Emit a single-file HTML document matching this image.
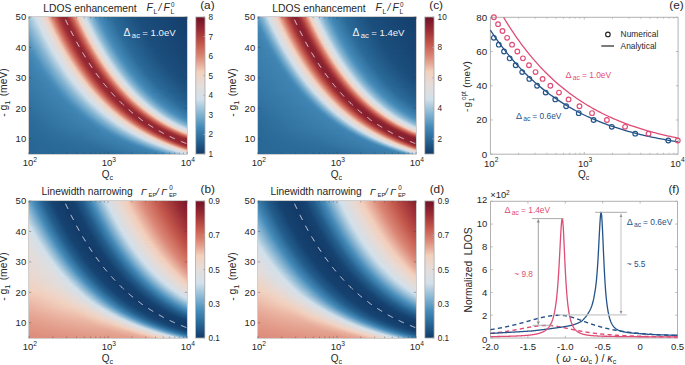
<!DOCTYPE html><html><head><meta charset="utf-8"><style>
*{margin:0;padding:0;box-sizing:border-box}
body{width:685px;height:365px;background:#fff;position:relative;overflow:hidden;font-family:"Liberation Sans",sans-serif;color:#222}
.hm{position:absolute;width:158px;height:137px;display:flex;flex-direction:column}
.hm i{display:block;height:1px;width:158px}
.cb{position:absolute}
.t{position:absolute;white-space:nowrap;line-height:1}
svg{position:absolute;left:0;top:0;font-family:"Liberation Sans",sans-serif}
</style></head><body><div class="hm" style="left:29px;top:17px"><i style="background:linear-gradient(90deg,#9fc4db 0.0%,#d1e0eb 4.1%,#e5dcd9 8.5%,#f1d2c1 11.1%,#f1cab8 11.7%,#d67c6d 14.9%,#c3554a 16.8%,#9f3037 19.3%,#912631 21.2%,#922632 23.1%,#9c2d35 24.4%,#c3564a 26.9%,#db8675 28.8%,#efc4b2 30.7%,#f1d2c1 31.3%,#e4dddb 33.2%,#d1dfeb 35.8%,#8cb9d5 38.9%,#5696c0 42.7%,#4489b8 44.6%,#2a6a99 52.8%,#1c4e7d 68.0%,#15416f 93.4%,#15406e 100.0%)"></i><i style="background:linear-gradient(90deg,#9cc2da 0.0%,#d3e0ea 4.7%,#e6dbd6 9.2%,#f3d0be 11.7%,#d98372 14.9%,#c75b4d 16.8%,#a23439 19.3%,#922732 21.2%,#912631 23.1%,#a03137 25.0%,#c85e50 27.5%,#df8f7e 29.4%,#f3d0bd 31.3%,#e1dede 33.9%,#d4e0ea 35.8%,#86b6d3 39.6%,#5294bf 43.4%,#4288b6 45.3%,#296998 53.5%,#1b4e7d 68.7%,#15416f 94.6%,#15406e 100.0%)"></i><i style="background:linear-gradient(90deg,#99c0d9 0.0%,#d2e0eb 4.7%,#e5dcd9 9.2%,#f1d2c1 11.7%,#f1c9b6 12.3%,#d67b6c 15.5%,#c2544a 17.4%,#9f3036 19.9%,#912631 21.8%,#922732 23.7%,#9d2e35 25.0%,#c4574b 27.5%,#db8776 29.4%,#f0c6b3 31.3%,#f1d2c2 32.0%,#e3dddc 33.9%,#d0dfea 36.4%,#8bb9d4 39.6%,#5596c0 43.4%,#4489b7 45.3%,#2a6a99 53.5%,#1c4e7d 68.7%,#15416f 94.0%,#15406e 100.0%)"></i><i style="background:linear-gradient(90deg,#95bed8 0.0%,#d3e0ea 5.4%,#e7dbd6 9.8%,#f3d0bd 12.3%,#d98171 15.5%,#c6594c 17.4%,#a23338 19.9%,#922732 21.8%,#912631 23.7%,#a13237 25.6%,#bf5148 27.5%,#d06f60 28.8%,#df9180 30.1%,#f3d0be 32.0%,#e1dede 34.5%,#d3e0ea 36.4%,#86b5d2 40.2%,#5193be 44.0%,#4287b6 45.9%,#296998 54.1%,#1b4e7d 69.3%,#15416f 95.3%,#15406e 100.0%)"></i><i style="background:linear-gradient(90deg,#92bcd7 0.0%,#d2e0eb 5.4%,#e5dcd8 9.8%,#f1d1c0 12.3%,#f0c8b5 13.0%,#d57a6b 16.1%,#c15449 18.0%,#9e2f36 20.6%,#912631 22.5%,#922732 24.4%,#9d2e36 25.6%,#c5584b 28.2%,#dc8878 30.1%,#f0c7b5 32.0%,#f0d2c3 32.6%,#e3dddc 34.5%,#cfdeea 37.0%,#8bb8d4 40.2%,#5596c0 44.0%,#4489b7 45.9%,#2a6a99 54.1%,#1c4e7d 69.3%,#15416f 94.6%,#15406e 100.0%)"></i><i style="background:linear-gradient(90deg,#8fbbd6 0.0%,#d3e0ea 6.0%,#e7dbd5 10.4%,#f3cfbc 13.0%,#d88070 16.1%,#c6594c 18.0%,#a13338 20.6%,#922632 22.5%,#912631 24.4%,#a13238 26.3%,#bf5248 28.2%,#d17061 29.4%,#e09281 30.7%,#f2d1be 32.6%,#e0dede 35.1%,#d3e0ea 37.0%,#85b5d2 40.8%,#5193be 44.6%,#4287b5 46.5%,#296998 54.7%,#1b4e7d 69.9%,#15416f 95.9%,#15406e 100.0%)"></i><i style="background:linear-gradient(90deg,#8bb9d4 0.0%,#d2e0eb 6.0%,#e6dcd8 10.4%,#f2d1c0 13.0%,#ebb7a5 14.2%,#d5796a 16.8%,#c05349 18.7%,#9e2f36 21.2%,#912631 23.1%,#932732 25.0%,#9d2f36 26.3%,#c6594c 28.8%,#dc8978 30.7%,#f1c9b6 32.6%,#f0d3c3 33.2%,#e3dddc 35.1%,#cedeea 37.7%,#8ab8d4 40.8%,#5595c0 44.6%,#4389b7 46.5%,#2a6a99 54.7%,#1c4f7d 69.9%,#15416f 95.3%,#15406f 100.0%)"></i><i style="background:linear-gradient(90deg,#88b7d3 0.0%,#cfdeea 6.0%,#e4ddda 10.4%,#f2cebb 13.6%,#d88070 16.8%,#c5584b 18.7%,#a13238 21.2%,#922632 23.1%,#912631 25.0%,#a13338 26.9%,#c05349 28.8%,#d17162 30.1%,#e09382 31.3%,#f2d1bf 33.2%,#e0dede 35.8%,#d3e0ea 37.7%,#85b5d2 41.5%,#5193be 45.3%,#4287b5 47.2%,#296998 55.4%,#1b4e7d 70.6%,#15416f 96.5%,#15406f 100.0%)"></i><i style="background:linear-gradient(90deg,#85b5d2 0.0%,#d2e0eb 6.6%,#e6dcd8 11.1%,#f2d1bf 13.6%,#ebb6a4 14.9%,#d57869 17.4%,#c05248 19.3%,#9d2e36 21.8%,#912631 23.7%,#932732 25.6%,#9e2f36 26.9%,#c6594c 29.4%,#dc8a79 31.3%,#f1c9b7 33.2%,#ebd7cc 34.5%,#dedee1 36.4%,#cdddea 38.3%,#8ab8d4 41.5%,#5495c0 45.3%,#4389b7 47.2%,#2a6a99 55.4%,#1c4f7d 70.6%,#15416f 95.9%,#15416f 100.0%)"></i><i style="background:linear-gradient(90deg,#82b3d1 0.0%,#c7dae7 6.0%,#d4e0e9 7.3%,#e7dad5 11.7%,#f2cdba 14.2%,#d77f6f 17.4%,#c4574b 19.3%,#a13237 21.8%,#922632 23.7%,#912631 25.6%,#a23338 27.5%,#c05349 29.4%,#d98271 31.3%,#f2d1bf 33.9%,#e0dedf 36.4%,#d3e0ea 38.3%,#85b4d2 42.1%,#5193be 45.9%,#4287b5 47.8%,#296998 56.0%,#1b4e7d 71.2%,#15416f 97.2%,#15416f 100.0%)"></i><i style="background:linear-gradient(90deg,#7fb1d0 0.0%,#c2d7e6 6.0%,#d3e0ea 7.3%,#e6dbd7 11.7%,#f2d1bf 14.2%,#e6a593 16.1%,#ce6b5c 18.7%,#bf5248 19.9%,#9d2e36 22.5%,#912631 24.4%,#932732 26.3%,#a6383b 28.2%,#c65a4c 30.1%,#dd8a79 32.0%,#f1cab7 33.9%,#ebd7cd 35.1%,#dedee1 37.0%,#cddde9 38.9%,#8ab8d4 42.1%,#5495bf 45.9%,#4389b7 47.8%,#2a6a99 56.0%,#1c4f7d 71.2%,#15416f 96.5%,#15416f 100.0%)"></i><i style="background:linear-gradient(90deg,#7cafcf 0.0%,#bed5e5 6.0%,#d0dfea 7.3%,#e4ddda 11.7%,#f2cdba 14.9%,#d77e6f 18.0%,#c4574b 19.9%,#a03237 22.5%,#922632 24.4%,#912632 26.3%,#a23338 28.2%,#c05349 30.1%,#d98272 32.0%,#f2d1bf 34.5%,#e0dedf 37.0%,#d3e0ea 38.9%,#84b4d2 42.7%,#5193be 46.5%,#4287b5 48.4%,#296998 56.6%,#1b4e7d 71.8%,#15416f 97.8%,#15416f 100.0%)"></i><i style="background:linear-gradient(90deg,#79adce 0.0%,#bad3e3 6.0%,#d3e0ea 7.9%,#e6dbd7 12.3%,#f2d1bf 14.9%,#e5a593 16.8%,#ce6a5c 19.3%,#bf5248 20.6%,#9d2e36 23.1%,#902531 25.0%,#932732 26.9%,#a6383b 28.8%,#c65a4d 30.7%,#dd8a7a 32.6%,#f1cab7 34.5%,#ebd7cd 35.8%,#dedee1 37.7%,#cddde9 39.6%,#8ab8d4 42.7%,#5495bf 46.5%,#4389b7 48.4%,#2a6a99 56.6%,#1c4f7d 71.8%,#15416f 97.2%,#15416f 100.0%)"></i><i style="background:linear-gradient(90deg,#76abcc 0.0%,#b6d0e2 6.0%,#d0dfea 7.9%,#e5ddda 12.3%,#f2ccba 15.5%,#d77e6e 18.7%,#c4574b 20.6%,#a03137 23.1%,#912632 25.0%,#912632 26.9%,#a23338 28.8%,#c15349 30.7%,#d98272 32.6%,#f2d1bf 35.1%,#e0dedf 37.7%,#d3e0ea 39.6%,#84b4d2 43.4%,#5193be 47.2%,#4287b5 49.1%,#296998 57.3%,#1b4e7d 72.5%,#15416f 98.4%,#15416f 100.0%)"></i><i style="background:linear-gradient(90deg,#73a9cb 0.0%,#b2cee1 6.0%,#d3e0ea 8.5%,#e6dbd7 13.0%,#f2d1bf 15.5%,#e5a493 17.4%,#ce6a5c 19.9%,#bf5148 21.2%,#9d2e35 23.7%,#902531 25.6%,#932732 27.5%,#a6383b 29.4%,#c65a4d 31.3%,#dd8a7a 33.2%,#f1cab7 35.1%,#ebd7cd 36.4%,#dedee1 38.3%,#cddde9 40.2%,#8ab8d4 43.4%,#5495c0 47.2%,#4389b7 49.1%,#2a6a99 57.3%,#1c4f7d 72.5%,#154170 97.8%,#15416f 100.0%)"></i><i style="background:linear-gradient(90deg,#70a7ca 0.0%,#aeccdf 6.0%,#d0dfea 8.5%,#e5ddda 13.0%,#f2ccb9 16.1%,#d77e6e 19.3%,#c4574b 21.2%,#a03137 23.7%,#912632 25.6%,#912632 27.5%,#a23338 29.4%,#c05349 31.3%,#d98272 33.2%,#f2d1bf 35.8%,#e0dedf 38.3%,#d3e0ea 40.2%,#85b5d2 44.0%,#5193be 47.8%,#4287b5 49.7%,#296998 57.9%,#1b4e7d 73.1%,#15416f 99.1%,#15416f 100.0%)"></i><i style="background:linear-gradient(90deg,#6da5c9 0.0%,#aacade 6.0%,#d3e0ea 9.2%,#e6dbd7 13.6%,#f2d1bf 16.1%,#e5a493 18.0%,#ce6a5c 20.6%,#bf5148 21.8%,#9d2e35 24.4%,#902531 26.3%,#932732 28.2%,#a6383b 30.1%,#c6594c 32.0%,#dd8a79 33.9%,#f1cab7 35.8%,#ebd7cc 37.0%,#dedee1 38.9%,#cedeea 40.8%,#8ab8d4 44.0%,#5596c0 47.8%,#4489b7 49.7%,#2a6a99 57.9%,#1c4f7d 73.1%,#154170 98.4%,#15416f 100.0%)"></i><i style="background:linear-gradient(90deg,#6aa3c8 0.0%,#a6c8dd 6.0%,#d0dfea 9.2%,#e5ddda 13.6%,#f2ccba 16.8%,#d77e6e 19.9%,#c4574b 21.8%,#a03137 24.4%,#922632 26.3%,#912631 28.2%,#a23338 30.1%,#c05349 32.0%,#d98171 33.9%,#f2d1bf 36.4%,#e0dede 38.9%,#d3e0ea 40.8%,#85b5d2 44.6%,#5193be 48.4%,#4287b6 50.3%,#296998 58.5%,#1c4e7d 73.7%,#154170 99.1%,#15416f 100.0%)"></i><i style="background:linear-gradient(90deg,#67a2c7 0.0%,#aacade 6.6%,#d3e0ea 9.8%,#e6dbd7 14.2%,#f2d1bf 16.8%,#e5a593 18.7%,#ce6a5c 21.2%,#bf5248 22.5%,#9d2e36 25.0%,#902631 26.9%,#932732 28.8%,#9e2f36 30.1%,#c6594c 32.6%,#dc8a79 34.5%,#f1c9b6 36.4%,#ebd7cc 37.7%,#dedee0 39.6%,#cedeea 41.5%,#8bb8d4 44.6%,#5596c0 48.4%,#4489b7 50.3%,#2a6a99 58.5%,#1c4f7d 73.7%,#154270 99.1%,#154170 100.0%)"></i><i style="background:linear-gradient(90deg,#64a0c6 0.0%,#a6c7dd 6.6%,#d0dfea 9.8%,#e4ddda 14.2%,#f2cdba 17.4%,#d77e6f 20.6%,#c4574b 22.5%,#a03237 25.0%,#922632 26.9%,#912631 28.8%,#a13338 30.7%,#c05249 32.6%,#d17062 33.9%,#e09382 35.1%,#f2d1be 37.0%,#e0dede 39.6%,#d3e0ea 41.5%,#86b5d2 45.3%,#5294be 49.1%,#4288b6 50.9%,#2a6998 59.2%,#1c4f7d 74.4%,#154270 100.0%)"></i><i style="background:linear-gradient(90deg,#629ec5 0.0%,#a2c5dc 6.6%,#d3e0ea 10.4%,#e6dbd7 14.9%,#f2d1bf 17.4%,#ebb6a3 18.7%,#d47869 21.2%,#c85d50 22.5%,#9d2e36 25.6%,#912631 27.5%,#932732 29.4%,#9d2e36 30.7%,#c5584c 33.2%,#dc8978 35.1%,#f0c8b5 37.0%,#f0d2c3 37.7%,#e3dddc 39.6%,#cfdeea 42.1%,#8bb9d4 45.3%,#5696c0 49.1%,#448ab8 50.9%,#2a6a99 59.2%,#1c4f7d 74.4%,#164270 100.0%)"></i><i style="background:linear-gradient(90deg,#5f9cc3 0.0%,#9ec3da 6.6%,#cfdfea 10.4%,#e4ddda 14.9%,#f2cdba 18.0%,#d87f6f 21.2%,#c5574b 23.1%,#a13238 25.6%,#922632 27.5%,#912631 29.4%,#a13238 31.3%,#bf5248 33.2%,#d06f61 34.5%,#df9280 35.8%,#f3d0be 37.7%,#e1dede 40.2%,#d3e0ea 42.1%,#86b6d3 45.9%,#5294bf 49.7%,#4388b6 51.6%,#2a6998 59.8%,#1c4f7d 75.0%,#164270 100.0%)"></i><i style="background:linear-gradient(90deg,#5c9ac2 0.0%,#9ac1d9 6.6%,#d2e0eb 11.1%,#e6dcd8 15.5%,#f2d1bf 18.0%,#ebb6a4 19.3%,#d57969 21.8%,#c05249 23.7%,#9d2f36 26.3%,#912631 28.2%,#922732 30.1%,#9d2e36 31.3%,#c5584b 33.9%,#dc8877 35.8%,#f0c6b4 37.7%,#f0d2c2 38.3%,#e3dddc 40.2%,#d0dfea 42.7%,#8cb9d5 45.9%,#5696c0 49.7%,#448ab8 51.6%,#2a6a99 59.8%,#1c4f7e 75.0%,#164270 100.0%)"></i><i style="background:linear-gradient(90deg,#5999c1 0.0%,#96bfd8 6.6%,#cfdeea 11.1%,#e4dddb 15.5%,#f2cebb 18.7%,#d88070 21.8%,#c5584c 23.7%,#a13238 26.3%,#922632 28.2%,#912631 30.1%,#a03237 32.0%,#c85e51 34.5%,#df907f 36.4%,#f3d0bd 38.3%,#e1ddde 40.8%,#d4e0e9 42.7%,#87b6d3 46.5%,#5394bf 50.3%,#4388b6 52.2%,#2a6a99 60.4%,#1c4f7d 75.6%,#164270 100.0%)"></i><i style="background:linear-gradient(90deg,#5797c0 0.0%,#9ac1d9 7.3%,#d2e0eb 11.7%,#e5dcd8 16.1%,#f2d1c0 18.7%,#ebb7a5 19.9%,#d5796a 22.5%,#c05349 24.4%,#9e2f36 26.9%,#912631 28.8%,#922732 30.7%,#9c2d35 32.0%,#c4574b 34.5%,#db8676 36.4%,#efc5b2 38.3%,#f1d2c1 38.9%,#e4dddb 40.8%,#d2e0eb 43.4%,#8dbad5 46.5%,#5797c0 50.3%,#458ab8 52.2%,#2b6b99 60.4%,#1c4f7e 75.6%,#164270 100.0%)"></i><i style="background:linear-gradient(90deg,#5495bf 0.0%,#96bfd8 7.3%,#d3e0ea 12.3%,#e7dbd5 16.8%,#f3cfbc 19.3%,#d88171 22.5%,#c6594c 24.4%,#a23338 26.9%,#922632 28.8%,#912631 30.7%,#a03137 32.6%,#c85d50 35.1%,#de8e7d 37.0%,#f2cebb 38.9%,#e2dddd 41.5%,#d4e0e9 43.4%,#bcd4e4 44.6%,#7eb0cf 47.8%,#4d90bd 51.6%,#3e82b1 54.1%,#256493 63.6%,#1a4c7a 79.4%,#164270 100.0%)"></i><i style="background:linear-gradient(90deg,#5193be 0.0%,#92bcd7 7.3%,#d2e0eb 12.3%,#e5dcd8 16.8%,#f1d1c0 19.3%,#f1c8b5 19.9%,#d57b6b 23.1%,#c15449 25.0%,#9e2f36 27.5%,#912631 29.4%,#922632 31.3%,#9c2d35 32.6%,#c3554a 35.1%,#da8574 37.0%,#efc3b0 38.9%,#f1d1c0 39.6%,#e4dddb 41.5%,#d2e0eb 44.0%,#8fbbd6 47.2%,#5898c1 50.9%,#458bb9 52.8%,#2b6b9a 61.1%,#1c4f7e 76.3%,#164270 100.0%)"></i><i style="background:linear-gradient(90deg,#4f92bd 0.0%,#8ebad5 7.3%,#d3e0ea 13.0%,#e7dbd6 17.4%,#f3d0bd 19.9%,#d98272 23.1%,#c65a4d 25.0%,#a23338 27.5%,#922732 29.4%,#902531 31.3%,#9f3037 33.2%,#c75b4e 35.8%,#de8c7b 37.7%,#f2ccb9 39.6%,#e2dddd 42.1%,#cddde9 44.6%,#8ab8d4 47.8%,#5595c0 51.6%,#4489b7 53.5%,#2a6a99 61.7%,#1c4f7e 76.9%,#164271 100.0%)"></i><i style="background:linear-gradient(90deg,#4c90bc 0.0%,#8ab8d4 7.3%,#d2e0eb 13.0%,#e5dcd9 17.4%,#f1d2c1 19.9%,#f1cab7 20.6%,#d67c6c 23.7%,#c2554a 25.6%,#9f3037 28.2%,#912631 30.1%,#912632 32.0%,#a23439 33.9%,#c15449 35.8%,#d98372 37.7%,#f2d1bf 40.2%,#e0dedf 42.7%,#d3e0ea 44.6%,#85b5d2 48.4%,#5294be 52.2%,#4288b6 54.1%,#2a6998 62.3%,#1c4f7d 77.5%,#164371 100.0%)"></i><i style="background:linear-gradient(90deg,#4a8fbc 0.0%,#80b2d0 6.6%,#c4d8e6 12.3%,#d3e0ea 13.6%,#e6dbd7 18.0%,#f3d0be 20.6%,#da8373 23.7%,#c75b4e 25.6%,#9c2d35 28.8%,#902531 30.7%,#932732 32.6%,#a6383b 34.5%,#c6594c 36.4%,#dd8a79 38.3%,#f1c9b6 40.2%,#ebd7cc 41.5%,#dedee0 43.4%,#cfdeea 45.3%,#8bb9d4 48.4%,#5696c0 52.2%,#448ab8 54.1%,#2a6a99 62.3%,#1c4f7e 77.5%,#164371 100.0%)"></i><i style="background:linear-gradient(90deg,#488dbb 0.0%,#7dafcf 6.6%,#bfd5e5 12.3%,#d1dfeb 13.6%,#e5dcda 18.0%,#f1d2c2 20.6%,#f2cbb9 21.2%,#d77d6e 24.4%,#c3564b 26.3%,#a03137 28.8%,#912632 30.7%,#912631 32.6%,#a13338 34.5%,#c05248 36.4%,#d17061 37.7%,#e09281 38.9%,#f3d0be 40.8%,#e1dede 43.4%,#d3e0ea 45.3%,#87b6d3 49.1%,#5394bf 52.8%,#4388b6 54.7%,#2a6a99 63.0%,#1c4f7e 78.2%,#164371 100.0%)"></i><i style="background:linear-gradient(90deg,#468cba 0.0%,#79adce 6.6%,#bad3e3 12.3%,#d3e0ea 14.2%,#e6dbd7 18.7%,#f2d1bf 21.2%,#e5a593 23.1%,#ce6a5c 25.6%,#bf5148 26.9%,#9d2e36 29.4%,#902631 31.3%,#922732 33.2%,#9d2e36 34.5%,#c5584b 37.0%,#db8777 38.9%,#f0c6b3 40.8%,#f1d2c2 41.5%,#e3dddb 43.4%,#d1e0eb 45.9%,#8dbad5 49.1%,#5797c1 52.8%,#458ab8 54.7%,#2b6b9a 63.0%,#1c507e 78.2%,#164371 100.0%)"></i><i style="background:linear-gradient(90deg,#458bb9 0.0%,#6aa3c8 5.4%,#a5c7dd 11.1%,#cfdfea 14.2%,#e4ddda 18.7%,#f2cdbb 21.8%,#d87f6f 25.0%,#c5584b 26.9%,#a13238 29.4%,#922632 31.3%,#912631 33.2%,#a03137 35.1%,#c85e50 37.7%,#df8f7e 39.6%,#f3cfbc 41.5%,#e1dddd 44.0%,#d4e0e9 45.9%,#bcd4e4 47.2%,#7eb0d0 50.3%,#4d91bd 54.1%,#3e83b1 56.6%,#266493 66.1%,#1a4c7b 82.0%,#164371 100.0%)"></i><i style="background:linear-gradient(90deg,#4489b7 0.0%,#5c9ac2 4.1%,#9ac1d9 10.4%,#d2e0eb 14.9%,#e6dcd8 19.3%,#f2d1c0 21.8%,#ebb7a5 23.1%,#d5796a 25.6%,#c05349 27.5%,#9e2f36 30.1%,#912631 32.0%,#922632 33.9%,#9c2d35 35.1%,#c3554a 37.7%,#da8574 39.6%,#efc2b0 41.5%,#f1d1c0 42.1%,#e4ddda 44.0%,#d2e0eb 46.5%,#8fbbd6 49.7%,#5898c1 53.5%,#4288b6 56.0%,#2a6a98 64.2%,#1c4f7e 79.4%,#164371 100.0%)"></i><i style="background:linear-gradient(90deg,#4388b6 0.0%,#4f92bd 2.8%,#8ebad5 9.8%,#d3e0ea 15.5%,#e7dbd6 19.9%,#f3d0bd 22.5%,#d98171 25.6%,#c6594c 27.5%,#a23338 30.1%,#922732 32.0%,#932732 34.5%,#a7393b 36.4%,#c75b4e 38.3%,#dd8b7b 40.2%,#f1cbb8 42.1%,#e7dbd6 44.0%,#d5e0e8 46.5%,#cedeea 47.2%,#8bb8d4 50.3%,#5696c0 54.1%,#448ab8 56.0%,#2b6b99 64.2%,#1c4f7e 79.4%,#164372 100.0%)"></i><i style="background:linear-gradient(90deg,#4287b5 0.0%,#5193be 3.5%,#91bcd6 10.4%,#d2e0eb 15.5%,#e5dcd9 19.9%,#f1d2c1 22.5%,#f1c9b7 23.1%,#d67c6c 26.3%,#c2554a 28.2%,#9f3037 30.7%,#912631 32.6%,#912632 34.5%,#a23338 36.4%,#c05349 38.3%,#d98271 40.2%,#f2d1bf 42.7%,#e0dede 45.3%,#d3e0ea 47.2%,#87b6d3 50.9%,#5394bf 54.7%,#4388b6 56.6%,#2a6a99 64.9%,#1c4f7e 80.1%,#164472 100.0%)"></i><i style="background:linear-gradient(90deg,#4186b4 0.0%,#4a8fbc 2.8%,#80b2d0 9.2%,#c4d8e6 14.9%,#d3e0ea 16.1%,#e6dbd7 20.6%,#f2d0be 23.1%,#da8373 26.3%,#c75b4e 28.2%,#9c2d35 31.3%,#902531 33.2%,#932732 35.1%,#9d2f36 36.4%,#c5584c 38.9%,#dc8877 40.8%,#f0c7b4 42.7%,#f0d2c2 43.4%,#e3dddc 45.3%,#d1dfeb 47.8%,#8dbad5 50.9%,#5797c1 54.7%,#458ab8 56.6%,#2b6b9a 64.9%,#1c507e 80.1%,#174472 100.0%)"></i><i style="background:linear-gradient(90deg,#4085b3 0.0%,#4c90bc 3.5%,#89b7d4 10.4%,#d0dfea 16.1%,#e5dcda 20.6%,#f2ccb9 23.7%,#d77e6e 26.9%,#c4574b 28.8%,#a03137 31.3%,#912632 33.2%,#912631 35.1%,#a03237 37.0%,#c85e51 39.6%,#df8f7e 41.5%,#f3cfbc 43.4%,#e1dddd 45.9%,#d4e0e9 47.8%,#bcd4e4 49.1%,#7fb1d0 52.2%,#4e91bd 56.0%,#3c80ae 59.2%,#246190 69.3%,#1a4a79 86.4%,#174472 100.0%)"></i><i style="background:linear-gradient(90deg,#4084b2 0.0%,#498ebb 3.5%,#7fb1d0 9.8%,#c2d7e6 15.5%,#d2e0eb 16.8%,#e6dcd8 21.2%,#f2d1bf 23.7%,#ebb6a4 25.0%,#d57969 27.5%,#c05249 29.4%,#9d2f36 32.0%,#912631 33.9%,#922632 35.8%,#9c2d35 37.0%,#c3554a 39.6%,#da8474 41.5%,#efc2b0 43.4%,#f1d1c0 44.0%,#e4ddda 45.9%,#d3e0ea 48.4%,#85b5d2 52.2%,#5294bf 56.0%,#4388b6 57.9%,#2a6a99 66.1%,#1c4f7e 81.3%,#174472 100.0%)"></i><i style="background:linear-gradient(90deg,#3f83b2 0.0%,#4b8fbc 4.1%,#88b7d3 11.1%,#d3e0ea 17.4%,#e7dbd5 21.8%,#f3cfbc 24.4%,#d88171 27.5%,#c6594c 29.4%,#a23338 32.0%,#922732 33.9%,#932732 36.4%,#a7383b 38.3%,#c75b4d 40.2%,#dd8b7a 42.1%,#f1cab7 44.0%,#ebd7cd 45.3%,#dedee0 47.2%,#cfdeea 49.1%,#8cb9d5 52.2%,#5697c0 56.0%,#448ab8 57.9%,#2b6b9a 66.1%,#1c507e 81.3%,#174472 100.0%)"></i><i style="background:linear-gradient(90deg,#3e83b1 0.0%,#488ebb 4.1%,#7db0cf 10.4%,#c0d6e5 16.1%,#d2e0eb 17.4%,#e5dcd9 21.8%,#f1d2c1 24.4%,#f1c9b6 25.0%,#d67b6c 28.2%,#c2554a 30.1%,#9f3037 32.6%,#912631 34.5%,#912631 36.4%,#a23338 38.3%,#c05249 40.2%,#d17061 41.5%,#e09281 42.7%,#f3d0be 44.6%,#e1dede 47.2%,#d4e0ea 49.1%,#88b6d3 52.8%,#5495bf 56.6%,#4389b7 58.5%,#2a6a99 66.8%,#1c507e 82.0%,#174473 100.0%)"></i><i style="background:linear-gradient(90deg,#3e82b0 0.0%,#4a8fbc 4.7%,#80b1d0 11.1%,#c3d8e6 16.8%,#d3e0ea 18.0%,#e6dbd7 22.5%,#f2d0be 25.0%,#da8473 28.2%,#c75c4f 30.1%,#9c2d35 33.2%,#902531 35.1%,#922732 37.0%,#9d2e35 38.3%,#c4574b 40.8%,#db8776 42.7%,#efc5b2 44.6%,#f1d2c1 45.3%,#e4dddb 47.2%,#d2e0eb 49.7%,#8fbbd6 52.8%,#5898c1 56.6%,#4288b6 59.2%,#2a6a99 67.4%,#1c4f7e 82.6%,#174573 100.0%)"></i><i style="background:linear-gradient(90deg,#3d81b0 0.0%,#478dbb 4.7%,#7cafcf 11.1%,#bed5e5 16.8%,#d0dfea 18.0%,#e4ddda 22.5%,#f2cdba 25.6%,#d77f6f 28.8%,#c4574b 30.7%,#a03237 33.2%,#922632 35.1%,#942832 37.7%,#a83a3c 39.6%,#c85c4f 41.5%,#de8d7c 43.4%,#f2ccb9 45.3%,#e2dddd 47.8%,#cddde9 50.3%,#8bb8d4 53.5%,#5696c0 57.3%,#448ab8 59.2%,#2b6b9a 67.4%,#1c507e 82.6%,#174573 100.0%)"></i><i style="background:linear-gradient(90deg,#3d81af 0.0%,#498ebb 5.4%,#7eb0d0 11.7%,#c1d7e6 17.4%,#d2e0eb 18.7%,#e5dcd8 23.1%,#f2d1c0 25.6%,#ebb7a5 26.9%,#d57a6a 29.4%,#c05349 31.3%,#9e2f36 33.9%,#912631 35.8%,#922632 37.7%,#a23439 39.6%,#c15449 41.5%,#d98272 43.4%,#f2d1bf 45.9%,#e0dede 48.4%,#d3e0ea 50.3%,#87b6d3 54.1%,#5395bf 57.9%,#4389b7 59.8%,#2a6a99 68.0%,#1c507e 83.2%,#174573 100.0%)"></i><i style="background:linear-gradient(90deg,#3c80ae 0.0%,#4a8fbc 6.0%,#81b2d0 12.3%,#c5d9e7 18.0%,#d3e0ea 19.3%,#e7dbd6 23.7%,#f3d0bd 26.3%,#d98272 29.4%,#c75a4d 31.3%,#a23438 33.9%,#922732 35.8%,#932732 38.3%,#a5373a 40.2%,#c5584c 42.1%,#dc8877 44.0%,#f0c6b4 45.9%,#f1d2c2 46.5%,#e4dddb 48.4%,#d2e0eb 50.9%,#8ebad5 54.1%,#5898c1 57.9%,#4288b6 60.4%,#296897 69.3%,#1b4e7d 85.1%,#174573 100.0%)"></i><i style="background:linear-gradient(90deg,#3c80ae 0.0%,#488dbb 6.0%,#7dafcf 12.3%,#bfd5e5 18.0%,#d1dfeb 19.3%,#e5dcd9 23.7%,#f1d2c2 26.3%,#f1cbb8 26.9%,#d77d6d 30.1%,#c3564a 32.0%,#a03137 34.5%,#912632 36.4%,#942832 38.9%,#a93a3c 40.8%,#c85d50 42.7%,#de8e7d 44.6%,#f2cdba 46.5%,#e2dddd 49.1%,#cddde9 51.6%,#8bb8d4 54.7%,#5696c0 58.5%,#448ab8 60.4%,#2b6b9a 68.7%,#1c507f 83.9%,#174574 100.0%)"></i><i style="background:linear-gradient(90deg,#3b7fae 0.0%,#498ebb 6.6%,#7fb1d0 13.0%,#c2d7e6 18.7%,#d3e0eb 19.9%,#e6dbd8 24.4%,#f2d1bf 26.9%,#ebb6a4 28.2%,#d47869 30.7%,#bf5248 32.6%,#9d2e36 35.1%,#912631 37.0%,#922632 38.9%,#a33439 40.8%,#c15449 42.7%,#d98372 44.6%,#f2d1bf 47.2%,#e0dede 49.7%,#d3e0ea 51.6%,#87b6d3 55.4%,#5495bf 59.2%,#4389b7 61.1%,#2a6a99 69.3%,#1c507e 84.5%,#174674 100.0%)"></i><i style="background:linear-gradient(90deg,#3b7fad 0.0%,#478cba 6.6%,#7baece 13.0%,#bdd4e4 18.7%,#d3e0ea 20.6%,#e7dbd6 25.0%,#f3d0bd 27.5%,#d88171 30.7%,#c6594c 32.6%,#a23338 35.1%,#922732 37.0%,#932732 39.6%,#a6373a 41.5%,#c5584c 43.4%,#dc8878 45.3%,#f0c7b4 47.2%,#f1d2c2 47.8%,#e4dddb 49.7%,#d2e0eb 52.2%,#8fbbd5 55.4%,#5898c1 59.2%,#4388b6 61.7%,#296897 70.6%,#1c4e7d 86.4%,#184674 100.0%)"></i><i style="background:linear-gradient(90deg,#3b7ead 0.0%,#488dbb 7.3%,#7db0cf 13.6%,#bfd6e5 19.3%,#d1e0eb 20.6%,#e5dcd9 25.0%,#f1d2c1 27.5%,#f1cab8 28.2%,#d67c6d 31.3%,#c3554a 33.2%,#9f3137 35.8%,#912631 37.7%,#942832 40.2%,#a93a3c 42.1%,#c85d50 44.0%,#de8e7d 45.9%,#f2cdba 47.8%,#e2dddd 50.3%,#cddde9 52.8%,#8bb9d4 56.0%,#5697c0 59.8%,#448ab8 61.7%,#2b6b9a 69.9%,#1c507f 85.1%,#184674 100.0%)"></i><i style="background:linear-gradient(90deg,#3b7eac 0.0%,#468cba 7.3%,#79adcd 13.6%,#bad3e3 19.3%,#d3e0ea 21.2%,#e6dbd7 25.6%,#f2d1bf 28.2%,#e6a593 30.1%,#ce6a5c 32.6%,#bf5248 33.9%,#9d2e36 36.4%,#912631 38.3%,#922632 40.2%,#a33439 42.1%,#c15449 44.0%,#d98272 45.9%,#f2d1bf 48.4%,#e0dede 50.9%,#d3e0ea 52.8%,#88b7d3 56.6%,#5495bf 60.4%,#4489b7 62.3%,#2b6b9a 70.6%,#1c507f 85.8%,#184675 100.0%)"></i><i style="background:linear-gradient(90deg,#3a7eac 0.0%,#478cba 7.9%,#7baece 14.2%,#bdd4e4 19.9%,#d3e0ea 21.8%,#e7dbd5 26.3%,#f3cfbc 28.8%,#d88171 32.0%,#c6594c 33.9%,#a23338 36.4%,#922732 38.3%,#932732 40.8%,#a5373a 42.7%,#c5584b 44.6%,#db8777 46.5%,#f0c6b3 48.4%,#f1d2c2 49.1%,#e4dddb 50.9%,#d2e0eb 53.5%,#8fbbd6 56.6%,#5998c1 60.4%,#4388b6 63.0%,#2a6a99 71.2%,#1c4f7e 87.0%,#184775 100.0%)"></i><i style="background:linear-gradient(90deg,#3a7dac 0.0%,#458bb9 7.9%,#6ba4c8 13.0%,#a7c8dd 18.7%,#d1e0eb 21.8%,#e5dcd9 26.3%,#f1d2c1 28.8%,#f1cab8 29.4%,#d67c6d 32.6%,#c3554a 34.5%,#9f3137 37.0%,#912631 38.9%,#942832 41.5%,#a83a3c 43.4%,#c85c4f 45.3%,#de8c7c 47.2%,#f2ccb9 49.1%,#e2dddc 51.6%,#cedeea 54.1%,#8cb9d5 57.3%,#5797c1 61.1%,#4287b5 63.6%,#296897 72.5%,#1c4f7d 88.3%,#184775 100.0%)"></i><i style="background:linear-gradient(90deg,#3a7dac 0.0%,#4489b8 7.9%,#5c9ac2 11.7%,#9ac1d9 18.0%,#d3e0ea 22.5%,#e6dbd7 26.9%,#f2d1bf 29.4%,#ebb6a3 30.7%,#d47869 33.2%,#bf5248 35.1%,#9d2e36 37.7%,#912631 39.6%,#912632 41.5%,#a23338 43.4%,#c05349 45.3%,#d88171 47.2%,#f3d0be 49.7%,#e1dede 52.2%,#d4e0e9 54.1%,#7fb1d0 58.5%,#4e91bd 62.3%,#3f83b2 64.9%,#266594 74.4%,#1b4d7c 90.2%,#184776 100.0%)"></i><i style="background:linear-gradient(90deg,#3a7dab 0.0%,#448ab8 8.5%,#639fc5 13.0%,#a4c7dc 19.3%,#d3e0ea 23.1%,#e7dbd6 27.5%,#f3d0bd 30.1%,#d98171 33.2%,#c65a4d 35.1%,#a23338 37.7%,#922732 39.6%,#922732 42.1%,#9d2e35 43.4%,#c4574b 45.9%,#db8675 47.8%,#efc3b1 49.7%,#f1d1c0 50.3%,#e4ddda 52.2%,#d3e0ea 54.7%,#86b6d3 58.5%,#5395bf 62.3%,#4389b7 64.2%,#2b6b9a 72.5%,#1c507e 88.3%,#184876 100.0%)"></i><i style="background:linear-gradient(90deg,#397dab 0.0%,#4389b7 8.5%,#5596c0 11.7%,#98c0d8 18.7%,#d1dfeb 23.1%,#e5dcda 27.5%,#f1d2c2 30.1%,#f2cbb8 30.7%,#d77d6e 33.9%,#c3564b 35.8%,#a03137 38.3%,#912632 40.2%,#932732 42.7%,#a7393b 44.6%,#c75a4d 46.5%,#dd8a7a 48.4%,#f1c9b6 50.3%,#ecd6cc 51.6%,#dedee0 53.5%,#d1dfeb 55.4%,#8ebad5 58.5%,#5998c1 62.3%,#4388b6 64.9%,#296998 73.7%,#1c4f7e 89.6%,#184876 100.0%)"></i><i style="background:linear-gradient(90deg,#397cab 0.0%,#4287b6 8.5%,#5294bf 11.7%,#92bdd7 18.7%,#d2e0eb 23.7%,#e6dcd8 28.2%,#f2d1c0 30.7%,#ebb7a5 32.0%,#d5796a 34.5%,#c05349 36.4%,#9e2f36 38.9%,#912631 40.8%,#952833 43.4%,#aa3b3c 45.3%,#c95f51 47.2%,#df8f7e 49.1%,#f3cfbc 50.9%,#e2dddd 53.5%,#cddde9 56.0%,#8bb9d4 59.2%,#5797c0 63.0%,#458ab9 64.9%,#2b6c9a 73.1%,#1d517f 88.3%,#194877 100.0%)"></i><i style="background:linear-gradient(90deg,#397cab 0.0%,#4388b6 9.2%,#4f92bd 11.7%,#8dbad5 18.7%,#d3e0ea 24.4%,#e6dbd6 28.8%,#f3d0be 31.3%,#d98373 34.5%,#c75b4e 36.4%,#9c2d35 39.6%,#902531 41.5%,#922632 43.4%,#9c2d35 44.6%,#c2554a 47.2%,#d98373 49.1%,#f2d1bf 51.6%,#e1dede 54.1%,#d4e0ea 56.0%,#89b7d3 59.8%,#5596c0 63.6%,#448ab8 65.5%,#2b6b9a 73.7%,#1c507f 89.6%,#194977 100.0%)"></i><i style="background:linear-gradient(90deg,#397caa 0.0%,#4287b5 9.2%,#5092be 12.3%,#8fbbd6 19.3%,#d0dfea 24.4%,#e4ddda 28.8%,#f2cdba 32.0%,#d87f6f 35.1%,#c5584b 37.0%,#a13238 39.6%,#922632 41.5%,#932732 44.0%,#a5373a 45.9%,#c5584b 47.8%,#db8777 49.7%,#efc5b2 51.6%,#f1d2c1 52.2%,#e4dddb 54.1%,#d3e0ea 56.6%,#86b5d2 60.4%,#5495bf 64.2%,#4389b7 66.1%,#2b6b9a 74.4%,#1c507f 90.2%,#194977 100.0%)"></i><i style="background:linear-gradient(90deg,#397caa 0.0%,#4287b5 9.8%,#5193be 13.0%,#91bcd6 19.9%,#d2e0eb 25.0%,#e5dcd9 29.4%,#f1d2c1 32.0%,#f1c9b6 32.6%,#d67b6c 35.8%,#c2554a 37.7%,#9f3037 40.2%,#912631 42.1%,#942832 44.6%,#a8393b 46.5%,#c75b4e 48.4%,#dd8b7a 50.3%,#f1cab7 52.2%,#ebd7cc 53.5%,#dedee0 55.4%,#d1dfeb 57.3%,#8ebad5 60.4%,#5998c1 64.2%,#4388b6 66.8%,#296998 75.6%,#1c4f7e 91.5%,#194978 100.0%)"></i><i style="background:linear-gradient(90deg,#387baa 0.0%,#4186b4 9.8%,#4e91bd 13.0%,#8cb9d5 19.9%,#d3e0ea 25.6%,#e6dbd7 30.1%,#f2d1bf 32.6%,#e5a593 34.5%,#ce6a5c 37.0%,#bf5248 38.3%,#9d2e36 40.8%,#912631 42.7%,#952833 45.3%,#aa3c3d 47.2%,#c95f52 49.1%,#df907f 50.9%,#f3cfbc 52.8%,#e2dddd 55.4%,#cddde9 57.9%,#8cb9d5 61.1%,#5797c1 64.9%,#4288b6 67.4%,#296998 76.3%,#1c4f7e 92.1%,#194a78 100.0%)"></i><i style="background:linear-gradient(90deg,#387baa 0.0%,#4186b4 10.4%,#4b8fbc 13.0%,#81b2d1 19.3%,#c5d9e7 25.0%,#d3e0ea 26.3%,#e7dbd6 30.7%,#f3d0bd 33.2%,#d98271 36.4%,#c65a4d 38.3%,#a23338 40.8%,#922732 42.7%,#922632 45.3%,#9c2d35 46.5%,#c2554a 49.1%,#d98372 50.9%,#f2d1bf 53.5%,#e1dede 56.0%,#d4e0e9 57.9%,#7fb1d0 62.3%,#4f92be 66.1%,#3f84b2 68.7%,#276695 78.2%,#1b4e7c 94.6%,#194a78 100.0%)"></i><i style="background:linear-gradient(90deg,#387ba9 0.0%,#4085b3 10.4%,#4c90bc 13.6%,#89b7d4 20.6%,#d0dfea 26.3%,#e5ddda 30.7%,#f2ccb9 33.9%,#d77e6e 37.0%,#c4574b 38.9%,#a03237 41.5%,#922632 43.4%,#932732 45.9%,#a5373a 47.8%,#c4574b 49.7%,#db8676 51.6%,#efc3b1 53.5%,#f1d2c1 54.1%,#e4ddda 56.0%,#d3e0ea 58.5%,#87b6d3 62.3%,#5596c0 66.1%,#448ab8 68.0%,#2b6c9a 76.3%,#1d517f 92.1%,#1a4b79 100.0%)"></i><i style="background:linear-gradient(90deg,#387ba9 0.0%,#4185b4 11.1%,#4d90bd 14.2%,#8bb8d4 21.2%,#d2e0eb 26.9%,#e5dcd9 31.3%,#f1d1c0 33.9%,#f1c9b6 34.5%,#d67b6b 37.7%,#c1544a 39.6%,#9f3036 42.1%,#912631 44.0%,#932732 46.5%,#a7393b 48.4%,#c75a4d 50.3%,#dd8a79 52.2%,#f0c8b5 54.1%,#f0d2c2 54.7%,#e3dddb 56.6%,#d2e0eb 59.2%,#90bbd6 62.3%,#5a99c2 66.1%,#4489b7 68.7%,#2a6a99 77.5%,#1c507f 93.4%,#1a4b79 100.0%)"></i><i style="background:linear-gradient(90deg,#387aa9 0.0%,#4186b4 11.7%,#4e91bd 14.9%,#8cb9d5 21.8%,#d3e0ea 27.5%,#e6dbd7 32.0%,#f2d1bf 34.5%,#e5a593 36.4%,#ce6a5c 38.9%,#bf5248 40.2%,#9d2e36 42.7%,#912631 44.6%,#942832 47.2%,#a93b3c 49.1%,#c85d50 50.9%,#de8d7c 52.8%,#f2ccb9 54.7%,#e3dddc 57.3%,#d0dfea 59.8%,#8ebad5 63.0%,#5998c1 66.8%,#4388b7 69.3%,#2a6a98 78.2%,#1c507f 94.0%,#1a4b7a 100.0%)"></i><i style="background:linear-gradient(90deg,#377aa9 0.0%,#4085b3 11.7%,#4a8fbc 14.9%,#81b2d0 21.2%,#c4d8e7 26.9%,#d3e0ea 28.2%,#e7dbd6 32.6%,#f3d0bd 35.1%,#d98272 38.3%,#c75a4d 40.2%,#9c2d35 43.4%,#902531 45.3%,#952933 47.8%,#ab3d3d 49.7%,#c96053 51.6%,#df9180 53.5%,#f3d0bd 55.4%,#e2dddd 57.9%,#cddde9 60.4%,#8cb9d5 63.6%,#5898c1 67.4%,#4388b6 69.9%,#2a6998 78.8%,#1c507f 94.6%,#1a4c7a 100.0%)"></i><i style="background:linear-gradient(90deg,#377aa8 0.0%,#4085b3 12.3%,#4b8fbc 15.5%,#88b7d3 22.5%,#cfdfea 28.2%,#e4ddda 32.6%,#f2cdba 35.8%,#d87f6f 38.9%,#c5584b 40.8%,#a13238 43.4%,#922632 45.3%,#922732 47.8%,#9c2d35 49.1%,#c2554a 51.6%,#d98373 53.5%,#f2d1bf 56.0%,#e1dede 58.5%,#d4e0e9 60.4%,#bcd4e4 61.7%,#80b2d0 64.9%,#5093be 68.7%,#4288b6 70.6%,#2a6998 79.4%,#1c507f 95.3%,#1b4c7b 100.0%)"></i><i style="background:linear-gradient(90deg,#377aa8 0.0%,#4185b3 13.0%,#4c90bc 16.1%,#8ab8d4 23.1%,#d1e0eb 28.8%,#e5dcd9 33.2%,#f1d2c1 35.8%,#f1cab7 36.4%,#d67c6d 39.6%,#c3554a 41.5%,#9f3137 44.0%,#912632 45.9%,#932732 48.4%,#a5373a 50.3%,#c4574b 52.2%,#e29988 54.7%,#efc3b0 56.0%,#f1d1c0 56.6%,#e0dedf 59.2%,#d3e0ea 61.1%,#89b7d4 64.9%,#5696c0 68.7%,#4287b5 71.2%,#296998 80.1%,#1c507e 96.5%,#1b4d7b 100.0%)"></i><i style="background:linear-gradient(90deg,#3779a8 0.0%,#4084b2 13.0%,#498ebb 16.1%,#7eb0d0 22.5%,#c1d7e6 28.2%,#d2e0eb 29.4%,#e5dcd8 33.9%,#f2d1c0 36.4%,#ebb7a5 37.7%,#d57a6a 40.2%,#c15349 42.1%,#9e2f36 44.6%,#912631 46.5%,#932732 49.1%,#a7383b 50.9%,#c6594c 52.8%,#dc8978 54.7%,#f0c6b3 56.6%,#f1d2c2 57.3%,#e4dddb 59.2%,#d3e0ea 61.7%,#87b6d3 65.5%,#5596c0 69.3%,#448ab8 71.2%,#2b6b99 80.1%,#1d517f 95.9%,#1b4e7c 100.0%)"></i><i style="background:linear-gradient(90deg,#3679a7 0.0%,#4084b3 13.6%,#4a8ebb 16.8%,#80b1d0 23.1%,#c3d8e6 28.8%,#d3e0ea 30.1%,#e6dbd7 34.5%,#f2d1be 37.0%,#d47768 40.8%,#c85d4f 42.1%,#9d2e35 45.3%,#902631 47.2%,#942832 49.7%,#a83a3c 51.6%,#c75c4f 53.5%,#dd8b7a 55.4%,#f1c9b6 57.3%,#ecd6cc 58.5%,#dfdee0 60.4%,#d2e0eb 62.3%,#91bcd6 65.5%,#5b9ac2 69.3%,#448ab8 71.8%,#2a6a99 80.7%,#1d517f 96.5%,#1b4e7d 100.0%)"></i><i style="background:linear-gradient(90deg,#3679a7 0.0%,#4085b3 14.2%,#4a8fbc 17.4%,#81b2d0 23.7%,#c5d9e7 29.4%,#d3e0ea 30.7%,#e7dbd6 35.1%,#f3d0bd 37.7%,#d98272 40.8%,#c75a4d 42.7%,#9c2d35 45.9%,#902531 47.8%,#952833 50.3%,#a93b3c 52.2%,#c85e51 54.1%,#de8e7d 56.0%,#f2ccb9 57.9%,#e3dddc 60.4%,#d1dfeb 63.0%,#8fbbd6 66.1%,#5b99c2 69.9%,#4489b7 72.5%,#2a6a99 81.3%,#1d5180 97.2%,#1c4f7d 100.0%)"></i><i style="background:linear-gradient(90deg,#3678a7 0.0%,#4085b3 14.9%,#4b8fbc 18.0%,#88b7d3 25.0%,#cfdeea 30.7%,#e4ddda 35.1%,#f2cebb 38.3%,#d88070 41.5%,#c5584c 43.4%,#a13238 45.9%,#922632 47.8%,#922632 50.3%,#a23338 52.2%,#c05349 54.1%,#d07061 55.4%,#df907f 56.6%,#f3cfbc 58.5%,#e2dddd 61.1%,#cfdeea 63.6%,#8ebad5 66.8%,#5a99c2 70.6%,#4489b7 73.1%,#2a6a99 82.0%,#1d5180 97.8%,#1c4f7e 100.0%)"></i><i style="background:linear-gradient(90deg,#3678a7 0.0%,#3f84b2 14.9%,#4c90bc 18.7%,#89b8d4 25.6%,#d1dfeb 31.3%,#e5dcda 35.8%,#f1d2c2 38.3%,#f2ccb9 38.9%,#d77e6e 42.1%,#c4564b 44.0%,#a03137 46.5%,#922632 48.4%,#922632 50.9%,#a33439 52.8%,#c15449 54.7%,#d98171 56.6%,#f3d0bd 59.2%,#e2dddd 61.7%,#cdddea 64.2%,#8dbad5 67.4%,#5999c1 71.2%,#4389b7 73.7%,#2a6a99 82.6%,#1d517f 99.1%,#1c507f 100.0%)"></i><i style="background:linear-gradient(90deg,#3578a6 0.0%,#3f84b2 15.5%,#4c90bc 19.3%,#8ab8d4 26.3%,#d2e0eb 32.0%,#e5dcd9 36.4%,#f1d2c1 38.9%,#f1c9b6 39.6%,#d67b6c 42.7%,#c2554a 44.6%,#9f3037 47.2%,#912631 49.1%,#922732 51.6%,#a43539 53.5%,#c3554a 55.4%,#e19584 57.9%,#f2d1be 59.8%,#e1ddde 62.3%,#ccdde9 64.9%,#8cb9d5 68.0%,#5998c1 71.8%,#4389b7 74.4%,#2a6a99 83.2%,#1d517f 100.0%)"></i><i style="background:linear-gradient(90deg,#3577a6 0.0%,#4084b2 16.1%,#498ebb 19.3%,#7eb0d0 25.6%,#c1d7e6 31.3%,#d2e0eb 32.6%,#e6dcd8 37.0%,#f2d1c0 39.6%,#ebb7a5 40.8%,#d57a6a 43.4%,#c15349 45.3%,#9e2f36 47.8%,#912631 49.7%,#932732 52.2%,#a5363a 54.1%,#c4574b 56.0%,#e19786 58.5%,#f2d1bf 60.4%,#e1dede 63.0%,#d4e0e9 64.9%,#bdd4e4 66.1%,#82b3d1 69.3%,#4c90bc 73.7%,#3a7eac 77.5%,#246190 88.3%,#1d5280 100.0%)"></i><i style="background:linear-gradient(90deg,#3577a5 0.0%,#4084b2 16.8%,#498ebb 19.9%,#7fb1d0 26.3%,#c2d7e6 32.0%,#d3e0ea 33.2%,#e6dbd7 37.7%,#f2d1bf 40.2%,#e5a593 42.1%,#ce6a5c 44.6%,#bf5248 45.9%,#9d2e36 48.4%,#912631 50.3%,#932732 52.8%,#a6373a 54.7%,#c5584b 56.6%,#e29988 59.2%,#efc2b0 60.4%,#f2d1c0 61.1%,#e0dede 63.6%,#d4e0e9 65.5%,#81b2d1 69.9%,#4b90bc 74.4%,#387baa 78.8%,#24608f 89.6%,#1d5281 100.0%)"></i><i style="background:linear-gradient(90deg,#3477a5 0.0%,#4084b3 17.4%,#4a8ebb 20.6%,#80b1d0 26.9%,#c4d8e6 32.6%,#d3e0ea 33.9%,#e6dbd7 38.3%,#f2d0be 40.8%,#da8473 44.0%,#c75c4f 45.9%,#9d2e35 49.1%,#902531 50.9%,#932732 53.5%,#a6383b 55.4%,#c6594c 57.3%,#db8777 59.2%,#efc4b1 61.1%,#f1d2c0 61.7%,#e0dede 64.2%,#d4e0ea 66.1%,#81b2d1 70.6%,#4b90bc 75.0%,#387baa 79.4%,#24608f 90.2%,#1e5382 100.0%)"></i><i style="background:linear-gradient(90deg,#3476a5 0.0%,#4085b3 18.0%,#4a8fbc 21.2%,#81b2d0 27.5%,#c4d8e7 33.2%,#d3e0ea 34.5%,#e7dbd6 38.9%,#f3d0bd 41.5%,#d98272 44.6%,#c75a4d 46.5%,#9c2d35 49.7%,#902531 51.6%,#942832 54.1%,#a7393b 56.0%,#c65a4d 57.9%,#dc8878 59.8%,#efc5b2 61.7%,#f1d2c1 62.3%,#e0dedf 64.9%,#d3e0ea 66.8%,#8ab8d4 70.6%,#5898c1 74.4%,#4389b7 76.9%,#2b6b9a 85.8%,#1e5483 100.0%)"></i><i style="background:linear-gradient(90deg,#3476a4 0.0%,#4085b3 18.7%,#4b8fbc 21.8%,#88b6d3 28.8%,#d3e0ea 35.1%,#e7dbd5 39.6%,#f3cfbc 42.1%,#d88171 45.3%,#c6594c 47.2%,#a23338 49.7%,#922732 51.6%,#912631 54.1%,#9f3137 56.0%,#c75a4d 58.5%,#dc8978 60.4%,#f0c6b3 62.3%,#f1d2c1 63.0%,#e0dedf 65.5%,#d3e0ea 67.4%,#8ab8d4 71.2%,#5898c1 75.0%,#4389b7 77.5%,#2b6b9a 86.4%,#1f5584 100.0%)"></i><i style="background:linear-gradient(90deg,#3375a4 0.0%,#3f83b2 18.7%,#4b8fbc 22.5%,#88b7d3 29.4%,#cfdeea 35.1%,#e4ddda 39.6%,#f2cebb 42.7%,#d88070 45.9%,#c5584c 47.8%,#a13338 50.3%,#922632 52.2%,#912631 54.7%,#a03137 56.6%,#c75b4e 59.2%,#dc8a79 61.1%,#f0c6b3 63.0%,#f1d2c1 63.6%,#e0dedf 66.1%,#d3e0ea 68.0%,#8ab8d4 71.8%,#5998c1 75.6%,#4389b7 78.2%,#2b6b9a 87.0%,#1f5685 100.0%)"></i><i style="background:linear-gradient(90deg,#3375a4 0.0%,#3f84b2 19.3%,#4b8fbc 23.1%,#89b7d3 30.1%,#d0dfea 35.8%,#e4ddda 40.2%,#f2cdba 43.4%,#d77f6f 46.5%,#c4574b 48.4%,#a13238 50.9%,#922632 52.8%,#912631 55.4%,#a03137 57.3%,#c75b4e 59.8%,#dd8a79 61.7%,#f0c6b4 63.6%,#f1d2c2 64.2%,#e0dedf 66.8%,#d3e0ea 68.7%,#8bb8d4 72.5%,#5998c1 76.3%,#4489b7 78.8%,#2b6b9a 87.7%,#1f5786 100.0%)"></i><i style="background:linear-gradient(90deg,#3375a3 0.0%,#3f84b2 19.9%,#4c90bc 23.7%,#89b7d4 30.7%,#d0dfea 36.4%,#e5dcda 40.8%,#f2ccb9 44.0%,#d77e6e 47.2%,#c4574b 49.1%,#a03237 51.6%,#922632 53.5%,#912631 56.0%,#a03137 57.9%,#c75b4e 60.4%,#dd8a79 62.3%,#f0c6b4 64.2%,#f1d2c1 64.9%,#e0dedf 67.4%,#d3e0ea 69.3%,#82b3d1 73.7%,#4d90bd 78.2%,#3b7ead 82.0%,#246190 93.4%,#205887 100.0%)"></i><i style="background:linear-gradient(90deg,#3274a3 0.0%,#3f84b2 20.6%,#4c90bc 24.4%,#89b8d4 31.3%,#d1dfeb 37.0%,#e5dcd9 41.5%,#f1d2c2 44.0%,#f1cbb8 44.6%,#d77d6e 47.8%,#c3564b 49.7%,#a03137 52.2%,#922632 54.1%,#912631 56.6%,#a03137 58.5%,#c75b4e 61.1%,#dc8a79 63.0%,#f0c6b3 64.9%,#f1d2c1 65.5%,#e0dedf 68.0%,#d4e0ea 69.9%,#82b3d1 74.4%,#4d91bd 78.8%,#3d81af 82.0%,#266493 92.7%,#205988 100.0%)"></i><i style="background:linear-gradient(90deg,#3274a2 0.0%,#3f84b2 21.2%,#4c90bc 25.0%,#8ab8d4 32.0%,#d1e0eb 37.7%,#e5dcd9 42.1%,#f1d2c1 44.6%,#f1cbb8 45.3%,#d77d6d 48.4%,#c3564a 50.3%,#a03137 52.8%,#912632 54.7%,#912631 57.3%,#a03137 59.2%,#c75b4e 61.7%,#dc8978 63.6%,#f0c5b2 65.5%,#f1d2c1 66.1%,#e0dede 68.7%,#d4e0e9 70.6%,#83b3d1 75.0%,#4e91bd 79.4%,#3d82b0 82.6%,#266493 93.4%,#215a89 100.0%)"></i><i style="background:linear-gradient(90deg,#3273a2 0.0%,#3f84b2 21.8%,#4c90bc 25.6%,#8ab8d4 32.6%,#d1e0eb 38.3%,#e5dcd9 42.7%,#f1d2c1 45.3%,#f1cab7 45.9%,#d67d6d 49.1%,#c3564a 50.9%,#a03137 53.5%,#912632 55.4%,#912631 57.9%,#a03137 59.8%,#c75a4d 62.3%,#dc8878 64.2%,#efc4b1 66.1%,#f1d2c0 66.8%,#e0dede 69.3%,#d4e0e9 71.2%,#bed5e5 72.5%,#84b4d2 75.6%,#4f92bd 80.1%,#4085b3 82.6%,#286796 92.7%,#225b8a 100.0%)"></i><i style="background:linear-gradient(90deg,#3173a1 0.0%,#3f84b2 22.5%,#4c90bc 26.3%,#8ab8d4 33.2%,#d1e0eb 38.9%,#e5dcd9 43.4%,#f1d2c1 45.9%,#f1cab7 46.5%,#d67c6d 49.7%,#c3564a 51.6%,#a03137 54.1%,#912632 56.0%,#912631 58.5%,#9f3037 60.4%,#c6594c 63.0%,#e29a89 65.5%,#efc3b0 66.8%,#f2d1c0 67.4%,#e1dede 69.9%,#cddde9 72.5%,#8fbbd6 75.6%,#5d9bc3 79.4%,#458bb9 82.0%,#2d6d9c 90.8%,#225d8c 100.0%)"></i><i style="background:linear-gradient(90deg,#3172a1 0.0%,#3f84b2 23.1%,#4c90bc 26.9%,#8ab8d4 33.9%,#d1e0eb 39.6%,#e5dcd9 44.0%,#f1d2c1 46.5%,#f1cab7 47.2%,#d67d6d 50.3%,#c3564a 52.2%,#a03137 54.7%,#912632 56.6%,#942732 59.8%,#a7383b 61.7%,#c5584c 63.6%,#e29887 66.1%,#f2d1bf 68.0%,#e1dddd 70.6%,#cfdeea 73.1%,#90bcd6 76.3%,#5e9bc3 80.1%,#4389b7 83.2%,#2b6b99 92.7%,#235e8d 100.0%)"></i><i style="background:linear-gradient(90deg,#3172a1 0.0%,#3f84b2 23.7%,#4c90bc 27.5%,#8ab8d4 34.5%,#d1e0eb 40.2%,#e5dcd9 44.6%,#f1d2c1 47.2%,#f1cbb8 47.8%,#d77d6d 50.9%,#c3564a 52.8%,#a03137 55.4%,#912632 57.3%,#932732 60.4%,#a6373a 62.3%,#c4574b 64.2%,#e19685 66.8%,#f2d0be 68.7%,#e2dddd 71.2%,#d1dfeb 73.7%,#92bdd7 76.9%,#5f9cc4 80.7%,#4489b7 83.9%,#2b6b9a 93.4%,#24608f 100.0%)"></i><i style="background:linear-gradient(90deg,#3071a0 0.0%,#3f84b2 24.4%,#4c90bc 28.2%,#89b8d4 35.1%,#d1dfeb 40.8%,#e5dcd9 45.3%,#f1d2c2 47.8%,#f1cbb8 48.4%,#d77d6e 51.6%,#c3564b 53.5%,#a03137 56.0%,#922632 57.9%,#932732 61.1%,#a5363a 63.0%,#c3564a 64.9%,#e09483 67.4%,#f3d0bd 69.3%,#e3dddc 71.8%,#d2e0eb 74.4%,#8ab8d4 78.2%,#5395bf 82.6%,#4287b5 85.1%,#2a6a99 94.6%,#246190 100.0%)"></i><i style="background:linear-gradient(90deg,#3071a0 0.0%,#3f84b2 25.0%,#4b90bc 28.8%,#89b7d4 35.8%,#d0dfea 41.5%,#e5dcda 45.9%,#f2ccb9 49.1%,#d77e6e 52.2%,#c4574b 54.1%,#a13237 56.6%,#922632 58.5%,#922732 61.7%,#a43539 63.6%,#c2544a 65.5%,#df9180 68.0%,#f2cdba 69.9%,#e3dddc 72.5%,#d3e0ea 75.0%,#8cb9d5 78.8%,#5596c0 83.2%,#4388b6 85.8%,#2b6b9a 95.3%,#256392 100.0%)"></i><i style="background:linear-gradient(90deg,#2f719f 0.0%,#3f83b2 25.6%,#4b8fbc 29.4%,#89b7d3 36.4%,#d0dfea 42.1%,#e4ddda 46.5%,#f2cdba 49.7%,#d87f6f 52.8%,#c5584b 54.7%,#a13238 57.3%,#922632 59.2%,#922732 62.3%,#a33439 64.2%,#c05349 66.1%,#d06f60 67.4%,#de8e7d 68.7%,#f1cab7 70.6%,#ecd6cb 71.8%,#e0dedf 73.7%,#d4e0ea 75.6%,#84b4d2 80.1%,#5193be 84.5%,#4389b7 86.4%,#2b6c9a 95.9%,#266594 100.0%)"></i><i style="background:linear-gradient(90deg,#2f709f 0.0%,#3f83b2 26.3%,#4b8fbc 30.1%,#88b7d3 37.0%,#d4e0ea 43.4%,#e7dad5 47.8%,#f2cebb 50.3%,#d88070 53.5%,#c6594c 55.4%,#a23338 57.9%,#922732 59.8%,#922632 63.0%,#a23338 64.9%,#c85d50 67.4%,#dd8b7a 69.3%,#f0c6b3 71.2%,#f1d2c1 71.8%,#e1dede 74.4%,#cedeea 76.9%,#91bcd6 80.1%,#5f9cc4 83.9%,#448ab8 87.0%,#2c6c9b 96.5%,#276695 100.0%)"></i><i style="background:linear-gradient(90deg,#2f709e 0.0%,#3f83b1 26.9%,#4a8fbc 30.7%,#81b2d0 37.0%,#c5d9e7 42.7%,#d3e0ea 44.0%,#e7dbd6 48.4%,#f3d0bd 50.9%,#d98271 54.1%,#c65a4d 56.0%,#9c2d35 59.2%,#902531 61.1%,#912631 63.6%,#a03137 65.5%,#c75a4d 68.0%,#e29a89 70.6%,#efc2af 71.8%,#f2d1bf 72.5%,#e2dddd 75.0%,#d1dfeb 77.5%,#94bdd7 80.7%,#619ec4 84.5%,#458bb9 87.7%,#2d6d9c 97.2%,#296897 100.0%)"></i><i style="background:linear-gradient(90deg,#2e6f9e 0.0%,#3f83b1 27.5%,#4a8ebb 31.3%,#80b2d0 37.7%,#c4d8e6 43.4%,#d3e0ea 44.6%,#e6dbd6 49.1%,#f3d0be 51.6%,#d98373 54.7%,#c75b4e 56.6%,#9d2e35 59.8%,#902531 61.7%,#942832 64.9%,#a6383b 66.8%,#c5584b 68.7%,#e19584 71.2%,#f3d0bd 73.1%,#e3dddc 75.6%,#d3e0ea 78.2%,#8db9d5 82.0%,#5797c0 86.4%,#4489b7 88.9%,#2c6c9b 98.4%,#2a6a99 100.0%)"></i><i style="background:linear-gradient(90deg,#2e6f9e 0.0%,#4084b2 28.8%,#498ebb 32.0%,#7fb1d0 38.3%,#c3d7e6 44.0%,#d3e0ea 45.3%,#e6dbd7 49.7%,#f2d1bf 52.2%,#e5a493 54.1%,#ce6a5c 56.6%,#bf5248 57.9%,#9d2f36 60.4%,#912631 62.3%,#932732 65.5%,#a5363a 67.4%,#c2554a 69.3%,#df907f 71.8%,#f2cbb8 73.7%,#e8dad3 75.6%,#d8dfe6 78.2%,#cbdce9 79.4%,#90bbd6 82.6%,#609dc4 86.4%,#458ab8 89.6%,#2d6d9c 99.1%,#2c6c9b 100.0%)"></i><i style="background:linear-gradient(90deg,#2e6e9d 0.0%,#3f84b2 29.4%,#498ebb 32.6%,#7eb0cf 38.9%,#c1d7e6 44.6%,#d2e0eb 45.9%,#e6dcd8 50.3%,#f2d1c0 52.8%,#ebb7a5 54.1%,#d57a6a 56.6%,#c15449 58.5%,#9e3036 61.1%,#912631 63.0%,#922732 66.1%,#a33439 68.0%,#c85e51 70.6%,#dd8b7a 72.5%,#f0c6b3 74.4%,#f1d2c1 75.0%,#e1dede 77.5%,#d0dfea 80.1%,#94bed7 83.2%,#639ec5 87.0%,#468cba 90.2%,#2e6e9d 100.0%)"></i><i style="background:linear-gradient(90deg,#2d6e9d 0.0%,#3f84b2 30.1%,#4c90bc 33.9%,#8ab8d4 40.8%,#d2e0eb 46.5%,#e5dcd9 50.9%,#f1d2c1 53.5%,#f1cab7 54.1%,#d67c6c 57.3%,#c3554a 59.2%,#a03137 61.7%,#912632 63.6%,#912632 66.8%,#a03237 68.7%,#c75a4d 71.2%,#e29987 73.7%,#f2d1be 75.6%,#e2dddc 78.2%,#d3e0ea 80.7%,#8ebad5 84.5%,#5998c1 88.9%,#458ab8 91.5%,#30719f 100.0%)"></i><i style="background:linear-gradient(90deg,#2d6d9c 0.0%,#3f83b2 30.7%,#4b8fbc 34.5%,#89b7d3 41.5%,#d0dfea 47.2%,#e5ddda 51.6%,#f2cdba 54.7%,#d77f6f 57.9%,#c5584b 59.8%,#a13238 62.3%,#922632 64.2%,#912631 67.4%,#9e2f36 69.3%,#c3564b 71.8%,#e09281 74.4%,#f2ccb9 76.3%,#e4dddb 78.8%,#cddde9 82.0%,#92bdd7 85.1%,#629ec5 88.9%,#468cba 92.1%,#3273a2 100.0%)"></i><i style="background:linear-gradient(90deg,#2d6d9c 0.0%,#3f83b1 31.3%,#4a8fbc 35.1%,#81b2d0 41.5%,#c5d9e7 47.2%,#d3e0ea 48.4%,#e7dbd6 52.8%,#f3d0bd 55.4%,#d98272 58.5%,#c75a4d 60.4%,#9c2d35 63.6%,#902531 65.5%,#922732 68.7%,#a33539 70.6%,#c95f51 73.1%,#dd8b7b 75.0%,#f0c5b2 76.9%,#f1d2c0 77.5%,#e1dddd 80.1%,#d2e0eb 82.6%,#8dbad5 86.4%,#5998c1 90.8%,#4388b6 94.0%,#3476a5 100.0%)"></i><i style="background:linear-gradient(90deg,#2c6d9b 0.0%,#3e83b1 32.0%,#498ebb 35.8%,#7fb1d0 42.1%,#c3d8e6 47.8%,#d3e0ea 49.1%,#e6dbd7 53.5%,#f2d1bf 56.0%,#d47868 59.8%,#c85d50 61.1%,#9e2f36 64.2%,#912631 66.1%,#912632 69.3%,#a13237 71.2%,#c65a4d 73.7%,#e19786 76.3%,#f3d0bd 78.2%,#e3dddc 80.7%,#d4e0e9 83.2%,#89b7d4 87.7%,#5797c0 92.1%,#448ab8 94.6%,#3679a8 100.0%)"></i><i style="background:linear-gradient(90deg,#2c6c9b 0.0%,#3f84b2 33.2%,#4c90bc 37.0%,#8ab8d4 44.0%,#d2e0eb 49.7%,#e5dcd8 54.1%,#f1d1c0 56.6%,#f1c8b6 57.3%,#d67b6c 60.4%,#c2554a 62.3%,#9f3037 64.9%,#912632 66.8%,#932732 70.6%,#a5373a 72.5%,#c2554a 74.4%,#df8f7e 76.9%,#f1c8b5 78.8%,#f1d2c2 79.4%,#e1ddde 82.0%,#d2e0eb 84.5%,#8ebad5 88.3%,#5b99c2 92.7%,#4489b7 95.9%,#397cab 100.0%)"></i><i style="background:linear-gradient(90deg,#2c6c9b 0.0%,#3f83b2 33.9%,#4b8fbc 37.7%,#89b7d3 44.6%,#d0dfea 50.3%,#e4ddda 54.7%,#f2cdba 57.9%,#d87f6f 61.1%,#c5584b 63.0%,#a13338 65.5%,#902531 68.0%,#922632 71.2%,#a23338 73.1%,#c75c4f 75.6%,#e29988 78.2%,#f3d0be 80.1%,#e3dddc 82.6%,#d4e0e9 85.1%,#c0d6e5 86.4%,#8ab8d4 89.6%,#5998c1 94.0%,#4389b7 97.2%,#3c80ae 100.0%)"></i><i style="background:linear-gradient(90deg,#2b6b9a 0.0%,#3f83b1 34.5%,#4a8ebb 38.3%,#80b2d0 44.6%,#c4d8e7 50.3%,#d3e0ea 51.6%,#e6dbd6 56.0%,#f3d0be 58.5%,#d98373 61.7%,#c75c4e 63.6%,#9d2e35 66.8%,#912631 68.7%,#912631 71.8%,#9f3036 73.7%,#c3564a 76.3%,#df907f 78.8%,#f1c8b6 80.7%,#f1d2c2 81.3%,#e1dddd 83.9%,#d2e0eb 86.4%,#90bcd6 90.2%,#5d9bc3 94.6%,#458bb9 97.8%,#3f84b2 100.0%)"></i><i style="background:linear-gradient(90deg,#2b6b9a 0.0%,#3e83b1 35.1%,#488dbb 38.9%,#7eb0cf 45.3%,#c1d7e6 50.9%,#d2e0eb 52.2%,#e5dcd8 56.6%,#f2d1c0 59.2%,#ebb8a5 60.4%,#d57a6b 63.0%,#c15449 64.9%,#9f3037 67.4%,#912631 69.3%,#922732 73.1%,#a23438 75.0%,#c75c4f 77.5%,#e29987 80.1%,#f3d0bd 82.0%,#e4dddb 84.5%,#cfdeea 87.7%,#8ebad5 91.5%,#5c9ac3 95.9%,#458bb9 99.1%,#4388b6 100.0%)"></i><i style="background:linear-gradient(90deg,#2b6b9a 0.0%,#3f83b2 36.4%,#4b8fbc 40.2%,#88b7d3 47.2%,#d0dfea 52.8%,#e4ddda 57.3%,#f2cdba 60.4%,#d87f6f 63.6%,#c5584b 65.5%,#a13338 68.0%,#922732 69.9%,#912631 73.7%,#9f3036 75.6%,#c3554a 78.2%,#de8e7d 80.7%,#f0c6b3 82.6%,#f1d1c0 83.2%,#e2dddd 85.8%,#d3e0ea 88.3%,#8cb9d5 92.7%,#5c9ac2 97.2%,#488dbb 100.0%)"></i><i style="background:linear-gradient(90deg,#2a6a99 0.0%,#3e83b1 37.0%,#498ebb 40.8%,#7fb1d0 47.2%,#c3d8e6 52.8%,#d3e0ea 54.1%,#e6dbd7 58.5%,#f2d1be 61.1%,#d47768 64.9%,#c85d4f 66.1%,#9d2e36 69.3%,#912631 71.2%,#922732 75.0%,#a23338 76.9%,#c75a4d 79.4%,#e19584 82.0%,#f2ccb9 83.9%,#e5dcd9 86.4%,#d3e0ea 89.6%,#8ab8d4 94.0%,#5c9ac2 98.4%,#5193be 100.0%)"></i><i style="background:linear-gradient(90deg,#2a6a99 0.0%,#3f84b2 38.3%,#4c90bc 42.1%,#8ab8d4 49.1%,#d2e0eb 54.7%,#e5dcd9 59.2%,#f1d2c1 61.7%,#f1cab7 62.3%,#d67c6d 65.5%,#c3564a 67.4%,#a03137 69.9%,#922632 71.8%,#912631 75.6%,#9e2f36 77.5%,#c05349 80.1%,#d67b6c 82.0%,#e8ae9c 83.9%,#f3d0be 85.1%,#e4dddb 87.7%,#d2e0eb 90.8%,#92bcd7 94.6%,#619ec4 99.1%,#5c9ac2 100.0%)"></i><i style="background:linear-gradient(90deg,#2a6a99 0.0%,#3f83b1 38.9%,#4a8ebb 42.7%,#80b2d0 49.1%,#c5d9e7 54.7%,#d3e0ea 56.0%,#e7dbd6 60.4%,#f3d0bd 63.0%,#d98272 66.1%,#c75b4e 68.0%,#9d2e35 71.2%,#912631 73.1%,#922632 76.9%,#a03137 78.8%,#c4574b 81.3%,#de8e7d 83.9%,#f0c5b2 85.8%,#f2d1c0 86.4%,#e3dddc 88.9%,#d0dfea 92.1%,#91bcd6 95.9%,#68a2c7 100.0%)"></i><i style="background:linear-gradient(90deg,#2a6998 0.0%,#3e82b1 39.6%,#488dbb 43.4%,#7db0cf 49.7%,#c0d6e5 55.4%,#d2e0eb 56.6%,#e5dcd8 61.1%,#f1d1c0 63.6%,#f1c9b6 64.2%,#d67b6c 67.4%,#c2554a 69.3%,#a03137 71.8%,#912632 73.7%,#922732 78.2%,#a23438 80.1%,#c65a4d 82.6%,#e09382 85.1%,#f1c9b6 87.0%,#edd5c9 88.3%,#dfdee0 90.8%,#cfdeea 93.4%,#92bcd6 97.2%,#75aacc 100.0%)"></i><i style="background:linear-gradient(90deg,#296998 0.0%,#3f83b1 40.8%,#4a8ebb 44.6%,#80b2d0 50.9%,#c5d9e7 56.6%,#d3e0ea 57.9%,#e7dbd6 62.3%,#f3d0bd 64.9%,#d98272 68.0%,#c75b4e 69.9%,#9d2e35 73.1%,#912631 75.0%,#932732 79.4%,#a43639 81.3%,#c85d50 83.9%,#e19685 86.4%,#f2ccb9 88.3%,#e6dcd8 90.8%,#cfdeea 94.6%,#93bdd7 98.4%,#83b4d1 100.0%)"></i><i style="background:linear-gradient(90deg,#296998 0.0%,#3e82b0 41.5%,#4c90bc 45.9%,#8ab8d4 52.8%,#d2e0eb 58.5%,#e5dcd9 63.0%,#f1d2c1 65.5%,#f1c9b6 66.1%,#d67c6c 69.3%,#c3564a 71.2%,#a03137 73.7%,#902531 76.3%,#912631 80.1%,#9f3036 82.0%,#c15449 84.5%,#dc8878 87.0%,#f2cdba 89.6%,#e2dddd 92.7%,#d0dfea 95.9%,#95bed7 100.0%)"></i><i style="background:linear-gradient(90deg,#296998 0.0%,#3d82b0 42.1%,#498ebb 46.5%,#80b1d0 52.8%,#c4d8e6 58.5%,#d3e0ea 59.8%,#e6dbd6 64.2%,#f3d0be 66.8%,#da8473 69.9%,#c75c4f 71.8%,#9d2e36 75.0%,#912631 76.9%,#922632 81.3%,#a03137 83.2%,#c2554a 85.8%,#dc8979 88.3%,#f2cebb 90.8%,#e2dddd 94.0%,#d1e0eb 97.2%,#a8c9de 100.0%)"></i><i style="background:linear-gradient(90deg,#296897 0.0%,#3d81af 42.7%,#4b8fbc 47.8%,#89b7d3 54.7%,#d0dfea 60.4%,#e5dcda 64.9%,#f2ccb9 68.0%,#d77e6e 71.2%,#c5584b 73.1%,#a13338 75.6%,#902531 78.2%,#922632 82.6%,#a03237 84.5%,#c3564a 87.0%,#dc8a79 89.6%,#f2cdba 92.1%,#e3dddc 95.3%,#d3e0eb 98.4%,#bfd5e5 100.0%)"></i><i style="background:linear-gradient(90deg,#296897 0.0%,#3c80af 43.4%,#488dbb 48.4%,#7eb0cf 54.7%,#c2d7e6 60.4%,#d2e0eb 61.7%,#e6dcd8 66.1%,#f2d1bf 68.7%,#ebb7a4 69.9%,#d57a6a 72.5%,#c15449 74.4%,#9f3037 76.9%,#912632 78.8%,#922732 83.9%,#a13238 85.8%,#c3554a 88.3%,#dc8978 90.8%,#f1cbb8 93.4%,#ead8cf 95.3%,#dddee2 97.8%,#d4e0ea 100.0%)"></i><i style="background:linear-gradient(90deg,#286897 0.0%,#3b7fad 43.4%,#498ebb 49.7%,#80b2d0 56.0%,#c4d8e7 61.7%,#d3e0ea 63.0%,#e7dbd6 67.4%,#f3d0bd 69.9%,#d98373 73.1%,#c75b4e 75.0%,#9d2e36 78.2%,#912631 80.1%,#922732 85.1%,#a13237 87.0%,#c2554a 89.6%,#db8776 92.1%,#f0c8b5 94.6%,#f1d1c0 95.3%,#e1ddde 98.4%,#dbdfe3 100.0%)"></i><i style="background:linear-gradient(90deg,#286897 0.0%,#3a7dab 42.1%,#448ab8 49.7%,#649fc5 54.1%,#a6c7dd 60.4%,#d0dfea 63.6%,#e5ddda 68.0%,#f2cdba 71.2%,#d87f6f 74.4%,#c5584c 76.3%,#9b2d35 79.4%,#902531 81.3%,#922632 86.4%,#a03137 88.3%,#c85e51 91.5%,#e09281 94.0%,#f2d0be 96.5%,#e3dddc 100.0%)"></i><i style="background:linear-gradient(90deg,#286897 0.0%,#3679a7 35.8%,#4085b3 49.1%,#4b8fbc 52.2%,#8ab8d4 59.2%,#d2e0eb 64.9%,#e5dcd9 69.3%,#f1d2c1 71.8%,#f1c9b6 72.5%,#d67c6c 75.6%,#c3564a 77.5%,#a03237 80.1%,#902531 82.6%,#922632 87.7%,#9f3037 89.6%,#c75b4e 92.7%,#de8d7c 95.3%,#f2ccb9 97.8%,#ead8ce 100.0%)"></i><i style="background:linear-gradient(90deg,#286796 0.0%,#3577a5 33.9%,#3f84b2 49.7%,#4c90bc 53.5%,#8bb9d4 60.4%,#d2e0eb 66.1%,#e6dcd8 70.6%,#f2d1bf 73.1%,#ebb6a4 74.4%,#d57a6a 76.9%,#c15449 78.8%,#9f3037 81.3%,#902531 83.9%,#912631 88.9%,#9d2e36 90.8%,#c4574b 94.0%,#e19685 97.2%,#f2d1be 100.0%)"></i><i style="background:linear-gradient(90deg,#286796 0.0%,#3375a4 33.2%,#3f84b2 50.9%,#4d90bd 54.7%,#8cb9d5 61.7%,#d3e0ea 67.4%,#e6dbd7 71.8%,#f2d1be 74.4%,#d47868 78.2%,#c05249 80.1%,#9e2f36 82.6%,#902531 85.1%,#932732 90.8%,#a13238 92.7%,#c85d50 95.9%,#de8d7c 98.4%,#e8ac9a 100.0%)"></i><i style="background:linear-gradient(90deg,#286796 0.0%,#3375a3 33.2%,#3f84b2 52.2%,#498ebb 55.4%,#7fb1d0 61.7%,#c4d8e6 67.4%,#d3e0ea 68.7%,#e6dbd6 73.1%,#f3d0be 75.6%,#da8473 78.8%,#c85d4f 80.7%,#9e2f36 83.9%,#902531 86.4%,#922632 92.1%,#9e2f36 94.0%,#c4574b 97.2%,#da8575 100.0%)"></i><i style="background:linear-gradient(90deg,#286796 0.0%,#3274a2 33.2%,#3f84b2 53.5%,#498ebb 56.6%,#80b1d0 63.0%,#c4d8e7 68.7%,#d3e0ea 69.9%,#e7dbd6 74.4%,#f3d0bd 76.9%,#d98373 80.1%,#c75c4f 82.0%,#9e2f36 85.1%,#902531 87.7%,#932732 94.0%,#a13238 95.9%,#c75a4d 99.1%,#cc6557 100.0%)"></i><i style="background:linear-gradient(90deg,#286796 0.0%,#3273a2 33.9%,#3f84b2 54.7%,#498ebb 57.9%,#7fb1d0 64.2%,#c4d8e7 69.9%,#d3e0ea 71.2%,#e6dbd6 75.6%,#f3d0bd 78.2%,#da8373 81.3%,#c85c4f 83.2%,#9e2f36 86.4%,#902531 88.9%,#922632 95.3%,#a33439 97.8%,#b84a44 100.0%)"></i><i style="background:linear-gradient(90deg,#286796 0.0%,#3172a1 33.9%,#3f84b2 56.0%,#4d90bc 59.8%,#8cb9d5 66.8%,#d3e0ea 72.5%,#e6dbd6 76.9%,#f3d0be 79.4%,#da8474 82.6%,#c85d50 84.5%,#9e2f36 87.7%,#902531 90.2%,#922732 97.2%,#a33539 100.0%)"></i><i style="background:linear-gradient(90deg,#276796 0.0%,#3072a0 34.5%,#3f83b2 57.3%,#4c90bc 61.1%,#8bb9d4 68.0%,#d3e0ea 73.7%,#e6dbd7 78.2%,#f2d1bf 80.7%,#e6a593 82.6%,#cf6c5d 85.1%,#c15449 86.4%,#9f3037 88.9%,#902531 91.5%,#922732 99.1%,#952933 100.0%)"></i><i style="background:linear-gradient(90deg,#276796 0.0%,#3071a0 35.1%,#3f83b1 58.5%,#4b8fbc 62.3%,#83b4d1 68.7%,#c9dbe8 74.4%,#d2e0eb 75.0%,#e5dcd8 79.4%,#f1d1c0 82.0%,#ecb8a6 83.2%,#d67b6c 85.8%,#c3564a 87.7%,#a13238 90.2%,#902531 92.7%,#902531 100.0%)"></i><i style="background:linear-gradient(90deg,#276796 0.0%,#2f709f 35.8%,#3e83b1 59.8%,#498ebb 63.6%,#81b2d1 69.9%,#c7dae8 75.6%,#d4e0e9 76.9%,#e8dad4 81.3%,#f2ccb9 83.9%,#d77f6f 87.0%,#c5584c 88.9%,#9c2d35 92.1%,#902531 94.6%,#902531 100.0%)"></i><i style="background:linear-gradient(90deg,#276795 0.0%,#2f709f 37.0%,#3f83b2 61.7%,#4c90bc 65.5%,#86b5d2 71.8%,#d3e0ea 78.2%,#e7dbd6 82.6%,#f3d0bd 85.1%,#d98373 88.3%,#c85c4f 90.2%,#9e2f36 93.4%,#902531 95.9%,#902531 100.0%)"></i><i style="background:linear-gradient(90deg,#276695 0.0%,#2f709e 37.7%,#3e83b1 63.0%,#4a8fbc 66.8%,#83b3d1 73.1%,#c9dbe8 78.8%,#d2e0eb 79.4%,#e5dcd8 83.9%,#f2d1c0 86.4%,#ecb8a6 87.7%,#d67b6c 90.2%,#c3564a 92.1%,#a13238 94.6%,#902531 97.2%,#902531 100.0%)"></i><i style="background:linear-gradient(90deg,#276695 0.0%,#2e6f9e 38.9%,#3f83b1 64.9%,#4c90bc 68.7%,#86b5d2 75.0%,#d3e0ea 81.3%,#e7dad5 85.8%,#f3cfbc 88.3%,#d98272 91.5%,#c75b4e 93.4%,#9e2f36 96.5%,#902531 99.1%,#902531 100.0%)"></i><i style="background:linear-gradient(90deg,#276695 0.0%,#2e6f9e 40.2%,#3e82b1 66.1%,#498ebb 69.9%,#82b3d1 76.3%,#c9dbe8 82.0%,#d2e0eb 82.6%,#e5dcd8 87.0%,#f1d1c0 89.6%,#f1c8b6 90.2%,#d67c6c 93.4%,#c4564b 95.3%,#9b2d35 98.4%,#932732 100.0%)"></i><i style="background:linear-gradient(90deg,#276695 0.0%,#2e6f9d 41.5%,#3e83b1 68.0%,#4b8fbc 71.8%,#84b4d2 78.2%,#d3e0ea 84.5%,#e6dbd6 88.9%,#f3d0be 91.5%,#da8574 94.6%,#c05349 97.2%,#9f3137 100.0%)"></i><i style="background:linear-gradient(90deg,#276695 0.0%,#2e6e9d 42.7%,#3e83b1 69.9%,#4b90bc 73.7%,#86b5d2 80.1%,#d3e0ea 86.4%,#e7dad5 90.8%,#f2cebb 93.4%,#d98171 96.5%,#c75b4e 98.4%,#b54743 100.0%)"></i><i style="background:linear-gradient(90deg,#276695 0.0%,#2d6e9c 44.0%,#3e83b1 71.8%,#4c90bc 75.6%,#86b6d3 82.0%,#cfdfea 87.7%,#e5dcda 92.1%,#f2ccb9 95.3%,#d88070 98.4%,#cc6658 100.0%)"></i><i style="background:linear-gradient(90deg,#276695 0.0%,#2d6e9c 45.9%,#3e83b1 73.7%,#4b8fbc 77.5%,#86b6d3 83.9%,#d0dfea 89.6%,#e5dcda 94.0%,#f1d2c2 96.5%,#f2cbb9 97.2%,#de8c7b 100.0%)"></i><i style="background:linear-gradient(90deg,#276695 0.0%,#2d6d9c 47.8%,#3e82b0 75.6%,#4a8fbc 79.4%,#85b5d2 85.8%,#d4e0ea 92.1%,#e7dad4 96.5%,#f2ccba 99.1%,#edbdab 100.0%)"></i><i style="background:linear-gradient(90deg,#276695 0.0%,#2d6d9c 49.7%,#3d82b0 77.5%,#498ebb 81.3%,#84b4d2 87.7%,#d3e0ea 94.0%,#e7dbd5 98.4%,#edd5ca 100.0%)"></i><i style="background:linear-gradient(90deg,#276695 0.0%,#2c6d9c 51.6%,#3d81af 79.4%,#4b8fbc 83.9%,#88b6d3 90.2%,#d2e0eb 95.9%,#e3dddc 100.0%)"></i><i style="background:linear-gradient(90deg,#276695 0.0%,#2c6d9b 54.1%,#3d81af 82.0%,#488dbb 85.8%,#84b4d2 92.1%,#d3e0ea 98.4%,#d9dfe5 100.0%)"></i></div><div class="hm" style="left:258px;top:17px"><i style="background:linear-gradient(90deg,#5b9ac2 0.0%,#93bdd7 3.5%,#cadbe8 6.0%,#d3e0ea 6.6%,#e6dcd8 9.8%,#f3d0bd 12.3%,#d88171 15.5%,#c6594c 17.4%,#a03137 19.9%,#89202f 22.5%,#88202e 24.4%,#982a34 26.3%,#b74a44 28.2%,#c4574b 28.8%,#dc8a79 30.7%,#f2cbb9 32.6%,#e6dbd6 34.5%,#d4e0e9 37.0%,#bbd3e4 38.3%,#7cafcf 41.5%,#4b8fbc 45.3%,#3477a5 50.3%,#225d8c 59.8%,#184876 77.5%,#15406e 100.0%)"></i><i style="background:linear-gradient(90deg,#5797c1 0.0%,#8dbad5 3.5%,#d1e0eb 6.6%,#e7dad4 10.4%,#f1d1c0 12.3%,#f0c8b5 13.0%,#db8776 15.5%,#c05349 18.0%,#9b2d35 20.6%,#88202e 23.1%,#89212f 25.0%,#9d2e35 26.9%,#be5148 28.8%,#d17062 30.1%,#e09584 31.3%,#eec1af 32.6%,#f1d1c0 33.2%,#e4dddb 35.1%,#d1e0eb 37.7%,#8cb9d5 40.8%,#5596c0 44.6%,#4489b7 46.5%,#2a6a98 54.7%,#1b4e7d 69.9%,#15416f 95.3%,#15406f 100.0%)"></i><i style="background:linear-gradient(90deg,#5395bf 0.0%,#87b6d3 3.5%,#cbdce9 6.6%,#d7dfe6 7.9%,#e6dbd7 10.4%,#f3cfbc 13.0%,#d88070 16.1%,#c5584b 18.0%,#9f3037 20.6%,#89202f 23.1%,#88202e 25.0%,#992b34 26.9%,#b84b45 28.8%,#c5584c 29.4%,#dd8b7a 31.3%,#f2cdba 33.2%,#e1dddd 35.8%,#d4e0e9 37.7%,#86b5d2 41.5%,#5193be 45.3%,#4287b5 47.2%,#296998 55.4%,#1b4e7d 70.6%,#15416f 96.5%,#15406f 100.0%)"></i><i style="background:linear-gradient(90deg,#5092be 0.0%,#82b3d1 3.5%,#d2e0eb 7.3%,#e8dad4 11.1%,#f2d1c0 13.0%,#ebb6a4 14.2%,#d47869 16.8%,#bf5248 18.7%,#9b2c35 21.2%,#87202e 23.7%,#8a212f 25.6%,#9e2f36 27.5%,#bf5248 29.4%,#d17263 30.7%,#e8ad9b 32.6%,#efc3b0 33.2%,#f1d2c1 33.9%,#e4dddb 35.8%,#d0dfea 38.3%,#8bb9d4 41.5%,#5596c0 45.3%,#4489b7 47.2%,#2a6a98 55.4%,#1b4e7d 70.6%,#15416f 95.9%,#15416f 100.0%)"></i><i style="background:linear-gradient(90deg,#4c90bc 0.0%,#7cafcf 3.5%,#ccdde9 7.3%,#dbdee3 9.2%,#e9d8d0 11.7%,#f2cebb 13.6%,#d77e6f 16.8%,#c4574b 18.7%,#9e2f36 21.2%,#88202f 23.7%,#88202f 25.6%,#992b34 27.5%,#c6594c 30.1%,#de8c7b 32.0%,#f3cebb 33.9%,#e1dede 36.4%,#d3e0ea 38.3%,#85b5d2 42.1%,#5193be 45.9%,#4287b5 47.8%,#296998 56.0%,#1b4e7d 71.2%,#15416f 97.2%,#15416f 100.0%)"></i><i style="background:linear-gradient(90deg,#498ebb 0.0%,#77accd 3.5%,#d2e0eb 7.9%,#e8dad3 11.7%,#f2d1bf 13.6%,#e5a493 15.5%,#ce6a5c 18.0%,#be5148 19.3%,#9a2c34 21.8%,#871f2e 24.4%,#8a212f 26.3%,#9e2f36 28.2%,#c05349 30.1%,#da8474 32.0%,#efc4b2 33.9%,#f1d2c1 34.5%,#e3dddc 36.4%,#cfdeea 38.9%,#8bb8d4 42.1%,#5495c0 45.9%,#4389b7 47.8%,#2a6a98 56.0%,#1b4e7d 71.2%,#15416f 96.5%,#15416f 100.0%)"></i><i style="background:linear-gradient(90deg,#468cba 0.0%,#72a8cb 3.5%,#cddde9 7.9%,#e3dddc 11.1%,#f2ccba 14.2%,#d77e6e 17.4%,#c3564a 19.3%,#9e2f36 21.8%,#88202f 24.4%,#88202f 26.3%,#9a2c34 28.2%,#c65a4d 30.7%,#de8d7c 32.6%,#f3d0bd 34.5%,#e1dede 37.0%,#d3e0ea 38.9%,#85b5d2 42.7%,#5193be 46.5%,#4287b5 48.4%,#296998 56.6%,#1b4e7d 71.8%,#15416f 97.8%,#15416f 100.0%)"></i><i style="background:linear-gradient(90deg,#458ab8 0.0%,#639ec5 2.8%,#9dc3da 6.0%,#d3e0ea 8.5%,#e8dad3 12.3%,#f2d1bf 14.2%,#da8474 17.4%,#c75c4f 19.3%,#9a2b34 22.5%,#871f2e 25.0%,#8a212f 26.9%,#9f3036 28.8%,#c15349 30.7%,#da8574 32.6%,#f0c5b2 34.5%,#f1d2c2 35.1%,#e3dddc 37.0%,#cfdeea 39.6%,#8ab8d4 42.7%,#5495bf 46.5%,#4389b7 48.4%,#2a6998 56.6%,#1c4e7d 71.8%,#15416f 97.2%,#15416f 100.0%)"></i><i style="background:linear-gradient(90deg,#4489b7 0.0%,#5596c0 2.2%,#8ab8d4 5.4%,#cedeea 8.5%,#e6dbd6 12.3%,#f2ccb9 14.9%,#d77d6d 18.0%,#c3564a 19.9%,#9d2e36 22.5%,#88202f 25.0%,#88202f 26.9%,#9a2c34 28.8%,#c75b4d 31.3%,#de8e7d 33.2%,#f3d0bd 35.1%,#e1dede 37.7%,#d3e0ea 39.6%,#85b5d2 43.4%,#5193be 47.2%,#4287b5 49.1%,#296998 57.3%,#1b4e7d 72.5%,#15416f 98.4%,#15416f 100.0%)"></i><i style="background:linear-gradient(90deg,#4288b6 0.0%,#5193be 2.2%,#84b4d2 5.4%,#d3e0ea 9.2%,#e8d9d3 13.0%,#f2d1be 14.9%,#d98373 18.0%,#c75b4e 19.9%,#992b34 23.1%,#871f2e 25.6%,#8a212f 27.5%,#9f3037 29.4%,#c15449 31.3%,#da8575 33.2%,#f0c6b3 35.1%,#f0d2c2 35.8%,#e3dddc 37.7%,#cedeea 40.2%,#8ab8d4 43.4%,#5495bf 47.2%,#4389b7 49.1%,#2a6998 57.3%,#1c4e7d 72.5%,#15416f 97.8%,#15416f 100.0%)"></i><i style="background:linear-gradient(90deg,#4186b5 0.0%,#4e91bd 2.2%,#7eb0d0 5.4%,#cedeea 9.2%,#e7dbd6 13.0%,#f1d2c2 14.9%,#f1cbb8 15.5%,#d67c6d 18.7%,#c2554a 20.6%,#9d2e36 23.1%,#88202e 25.6%,#88202f 27.5%,#9a2c35 29.4%,#c75b4e 32.0%,#df8f7e 33.9%,#f3d0bd 35.8%,#e0dede 38.3%,#d3e0ea 40.2%,#85b4d2 44.0%,#5093be 47.8%,#4287b5 49.7%,#296998 57.9%,#1b4e7d 73.1%,#15416f 99.1%,#15416f 100.0%)"></i><i style="background:linear-gradient(90deg,#4085b3 0.0%,#4a8fbc 2.2%,#79adcd 5.4%,#d3e0ea 9.8%,#e8d9d2 13.6%,#f2d1be 15.5%,#d98373 18.7%,#c75b4e 20.6%,#a13238 23.1%,#89212f 25.6%,#871f2e 27.5%,#962933 29.4%,#b54743 31.3%,#cb6356 32.6%,#e29a89 34.5%,#f0c6b4 35.8%,#f0d2c2 36.4%,#e3dddc 38.3%,#cedeea 40.8%,#8ab8d4 44.0%,#5495bf 47.8%,#4389b7 49.7%,#2a6a98 57.9%,#1c4f7d 73.1%,#154170 98.4%,#15416f 100.0%)"></i><i style="background:linear-gradient(90deg,#4084b3 0.0%,#478dba 2.2%,#73a9cb 5.4%,#cfdeea 9.8%,#e7dbd6 13.6%,#f1d2c2 15.5%,#f1cbb8 16.1%,#d67c6c 19.3%,#c2554a 21.2%,#9d2e35 23.7%,#88202e 26.3%,#88202f 28.2%,#9b2c35 30.1%,#c75b4e 32.6%,#df8f7e 34.5%,#f3d0bd 36.4%,#e0dede 38.9%,#d3e0ea 40.8%,#85b4d2 44.6%,#5193be 48.4%,#4287b5 50.3%,#296998 58.5%,#1b4e7d 73.7%,#15416f 100.0%)"></i><i style="background:linear-gradient(90deg,#3f83b2 0.0%,#4a8fbc 2.8%,#79adcd 6.0%,#d3e0ea 10.4%,#e8d9d2 14.2%,#f2d0be 16.1%,#d98272 19.3%,#c75a4d 21.2%,#a13238 23.7%,#89212f 26.3%,#87202e 28.2%,#962933 30.1%,#b54743 32.0%,#cb6456 33.2%,#e29a89 35.1%,#f0c6b4 36.4%,#f0d2c2 37.0%,#e3dddc 38.9%,#cedeea 41.5%,#8ab8d4 44.6%,#5495bf 48.4%,#4389b7 50.3%,#2a6a98 58.5%,#1c4f7d 73.7%,#154170 99.1%,#154170 100.0%)"></i><i style="background:linear-gradient(90deg,#3e83b1 0.0%,#478dba 2.8%,#73a9cb 6.0%,#cfdeea 10.4%,#e7dbd5 14.2%,#f1d2c1 16.1%,#f1cab7 16.8%,#d67c6c 19.9%,#c2554a 21.8%,#9d2e35 24.4%,#88202e 26.9%,#88202f 28.8%,#9b2c35 30.7%,#c75b4e 33.2%,#df8f7e 35.1%,#f3d0bd 37.0%,#e0dede 39.6%,#d3e0ea 41.5%,#85b5d2 45.3%,#5193be 49.1%,#4287b5 50.9%,#296998 59.2%,#1b4e7d 74.4%,#154170 100.0%)"></i><i style="background:linear-gradient(90deg,#3e82b0 0.0%,#4a8fbc 3.5%,#79adce 6.6%,#d3e0ea 11.1%,#e8d9d2 14.9%,#f3d0be 16.8%,#d98272 19.9%,#c75a4d 21.8%,#a13237 24.4%,#89212f 26.9%,#871f2e 28.8%,#962933 30.7%,#b54743 32.6%,#cb6356 33.9%,#e29a88 35.8%,#f0c6b3 37.0%,#f0d2c2 37.7%,#e3dddc 39.6%,#cedeea 42.1%,#8ab8d4 45.3%,#5495bf 49.1%,#4389b7 50.9%,#2a6a99 59.2%,#1c4f7d 74.4%,#164270 100.0%)"></i><i style="background:linear-gradient(90deg,#3d81b0 0.0%,#478dba 3.5%,#73a9cb 6.6%,#cfdeea 11.1%,#e7dbd5 14.9%,#f1d2c1 16.8%,#f1cab7 17.4%,#d67c6c 20.6%,#c2554a 22.5%,#9d2e35 25.0%,#88202e 27.5%,#88202f 29.4%,#9a2c35 31.3%,#c75b4e 33.9%,#de8e7d 35.8%,#f3d0bd 37.7%,#e1dede 40.2%,#d3e0ea 42.1%,#85b5d2 45.9%,#5193be 49.7%,#4287b5 51.6%,#296998 59.8%,#1b4e7d 75.0%,#164270 100.0%)"></i><i style="background:linear-gradient(90deg,#3d81af 0.0%,#458bb9 3.5%,#649fc5 6.0%,#9ec3db 9.2%,#d3e0ea 11.7%,#e8d9d2 15.5%,#f2d0be 17.4%,#d98272 20.6%,#c75a4d 22.5%,#a13238 25.0%,#89212f 27.5%,#871f2e 29.4%,#962933 31.3%,#b44742 33.2%,#cb6355 34.5%,#e29988 36.4%,#f0c5b3 37.7%,#f1d2c2 38.3%,#e3dddc 40.2%,#cfdeea 42.7%,#8bb8d4 45.9%,#5596c0 49.7%,#4489b7 51.6%,#2a6a99 59.8%,#1c4f7d 75.0%,#164270 100.0%)"></i><i style="background:linear-gradient(90deg,#3d81af 0.0%,#478dba 4.1%,#73a9cb 7.3%,#cfdeea 11.7%,#e7dbd6 15.5%,#f1d2c2 17.4%,#f1cbb8 18.0%,#d67c6c 21.2%,#c2554a 23.1%,#9d2e35 25.6%,#88202e 28.2%,#88202f 30.1%,#9a2c34 32.0%,#c75a4d 34.5%,#de8e7d 36.4%,#f3d0bd 38.3%,#e1dede 40.8%,#d3e0ea 42.7%,#86b5d2 46.5%,#5193be 50.3%,#4287b6 52.2%,#296998 60.4%,#1c4e7d 75.6%,#164270 100.0%)"></i><i style="background:linear-gradient(90deg,#3c80af 0.0%,#458bb9 4.1%,#639fc5 6.6%,#9ec3da 9.8%,#d3e0ea 12.3%,#e8d9d2 16.1%,#f2d1be 18.0%,#d98373 21.2%,#c75b4e 23.1%,#a13238 25.6%,#89212f 28.2%,#871f2e 30.1%,#962933 32.0%,#a93a3c 33.2%,#c05349 34.5%,#da8474 36.4%,#efc4b2 38.3%,#f1d2c1 38.9%,#e3dddc 40.8%,#d0dfea 43.4%,#8bb9d4 46.5%,#5596c0 50.3%,#4489b7 52.2%,#2a6a99 60.4%,#1c4f7d 75.6%,#164270 100.0%)"></i><i style="background:linear-gradient(90deg,#3c80ae 0.0%,#478cba 4.7%,#73a9cb 7.9%,#cedeea 12.3%,#e7dbd6 16.1%,#f1d2c2 18.0%,#f1cbb8 18.7%,#d67c6d 21.8%,#c2554a 23.7%,#9d2e36 26.3%,#88202e 28.8%,#88202f 30.7%,#9a2c34 32.6%,#c65a4d 35.1%,#de8d7c 37.0%,#f3cfbc 38.9%,#e1ddde 41.5%,#d4e0ea 43.4%,#86b6d3 47.2%,#5294bf 50.9%,#4288b6 52.8%,#296998 61.1%,#1c4f7d 76.3%,#164270 100.0%)"></i><i style="background:linear-gradient(90deg,#3c80ae 0.0%,#458bb9 4.7%,#639fc5 7.3%,#9ec3da 10.4%,#d3e0ea 13.0%,#e8d9d3 16.8%,#f2d1be 18.7%,#da8373 21.8%,#c75b4e 23.7%,#992b34 26.9%,#871f2e 29.4%,#8a212f 31.3%,#9e2f36 33.2%,#c05249 35.1%,#d27263 36.4%,#e8ad9b 38.3%,#efc3b1 38.9%,#f1d2c1 39.6%,#e4dddb 41.5%,#d1dfeb 44.0%,#8cb9d5 47.2%,#5696c0 50.9%,#448ab8 52.8%,#2a6a99 61.1%,#1c4f7d 76.3%,#164270 100.0%)"></i><i style="background:linear-gradient(90deg,#3c80ae 0.0%,#4389b7 4.7%,#5596c0 6.6%,#8ab8d4 9.8%,#cedeea 13.0%,#e6dbd6 16.8%,#f2ccb9 19.3%,#d77d6d 22.5%,#c3564a 24.4%,#9d2e36 26.9%,#88202f 29.4%,#88202f 31.3%,#992b34 33.2%,#c6594c 35.8%,#dd8b7b 37.7%,#f2cdba 39.6%,#e1dddd 42.1%,#d4e0e9 44.0%,#87b6d3 47.8%,#5294bf 51.6%,#4388b6 53.5%,#2a6998 61.7%,#1c4f7d 76.9%,#164270 100.0%)"></i><i style="background:linear-gradient(90deg,#3c7fae 0.0%,#4287b6 4.7%,#5193be 6.6%,#83b4d1 9.8%,#d3e0ea 13.6%,#e8dad3 17.4%,#f2d1bf 19.3%,#e5a392 21.2%,#cd695b 23.7%,#be5048 25.0%,#9a2c34 27.5%,#871f2e 30.1%,#8a212f 32.0%,#9d2e36 33.9%,#bf5148 35.8%,#d17162 37.0%,#e19584 38.3%,#eec1af 39.6%,#f1d1c0 40.2%,#e4dddb 42.1%,#d2e0eb 44.6%,#8dbad5 47.8%,#5697c0 51.6%,#448ab8 53.5%,#2a6a99 61.7%,#1c4f7e 76.9%,#164271 100.0%)"></i><i style="background:linear-gradient(90deg,#3c7fae 0.0%,#4389b7 5.4%,#4d90bd 6.6%,#7db0cf 9.8%,#cddde9 13.6%,#dfdedf 16.1%,#f0d2c3 19.3%,#f2cdba 19.9%,#d77e6e 23.1%,#c3564b 25.0%,#9e2f36 27.5%,#88202f 30.1%,#88202e 32.0%,#992b34 33.9%,#b84a44 35.8%,#c5574b 36.4%,#dd8a79 38.3%,#f2cbb8 40.2%,#e6dbd6 42.1%,#d4e0e9 44.6%,#bcd4e4 45.9%,#7eb0cf 49.1%,#4c90bc 52.8%,#3e82b0 55.4%,#256492 64.9%,#1a4c7a 80.7%,#164371 100.0%)"></i><i style="background:linear-gradient(90deg,#3b7fad 0.0%,#4287b5 5.4%,#5093be 7.3%,#82b3d1 10.4%,#d2e0eb 14.2%,#e8dad3 18.0%,#f2d1bf 19.9%,#ebb5a3 21.2%,#da8575 23.1%,#c85d50 25.0%,#9a2c34 28.2%,#87202e 30.7%,#89212f 32.6%,#9d2e35 34.5%,#c95f51 37.0%,#e09382 38.9%,#eebfad 40.2%,#f2d1bf 40.8%,#e4ddda 42.7%,#d2e0eb 45.3%,#8ebad5 48.4%,#5797c1 52.2%,#458ab8 54.1%,#2b6b99 62.3%,#1c4f7e 77.5%,#164371 100.0%)"></i><i style="background:linear-gradient(90deg,#3b7fad 0.0%,#4186b4 5.4%,#4c90bc 7.3%,#7cafcf 10.4%,#ccdce9 14.2%,#d8dfe6 15.5%,#e6dbd7 18.0%,#f2cebb 20.6%,#d77f6f 23.7%,#c4574b 25.6%,#9e3036 28.2%,#88202f 30.7%,#88202e 32.6%,#982a34 34.5%,#b74944 36.4%,#c3564b 37.0%,#dc8878 38.9%,#f1c9b6 40.8%,#ebd7cd 42.1%,#dedee1 44.0%,#cddde9 45.9%,#89b8d4 49.1%,#5495bf 52.8%,#4389b7 54.7%,#2a6a99 63.0%,#1c4f7e 78.2%,#164371 100.0%)"></i><i style="background:linear-gradient(90deg,#3b7fad 0.0%,#4287b5 6.0%,#5092be 7.9%,#81b2d1 11.1%,#d2e0eb 14.9%,#e7dad4 18.7%,#f2d1c0 20.6%,#ebb7a4 21.8%,#d57969 24.4%,#c05248 26.3%,#9b2c35 28.8%,#87202e 31.3%,#89212f 33.2%,#9c2d35 35.1%,#c85d50 37.7%,#df9180 39.6%,#f2d0be 41.5%,#e0dede 44.0%,#d3e0ea 45.9%,#85b5d2 49.7%,#5193be 53.5%,#4287b5 55.4%,#296998 63.6%,#1c4f7d 78.8%,#164371 100.0%)"></i><i style="background:linear-gradient(90deg,#3b7fad 0.0%,#4186b4 6.0%,#4b90bc 7.9%,#7baece 11.1%,#cadce9 14.9%,#d7dfe6 16.1%,#e9d9d1 19.3%,#f3cfbc 21.2%,#d88070 24.4%,#c5584c 26.3%,#9f3037 28.8%,#89202f 31.3%,#87202e 33.2%,#972a33 35.1%,#b54843 37.0%,#cb6456 38.3%,#e29a89 40.2%,#f0c6b4 41.5%,#f0d2c2 42.1%,#e3dddc 44.0%,#cfdeea 46.5%,#8bb8d4 49.7%,#5596c0 53.5%,#4489b7 55.4%,#2a6a99 63.6%,#1c4f7e 78.8%,#164371 100.0%)"></i><i style="background:linear-gradient(90deg,#3b7fad 0.0%,#4287b5 6.6%,#4f92bd 8.5%,#80b2d0 11.7%,#d1dfeb 15.5%,#e7dad5 19.3%,#f1d2c1 21.2%,#f1c8b6 21.8%,#d57a6b 25.0%,#c15349 26.9%,#9c2d35 29.4%,#88202e 32.0%,#88202f 33.9%,#9b2c35 35.8%,#c75b4e 38.3%,#de8e7d 40.2%,#f3d0bd 42.1%,#e1dede 44.6%,#d3e0ea 46.5%,#86b6d3 50.3%,#5294bf 54.1%,#4388b6 56.0%,#2a6998 64.2%,#1c4f7d 79.4%,#164371 100.0%)"></i><i style="background:linear-gradient(90deg,#3b7fad 0.0%,#4185b4 6.6%,#4b8fbc 8.5%,#7aadce 11.7%,#d3e0ea 16.1%,#e5dcd8 19.3%,#f3d0be 21.8%,#d98272 25.0%,#c65a4d 26.9%,#a03137 29.4%,#89212f 32.0%,#8a212f 34.5%,#9e3036 36.4%,#c05349 38.3%,#da8473 40.2%,#efc3b1 42.1%,#f1d2c1 42.7%,#e4dddb 44.6%,#d1dfeb 47.2%,#8db9d5 50.3%,#5697c0 54.1%,#448ab8 56.0%,#2a6a99 64.2%,#1c4f7e 79.4%,#164372 100.0%)"></i><i style="background:linear-gradient(90deg,#3b7fad 0.0%,#4084b3 6.6%,#478dba 8.5%,#73a9cb 11.7%,#cfdeea 16.1%,#e7dbd5 19.9%,#f1d2c1 21.8%,#f1cab8 22.5%,#d67c6c 25.6%,#c2554a 27.5%,#9d2e35 30.1%,#88202e 32.6%,#88202f 34.5%,#992b34 36.4%,#c5584c 38.9%,#dd8b7a 40.8%,#f2ccba 42.7%,#e2dddd 45.3%,#d4e0e9 47.2%,#bbd3e4 48.4%,#7eb0cf 51.6%,#4c90bc 55.4%,#3e82b0 57.9%,#256493 67.4%,#1a4c7a 83.2%,#164472 100.0%)"></i><i style="background:linear-gradient(90deg,#3b7ead 0.0%,#4085b3 7.3%,#4a8ebb 9.2%,#78accd 12.3%,#d3e0ea 16.8%,#e8d9d3 20.6%,#f2d1be 22.5%,#da8373 25.6%,#c75b4e 27.5%,#992b34 30.7%,#871f2e 33.2%,#89212f 35.1%,#9d2e36 37.0%,#be5148 38.9%,#d17061 40.2%,#e09483 41.5%,#eec0ad 42.7%,#f2d1bf 43.4%,#e4ddda 45.3%,#d2e0eb 47.8%,#8fbbd6 50.9%,#5897c1 54.7%,#458bb9 56.6%,#2b6b9a 64.9%,#1c507e 80.1%,#164472 100.0%)"></i><i style="background:linear-gradient(90deg,#3b7ead 0.0%,#3f84b2 7.3%,#468cba 9.2%,#72a8cb 12.3%,#cddde9 16.8%,#e3dddc 19.9%,#f2cdba 23.1%,#d77e6e 26.3%,#c3564b 28.2%,#9e2f36 30.7%,#88202f 33.2%,#88202e 35.1%,#982a34 37.0%,#b74944 38.9%,#c3564b 39.6%,#dc8878 41.5%,#f1c9b6 43.4%,#ebd7cc 44.6%,#dedee1 46.5%,#cdddea 48.4%,#8ab8d4 51.6%,#5596c0 55.4%,#4489b7 57.3%,#2a6a99 65.5%,#1c4f7e 80.7%,#174472 100.0%)"></i><i style="background:linear-gradient(90deg,#3b7ead 0.0%,#4085b3 7.9%,#498ebb 9.8%,#76abcd 13.0%,#d2e0eb 17.4%,#e8dad4 21.2%,#f2d1c0 23.1%,#ebb6a4 24.4%,#d47869 26.9%,#c85d50 28.2%,#9b2c35 31.3%,#87202e 33.9%,#89202f 35.8%,#9b2d35 37.7%,#c85c4f 40.2%,#df907f 42.1%,#f3d0be 44.0%,#e1dede 46.5%,#d3e0ea 48.4%,#86b5d2 52.2%,#5294bf 56.0%,#4388b6 57.9%,#2a6a98 66.1%,#1c4f7e 81.3%,#174472 100.0%)"></i><i style="background:linear-gradient(90deg,#3b7ead 0.0%,#3f84b2 7.9%,#4c90bc 10.4%,#7baece 13.6%,#cbdce9 17.4%,#d7dfe6 18.7%,#e9d9d1 21.8%,#f3cfbc 23.7%,#d88070 26.9%,#c5584b 28.8%,#9f3037 31.3%,#89202f 33.9%,#8a212f 36.4%,#9f3037 38.3%,#c15449 40.2%,#da8575 42.1%,#efc5b2 44.0%,#f1d2c1 44.6%,#e3dddb 46.5%,#d0dfeb 49.1%,#8cb9d5 52.2%,#5697c0 56.0%,#448ab8 57.9%,#2b6b99 66.1%,#1c507e 81.3%,#174472 100.0%)"></i><i style="background:linear-gradient(90deg,#3b7eac 0.0%,#4085b3 8.5%,#488dbb 10.4%,#75aacc 13.6%,#d0dfeb 18.0%,#e7dad5 21.8%,#f1d2c1 23.7%,#f1c9b6 24.4%,#d57a6b 27.5%,#c15349 29.4%,#9c2d35 32.0%,#88202e 34.5%,#88202f 36.4%,#9a2c34 38.3%,#c6594c 40.8%,#dd8c7b 42.7%,#f2cdba 44.6%,#e2dddd 47.2%,#d4e0e9 49.1%,#bbd3e4 50.3%,#7eb0cf 53.5%,#4d90bd 57.3%,#3e82b1 59.8%,#266493 69.3%,#1b4c7b 85.1%,#174473 100.0%)"></i><i style="background:linear-gradient(90deg,#3a7eac 0.0%,#4185b4 9.2%,#4a8fbc 11.1%,#79adce 14.2%,#d3e0ea 18.7%,#e8d9d2 22.5%,#f3d0be 24.4%,#d98272 27.5%,#c75a4d 29.4%,#a13237 32.0%,#89212f 34.5%,#89212f 37.0%,#9d2e36 38.9%,#be5148 40.8%,#d17061 42.1%,#e09483 43.4%,#eec0ae 44.6%,#f2d1bf 45.3%,#e4ddda 47.2%,#d3e0eb 49.7%,#8fbbd6 52.8%,#5898c1 56.6%,#4287b6 59.2%,#2a6998 67.4%,#1c4f7e 82.6%,#174573 100.0%)"></i><i style="background:linear-gradient(90deg,#3a7eac 0.0%,#4084b2 9.2%,#468cba 11.1%,#72a9cb 14.2%,#cedeea 18.7%,#e7dbd6 22.5%,#f2ccb9 25.0%,#d77d6d 28.2%,#c3564a 30.1%,#9d2e36 32.6%,#88202f 35.1%,#88202e 37.0%,#982a34 38.9%,#b74944 40.8%,#c3564a 41.5%,#dc8877 43.4%,#f1c8b6 45.3%,#f0d3c3 45.9%,#e3dddc 47.8%,#cedeea 50.3%,#8bb8d4 53.5%,#5596c0 57.3%,#448ab8 59.2%,#2b6b99 67.4%,#1c507e 82.6%,#174573 100.0%)"></i><i style="background:linear-gradient(90deg,#3a7eac 0.0%,#4085b3 9.8%,#498ebb 11.7%,#77accd 14.9%,#d2e0eb 19.3%,#e8dad3 23.1%,#f2d1bf 25.0%,#ebb5a3 26.3%,#da8575 28.2%,#c85d50 30.1%,#9a2c34 33.2%,#87202e 35.8%,#89202f 37.7%,#9b2c35 39.6%,#c75c4f 42.1%,#df8f7e 44.0%,#f3d0bd 45.9%,#e1dede 48.4%,#d3e0ea 50.3%,#87b6d3 54.1%,#5394bf 57.9%,#4388b6 59.8%,#2a6a99 68.0%,#1c507e 83.2%,#174573 100.0%)"></i><i style="background:linear-gradient(90deg,#3a7eac 0.0%,#3f84b2 9.8%,#468bba 11.7%,#66a0c6 14.2%,#a1c5db 17.4%,#cbdce9 19.3%,#d7dfe6 20.6%,#e6dbd7 23.1%,#f3cfbc 25.6%,#d88070 28.8%,#c5584b 30.7%,#9f3037 33.2%,#89202f 35.8%,#8a212f 38.3%,#9f3036 40.2%,#c05349 42.1%,#da8473 44.0%,#efc3b0 45.9%,#f1d2c1 46.5%,#e4dddb 48.4%,#d2e0eb 50.9%,#8ebad5 54.1%,#5797c1 57.9%,#458bb9 59.8%,#2b6b9a 68.0%,#1c507f 83.2%,#174573 100.0%)"></i><i style="background:linear-gradient(90deg,#3a7dac 0.0%,#4084b3 10.4%,#488dbb 12.3%,#74aacc 15.5%,#d0dfea 19.9%,#e7dad5 23.7%,#f1d2c1 25.6%,#f1c9b6 26.3%,#d57b6b 29.4%,#c15449 31.3%,#9c2d35 33.9%,#88202e 36.4%,#88202e 38.3%,#992b34 40.2%,#c5584b 42.7%,#dd8a79 44.6%,#f1cbb8 46.5%,#e7dbd6 48.4%,#d5e0e9 50.9%,#ccdde9 51.6%,#8ab8d4 54.7%,#5596c0 58.5%,#4489b7 60.4%,#2b6b99 68.7%,#1c507e 83.9%,#174574 100.0%)"></i><i style="background:linear-gradient(90deg,#3a7dac 0.0%,#3f83b2 10.4%,#4a8fbc 13.0%,#79adcd 16.1%,#d3e0ea 20.6%,#e8d9d2 24.4%,#f2d1be 26.3%,#d98373 29.4%,#c75b4e 31.3%,#a13238 33.9%,#89212f 36.4%,#89212f 38.9%,#9c2d35 40.8%,#c85e50 43.4%,#df9180 45.3%,#f2d0be 47.2%,#e0dede 49.7%,#d3e0ea 51.6%,#86b5d2 55.4%,#5294bf 59.2%,#4388b6 61.1%,#2a6a99 69.3%,#1c507e 84.5%,#174674 100.0%)"></i><i style="background:linear-gradient(90deg,#3a7dac 0.0%,#3f84b2 11.1%,#468cba 13.0%,#72a8cb 16.1%,#cddde9 20.6%,#dfdedf 23.1%,#f0d2c3 26.3%,#f2cdba 26.9%,#d77e6e 30.1%,#c3564b 32.0%,#9e2f36 34.5%,#88202f 37.0%,#8a222f 39.6%,#a03137 41.5%,#c15449 43.4%,#da8575 45.3%,#f0c5b2 47.2%,#f1d2c1 47.8%,#e4dddb 49.7%,#d1dfeb 52.2%,#8dbad5 55.4%,#5797c1 59.2%,#458ab8 61.1%,#2b6b9a 69.3%,#1c507f 84.5%,#174674 100.0%)"></i><i style="background:linear-gradient(90deg,#3a7dab 0.0%,#4085b3 11.7%,#488ebb 13.6%,#76abcc 16.8%,#d2e0eb 21.2%,#e7dad4 25.0%,#f2d1c0 26.9%,#ebb7a4 28.2%,#d57969 30.7%,#c05249 32.6%,#9b2c35 35.1%,#87202e 37.7%,#88202f 39.6%,#9a2c34 41.5%,#c6594c 44.0%,#dd8b7a 45.9%,#f2ccb9 47.8%,#e2dddd 50.3%,#d4e0e9 52.2%,#ccdce9 52.8%,#89b8d4 56.0%,#5596c0 59.8%,#4489b7 61.7%,#2b6b99 69.9%,#1c507f 85.1%,#184674 100.0%)"></i><i style="background:linear-gradient(90deg,#3a7dab 0.0%,#3f84b2 11.7%,#4b8fbc 14.2%,#7aaece 17.4%,#d3e0ea 21.8%,#e5dcd8 25.0%,#f3d0bd 27.5%,#d98171 30.7%,#c6594c 32.6%,#a03137 35.1%,#89212f 37.7%,#89212f 40.2%,#9d2e35 42.1%,#c95e51 44.6%,#e09281 46.5%,#f2d1bf 48.4%,#e0dede 50.9%,#d3e0ea 52.8%,#86b5d2 56.6%,#5294bf 60.4%,#4388b6 62.3%,#2a6a99 70.6%,#1c507e 85.8%,#184675 100.0%)"></i><i style="background:linear-gradient(90deg,#3a7dab 0.0%,#4084b2 12.3%,#478cba 14.2%,#73a9cb 17.4%,#cedeea 21.8%,#e7dbd6 25.6%,#f2cbb8 28.2%,#d67d6d 31.3%,#c3554a 33.2%,#9d2e36 35.8%,#88202f 38.3%,#8b222f 40.8%,#a03137 42.7%,#c2554a 44.6%,#db8675 46.5%,#f0c5b3 48.4%,#f1d2c2 49.1%,#e3dddc 50.9%,#d1dfeb 53.5%,#8dbad5 56.6%,#5797c1 60.4%,#458bb9 62.3%,#2b6b9a 70.6%,#1c507f 85.8%,#184775 100.0%)"></i><i style="background:linear-gradient(90deg,#397dab 0.0%,#3f83b1 12.3%,#498ebb 14.9%,#77abcd 18.0%,#d2e0eb 22.5%,#e8dad4 26.3%,#f2d1bf 28.2%,#ebb6a3 29.4%,#d47868 32.0%,#c85d50 33.2%,#9b2c35 36.4%,#87202e 38.9%,#88202f 40.8%,#9a2c34 42.7%,#c6594c 45.3%,#dd8c7b 47.2%,#f2ccba 49.1%,#e2dddd 51.6%,#d4e0e9 53.5%,#ccdde9 54.1%,#8ab8d4 57.3%,#5596c0 61.1%,#448ab8 63.0%,#2b6b9a 71.2%,#1c507f 86.4%,#184775 100.0%)"></i><i style="background:linear-gradient(90deg,#397dab 0.0%,#3f84b2 13.0%,#4b8fbc 15.5%,#7baece 18.7%,#cadbe8 22.5%,#d4e0ea 23.1%,#e6dcd8 26.3%,#f3d0bd 28.8%,#d88171 32.0%,#c6594c 33.9%,#a03137 36.4%,#89212f 38.9%,#89212f 41.5%,#9d2e35 43.4%,#c95e51 45.9%,#e09281 47.8%,#f2d1be 49.7%,#e0dede 52.2%,#d3e0ea 54.1%,#86b6d3 57.9%,#5394bf 61.7%,#4389b7 63.6%,#2a6a99 71.8%,#1c507f 87.0%,#184775 100.0%)"></i><i style="background:linear-gradient(90deg,#397cab 0.0%,#4084b2 13.6%,#478dba 15.5%,#73a9cb 18.7%,#cfdeea 23.1%,#e7dbd6 26.9%,#f1d2c2 28.8%,#f1cbb8 29.4%,#d67c6c 32.6%,#c2554a 34.5%,#9d2e36 37.0%,#88202e 39.6%,#8b222f 42.1%,#a03137 44.0%,#c2544a 45.9%,#db8575 47.8%,#efc5b2 49.7%,#f1d2c1 50.3%,#e4dddb 52.2%,#d2e0eb 54.7%,#8ebad5 57.9%,#5898c1 61.7%,#4288b6 64.2%,#296897 73.1%,#1c4f7d 88.9%,#184776 100.0%)"></i><i style="background:linear-gradient(90deg,#397cab 0.0%,#3f83b1 13.6%,#498ebb 16.1%,#77accd 19.3%,#d2e0eb 23.7%,#e8dad3 27.5%,#f2d1bf 29.4%,#ebb5a3 30.7%,#da8575 32.6%,#c85d50 34.5%,#9a2c34 37.7%,#87202e 40.2%,#88202f 42.1%,#9a2b34 44.0%,#c6594c 46.5%,#dd8b7a 48.4%,#f2cbb8 50.3%,#e7dbd6 52.2%,#d5e0e9 54.7%,#cddde9 55.4%,#8bb8d4 58.5%,#5696c0 62.3%,#448ab8 64.2%,#2b6b9a 72.5%,#1c517f 87.7%,#184876 100.0%)"></i><i style="background:linear-gradient(90deg,#397caa 0.0%,#3f84b2 14.2%,#4b8fbc 16.8%,#7baece 19.9%,#cadbe8 23.7%,#d4e0ea 24.4%,#e6dcd8 27.5%,#f3d0bd 30.1%,#d88171 33.2%,#c6594c 35.1%,#a03137 37.7%,#89212f 40.2%,#89212f 42.7%,#9c2d35 44.6%,#c85d50 47.2%,#df9180 49.1%,#f3d0be 50.9%,#e1dede 53.5%,#d4e0ea 55.4%,#88b6d3 59.2%,#5495bf 63.0%,#4489b7 64.9%,#2b6b9a 73.1%,#1c507f 88.3%,#184876 100.0%)"></i><i style="background:linear-gradient(90deg,#397caa 0.0%,#4084b2 14.9%,#478cba 16.8%,#73a9cb 19.9%,#cedeea 24.4%,#e7dbd6 28.2%,#f1d2c2 30.1%,#f1cbb8 30.7%,#d67c6d 33.9%,#c2554a 35.8%,#9d2e36 38.3%,#88202f 40.8%,#8a212f 43.4%,#9f3037 45.3%,#c15349 47.2%,#da8474 49.1%,#efc3b0 50.9%,#f1d2c0 51.6%,#e4dddb 53.5%,#d2e0eb 56.0%,#90bbd6 59.2%,#5998c1 63.0%,#4388b6 65.5%,#2a6a99 73.7%,#1c507e 89.6%,#194877 100.0%)"></i><i style="background:linear-gradient(90deg,#397caa 0.0%,#3f83b1 14.9%,#498ebb 17.4%,#76abcc 20.6%,#d2e0eb 25.0%,#e8dad4 28.8%,#f2d1c0 30.7%,#ebb6a4 32.0%,#d47869 34.5%,#bf5248 36.4%,#9b2c35 38.9%,#87202e 41.5%,#8c2230 44.0%,#a23338 45.9%,#c4574b 47.8%,#dc8978 49.7%,#f1c9b6 51.6%,#ebd7cc 52.8%,#dedee0 54.7%,#cfdeea 56.6%,#8cb9d5 59.8%,#5797c1 63.6%,#4287b5 66.1%,#296897 75.0%,#1c4f7d 90.8%,#194977 100.0%)"></i><i style="background:linear-gradient(90deg,#387baa 0.0%,#3f84b2 15.5%,#4b8fbc 18.0%,#7aaece 21.2%,#d3e0ea 25.6%,#e5dcd8 28.8%,#f3d0bd 31.3%,#d98171 34.5%,#c6594c 36.4%,#a03137 38.9%,#89212f 41.5%,#89212f 44.0%,#9b2d35 45.9%,#c75b4e 48.4%,#de8e7d 50.3%,#f3cfbc 52.2%,#e1dddd 54.7%,#d4e0e9 56.6%,#bcd4e4 57.9%,#7fb1d0 61.1%,#4f92bd 64.9%,#3f83b2 67.4%,#266594 76.9%,#1b4e7c 92.7%,#194977 100.0%)"></i><i style="background:linear-gradient(90deg,#387baa 0.0%,#3f84b2 16.1%,#468cba 18.0%,#72a8cb 21.2%,#cddde9 25.6%,#e6dbd6 29.4%,#f2ccb9 32.0%,#d77d6e 35.1%,#c3564a 37.0%,#9e2f36 39.6%,#88202f 42.1%,#8a212f 44.6%,#9e2f36 46.5%,#bf5148 48.4%,#d17062 49.7%,#e09483 50.9%,#f2d1bf 52.8%,#e0dede 55.4%,#d3e0ea 57.3%,#87b6d3 61.1%,#5495bf 64.9%,#4489b7 66.8%,#2b6b9a 75.0%,#1c507f 90.8%,#194978 100.0%)"></i><i style="background:linear-gradient(90deg,#387ba9 0.0%,#3f83b1 16.1%,#488dbb 18.7%,#75abcc 21.8%,#d1e0eb 26.3%,#e7dad4 30.1%,#f1d1c0 32.0%,#f0c8b5 32.6%,#d57a6a 35.8%,#c05349 37.7%,#9c2d35 40.2%,#88202e 42.7%,#8b222f 45.3%,#a03137 47.2%,#c2554a 49.1%,#db8675 50.9%,#f0c5b2 52.8%,#f1d2c1 53.5%,#e4dddb 55.4%,#d2e0eb 57.9%,#8fbbd6 61.1%,#5998c1 64.9%,#4388b6 67.4%,#296998 76.3%,#1c4f7e 92.1%,#194a78 100.0%)"></i><i style="background:linear-gradient(90deg,#387ba9 0.0%,#3f83b2 16.8%,#4a8fbb 19.3%,#78adcd 22.5%,#d3e0ea 26.9%,#e8d9d3 30.7%,#f2d1be 32.6%,#d98373 35.8%,#c75b4e 37.7%,#992b34 40.8%,#871f2e 43.4%,#88202f 45.3%,#9a2b34 47.2%,#c5584c 49.7%,#dd8a79 51.6%,#f1cab7 53.5%,#ebd7cd 54.7%,#dedee1 56.6%,#cfdeea 58.5%,#8cb9d5 61.7%,#5897c1 65.5%,#4288b6 68.0%,#296998 76.9%,#1c4f7e 92.7%,#1a4a79 100.0%)"></i><i style="background:linear-gradient(90deg,#387ba9 0.0%,#3f84b2 17.4%,#468cba 19.3%,#66a1c6 21.8%,#a2c5dc 25.0%,#cbdce9 26.9%,#d7dfe6 28.2%,#e6dbd7 30.7%,#f3cfbc 33.2%,#d87f6f 36.4%,#c5584b 38.3%,#9f3037 40.8%,#89202f 43.4%,#89212f 45.9%,#9c2d35 47.8%,#c75c4f 50.3%,#df8f7e 52.2%,#f3cfbc 54.1%,#e1dddd 56.6%,#d4e0e9 58.5%,#bcd4e4 59.8%,#80b1d0 63.0%,#4f92bd 66.8%,#3f84b2 69.3%,#276695 78.8%,#1b4e7c 95.3%,#1a4b79 100.0%)"></i><i style="background:linear-gradient(90deg,#387aa9 0.0%,#4084b2 18.0%,#478dba 19.9%,#73a9cb 23.1%,#cfdeea 27.5%,#e7dbd5 31.3%,#f1d2c1 33.2%,#f1cab8 33.9%,#d67c6c 37.0%,#c2554a 38.9%,#9d2e35 41.5%,#88202e 44.0%,#8a212f 46.5%,#9e2f36 48.4%,#bf5248 50.3%,#d17162 51.6%,#e09483 52.8%,#f2d1bf 54.7%,#e0dede 57.3%,#d3e0ea 59.2%,#88b6d3 63.0%,#5495c0 66.8%,#4489b7 68.7%,#2b6b9a 76.9%,#1d517f 92.7%,#1a4b79 100.0%)"></i><i style="background:linear-gradient(90deg,#377aa9 0.0%,#3f83b1 18.0%,#498ebb 20.6%,#76abcc 23.7%,#d2e0eb 28.2%,#e8dad4 32.0%,#f2d1c0 33.9%,#ebb6a4 35.1%,#d47869 37.7%,#bf5248 39.6%,#9b2c35 42.1%,#87202e 44.6%,#8b222f 47.2%,#a03137 49.1%,#c2554a 50.9%,#da8575 52.8%,#efc4b2 54.7%,#f1d2c1 55.4%,#e4dddb 57.3%,#d2e0eb 59.8%,#90bbd6 63.0%,#5a99c2 66.8%,#4389b7 69.3%,#2a6a98 78.2%,#1c507f 94.0%,#1a4b7a 100.0%)"></i><i style="background:linear-gradient(90deg,#377aa8 0.0%,#3f83b2 18.7%,#4a8fbc 21.2%,#79adce 24.4%,#d3e0ea 28.8%,#e8d9d2 32.6%,#f3d0be 34.5%,#d98272 37.7%,#c75a4d 39.6%,#a13238 42.1%,#89212f 44.6%,#88202f 47.2%,#992b34 49.1%,#c5584b 51.6%,#dc8978 53.5%,#f1c9b6 55.4%,#ecd6cc 56.6%,#dedee0 58.5%,#d0dfea 60.4%,#8ebad5 63.6%,#5998c1 67.4%,#4388b6 69.9%,#2a6998 78.8%,#1c507f 94.6%,#1a4c7a 100.0%)"></i><i style="background:linear-gradient(90deg,#377aa8 0.0%,#3f84b2 19.3%,#468cba 21.2%,#66a1c6 23.7%,#a2c5dc 26.9%,#ccdce9 28.8%,#d8dfe6 30.1%,#e6dbd7 32.6%,#f2cebb 35.1%,#d87f6f 38.3%,#c4574b 40.2%,#9f3036 42.7%,#89202f 45.3%,#89212f 47.8%,#9b2c35 49.7%,#c75b4e 52.2%,#de8d7c 54.1%,#f2cdba 56.0%,#e2dddd 58.5%,#cddde9 61.1%,#8cb9d5 64.2%,#5897c1 68.0%,#4288b6 70.6%,#296998 79.4%,#1c507f 95.3%,#1b4c7b 100.0%)"></i><i style="background:linear-gradient(90deg,#3779a8 0.0%,#4084b2 19.9%,#478dba 21.8%,#73a9cb 25.0%,#cfdeea 29.4%,#e7dbd5 33.2%,#f1d2c1 35.1%,#f1cab8 35.8%,#d67c6c 38.9%,#c2554a 40.8%,#9d2e35 43.4%,#88202e 45.9%,#8a212f 48.4%,#9d2e36 50.3%,#c85e51 52.8%,#df9180 54.7%,#f3d0be 56.6%,#e1ddde 59.2%,#d4e0e9 61.1%,#bcd4e4 62.3%,#80b1d0 65.5%,#5092be 69.3%,#4084b2 71.8%,#276695 81.3%,#1b4e7d 97.8%,#1b4d7b 100.0%)"></i><i style="background:linear-gradient(90deg,#3679a8 0.0%,#3f83b1 19.9%,#488ebb 22.5%,#76abcc 25.6%,#d2e0eb 30.1%,#e7dad4 33.9%,#f2d1c0 35.8%,#ebb7a4 37.0%,#d57969 39.6%,#c05249 41.5%,#9b2c35 44.0%,#88202e 46.5%,#8a222f 49.1%,#9f3037 50.9%,#c05349 52.8%,#d98372 54.7%,#f2d1bf 57.3%,#e0dede 59.8%,#d3e0ea 61.7%,#88b7d3 65.5%,#5596c0 69.3%,#448ab8 71.2%,#2c6c9b 79.4%,#1d5180 95.3%,#1b4d7c 100.0%)"></i><i style="background:linear-gradient(90deg,#3679a7 0.0%,#3f83b2 20.6%,#4a8ebb 23.1%,#78adcd 26.3%,#d3e0ea 30.7%,#e8d9d3 34.5%,#f2d1be 36.4%,#da8373 39.6%,#c75b4e 41.5%,#9a2b34 44.6%,#871f2e 47.2%,#8b2230 49.7%,#a13238 51.6%,#c2554a 53.5%,#db8675 55.4%,#efc4b2 57.3%,#f1d2c1 57.9%,#e4dddb 59.8%,#d3e0ea 62.3%,#86b6d3 66.1%,#5495bf 69.9%,#4489b8 71.8%,#2a6a99 80.7%,#1d517f 96.5%,#1b4e7c 100.0%)"></i><i style="background:linear-gradient(90deg,#3679a7 0.0%,#3f84b2 21.2%,#4b8fbc 23.7%,#7baece 26.9%,#cadce8 30.7%,#d7dfe6 32.0%,#e9d9d1 35.1%,#f3d0bd 37.0%,#d88070 40.2%,#c6594c 42.1%,#a03137 44.6%,#89212f 47.2%,#88202f 49.7%,#992b34 51.6%,#c5574b 54.1%,#dc8978 56.0%,#f0c8b5 57.9%,#f0d2c3 58.5%,#e3dddc 60.4%,#d2e0eb 63.0%,#90bbd6 66.1%,#5a99c2 69.9%,#4489b7 72.5%,#2a6a99 81.3%,#1d517f 97.2%,#1c4f7d 100.0%)"></i><i style="background:linear-gradient(90deg,#3678a7 0.0%,#3f84b2 21.8%,#468cba 23.7%,#72a8cb 26.9%,#cddde9 31.3%,#e3dddc 34.5%,#f2cdba 37.7%,#d77e6e 40.8%,#c3564b 42.7%,#9e2f36 45.3%,#88202f 47.8%,#89202f 50.3%,#9b2c35 52.2%,#c65a4d 54.7%,#dd8b7b 56.6%,#f1cbb8 58.5%,#e7dbd5 60.4%,#d0dfea 63.6%,#8ebad5 66.8%,#5999c1 70.6%,#4389b7 73.1%,#2a6a99 82.0%,#1d517f 97.8%,#1c4f7e 100.0%)"></i><i style="background:linear-gradient(90deg,#3678a6 0.0%,#3e83b1 21.8%,#478dba 24.4%,#74aacc 27.5%,#d0dfea 32.0%,#e7dad5 35.8%,#f1d2c1 37.7%,#f1cab7 38.3%,#d67b6c 41.5%,#c1544a 43.4%,#9d2e35 45.9%,#88202e 48.4%,#89212f 50.9%,#9c2d35 52.8%,#c85c4f 55.4%,#de8e7d 57.3%,#f2cebb 59.2%,#e2dddd 61.7%,#cedeea 64.2%,#8db9d5 67.4%,#5998c1 71.2%,#4388b6 73.7%,#2a6a99 82.6%,#1d5180 98.4%,#1c507e 100.0%)"></i><i style="background:linear-gradient(90deg,#3578a6 0.0%,#3f83b1 22.5%,#488ebb 25.0%,#76abcc 28.2%,#d2e0eb 32.6%,#e8dad4 36.4%,#f2d1c0 38.3%,#ebb6a4 39.6%,#d57969 42.1%,#c05248 44.0%,#9b2c35 46.5%,#88202e 49.1%,#8a212f 51.6%,#9e2f36 53.5%,#c95f51 56.0%,#df9180 57.9%,#f3d0bd 59.8%,#e1dddd 62.3%,#d4e0e9 64.2%,#bdd4e4 65.5%,#81b2d1 68.7%,#5193be 72.5%,#4388b6 74.4%,#2a6a99 83.2%,#1c517f 100.0%)"></i><i style="background:linear-gradient(90deg,#3577a6 0.0%,#3f83b1 23.1%,#4a8ebb 25.6%,#78accd 28.8%,#d3e0ea 33.2%,#e8d9d3 37.0%,#f2d1bf 38.9%,#da8473 42.1%,#c75c4f 44.0%,#9a2c34 47.2%,#871f2e 49.7%,#8a222f 52.2%,#9f3037 54.1%,#c05248 56.0%,#d17162 57.3%,#e09483 58.5%,#f2d1bf 60.4%,#e1dede 63.0%,#d4e0e9 64.9%,#80b2d0 69.3%,#4a8fbc 73.7%,#3476a5 79.4%,#235e8d 89.6%,#1d5180 100.0%)"></i><i style="background:linear-gradient(90deg,#3577a5 0.0%,#3f84b2 23.7%,#4b8fbc 26.3%,#7aadce 29.4%,#d3e0ea 33.9%,#e5dcd8 37.0%,#f3d0bd 39.6%,#d98271 42.7%,#c65a4d 44.6%,#a03237 47.2%,#89212f 49.7%,#88202e 52.2%,#972a33 54.1%,#b54743 56.0%,#ca6355 57.3%,#e19785 59.2%,#eec1af 60.4%,#f2d1c0 61.1%,#e0dede 63.6%,#d3e0ea 65.5%,#89b8d4 69.3%,#5797c0 73.1%,#4388b6 75.6%,#2a6a99 84.5%,#1d5281 100.0%)"></i><i style="background:linear-gradient(90deg,#3477a5 0.0%,#3f84b2 24.4%,#468cba 26.3%,#66a1c6 28.8%,#a1c5db 32.0%,#cbdce9 33.9%,#d7dfe6 35.1%,#e6dbd7 37.7%,#f3cfbc 40.2%,#d88070 43.4%,#c5584b 45.3%,#9f3037 47.8%,#89202f 50.3%,#88202e 52.8%,#982b34 54.7%,#b64943 56.6%,#cb6457 57.9%,#e29988 59.8%,#efc3b1 61.1%,#f1d2c1 61.7%,#e4ddda 63.6%,#d3e0ea 66.1%,#89b7d4 69.9%,#5797c0 73.7%,#4288b6 76.3%,#2a6a99 85.1%,#1e5381 100.0%)"></i><i style="background:linear-gradient(90deg,#3476a5 0.0%,#3f84b2 25.0%,#468cba 26.9%,#72a8cb 30.1%,#cddde9 34.5%,#e3dddc 37.7%,#f2ccba 40.8%,#d77e6e 44.0%,#c3564b 45.9%,#9e2f36 48.4%,#88202f 50.9%,#88202f 53.5%,#992b34 55.4%,#c4574b 57.9%,#db8777 59.8%,#f0c5b3 61.7%,#f1d2c1 62.3%,#e4dddb 64.2%,#d3e0ea 66.8%,#88b7d3 70.6%,#5697c0 74.4%,#4288b6 76.9%,#2a6a99 85.8%,#1e5482 100.0%)"></i><i style="background:linear-gradient(90deg,#3476a4 0.0%,#4084b2 25.6%,#478dba 27.5%,#73a9cb 30.7%,#cfdeea 35.1%,#e7dbd5 38.9%,#f1d2c1 40.8%,#f1cab7 41.5%,#d67c6c 44.6%,#c2554a 46.5%,#9d2e36 49.1%,#88202f 51.6%,#88202f 54.1%,#9a2c34 56.0%,#c5584b 58.5%,#dc8878 60.4%,#f0c7b4 62.3%,#f1d2c2 63.0%,#e4dddb 64.9%,#d3e0ea 67.4%,#88b7d3 71.2%,#5696c0 75.0%,#4288b6 77.5%,#2a6a99 86.4%,#1e5483 100.0%)"></i><i style="background:linear-gradient(90deg,#3476a4 0.0%,#3e83b1 25.6%,#488dbb 28.2%,#75aacc 31.3%,#d1dfeb 35.8%,#e7dad5 39.6%,#f1d2c1 41.5%,#f1c8b6 42.1%,#d57a6b 45.3%,#c15449 47.2%,#9c2d35 49.7%,#88202e 52.2%,#89202f 54.7%,#9a2c34 56.6%,#c6594c 59.2%,#dc8a79 61.1%,#f1c8b5 63.0%,#f0d2c3 63.6%,#e4dddb 65.5%,#d2e0eb 68.0%,#92bcd7 71.2%,#5d9bc3 75.0%,#458bb9 77.5%,#2c6c9b 86.4%,#1f5584 100.0%)"></i><i style="background:linear-gradient(90deg,#3375a4 0.0%,#3f83b1 26.3%,#488ebb 28.8%,#76abcc 32.0%,#d2e0eb 36.4%,#e8dad4 40.2%,#f2d1c0 42.1%,#ebb7a4 43.4%,#d57969 45.9%,#c05249 47.8%,#9b2d35 50.3%,#88202e 52.8%,#89212f 55.4%,#9b2c35 57.3%,#c65a4c 59.8%,#dd8a7a 61.7%,#f1c9b6 63.6%,#ecd6cc 64.9%,#dfdee0 66.8%,#d2e0eb 68.7%,#92bcd7 71.8%,#5d9bc3 75.6%,#458bb9 78.2%,#2c6c9b 87.0%,#1f5685 100.0%)"></i><i style="background:linear-gradient(90deg,#3375a3 0.0%,#3f83b1 26.9%,#498ebb 29.4%,#77accd 32.6%,#d2e0eb 37.0%,#e8dad3 40.8%,#f2d1bf 42.7%,#e5a493 44.6%,#ce6a5c 47.2%,#bf5148 48.4%,#9b2c35 50.9%,#87202e 53.5%,#89212f 56.0%,#9b2d35 57.9%,#c75a4d 60.4%,#dd8b7a 62.3%,#f1cab7 64.2%,#ecd6cc 65.5%,#dfdee0 67.4%,#d2e0eb 69.3%,#92bcd7 72.5%,#5d9bc3 76.3%,#458bb9 78.8%,#2c6c9b 87.7%,#205786 100.0%)"></i><i style="background:linear-gradient(90deg,#3374a3 0.0%,#3f83b1 27.5%,#4a8ebb 30.1%,#78accd 33.2%,#d3e0ea 37.7%,#e8d9d3 41.5%,#f2d1bf 43.4%,#da8473 46.5%,#c75c4f 48.4%,#9a2c34 51.6%,#87202e 54.1%,#89212f 56.6%,#9c2d35 58.5%,#c75b4e 61.1%,#dd8c7b 63.0%,#f1cab7 64.9%,#ebd7cc 66.1%,#dfdee0 68.0%,#d2e0eb 69.9%,#92bcd7 73.1%,#5e9bc3 76.9%,#458bb9 79.4%,#2c6c9b 88.3%,#205887 100.0%)"></i><i style="background:linear-gradient(90deg,#3274a3 0.0%,#3f83b2 28.2%,#4a8fbc 30.7%,#79adcd 33.9%,#d3e0ea 38.3%,#e8d9d2 42.1%,#f2d0be 44.0%,#d98373 47.2%,#c75b4e 49.1%,#992b34 52.2%,#871f2e 54.7%,#89212f 57.3%,#9c2d35 59.2%,#c75b4e 61.7%,#dd8c7b 63.6%,#f1cab7 65.5%,#ebd7cc 66.8%,#dfdee0 68.7%,#d2e0eb 70.6%,#92bdd7 73.7%,#5e9bc3 77.5%,#458bb9 80.1%,#2c6d9b 88.9%,#215988 100.0%)"></i><i style="background:linear-gradient(90deg,#3274a2 0.0%,#3f83b2 28.8%,#4a8fbc 31.3%,#79adce 34.5%,#d3e0ea 38.9%,#e5dcd8 42.1%,#f3d0be 44.6%,#d98272 47.8%,#c65a4d 49.7%,#a13238 52.2%,#89212f 54.7%,#89212f 57.9%,#9c2d35 59.8%,#c75b4e 62.3%,#dd8c7b 64.2%,#f1cab7 66.1%,#ecd6cc 67.4%,#dfdee0 69.3%,#d2e0eb 71.2%,#88b7d3 75.0%,#5897c1 78.8%,#4389b7 81.3%,#2b6b9a 90.2%,#215b89 100.0%)"></i><i style="background:linear-gradient(90deg,#3273a2 0.0%,#3f84b2 29.4%,#4b8fbc 32.0%,#7aaece 35.1%,#d3e0ea 39.6%,#e6dcd8 42.7%,#f3d0bd 45.3%,#d98171 48.4%,#c6594c 50.3%,#a03137 52.8%,#89212f 55.4%,#89212f 58.5%,#9c2d35 60.4%,#c75b4e 63.0%,#dd8b7b 64.9%,#f1cab7 66.8%,#ecd6cc 68.0%,#dfdee0 69.9%,#d3e0ea 71.8%,#89b7d4 75.6%,#5898c1 79.4%,#4389b7 82.0%,#2b6c9b 90.8%,#225c8b 100.0%)"></i><i style="background:linear-gradient(90deg,#3173a1 0.0%,#3f84b2 30.1%,#4b8fbc 32.6%,#7aaece 35.8%,#cadbe8 39.6%,#d4e0ea 40.2%,#e6dcd8 43.4%,#f3d0bd 45.9%,#d88171 49.1%,#c6594c 50.9%,#a03137 53.5%,#89212f 56.0%,#89212f 59.2%,#9c2d35 61.1%,#c75a4d 63.6%,#dd8b7a 65.5%,#f1c9b6 67.4%,#f0d2c3 68.0%,#e4dddb 69.9%,#d3e0ea 72.5%,#8ab8d4 76.3%,#5998c1 80.1%,#4489b7 82.6%,#2c6c9b 91.5%,#225d8c 100.0%)"></i><i style="background:linear-gradient(90deg,#3172a1 0.0%,#3f84b2 30.7%,#4b8fbc 33.2%,#7baece 36.4%,#cadce8 40.2%,#d7dfe6 41.5%,#e9d9d1 44.6%,#f3d0bd 46.5%,#d88070 49.7%,#c6594c 51.6%,#a03137 54.1%,#89212f 56.6%,#89212f 59.8%,#9c2d35 61.7%,#c65a4d 64.2%,#dd8a79 66.1%,#f0c7b5 68.0%,#f0d2c2 68.7%,#e4dddb 70.6%,#d3e0ea 73.1%,#8bb9d4 76.9%,#5a99c2 80.7%,#448ab8 83.2%,#2c6c9b 92.1%,#235e8d 100.0%)"></i><i style="background:linear-gradient(90deg,#3172a1 0.0%,#3f84b2 31.3%,#4b8fbc 33.9%,#7baece 37.0%,#cadce9 40.8%,#d7dfe6 42.1%,#e9d9d1 45.3%,#f3d0bd 47.2%,#d88070 50.3%,#c6594c 52.2%,#a03137 54.7%,#89212f 57.3%,#89212f 60.4%,#9b2c35 62.3%,#c6594c 64.9%,#dc8978 66.8%,#f0c6b3 68.7%,#f1d2c1 69.3%,#e0dedf 71.8%,#d4e0ea 73.7%,#83b3d1 78.2%,#4e91bd 82.6%,#4085b3 85.1%,#286897 95.3%,#24608f 100.0%)"></i><i style="background:linear-gradient(90deg,#3072a0 0.0%,#3f84b2 32.0%,#4b8fbc 34.5%,#7baece 37.7%,#cadce9 41.5%,#d7dfe6 42.7%,#e9d9d1 45.9%,#f3d0bd 47.8%,#d88070 50.9%,#c6594c 52.8%,#a03137 55.4%,#89212f 57.9%,#89212f 61.1%,#9a2c34 63.0%,#c5584b 65.5%,#db8777 67.4%,#efc4b1 69.3%,#f1d2c1 69.9%,#e0dede 72.5%,#d4e0e9 74.4%,#bed5e4 75.6%,#84b4d2 78.8%,#5092be 83.2%,#4085b3 85.8%,#296897 95.9%,#246190 100.0%)"></i><i style="background:linear-gradient(90deg,#3071a0 0.0%,#3f84b2 32.6%,#4b8fbc 35.1%,#7aaece 38.3%,#cadce8 42.1%,#d4e0ea 42.7%,#e6dcd8 45.9%,#f3d0bd 48.4%,#d88171 51.6%,#c6594c 53.5%,#a03137 56.0%,#89212f 58.5%,#89202f 61.7%,#9a2b34 63.6%,#c4564b 66.1%,#e29887 68.7%,#efc2af 69.9%,#f2d1bf 70.6%,#e1dede 73.1%,#cedeea 75.6%,#90bbd6 78.8%,#5e9bc3 82.6%,#4389b7 85.8%,#2b6b9a 95.3%,#256392 100.0%)"></i><i style="background:linear-gradient(90deg,#3071a0 0.0%,#3f84b2 33.2%,#4b8fbc 35.8%,#7aaece 38.9%,#d3e0ea 43.4%,#e6dcd8 46.5%,#f3d0bd 49.1%,#d98171 52.2%,#c6594c 54.1%,#a03137 56.6%,#89212f 59.2%,#88202f 62.3%,#992b34 64.2%,#c2554a 66.8%,#e19685 69.3%,#f2d1be 71.2%,#e2dddd 73.7%,#d0dfea 76.3%,#92bcd6 79.4%,#5f9cc4 83.2%,#448ab8 86.4%,#2c6c9b 95.9%,#266594 100.0%)"></i><i style="background:linear-gradient(90deg,#2f709f 0.0%,#3f83b2 33.9%,#4a8fbc 36.4%,#79adce 39.6%,#d3e0ea 44.0%,#e5dcd8 47.2%,#f3d0be 49.7%,#d98272 52.8%,#c75a4d 54.7%,#992b34 57.9%,#871f2e 60.4%,#88202e 63.0%,#982a34 64.9%,#b54743 66.8%,#ca6154 68.0%,#e09382 69.9%,#f3d0bd 71.8%,#e2dddc 74.4%,#d2e0eb 76.9%,#94bed7 80.1%,#619ec4 83.9%,#458ab8 87.0%,#2c6c9b 96.5%,#276695 100.0%)"></i><i style="background:linear-gradient(90deg,#2f709f 0.0%,#3f83b2 34.5%,#4a8fbc 37.0%,#79adcd 40.2%,#d3e0ea 44.6%,#e8d9d2 48.4%,#f2d0be 50.3%,#d98373 53.5%,#c75b4e 55.4%,#9a2b34 58.5%,#871f2e 61.1%,#8b222f 64.2%,#9f3037 66.1%,#c95f51 68.7%,#df8f7e 70.6%,#f2ccb9 72.5%,#e3dddc 75.0%,#d3e0ea 77.5%,#8cb9d5 81.3%,#5696c0 85.8%,#4388b7 88.3%,#2c6c9b 97.8%,#296897 100.0%)"></i><i style="background:linear-gradient(90deg,#2f709e 0.0%,#3f83b1 35.1%,#498ebb 37.7%,#78accd 40.8%,#d3e0ea 45.3%,#e8d9d3 49.1%,#f2d1bf 50.9%,#da8474 54.1%,#c75c4f 56.0%,#9a2c34 59.2%,#87202e 61.7%,#8a212f 64.9%,#9d2f36 66.8%,#c75c4f 69.3%,#dd8c7b 71.2%,#f1c8b6 73.1%,#f0d2c2 73.7%,#e0dedf 76.3%,#d4e0e9 78.2%,#85b5d2 82.6%,#5294bf 87.0%,#4489b8 88.9%,#2c6d9b 98.4%,#2a6a99 100.0%)"></i><i style="background:linear-gradient(90deg,#2e6f9e 0.0%,#3f83b1 35.8%,#498ebb 38.3%,#77abcd 41.5%,#d2e0eb 45.9%,#e8dad3 49.7%,#f2d1bf 51.6%,#ebb5a3 52.8%,#d47869 55.4%,#bf5248 57.3%,#9b2c35 59.8%,#88202e 62.3%,#8a212f 65.5%,#9c2d35 67.4%,#c6594c 69.9%,#e39b8a 72.5%,#efc4b1 73.7%,#f1d1c0 74.4%,#e1dede 76.9%,#cfdeea 79.4%,#92bcd7 82.6%,#619dc4 86.4%,#458bb9 89.6%,#2d6d9c 99.1%,#2c6c9b 100.0%)"></i><i style="background:linear-gradient(90deg,#2e6f9e 0.0%,#3e83b1 36.4%,#488dbb 38.9%,#75abcc 42.1%,#d2e0eb 46.5%,#e7dad4 50.3%,#f1d1c0 52.2%,#f0c7b5 52.8%,#db8776 55.4%,#c05349 57.9%,#9c2d35 60.4%,#88202e 63.0%,#89212f 66.1%,#9a2c34 68.0%,#c3564b 70.6%,#e19785 73.1%,#f2d0be 75.0%,#e2dddd 77.5%,#d2e0eb 80.1%,#8bb9d4 83.9%,#5697c0 88.3%,#4489b7 90.8%,#2e6e9d 100.0%)"></i><i style="background:linear-gradient(90deg,#2e6e9d 0.0%,#4084b2 37.7%,#478dba 39.6%,#74aacb 42.7%,#d0dfea 47.2%,#e7dad5 50.9%,#f1d2c1 52.8%,#f1cab7 53.5%,#d67b6c 56.6%,#c2554a 58.5%,#9d2e36 61.1%,#88202f 63.6%,#88202f 66.8%,#982b34 68.7%,#c05349 71.2%,#d88070 73.1%,#f2cdba 75.6%,#e3dddc 78.2%,#d3e0ea 80.7%,#85b5d2 85.1%,#5394bf 89.6%,#4288b6 92.1%,#2f719f 100.0%)"></i><i style="background:linear-gradient(90deg,#2d6e9d 0.0%,#3f84b2 38.3%,#468cba 40.2%,#72a8cb 43.4%,#cdddea 47.8%,#e6dbd6 51.6%,#f2ccb9 54.1%,#d77e6e 57.3%,#c3564b 59.2%,#9e2f36 61.7%,#89202f 64.2%,#88202e 67.4%,#962933 69.3%,#b24441 71.2%,#c85d50 72.5%,#dd8c7b 74.4%,#f0c7b5 76.3%,#f1d2c2 76.9%,#e0dede 79.4%,#cedeea 82.0%,#93bdd7 85.1%,#629ec5 88.9%,#468cba 92.1%,#3173a2 100.0%)"></i><i style="background:linear-gradient(90deg,#2d6e9c 0.0%,#3f84b2 38.9%,#4b90bc 41.5%,#7baece 44.6%,#cbdce9 48.4%,#d7dfe6 49.7%,#e6dbd7 52.2%,#f3cfbc 54.7%,#d88070 57.9%,#c5584c 59.8%,#a03137 62.3%,#89212f 64.9%,#8a212f 68.7%,#9c2d35 70.6%,#c6584c 73.1%,#e29988 75.6%,#f2d1bf 77.5%,#e2dddd 80.1%,#d2e0eb 82.6%,#8dbad5 86.4%,#5998c1 90.8%,#458bb9 93.4%,#3476a4 100.0%)"></i><i style="background:linear-gradient(90deg,#2d6d9c 0.0%,#3f83b2 39.6%,#4a8fbc 42.1%,#79adcd 45.3%,#d3e0ea 49.7%,#e8d9d2 53.5%,#f3d0be 55.4%,#d98372 58.5%,#c75b4e 60.4%,#9a2b34 63.6%,#871f2e 66.1%,#89202f 69.3%,#992b34 71.2%,#c2544a 73.7%,#e09281 76.3%,#f2cdba 78.2%,#e4dddb 80.7%,#d4e0e9 83.2%,#88b7d3 87.7%,#5696c0 92.1%,#4489b8 94.6%,#3679a7 100.0%)"></i><i style="background:linear-gradient(90deg,#2d6d9c 0.0%,#3f83b1 40.2%,#498ebb 42.7%,#77abcd 45.9%,#d2e0eb 50.3%,#e8dad3 54.1%,#f2d1bf 56.0%,#ebb5a3 57.3%,#d47869 59.8%,#bf5248 61.7%,#9b2c35 64.2%,#88202e 66.8%,#88202e 69.9%,#972a33 71.8%,#b24441 73.7%,#c85d50 75.0%,#dd8b7a 76.9%,#f0c6b3 78.8%,#f1d2c1 79.4%,#e1ddde 82.0%,#d2e0eb 84.5%,#97bfd8 87.7%,#66a1c6 91.5%,#458bb9 95.3%,#397caa 100.0%)"></i><i style="background:linear-gradient(90deg,#2c6d9b 0.0%,#4084b2 41.5%,#478dba 43.4%,#74aacc 46.5%,#d0dfea 50.9%,#e7dad5 54.7%,#f1d2c1 56.6%,#f1c9b7 57.3%,#d67b6c 60.4%,#c2554a 62.3%,#9d2e36 64.9%,#88202f 67.4%,#8a212f 71.2%,#9c2d35 73.1%,#c5584b 75.6%,#e19785 78.2%,#f3d0bd 80.1%,#e3dddc 82.6%,#d4e0ea 85.1%,#89b7d4 89.6%,#5897c1 94.0%,#458ab9 96.5%,#3c7fae 100.0%)"></i><i style="background:linear-gradient(90deg,#2c6c9b 0.0%,#3f84b2 42.1%,#468cba 44.0%,#66a1c6 46.5%,#a2c6dc 49.7%,#ccdde9 51.6%,#dbdee3 53.5%,#e9d8d0 56.0%,#f2cdba 57.9%,#d77f6f 61.1%,#c4574b 63.0%,#9f3037 65.5%,#89212f 68.0%,#88202f 71.8%,#992b34 73.7%,#c05349 76.3%,#d77e6e 78.2%,#e5a290 79.4%,#f1c8b6 80.7%,#f1d2c2 81.3%,#e1dede 83.9%,#d2e0eb 86.4%,#98c0d8 89.6%,#68a2c7 93.4%,#448ab8 97.8%,#3f83b1 100.0%)"></i><i style="background:linear-gradient(90deg,#2c6c9b 0.0%,#3f83b2 42.7%,#4a8fbc 45.3%,#79adcd 48.4%,#d3e0ea 52.8%,#e8d9d2 56.6%,#f3d0be 58.5%,#d98372 61.7%,#c75b4e 63.6%,#9a2b34 66.8%,#87202e 69.3%,#8a222f 73.1%,#9d2e36 75.0%,#c6594c 77.5%,#e29887 80.1%,#f3d0be 82.0%,#e3dddc 84.5%,#d4e0e9 87.0%,#b4cfe1 88.9%,#83b3d1 92.1%,#5595c0 96.5%,#448ab8 99.1%,#4287b5 100.0%)"></i><i style="background:linear-gradient(90deg,#2b6c9a 0.0%,#3e83b1 43.4%,#488dbb 45.9%,#75abcc 49.1%,#d2e0eb 53.5%,#e7dad4 57.3%,#f2d1c0 59.2%,#ebb7a5 60.4%,#d5796a 63.0%,#c05349 64.9%,#9c2d35 67.4%,#88202e 69.9%,#89212f 73.7%,#992b34 75.6%,#c15349 78.2%,#de8e7d 80.7%,#f0c8b5 82.6%,#f1d2c2 83.2%,#e1dddd 85.8%,#d3e0eb 88.3%,#91bcd6 92.1%,#5f9cc3 96.5%,#468cba 100.0%)"></i><i style="background:linear-gradient(90deg,#2b6b9a 0.0%,#3f84b2 44.6%,#468cba 46.5%,#67a1c7 49.1%,#a4c6dc 52.2%,#cdddea 54.1%,#e6dbd6 57.9%,#f2ccb9 60.4%,#d77e6e 63.6%,#c4574b 65.5%,#9f3036 68.0%,#89202f 70.6%,#88202e 74.4%,#962933 76.3%,#b04240 78.2%,#c6594c 79.4%,#e19786 82.0%,#f3d0bd 83.9%,#e4dddb 86.4%,#d0dfea 89.6%,#8fbbd6 93.4%,#5e9cc3 97.8%,#4f92bd 100.0%)"></i><i style="background:linear-gradient(90deg,#2b6b9a 0.0%,#3f83b1 45.3%,#4a8fbc 47.8%,#79adcd 50.9%,#d3e0ea 55.4%,#e5dcd8 58.5%,#f3d0be 61.1%,#d98272 64.2%,#c75b4e 66.1%,#9a2c34 69.3%,#87202e 71.8%,#89212f 75.6%,#a13338 78.2%,#c96052 80.7%,#de8c7b 82.6%,#efc5b2 84.5%,#f1d1c0 85.1%,#e2dddc 87.7%,#d4e0e9 90.2%,#85b5d2 95.3%,#5898c1 100.0%)"></i><i style="background:linear-gradient(90deg,#2b6b9a 0.0%,#3e83b1 45.9%,#478dbb 48.4%,#75aacc 51.6%,#d1dfeb 56.0%,#e7dad4 59.8%,#f1d1c0 61.7%,#f1c8b5 62.3%,#d57a6b 65.5%,#c15449 67.4%,#9d2e35 69.9%,#88202f 72.5%,#88202e 76.3%,#952833 78.2%,#af413f 80.1%,#c4574b 81.3%,#e09382 83.9%,#f1cbb8 85.8%,#e9d9d2 87.7%,#dadfe4 90.2%,#d3e0ea 91.5%,#8cb9d5 95.9%,#639fc5 100.0%)"></i><i style="background:linear-gradient(90deg,#2a6a99 0.0%,#3f84b2 47.2%,#4b8fbc 49.7%,#7baece 52.8%,#cbdce9 56.6%,#d7dfe6 57.9%,#e6dbd7 60.4%,#f3cfbc 63.0%,#d88070 66.1%,#c5584c 68.0%,#a03137 70.6%,#89212f 73.1%,#88202f 77.5%,#a03137 80.1%,#c75c4f 82.6%,#e29988 85.1%,#f3d0bd 87.0%,#e0dede 90.2%,#d2e0eb 92.7%,#94bed7 96.5%,#70a7ca 100.0%)"></i><i style="background:linear-gradient(90deg,#2a6a99 0.0%,#3e83b1 47.8%,#488dbb 50.3%,#76abcc 53.5%,#d2e0eb 57.9%,#e8dad4 61.7%,#f2d1bf 63.6%,#ebb6a3 64.9%,#d47869 67.4%,#c05249 69.3%,#9c2d35 71.8%,#88202e 74.4%,#8a212f 78.8%,#9a2c34 80.7%,#c15349 83.2%,#dd8c7b 85.8%,#efc3b0 87.7%,#f2d1bf 88.3%,#e0dedf 91.5%,#d2e0eb 94.0%,#94bed7 97.8%,#7db0cf 100.0%)"></i><i style="background:linear-gradient(90deg,#2a6a99 0.0%,#3f84b2 49.1%,#468cba 50.9%,#66a1c6 53.5%,#a3c6dc 56.6%,#ccdde9 58.5%,#dbdee3 60.4%,#e9d8d0 63.0%,#f2cdba 64.9%,#d77f6f 68.0%,#c5574b 69.9%,#9f3037 72.5%,#89212f 75.0%,#88202e 79.4%,#9d2e35 82.0%,#c3564b 84.5%,#df907e 87.0%,#f0c6b3 88.9%,#f1d1c0 89.6%,#e3dddc 92.1%,#d2e0eb 95.3%,#95bed8 99.1%,#8dbad5 100.0%)"></i><i style="background:linear-gradient(90deg,#2a6a99 0.0%,#3f83b1 49.7%,#488ebb 52.2%,#77abcd 55.4%,#d2e0eb 59.8%,#e8dad3 63.6%,#f2d1bf 65.5%,#ebb5a3 66.8%,#d47869 69.3%,#bf5248 71.2%,#9c2d35 73.7%,#88202e 76.3%,#88202f 80.7%,#9f3036 83.2%,#c6594c 85.8%,#e09381 88.3%,#f1c8b5 90.2%,#f1d2c1 90.8%,#e3dddc 93.4%,#d2e0eb 96.5%,#9fc4db 100.0%)"></i><i style="background:linear-gradient(90deg,#2a6998 0.0%,#3f84b2 50.9%,#468bb9 52.8%,#66a1c6 55.4%,#a2c5dc 58.5%,#ccdde9 60.4%,#dbdee3 62.3%,#e9d8d0 64.9%,#f2cebb 66.8%,#d87f6f 69.9%,#c5584b 71.8%,#a03137 74.4%,#89212f 76.9%,#89212f 82.0%,#a03137 84.5%,#c75b4e 87.0%,#e09483 89.6%,#f1c9b7 91.5%,#edd5c9 92.7%,#dfdedf 95.3%,#d2e0eb 97.8%,#b4cfe1 100.0%)"></i><i style="background:linear-gradient(90deg,#296998 0.0%,#3e83b1 51.6%,#488dbb 54.1%,#75abcc 57.3%,#d2e0eb 61.7%,#e8dad4 65.5%,#f2d1c0 67.4%,#ebb7a5 68.7%,#d5796a 71.2%,#c15349 73.1%,#9c2d35 75.6%,#88202f 78.2%,#89212f 83.2%,#a13238 85.8%,#c75c4f 88.3%,#e19584 90.8%,#f1c9b6 92.7%,#edd5c8 94.0%,#e0dedf 96.5%,#d3e0ea 99.1%,#cbdce9 100.0%)"></i><i style="background:linear-gradient(90deg,#296998 0.0%,#3f83b2 52.8%,#4a8fbc 55.4%,#7aaece 58.5%,#d3e0ea 63.0%,#e6dcd8 66.1%,#f3d0bd 68.7%,#d98171 71.8%,#c65a4d 73.7%,#9a2b34 76.9%,#87202e 79.4%,#8a212f 84.5%,#a23338 87.0%,#c75c4f 89.6%,#e09483 92.1%,#f0c8b5 94.0%,#f1d2c1 94.6%,#e0dede 97.8%,#d7dfe7 100.0%)"></i><i style="background:linear-gradient(90deg,#296998 0.0%,#3e82b1 53.5%,#468cba 56.0%,#73a9cb 59.2%,#cfdeea 63.6%,#e7dbd6 67.4%,#f1d2c2 69.3%,#f1cbb8 69.9%,#d67d6d 73.1%,#c3564a 75.0%,#9e2f36 77.5%,#89202f 80.1%,#87202e 85.1%,#9a2c34 87.7%,#c75c4e 90.8%,#e09281 93.4%,#f0c5b2 95.3%,#f2d1bf 95.9%,#e2dddd 99.1%,#dedee0 100.0%)"></i><i style="background:linear-gradient(90deg,#296998 0.0%,#3d81b0 54.1%,#488dbb 57.3%,#76abcc 60.4%,#d2e0eb 64.9%,#e8dad3 68.7%,#f2d1bf 70.6%,#ebb5a3 71.8%,#d47869 74.4%,#c05349 76.3%,#9c2d35 78.8%,#88202e 81.3%,#8a212f 87.0%,#a13338 89.6%,#c65a4d 92.1%,#df8f7e 94.6%,#f3d0bd 97.2%,#e6dbd7 100.0%)"></i><i style="background:linear-gradient(90deg,#296997 0.0%,#3d81af 54.7%,#458bb9 57.9%,#649fc5 60.4%,#9fc4db 63.6%,#d3e0ea 66.1%,#e5dcd8 69.3%,#f3d0bd 71.8%,#d98272 75.0%,#c75b4d 76.9%,#9a2c34 80.1%,#87202e 82.6%,#8a212f 88.3%,#a03137 90.8%,#c5574b 93.4%,#e29b89 96.5%,#f1cbb8 98.4%,#eed5c8 100.0%)"></i><i style="background:linear-gradient(90deg,#296897 0.0%,#3678a6 36.4%,#3f84b2 57.3%,#468bb9 59.2%,#66a1c6 61.7%,#a3c6dc 64.9%,#cddde9 66.8%,#dbdee3 68.7%,#ead8d0 71.2%,#f2cdba 73.1%,#d77f6f 76.3%,#c5584b 78.2%,#a03137 80.7%,#89212f 83.2%,#89212f 89.6%,#9e3036 92.1%,#c2544a 94.6%,#e09483 97.8%,#efc3b1 100.0%)"></i><i style="background:linear-gradient(90deg,#296897 0.0%,#3476a5 35.1%,#3f84b2 58.5%,#468cba 60.4%,#73a9cb 63.6%,#cfdeea 68.0%,#e7dad5 71.8%,#f1d2c1 73.7%,#f1cab7 74.4%,#d67c6d 77.5%,#c3564a 79.4%,#9e2f36 82.0%,#89212f 84.5%,#88202f 90.8%,#9c2d35 93.4%,#c75b4e 96.5%,#e39c8a 100.0%)"></i><i style="background:linear-gradient(90deg,#296897 0.0%,#3476a4 35.1%,#3e82b1 59.2%,#478dba 61.7%,#75aacc 64.9%,#d1e0eb 69.3%,#e7dad4 73.1%,#f1d1c0 75.0%,#f0c8b5 75.6%,#d57a6b 78.8%,#c15449 80.7%,#9d2e36 83.2%,#88202f 85.8%,#88202e 92.1%,#992b34 94.6%,#c2554a 97.8%,#d57969 100.0%)"></i><i style="background:linear-gradient(90deg,#286897 0.0%,#3374a3 34.5%,#3e83b1 60.4%,#488dbb 63.0%,#76abcc 66.1%,#d2e0eb 70.6%,#e8dad4 74.4%,#f2d1c0 76.3%,#ebb6a4 77.5%,#d57969 80.1%,#c05349 82.0%,#9d2e35 84.5%,#88202f 87.0%,#89212f 94.0%,#9d2e35 96.5%,#c6594c 100.0%)"></i><i style="background:linear-gradient(90deg,#286897 0.0%,#3274a3 35.1%,#3e83b1 61.7%,#488dbb 64.2%,#76abcc 67.4%,#d2e0eb 71.8%,#e8dad3 75.6%,#f2d1bf 77.5%,#e5a593 79.4%,#ce6b5d 82.0%,#c05349 83.2%,#9c2d35 85.8%,#88202f 88.3%,#88202e 95.3%,#982b34 97.8%,#ae403f 100.0%)"></i><i style="background:linear-gradient(90deg,#286897 0.0%,#3273a2 35.1%,#3e83b1 63.0%,#488dbb 65.5%,#76abcc 68.7%,#d2e0eb 73.1%,#e8dad3 76.9%,#f2d1bf 78.8%,#e5a593 80.7%,#ce6b5d 83.2%,#c05349 84.5%,#9c2d35 87.0%,#88202f 89.6%,#88202f 97.2%,#9a2c34 100.0%)"></i><i style="background:linear-gradient(90deg,#286897 0.0%,#3173a1 35.8%,#3e82b1 64.2%,#478dba 66.8%,#75abcc 69.9%,#d2e0eb 74.4%,#e8dad4 78.2%,#f2d1c0 80.1%,#ebb6a4 81.3%,#d5796a 83.9%,#c15349 85.8%,#9d2e36 88.3%,#88202f 90.8%,#89212f 99.1%,#8c2230 100.0%)"></i><i style="background:linear-gradient(90deg,#286897 0.0%,#3172a1 36.4%,#3f84b2 66.1%,#468cba 68.0%,#74aacc 71.2%,#d1dfeb 75.6%,#e7dad4 79.4%,#f1d1c0 81.3%,#f0c8b5 82.0%,#d67b6b 85.1%,#c2554a 87.0%,#9e2f36 89.6%,#89212f 92.1%,#871f2e 100.0%)"></i><i style="background:linear-gradient(90deg,#286897 0.0%,#3072a0 37.0%,#3f83b2 67.4%,#468bb9 69.3%,#67a1c7 71.8%,#a4c7dc 75.0%,#cedeea 76.9%,#e7dbd6 80.7%,#f1d2c2 82.6%,#f1cbb8 83.2%,#d77d6d 86.4%,#c4574b 88.3%,#9f3137 90.8%,#89212f 93.4%,#861f2e 100.0%)"></i><i style="background:linear-gradient(90deg,#286896 0.0%,#3071a0 37.7%,#3f83b1 68.7%,#4a8fbc 71.2%,#7aaece 74.4%,#cbdce9 78.2%,#d7dfe6 79.4%,#e6dbd7 82.0%,#f3cfbc 84.5%,#d88070 87.7%,#c65a4c 89.6%,#9a2c34 92.7%,#88202e 95.3%,#861f2e 100.0%)"></i><i style="background:linear-gradient(90deg,#286796 0.0%,#3071a0 38.9%,#3e82b1 69.9%,#488dbb 72.5%,#76abcc 75.6%,#d3e0ea 80.1%,#e8d9d3 83.9%,#f2d1bf 85.8%,#da8574 88.9%,#c85e50 90.8%,#9c2d35 94.0%,#88202f 96.5%,#861f2e 100.0%)"></i><i style="background:linear-gradient(90deg,#286796 0.0%,#2f709f 39.6%,#3f83b2 71.8%,#458bb9 73.7%,#67a1c7 76.3%,#a5c7dc 79.4%,#cfdeea 81.3%,#e7dad5 85.1%,#f1d2c1 87.0%,#f1cab7 87.7%,#d67d6d 90.8%,#c4564b 92.7%,#9f3137 95.3%,#8a212f 97.8%,#861f2e 100.0%)"></i><i style="background:linear-gradient(90deg,#286796 0.0%,#2f709f 40.8%,#3e82b1 73.1%,#488dbb 75.6%,#78accd 78.8%,#d3e0ea 83.2%,#e5dcd8 86.4%,#f3d0be 88.9%,#d98373 92.1%,#c75c4f 94.0%,#9c2d35 97.2%,#88202f 100.0%)"></i><i style="background:linear-gradient(90deg,#286796 0.0%,#2f709e 42.1%,#3f83b1 75.0%,#4b8fbc 77.5%,#7dafcf 80.7%,#cfdeea 84.5%,#e7dbd5 88.3%,#f1d2c1 90.2%,#f1cab7 90.8%,#d77d6d 94.0%,#c4574b 95.9%,#a03137 98.4%,#922732 100.0%)"></i><i style="background:linear-gradient(90deg,#286796 0.0%,#2e6f9e 43.4%,#3f84b2 76.9%,#468cba 78.8%,#6aa3c8 81.3%,#b7d1e2 85.1%,#d2e0eb 86.4%,#e8dad3 90.2%,#f2d1bf 92.1%,#da8575 95.3%,#c05349 97.8%,#a5363a 100.0%)"></i><i style="background:linear-gradient(90deg,#286796 0.0%,#2e6f9e 44.6%,#3e82b1 78.2%,#488dbb 80.7%,#78accd 83.9%,#d3e0ea 88.3%,#e6dcd8 91.5%,#f3d0bd 94.0%,#d98272 97.2%,#c75b4e 99.1%,#be5047 100.0%)"></i><i style="background:linear-gradient(90deg,#286796 0.0%,#2e6e9d 45.9%,#3e82b1 80.1%,#498ebb 82.6%,#7aadce 85.8%,#cbdce9 89.6%,#d8dfe6 90.8%,#e6dbd7 93.4%,#f2cdba 95.9%,#d87f6f 99.1%,#d27264 100.0%)"></i><i style="background:linear-gradient(90deg,#286796 0.0%,#2e6e9d 47.8%,#3e82b1 82.0%,#498ebb 84.5%,#7aaece 87.7%,#ccdde9 91.5%,#dcdee3 93.4%,#ead8d0 95.9%,#f2ccb9 97.8%,#e39c8a 100.0%)"></i><i style="background:linear-gradient(90deg,#286796 0.0%,#2d6e9d 49.7%,#3e82b0 83.9%,#488dbb 86.4%,#79adce 89.6%,#cbdce9 93.4%,#d8dfe6 94.6%,#e6dbd6 97.2%,#f2cdba 100.0%)"></i><i style="background:linear-gradient(90deg,#286796 0.0%,#2d6e9d 51.6%,#3d82b0 85.8%,#468cba 88.3%,#6ba4c8 90.8%,#bad3e3 94.6%,#d3e0ea 95.9%,#e6dbd8 99.1%,#e9d9d1 100.0%)"></i><i style="background:linear-gradient(90deg,#286796 0.0%,#2d6e9c 53.5%,#3e82b1 88.3%,#4b8fbc 90.8%,#7eb1d0 94.0%,#d2e0eb 97.8%,#dddee1 100.0%)"></i><i style="background:linear-gradient(90deg,#286796 0.0%,#2d6d9c 56.0%,#3d81b0 90.2%,#478dba 92.7%,#6da5c9 95.3%,#bdd4e4 99.1%,#ccdde9 100.0%)"></i></div><div class="hm" style="left:29px;top:201px"><i style="background:linear-gradient(90deg,#69a2c7 0.0%,#458bb9 2.8%,#246190 8.5%,#174472 14.2%,#123a68 21.2%,#15416f 28.2%,#205887 33.2%,#3374a3 37.0%,#4c90bc 40.2%,#c1d7e6 47.8%,#d2e0eb 49.1%,#e9d9d2 56.6%,#f2cebb 61.7%,#dc8a79 71.2%,#c2544a 82.0%,#942832 93.4%,#7a172a 100.0%)"></i><i style="background:linear-gradient(90deg,#6da5c9 0.0%,#488dbb 2.8%,#256392 8.5%,#174573 14.2%,#123a68 21.2%,#15406e 28.2%,#1f5685 33.2%,#3172a1 37.0%,#478dba 40.2%,#bdd4e4 47.8%,#d3e0ea 49.7%,#e9d8d0 57.3%,#f3d0bd 61.7%,#dc8877 71.8%,#c05349 82.6%,#932732 94.0%,#7b182a 100.0%)"></i><i style="background:linear-gradient(90deg,#71a8ca 0.0%,#458ab8 3.5%,#24608f 9.2%,#174472 14.9%,#123a68 21.8%,#15416f 28.8%,#205987 33.9%,#3375a3 37.7%,#4d90bc 40.8%,#c2d7e6 48.4%,#d2e0eb 49.7%,#e9d9d1 57.3%,#f2cebb 62.3%,#dc8a79 71.8%,#c2544a 82.6%,#942832 94.0%,#7d192b 100.0%)"></i><i style="background:linear-gradient(90deg,#75abcc 0.0%,#478dba 3.5%,#235e8d 9.8%,#164371 15.5%,#123a68 22.5%,#164270 29.4%,#215b8a 34.5%,#3e82b0 39.6%,#488dbb 40.8%,#bdd4e4 48.4%,#cfdeea 49.7%,#e8d9d3 57.3%,#f3d0bd 62.3%,#dc8877 72.5%,#c05349 83.2%,#932732 94.6%,#7e192b 100.0%)"></i><i style="background:linear-gradient(90deg,#7aadce 0.0%,#448ab8 4.1%,#24608f 9.8%,#174472 15.5%,#123a68 22.5%,#15416f 29.4%,#205988 34.5%,#377aa9 38.9%,#4d91bd 41.5%,#c2d7e6 49.1%,#d2e0eb 50.3%,#e9d9d1 57.9%,#f2cebb 63.0%,#dc8a79 72.5%,#c2544a 83.2%,#942832 94.6%,#7f1a2c 100.0%)"></i><i style="background:linear-gradient(90deg,#7eb0cf 0.0%,#478cba 4.1%,#235e8d 10.4%,#164371 16.1%,#123a68 23.1%,#164270 30.1%,#215b8a 35.1%,#3e82b1 40.2%,#488ebb 41.5%,#bdd5e4 49.1%,#cfdfea 50.3%,#e8dad3 57.9%,#f2ccb9 63.6%,#dc8877 73.1%,#c05349 83.9%,#932732 95.3%,#811b2c 100.0%)"></i><i style="background:linear-gradient(90deg,#82b3d1 0.0%,#448ab8 4.7%,#24608f 10.4%,#164472 16.1%,#123a68 23.1%,#15416f 30.1%,#205988 35.1%,#387aa9 39.6%,#458bb9 41.5%,#b9d2e3 49.1%,#d2e0eb 50.9%,#e9d9d1 58.5%,#f3cebb 63.6%,#dc8a79 73.1%,#c2554a 83.9%,#942832 95.3%,#821c2d 100.0%)"></i><i style="background:linear-gradient(90deg,#86b6d3 0.0%,#468cba 4.7%,#225d8c 11.1%,#164371 16.8%,#123a68 23.7%,#164270 30.7%,#225b8a 35.8%,#3e83b1 40.8%,#498ebb 42.1%,#bed5e4 49.7%,#cfdfea 50.9%,#e8dad3 58.5%,#f2ccb9 64.2%,#dc8877 73.7%,#c05349 84.5%,#932732 95.9%,#831d2d 100.0%)"></i><i style="background:linear-gradient(90deg,#8bb8d4 0.0%,#4489b7 5.4%,#235f8e 11.1%,#164372 16.8%,#123a68 23.7%,#15416f 30.7%,#215988 35.8%,#387ba9 40.2%,#458bb9 42.1%,#b9d2e3 49.7%,#d2e0eb 51.6%,#e9d9d2 59.2%,#f3cfbc 64.2%,#dd8a79 73.7%,#c2554a 84.5%,#942832 95.9%,#851e2d 100.0%)"></i><i style="background:linear-gradient(90deg,#8fbbd6 0.0%,#468cba 5.4%,#225d8c 11.7%,#164271 17.4%,#123a68 24.4%,#15406e 30.7%,#205786 35.8%,#3173a2 39.6%,#498ebb 42.7%,#bed5e5 50.3%,#cfdfea 51.6%,#e8dad3 59.2%,#f2ccb9 64.9%,#dc8878 74.4%,#c15349 85.1%,#932732 96.5%,#861f2e 100.0%)"></i><i style="background:linear-gradient(90deg,#94bed7 0.0%,#4489b7 6.0%,#235f8e 11.7%,#164372 17.4%,#123a68 24.4%,#15416f 31.3%,#215988 36.4%,#387ba9 40.8%,#458bb9 42.7%,#b9d2e3 50.3%,#d2e0eb 52.2%,#e9d9d2 59.8%,#f3cfbc 64.9%,#dd8a79 74.4%,#c2554a 85.1%,#942832 96.5%,#87202e 100.0%)"></i><i style="background:linear-gradient(90deg,#98c0d9 0.0%,#468cba 6.0%,#225d8c 12.3%,#164271 18.0%,#123a68 25.6%,#164270 32.0%,#225c8a 37.0%,#3e83b1 42.1%,#5394bf 44.0%,#bed5e4 50.9%,#cfdfea 52.2%,#e8dad3 59.8%,#f2ccba 65.5%,#dc8978 75.0%,#c15449 85.8%,#932732 97.2%,#89202f 100.0%)"></i><i style="background:linear-gradient(90deg,#9dc3da 0.0%,#4489b7 6.6%,#235f8e 12.3%,#164372 18.0%,#123a68 25.0%,#15416f 32.0%,#215988 37.0%,#387ba9 41.5%,#458bb9 43.4%,#b9d2e3 50.9%,#d2e0eb 52.8%,#e9d9d2 60.4%,#f3cfbc 65.5%,#dd8a7a 75.0%,#c2554a 85.8%,#922632 97.8%,#8a212f 100.0%)"></i><i style="background:linear-gradient(90deg,#a2c5dc 0.0%,#468cba 6.6%,#225d8c 13.0%,#164271 18.7%,#123a68 26.3%,#164270 32.6%,#225c8a 37.7%,#3e83b1 42.7%,#5394bf 44.6%,#bdd5e4 51.6%,#d3e0ea 53.5%,#e9d8d1 61.1%,#f2cdba 66.1%,#dc8978 75.6%,#c15449 86.4%,#932732 97.8%,#8c2230 100.0%)"></i><i style="background:linear-gradient(90deg,#a6c8dd 0.0%,#4389b7 7.3%,#235f8e 13.0%,#164372 18.7%,#123a68 25.6%,#15416f 32.6%,#215988 37.7%,#387ba9 42.1%,#458bb9 44.0%,#b9d2e3 51.6%,#d2e0eb 53.5%,#e8d9d2 61.1%,#f3d0bd 66.1%,#dd8b7a 75.6%,#c2554a 86.4%,#922732 98.4%,#8d2330 100.0%)"></i><i style="background:linear-gradient(90deg,#abcade 0.0%,#468bb9 7.3%,#225d8c 13.6%,#164271 19.3%,#123a68 26.9%,#164270 33.2%,#225c8a 38.3%,#3e83b1 43.4%,#5394bf 45.3%,#bdd4e4 52.2%,#d3e0ea 54.1%,#e9d9d1 61.7%,#f2cdbb 66.8%,#dc8978 76.3%,#c15449 87.0%,#942732 98.4%,#8e2431 100.0%)"></i><i style="background:linear-gradient(90deg,#afcde0 0.0%,#4389b7 7.9%,#235f8e 13.6%,#164372 19.3%,#123a68 26.3%,#15416f 33.2%,#215988 38.3%,#387ba9 42.7%,#458bb9 44.6%,#b8d2e3 52.2%,#d2e0eb 54.1%,#e8d9d2 61.7%,#f3d0bd 66.8%,#dc8877 76.9%,#c05349 87.7%,#922732 99.1%,#902531 100.0%)"></i><i style="background:linear-gradient(90deg,#b3cfe1 0.0%,#468cba 7.9%,#225d8c 14.2%,#164271 19.9%,#123a68 27.5%,#164270 33.9%,#225b8a 38.9%,#3e82b1 44.0%,#488ebb 45.3%,#bcd4e4 52.8%,#d3e0ea 54.7%,#e9d9d1 62.3%,#f2cebb 67.4%,#dc8a79 76.9%,#c2544a 87.7%,#942832 99.1%,#912632 100.0%)"></i><i style="background:linear-gradient(90deg,#b8d1e3 0.0%,#4489b7 8.5%,#235f8e 14.2%,#164372 19.9%,#123a68 26.9%,#15416f 33.9%,#215988 38.9%,#387aa9 43.4%,#4d91bd 45.9%,#c1d6e5 53.5%,#d2e0eb 54.7%,#e8d9d3 62.3%,#f2ccb9 68.0%,#dc8877 77.5%,#c05349 88.3%,#932732 100.0%)"></i><i style="background:linear-gradient(90deg,#bcd4e4 0.0%,#468cba 8.5%,#225d8c 14.9%,#164271 20.6%,#123a68 28.2%,#164270 34.5%,#215b8a 39.6%,#3e82b0 44.6%,#488dbb 45.9%,#bcd4e4 53.5%,#d3e0ea 55.4%,#e9d9d1 63.0%,#f3cfbc 68.0%,#dd8a79 77.5%,#c2554a 88.3%,#942832 100.0%)"></i><i style="background:linear-gradient(90deg,#c0d6e5 0.0%,#5395bf 7.9%,#3f84b2 9.8%,#235f8e 14.9%,#164372 20.6%,#123a68 27.5%,#15416f 34.5%,#205988 39.6%,#377aa9 44.0%,#4c90bc 46.5%,#c0d6e5 54.1%,#d1e0eb 55.4%,#e8dad3 63.0%,#f2cdba 68.7%,#dc8978 78.2%,#c15449 88.9%,#962933 100.0%)"></i><i style="background:linear-gradient(90deg,#c5d9e7 0.0%,#5898c1 7.9%,#468cba 9.2%,#225d8c 15.5%,#164371 21.2%,#123a68 28.2%,#164270 35.1%,#215b8a 40.2%,#3e82b0 45.3%,#478dba 46.5%,#bbd3e4 54.1%,#d3e0ea 56.0%,#e9d9d2 63.6%,#f3d0bd 68.7%,#dd8a7a 78.2%,#c2554a 88.9%,#972a33 100.0%)"></i><i style="background:linear-gradient(90deg,#c9dbe8 0.0%,#5d9bc3 7.9%,#4489b7 9.8%,#23608e 15.5%,#164472 21.2%,#123a68 28.2%,#15416f 35.1%,#205987 40.2%,#377aa8 44.6%,#4c90bc 47.2%,#bfd5e5 54.7%,#d0dfea 56.0%,#e8dad3 63.6%,#f2cdba 69.3%,#dc8978 78.8%,#c15449 89.6%,#992b34 100.0%)"></i><i style="background:linear-gradient(90deg,#cddde9 0.0%,#629ec5 7.9%,#468cba 9.8%,#235e8c 16.1%,#164371 21.8%,#123a68 28.8%,#164270 35.8%,#215b89 40.8%,#3d81b0 45.9%,#468cba 47.2%,#bad3e3 54.7%,#d3e0eb 56.6%,#e8d9d2 64.2%,#f3d0bd 69.3%,#dc8877 79.4%,#c05349 90.2%,#9a2c34 100.0%)"></i><i style="background:linear-gradient(90deg,#d1e0eb 0.0%,#67a1c7 7.9%,#448ab8 10.4%,#24608f 16.1%,#174472 21.8%,#123a68 28.8%,#15416f 35.8%,#205887 40.8%,#3274a3 44.6%,#4b8fbc 47.8%,#bed5e5 55.4%,#cfdeea 56.6%,#e8dad4 64.2%,#f2cebb 69.9%,#dc8a79 79.4%,#c2544a 90.2%,#9c2d35 100.0%)"></i><i style="background:linear-gradient(90deg,#d3e0ea 0.0%,#a3c6dc 4.1%,#478dba 10.4%,#235e8d 16.8%,#164371 22.5%,#123a68 29.4%,#164270 36.4%,#215a89 41.5%,#387caa 45.9%,#468cba 47.8%,#b9d2e3 55.4%,#d2e0eb 57.3%,#e8d9d3 64.9%,#f2ccb9 70.6%,#dc8878 80.1%,#c15349 90.8%,#9d2e36 100.0%)"></i><i style="background:linear-gradient(90deg,#d4e0e9 0.0%,#cadce8 1.6%,#5e9cc3 9.2%,#458ab8 11.1%,#24608f 16.8%,#174472 22.5%,#123a68 29.4%,#15416f 36.4%,#205887 41.5%,#3274a2 45.3%,#4a8ebb 48.4%,#bdd4e4 56.0%,#d3e0ea 57.9%,#e9d9d2 65.5%,#f3cfbc 70.6%,#dd8a7a 80.1%,#c2554a 90.8%,#9f3036 100.0%)"></i><i style="background:linear-gradient(90deg,#d5e0e8 0.0%,#cedeea 1.6%,#639fc5 9.2%,#4388b6 11.7%,#235e8d 17.4%,#164371 23.1%,#123a68 30.1%,#154170 37.0%,#215a89 42.1%,#387ba9 46.5%,#458bb9 48.4%,#b7d1e3 56.0%,#d2e0eb 57.9%,#e8dad3 65.5%,#f2cdba 71.2%,#dc8978 80.7%,#c15449 91.5%,#a03137 100.0%)"></i><i style="background:linear-gradient(90deg,#d6dfe8 0.0%,#d2e0eb 1.6%,#72a8cb 8.5%,#458bb9 11.7%,#246190 17.4%,#174472 23.1%,#123a68 30.1%,#15406f 37.0%,#205786 42.1%,#3173a2 45.9%,#488ebb 49.1%,#bbd3e4 56.6%,#d3e0ea 58.5%,#e8d9d2 66.1%,#f3d0bd 71.2%,#dc8877 81.3%,#c05349 92.1%,#a23338 100.0%)"></i><i style="background:linear-gradient(90deg,#d7dfe7 0.0%,#cfdeea 2.2%,#64a0c6 9.8%,#4388b7 12.3%,#235f8e 18.0%,#164371 23.7%,#123a68 30.7%,#15416f 37.7%,#235e8c 43.4%,#458ab8 49.1%,#b6d0e2 56.6%,#d0dfea 58.5%,#e8dad4 66.1%,#f3cfbc 71.8%,#dd8a79 81.3%,#c2544a 92.1%,#a33539 100.0%)"></i><i style="background:linear-gradient(90deg,#d8dfe6 0.0%,#d2e0eb 2.2%,#85b5d2 7.9%,#458bb9 12.3%,#225d8c 18.7%,#164271 24.4%,#123a68 32.0%,#164270 38.3%,#235f8e 44.0%,#478dba 49.7%,#bad2e3 57.3%,#d2e0eb 59.2%,#e8d9d3 66.8%,#f2cdba 72.5%,#dc8978 82.0%,#c15349 92.7%,#a5363a 100.0%)"></i><i style="background:linear-gradient(90deg,#d9dfe5 0.0%,#d0dfea 2.8%,#66a0c6 10.4%,#4489b7 13.0%,#235f8e 18.7%,#164372 24.4%,#123a68 31.3%,#15416f 38.3%,#225d8c 44.0%,#4489b7 49.7%,#bdd4e4 57.9%,#d3e0ea 59.8%,#e9d9d2 67.4%,#f3d0bd 72.5%,#dd8b7a 82.0%,#c2554a 92.7%,#a6383b 100.0%)"></i><i style="background:linear-gradient(90deg,#d9dfe4 0.0%,#d3e0ea 2.8%,#99c0d9 7.3%,#468cba 13.0%,#235e8c 19.3%,#164371 25.0%,#123a68 32.0%,#164270 38.9%,#235f8e 44.6%,#468cba 50.3%,#b8d1e3 57.9%,#d2e0eb 59.8%,#e9d9d1 68.0%,#f2cebb 73.1%,#dc8979 82.6%,#c15449 93.4%,#a83a3c 100.0%)"></i><i style="background:linear-gradient(90deg,#dadfe4 0.0%,#d1e0eb 3.5%,#67a1c7 11.1%,#448ab8 13.6%,#24608f 19.3%,#174472 25.0%,#123a68 32.0%,#15416f 38.9%,#225c8b 44.6%,#4388b6 50.3%,#83b3d1 54.7%,#cddde9 59.8%,#d7dfe7 61.7%,#e8d9d3 68.0%,#f2ccb9 73.7%,#dc8878 83.2%,#c05349 94.0%,#aa3b3c 100.0%)"></i><i style="background:linear-gradient(90deg,#dbdee3 0.0%,#cedeea 4.1%,#639fc5 11.7%,#478dbb 13.6%,#235e8d 19.9%,#164371 25.6%,#123a68 32.6%,#154170 39.6%,#235e8d 45.3%,#458bb9 50.9%,#b6d0e2 58.5%,#d0dfea 60.4%,#e7dad4 68.0%,#f3d0bd 73.7%,#dd8a7a 83.2%,#c2554a 94.0%,#ab3d3d 100.0%)"></i><i style="background:linear-gradient(90deg,#dcdee2 0.0%,#d2e0eb 4.1%,#72a8cb 11.1%,#458bb9 14.2%,#246190 19.9%,#174472 25.6%,#123a68 32.6%,#15406e 39.6%,#215b8a 45.3%,#3e82b0 50.3%,#478dba 51.6%,#b9d2e3 59.2%,#d2e0eb 61.1%,#e9d8d1 69.3%,#f2cebb 74.4%,#dc8978 83.9%,#c15449 94.6%,#ad3f3e 100.0%)"></i><i style="background:linear-gradient(90deg,#dddee1 0.0%,#cfdfea 4.7%,#65a0c6 12.3%,#4389b7 14.9%,#235f8e 20.6%,#164371 26.3%,#123a68 33.2%,#15416f 40.2%,#225d8c 45.9%,#4489b7 51.6%,#bdd4e4 59.8%,#d3e0ea 61.7%,#e8d9d2 69.3%,#f2ccb9 75.0%,#dc8877 84.5%,#c05349 95.3%,#af403f 100.0%)"></i><i style="background:linear-gradient(90deg,#dedee1 0.0%,#d2e0eb 4.7%,#8fbbd6 9.8%,#468cba 14.9%,#225d8c 21.2%,#164371 26.9%,#123a68 34.5%,#164270 40.8%,#235f8e 46.5%,#468bb9 52.2%,#b7d1e2 59.8%,#d1dfeb 61.7%,#e9d9d1 69.9%,#f3cfbc 75.0%,#dd8a79 84.5%,#c2554a 95.3%,#b04240 100.0%)"></i><i style="background:linear-gradient(90deg,#dedee0 0.0%,#d1dfeb 5.4%,#66a1c6 13.0%,#448ab8 15.5%,#24608f 21.2%,#164472 26.9%,#123a68 33.9%,#15416f 40.8%,#225c8b 46.5%,#4388b6 52.2%,#65a0c6 54.7%,#cbdce9 61.7%,#d4e0e9 63.0%,#e9d8d1 70.6%,#f2cebb 75.6%,#dc8978 85.1%,#c15449 95.9%,#b24441 100.0%)"></i><i style="background:linear-gradient(90deg,#dfdedf 0.0%,#d3e0ea 5.4%,#a4c6dc 9.2%,#478dba 15.5%,#235e8d 21.8%,#164371 27.5%,#123a68 34.5%,#15416f 41.5%,#235e8d 47.2%,#448ab8 52.8%,#bdd4e4 61.1%,#d3e0ea 63.0%,#e8d9d2 70.6%,#f2ccb9 76.3%,#dc8877 85.8%,#c05349 96.5%,#b44642 100.0%)"></i><i style="background:linear-gradient(90deg,#e0dedf 0.0%,#d2e0eb 6.0%,#72a8cb 13.0%,#458bb9 16.1%,#246190 21.8%,#174472 27.5%,#123a68 34.5%,#15406e 41.5%,#215b8a 47.2%,#3d81b0 52.2%,#468cba 53.5%,#b8d1e3 61.1%,#d1dfeb 63.0%,#e9d9d2 71.2%,#f3d0bd 76.3%,#dd8a7a 85.8%,#c2554a 96.5%,#b54743 100.0%)"></i><i style="background:linear-gradient(90deg,#e0dede 0.0%,#d0dfea 6.6%,#65a0c6 14.2%,#4389b7 16.8%,#235f8e 22.5%,#164372 28.2%,#123a68 35.1%,#15416f 42.1%,#225d8b 47.8%,#4389b7 53.5%,#bbd3e3 61.7%,#d2e0eb 63.6%,#e9d9d1 71.8%,#f2cebb 76.9%,#dc8979 86.4%,#c15449 97.2%,#b74944 100.0%)"></i><i style="background:linear-gradient(90deg,#e1ddde 0.0%,#d3e0ea 6.6%,#99c0d9 11.1%,#468cba 16.8%,#235d8c 23.1%,#164371 28.8%,#123a68 35.8%,#164270 42.7%,#235e8d 48.4%,#458ab9 54.1%,#b5d0e2 61.7%,#d3e0ea 64.2%,#e8d9d3 71.8%,#f2ccb9 77.5%,#dc8878 87.0%,#c05349 97.8%,#b94b45 100.0%)"></i><i style="background:linear-gradient(90deg,#e2dddd 0.0%,#d2e0eb 7.3%,#67a1c7 14.9%,#448ab8 17.4%,#24608f 23.1%,#174472 28.8%,#123a68 35.8%,#15406f 42.7%,#225b8a 48.4%,#3e82b0 53.5%,#478cba 54.7%,#b8d1e3 62.3%,#d1dfeb 64.2%,#e9d9d2 72.5%,#f3d0bd 77.5%,#db8777 87.7%,#c2554a 97.8%,#ba4d46 100.0%)"></i><i style="background:linear-gradient(90deg,#e2dddd 0.0%,#d3e0ea 7.3%,#b6d1e2 9.8%,#488dbb 17.4%,#256392 23.1%,#174573 28.8%,#123a68 35.8%,#143f6d 42.7%,#205987 48.4%,#3679a8 52.8%,#4a8fbb 55.4%,#bad3e3 63.0%,#d2e0eb 64.9%,#e9d9d1 73.1%,#f3cfbc 78.2%,#dc8a79 87.7%,#c15449 98.4%,#bc4f47 100.0%)"></i><i style="background:linear-gradient(90deg,#e3dddc 0.0%,#d2e0eb 7.9%,#85b5d2 13.6%,#468bb9 18.0%,#225d8c 24.4%,#164271 30.1%,#123a68 37.7%,#164270 44.0%,#235e8d 49.7%,#458bb9 55.4%,#b4d0e2 63.0%,#d3e0ea 65.5%,#e8dad3 73.1%,#f2cdba 78.8%,#dc8978 88.3%,#c15349 99.1%,#be5148 100.0%)"></i><i style="background:linear-gradient(90deg,#e3dddc 0.0%,#d1dfeb 8.5%,#66a1c6 16.1%,#448ab8 18.7%,#24608f 24.4%,#174472 30.1%,#123a68 37.0%,#15406f 44.0%,#225c8a 49.7%,#3e82b0 54.7%,#478cba 56.0%,#b7d1e2 63.6%,#d0dfea 65.5%,#e8d9d2 73.7%,#f2ccb9 79.4%,#dc8877 88.9%,#c2554a 99.1%,#c05349 100.0%)"></i><i style="background:linear-gradient(90deg,#e4dddb 0.0%,#d3e0ea 8.5%,#adcbdf 11.7%,#488dbb 18.7%,#235e8d 25.0%,#164371 30.7%,#123a68 37.7%,#15416f 44.6%,#225d8c 50.3%,#4389b7 56.0%,#bad2e3 64.2%,#d2e0eb 66.1%,#e9d9d1 74.4%,#f3d0bd 79.4%,#dd8a79 88.9%,#c2544a 100.0%)"></i><i style="background:linear-gradient(90deg,#e4ddda 0.0%,#d2e0eb 9.2%,#7cafcf 15.5%,#458bb9 19.3%,#225d8c 25.6%,#164271 31.3%,#123a68 38.9%,#164270 45.3%,#235e8d 50.9%,#458ab8 56.6%,#bcd4e4 64.9%,#d3e0ea 66.8%,#e9d9d1 75.0%,#f2cebb 80.1%,#dc8979 89.6%,#c4564b 100.0%)"></i><i style="background:linear-gradient(90deg,#e5dcd9 0.0%,#d1dfeb 9.8%,#66a1c6 17.4%,#4489b7 19.9%,#24608f 25.6%,#174472 31.3%,#123a68 38.3%,#15406f 45.3%,#225b8a 50.9%,#3d81b0 56.0%,#468cba 57.3%,#b6d0e2 64.9%,#cfdeea 66.8%,#e7dbd6 74.4%,#f2cdba 80.7%,#dc8878 90.2%,#c5584c 100.0%)"></i><i style="background:linear-gradient(90deg,#e5dcd9 0.0%,#d3e0ea 9.8%,#adcbdf 13.0%,#488dbb 19.9%,#235e8d 26.3%,#164371 32.0%,#123a68 38.9%,#15416f 45.9%,#225d8c 51.6%,#4388b6 57.3%,#81b2d1 61.7%,#d1e0eb 67.4%,#e8d9d2 75.6%,#f3d0bd 80.7%,#dc8877 90.8%,#c75b4d 100.0%)"></i><i style="background:linear-gradient(90deg,#e6dcd8 0.0%,#d2e0eb 10.4%,#85b5d2 16.1%,#458bb9 20.6%,#225d8c 26.9%,#164271 32.6%,#123a68 40.2%,#164270 46.5%,#235e8d 52.2%,#448ab8 57.9%,#bbd3e4 66.1%,#d2e0eb 68.0%,#e9d9d1 76.3%,#f3d0bd 81.3%,#dd8a79 90.8%,#c85d50 100.0%)"></i><i style="background:linear-gradient(90deg,#e6dbd7 0.0%,#d4e0ea 10.4%,#c9dbe8 11.7%,#5d9bc3 19.3%,#448ab8 21.2%,#24608f 26.9%,#174472 32.6%,#123a68 39.6%,#15406e 46.5%,#215b8a 52.2%,#3d81af 57.3%,#4e91bd 59.2%,#bdd4e4 66.8%,#d3e0ea 68.7%,#e9d9d1 76.9%,#f3cfbc 82.0%,#dc8979 91.5%,#c95f52 100.0%)"></i><i style="background:linear-gradient(90deg,#e6dbd7 0.0%,#d5e0e8 10.4%,#cedeea 11.7%,#649fc5 19.3%,#4388b6 21.8%,#235f8d 27.5%,#164371 33.2%,#123a68 40.2%,#15416f 47.2%,#225c8b 52.8%,#4287b6 58.5%,#5a99c2 60.4%,#bfd5e5 67.4%,#d3e0ea 69.3%,#e8dad3 76.9%,#f2cdba 82.6%,#dc8978 92.1%,#ca6254 100.0%)"></i><i style="background:linear-gradient(90deg,#e6dbd6 0.0%,#d6dfe7 10.4%,#d2e0eb 11.7%,#8fbbd6 16.8%,#468cba 21.8%,#225d8c 28.2%,#164371 33.9%,#123a68 41.5%,#154170 47.8%,#225d8c 53.5%,#4389b7 59.2%,#b9d2e3 67.4%,#d1e0eb 69.3%,#e8d9d2 77.5%,#f2ccb9 83.2%,#dc8877 92.7%,#cb6456 100.0%)"></i><i style="background:linear-gradient(90deg,#e7dbd6 0.0%,#d7dfe6 10.4%,#d2e0eb 12.3%,#67a2c7 19.9%,#448ab8 22.5%,#24608f 28.2%,#174472 33.9%,#123a68 40.8%,#15406e 47.8%,#215a89 53.5%,#3c80ae 58.5%,#4c90bc 60.4%,#bad3e3 68.0%,#d2e0eb 69.9%,#e9d9d2 78.2%,#f3d0bd 83.2%,#db8777 93.4%,#cc6759 100.0%)"></i><i style="background:linear-gradient(90deg,#e7dad5 0.0%,#d8dfe5 10.4%,#cfdfea 13.0%,#65a0c6 20.6%,#4389b7 23.1%,#235f8e 28.8%,#164372 34.5%,#123a68 41.5%,#15416f 48.4%,#225b8a 54.1%,#3d81af 59.2%,#468cba 60.4%,#b4cfe1 68.0%,#d3e0ea 70.6%,#e9d9d1 78.8%,#f3d0bd 83.9%,#dd8a79 93.4%,#ce695b 100.0%)"></i><i style="background:linear-gradient(90deg,#e7dad5 0.0%,#d8dfe6 11.1%,#cddde9 13.6%,#629ec5 21.2%,#478cba 23.1%,#235e8d 29.4%,#164371 35.1%,#123a68 42.1%,#15416f 49.1%,#225d8b 54.7%,#4288b6 60.4%,#5a99c2 62.3%,#bed5e5 69.3%,#d3e0ea 71.2%,#e9d9d1 79.4%,#f3cfbc 84.5%,#dc8979 94.0%,#cf6c5d 100.0%)"></i><i style="background:linear-gradient(90deg,#e7dad4 0.0%,#d9dfe5 11.1%,#d2e0eb 13.6%,#72a8cb 20.6%,#458bb9 23.7%,#246190 29.4%,#174473 35.1%,#123a68 42.1%,#15406e 49.1%,#215988 54.7%,#3779a8 59.2%,#4a8ebb 61.7%,#b7d1e3 69.3%,#d0dfea 71.2%,#e8dad3 79.4%,#f2cebb 85.1%,#dc8978 94.6%,#d06f60 100.0%)"></i><i style="background:linear-gradient(90deg,#e8dad4 0.0%,#dadfe4 11.1%,#d1dfeb 14.2%,#66a1c6 21.8%,#448ab8 24.4%,#24608f 30.1%,#174472 35.8%,#123a68 42.7%,#15406e 49.7%,#215a89 55.4%,#3c80ae 60.4%,#4c90bc 62.3%,#b9d2e3 69.9%,#d1e0eb 71.8%,#e8d9d3 80.1%,#f2cdba 85.8%,#dc8878 95.3%,#d17162 100.0%)"></i><i style="background:linear-gradient(90deg,#e8dad3 0.0%,#dbdee3 11.1%,#cfdeea 14.9%,#649fc5 22.5%,#4388b6 25.0%,#235f8e 30.7%,#164372 36.4%,#123a68 43.4%,#15416f 50.3%,#215b8a 56.0%,#3d81af 61.1%,#4e91bd 63.0%,#bbd3e4 70.6%,#d2e0eb 72.5%,#e8d9d2 80.7%,#f2ccb9 86.4%,#dc8877 95.9%,#d27465 100.0%)"></i><i style="background:linear-gradient(90deg,#e8d9d3 0.0%,#dcdee2 11.1%,#d3e0ea 14.9%,#99c0d9 19.3%,#468cba 25.0%,#235e8d 31.3%,#164371 37.0%,#123a68 44.0%,#15416f 50.9%,#225c8b 56.6%,#4287b5 62.3%,#5092be 63.6%,#bcd4e4 71.2%,#d2e0eb 73.1%,#e9d9d2 81.3%,#f3d0bd 86.4%,#db8777 96.5%,#d47767 100.0%)"></i><i style="background:linear-gradient(90deg,#e8d9d3 0.0%,#dcdee2 11.7%,#d2e0eb 15.5%,#72a8cb 22.5%,#458bb9 25.6%,#246190 31.3%,#174473 37.0%,#123a68 44.0%,#15406e 50.9%,#205988 56.6%,#3679a7 61.1%,#488dbb 63.6%,#b5d0e2 71.2%,#d3e0ea 73.7%,#e9d9d2 82.0%,#f3d0bd 87.0%,#db8776 97.2%,#d5796a 100.0%)"></i><i style="background:linear-gradient(90deg,#e8d9d2 0.0%,#dddee1 11.7%,#d1dfeb 16.1%,#66a1c6 23.7%,#448ab8 26.3%,#24608f 32.0%,#174472 37.7%,#123a68 44.6%,#15406e 51.6%,#215a89 57.3%,#377aa8 61.7%,#4a8fbb 64.2%,#b6d1e2 71.8%,#d3e0ea 74.4%,#e9d9d1 82.6%,#f3d0bd 87.7%,#dc8a79 97.2%,#d67c6d 100.0%)"></i><i style="background:linear-gradient(90deg,#e9d9d2 0.0%,#dddee1 12.3%,#cfdeea 16.8%,#64a0c6 24.4%,#4388b7 26.9%,#235f8e 32.6%,#164372 38.3%,#123a68 45.3%,#15406f 52.2%,#215b89 57.9%,#3c80ae 63.0%,#4b90bc 64.9%,#b7d1e3 72.5%,#cfdfea 74.4%,#e8dad4 82.6%,#f3cfbc 88.3%,#dc8978 97.8%,#d87f6f 100.0%)"></i><i style="background:linear-gradient(90deg,#e9d9d2 0.0%,#dedee1 12.3%,#d3e0ea 16.8%,#9ac1d9 21.2%,#478dba 26.9%,#235e8d 33.2%,#164371 38.9%,#123a68 45.9%,#15416f 52.8%,#225b8a 58.5%,#3d80af 63.6%,#4d91bd 65.5%,#b8d2e3 73.1%,#d0dfea 75.0%,#e8dad4 83.2%,#f3cfbc 88.9%,#dc8978 98.4%,#d98272 100.0%)"></i><i style="background:linear-gradient(90deg,#e9d9d1 0.0%,#dddee1 13.0%,#d2e0eb 17.4%,#85b5d2 23.1%,#468bb9 27.5%,#225d8c 33.9%,#164371 39.6%,#123a68 47.2%,#15416f 53.5%,#225c8b 59.2%,#4186b5 64.9%,#4e91bd 66.1%,#b9d2e3 73.7%,#d1dfeb 75.6%,#e8dad3 83.9%,#f2cebb 89.6%,#dc8978 99.1%,#da8575 100.0%)"></i><i style="background:linear-gradient(90deg,#e9d9d1 0.0%,#dedee0 13.0%,#d2e0eb 18.0%,#68a2c7 25.6%,#458ab8 28.2%,#246190 33.9%,#174472 39.6%,#123a68 46.5%,#15406e 53.5%,#205987 59.2%,#3678a7 63.6%,#468cba 66.1%,#b2cee1 73.7%,#d2e0eb 76.3%,#e8dad3 84.5%,#f2cebb 90.2%,#dc8878 100.0%)"></i><i style="background:linear-gradient(90deg,#e9d9d1 0.0%,#dedee0 13.6%,#d1dfeb 18.7%,#66a1c6 26.3%,#4489b8 28.8%,#24608f 34.5%,#174472 40.2%,#123a68 47.2%,#15406e 54.1%,#215988 59.8%,#3679a7 64.2%,#488dbb 66.8%,#b3cfe1 74.4%,#d2e0eb 76.9%,#e8dad3 85.1%,#f2cebb 90.8%,#dd8b7b 100.0%)"></i><i style="background:linear-gradient(90deg,#e9d9d1 0.0%,#dfdedf 13.6%,#cfdeea 19.3%,#65a0c6 26.9%,#4389b7 29.4%,#235f8e 35.1%,#164472 40.8%,#123a68 47.8%,#15406e 54.7%,#215a89 60.4%,#3779a8 64.9%,#498ebb 67.4%,#b3cfe1 75.0%,#d2e0eb 77.5%,#e8dad3 85.8%,#f2cebb 91.5%,#df8f7e 100.0%)"></i><i style="background:linear-gradient(90deg,#e9d9d1 0.0%,#dfdedf 14.2%,#d3e0ea 19.3%,#a4c6dc 23.1%,#488dbb 29.4%,#235e8d 35.8%,#164371 41.5%,#123a68 48.4%,#15406f 55.4%,#215a89 61.1%,#3b7fad 66.1%,#4a8ebb 68.0%,#b4cfe1 75.6%,#d2e0eb 78.2%,#e8d9d3 86.4%,#f2cdba 92.1%,#e09482 100.0%)"></i><i style="background:linear-gradient(90deg,#e9d8d1 0.0%,#e1ddde 13.6%,#d3e0ea 19.9%,#99c0d9 24.4%,#468cba 30.1%,#235e8d 36.4%,#164371 42.1%,#123a68 49.1%,#15416f 56.0%,#215b8a 61.7%,#3c7fae 66.8%,#4a8fbc 68.7%,#b4cfe1 76.3%,#d2e0eb 78.8%,#e8d9d3 87.0%,#f2cdba 92.7%,#e19887 100.0%)"></i><i style="background:linear-gradient(90deg,#ead8cf 0.0%,#e0dedf 14.9%,#d2e0eb 20.6%,#7cafcf 26.9%,#458bb9 30.7%,#225d8c 37.0%,#164371 42.7%,#123a68 50.3%,#164371 57.3%,#235f8e 63.0%,#448ab8 68.7%,#b4d0e2 76.9%,#d2e0eb 79.4%,#e8d9d3 87.7%,#f2cdbb 93.4%,#e39d8b 100.0%)"></i><i style="background:linear-gradient(90deg,#ead7ce 0.0%,#e0dedf 15.5%,#d2e0eb 21.2%,#68a2c7 28.8%,#458bb9 31.3%,#246190 37.0%,#174473 42.7%,#123a68 49.7%,#15416f 57.3%,#225c8a 63.0%,#4085b3 68.7%,#5596c0 70.6%,#b5d0e2 77.5%,#d2e0eb 80.1%,#e8dad3 88.3%,#f2cebb 94.0%,#e4a190 100.0%)"></i><i style="background:linear-gradient(90deg,#ebd7cd 0.0%,#e0dedf 16.1%,#d1e0eb 21.8%,#67a1c7 29.4%,#448ab8 32.0%,#24608f 37.7%,#174472 43.4%,#123a68 50.3%,#15406e 57.3%,#205887 63.0%,#3477a5 67.4%,#4c90bc 70.6%,#b5d0e2 78.2%,#d2e0eb 80.7%,#e8dad3 88.9%,#f2cebb 94.6%,#e6a694 100.0%)"></i><i style="background:linear-gradient(90deg,#ecd6cc 0.0%,#dfdedf 16.8%,#d0dfea 22.5%,#66a1c6 30.1%,#4489b7 32.6%,#24608f 38.3%,#174472 44.0%,#123a68 50.9%,#15406e 57.9%,#205887 63.6%,#3577a5 68.0%,#4d90bc 71.2%,#b4d0e2 78.8%,#d2e0eb 81.3%,#e8dad3 89.6%,#f2cebb 95.3%,#e7ab99 100.0%)"></i><i style="background:linear-gradient(90deg,#ecd6cb 0.0%,#dfdedf 17.4%,#d0dfea 23.1%,#65a0c6 30.7%,#4389b7 33.2%,#235f8e 38.9%,#174472 44.6%,#123a68 51.6%,#15406e 58.5%,#205887 64.2%,#3577a6 68.7%,#4d90bd 71.8%,#b4cfe1 79.4%,#d2e0eb 82.0%,#e8dad4 90.2%,#f3cfbc 95.9%,#e9b09e 100.0%)"></i><i style="background:linear-gradient(90deg,#edd5ca 0.0%,#dfdedf 18.0%,#cfdeea 23.7%,#64a0c6 31.3%,#4388b7 33.9%,#235f8e 39.6%,#164472 45.3%,#123a68 52.2%,#15406e 59.2%,#205987 64.9%,#3577a6 69.3%,#4d90bd 72.5%,#b4cfe1 80.1%,#d2e0eb 82.6%,#e8dad4 90.8%,#f3cfbc 96.5%,#ebb6a3 100.0%)"></i><i style="background:linear-gradient(90deg,#edd5c8 0.0%,#dfdedf 18.7%,#cedeea 24.4%,#639fc5 32.0%,#4388b6 34.5%,#235f8e 40.2%,#164372 45.9%,#123a68 52.8%,#15406e 59.8%,#205987 65.5%,#3577a6 69.9%,#4d90bd 73.1%,#b3cfe1 80.7%,#d1e0eb 83.2%,#e7dad4 91.5%,#f3d0bd 97.2%,#ecbba9 100.0%)"></i><i style="background:linear-gradient(90deg,#eed4c7 0.0%,#dfdedf 19.3%,#d3e0ea 24.4%,#a3c6dc 28.2%,#478dbb 34.5%,#235f8d 40.8%,#164372 46.5%,#123a68 53.5%,#15406e 60.4%,#205987 66.1%,#3577a6 70.6%,#4c90bc 73.7%,#b3cfe1 81.3%,#d1dfeb 83.9%,#e7dad4 92.1%,#f3d0bd 97.8%,#eec1ae 100.0%)"></i><i style="background:linear-gradient(90deg,#eed4c6 0.0%,#dfdee0 19.9%,#d3e0ea 25.0%,#9ac1d9 29.4%,#478dba 35.1%,#235e8d 41.5%,#164371 47.2%,#123a68 54.1%,#15406e 61.1%,#205987 66.8%,#3577a6 71.2%,#4c90bc 74.4%,#b2cee1 82.0%,#d0dfea 84.5%,#e7dad5 92.7%,#f2ccb9 99.1%,#f0c7b4 100.0%)"></i><i style="background:linear-gradient(90deg,#efd4c5 0.0%,#dfdee0 20.6%,#d3e0ea 25.6%,#99c1d9 30.1%,#478cba 35.8%,#235e8d 42.1%,#164371 47.8%,#123a68 54.7%,#15406e 61.7%,#205987 67.4%,#3577a5 71.8%,#4b90bc 75.0%,#b1cde0 82.6%,#d3e0ea 85.8%,#e8d9d3 94.0%,#f2cdba 100.0%)"></i><i style="background:linear-gradient(90deg,#efd3c4 0.0%,#dfdee0 21.2%,#d3e0ea 26.3%,#99c0d9 30.7%,#468cba 36.4%,#235e8d 42.7%,#164371 48.4%,#123a68 56.0%,#164270 63.0%,#225c8b 68.7%,#448ab8 75.0%,#afcde0 83.2%,#d3e0ea 86.4%,#e8dad3 94.6%,#f2d1bf 100.0%)"></i><i style="background:linear-gradient(90deg,#f0d3c3 0.0%,#dfdee0 21.8%,#d3e0eb 26.9%,#90bbd6 32.0%,#468cba 37.0%,#235e8d 43.4%,#164371 49.1%,#123a68 56.6%,#164270 63.6%,#225c8b 69.3%,#4489b7 75.6%,#aecce0 83.9%,#d2e0eb 87.0%,#e8dad4 95.3%,#f1d2c2 100.0%)"></i><i style="background:linear-gradient(90deg,#f0d2c2 0.0%,#e4ddda 18.7%,#d3e0eb 27.5%,#90bbd6 32.6%,#468cba 37.7%,#235e8d 44.0%,#164371 49.7%,#123a68 57.3%,#154270 64.2%,#225c8b 69.9%,#4389b7 76.3%,#b4d0e2 85.1%,#d1e0eb 87.7%,#e7dad5 95.9%,#efd3c5 100.0%)"></i><i style="background:linear-gradient(90deg,#f1d2c1 0.0%,#e7dbd6 16.8%,#d6dfe7 26.9%,#cddde9 28.8%,#629ec5 36.4%,#468cba 38.3%,#235e8d 44.6%,#164371 50.3%,#123a68 57.9%,#154170 64.9%,#225c8a 70.6%,#3f83b2 76.3%,#5093be 78.2%,#b3cfe1 85.8%,#d3e0ea 88.9%,#e8d9d3 97.2%,#edd5c8 100.0%)"></i><i style="background:linear-gradient(90deg,#f1d1c0 0.0%,#e8dad4 16.8%,#d6dfe7 27.5%,#cddde9 29.4%,#629ec5 37.0%,#478cba 38.9%,#235e8d 45.3%,#164372 50.9%,#123a68 57.9%,#15416f 65.5%,#215b8a 71.2%,#3e83b1 76.9%,#4f92bd 78.8%,#b1cee0 86.4%,#d3e0ea 89.6%,#e8dad3 97.8%,#ecd6cb 100.0%)"></i><i style="background:linear-gradient(90deg,#f2d1bf 0.0%,#e8dad3 17.4%,#d5e0e9 28.8%,#cddde9 30.1%,#639ec5 37.7%,#478dba 39.6%,#235f8d 45.9%,#164372 51.6%,#123a68 58.5%,#15416f 66.1%,#215b89 71.8%,#3e82b0 77.5%,#4d91bd 79.4%,#afcce0 87.0%,#d2e0eb 90.2%,#e7dad4 98.4%,#ead8cf 100.0%)"></i><i style="background:linear-gradient(90deg,#f2d0be 0.0%,#e8d9d2 18.0%,#d5e0e9 29.4%,#cedeea 30.7%,#639fc5 38.3%,#4388b6 40.8%,#235f8e 46.5%,#164472 52.2%,#123a68 59.2%,#15416f 66.8%,#215a89 72.5%,#397cab 77.5%,#4c90bc 80.1%,#b4cfe1 88.3%,#d0dfea 90.8%,#e7dbd5 99.1%,#e8d9d3 100.0%)"></i><i style="background:linear-gradient(90deg,#f3d0bd 0.0%,#e9d8d0 18.0%,#d5e0e9 30.1%,#cedeea 31.3%,#649fc5 38.9%,#4388b6 41.5%,#235f8e 47.2%,#174472 52.8%,#123a68 59.8%,#15416f 67.4%,#215988 73.1%,#387baa 78.2%,#4a8ebb 80.7%,#b1cee1 88.9%,#d3e0ea 92.1%,#e6dbd6 100.0%)"></i><i style="background:linear-gradient(90deg,#f2cebb 0.0%,#e9d9d1 19.3%,#d3e0ea 31.3%,#bfd6e5 33.2%,#4389b7 42.1%,#24608f 47.8%,#174472 53.5%,#123a68 60.4%,#15406f 68.0%,#205987 73.7%,#3476a4 78.2%,#488dbb 81.3%,#afcce0 89.6%,#d2e0eb 92.7%,#e4ddda 100.0%)"></i><i style="background:linear-gradient(90deg,#f2ccb9 0.0%,#e9d9d1 20.6%,#d3e0ea 32.0%,#c8dbe8 33.2%,#5d9bc3 40.8%,#4489b7 42.7%,#24608f 48.4%,#174473 54.1%,#123a68 61.1%,#15406e 68.7%,#205887 74.4%,#3779a8 79.4%,#468cba 82.0%,#accbdf 90.2%,#d3e0ea 94.0%,#e2dddd 100.0%)"></i><i style="background:linear-gradient(90deg,#f1cab7 0.0%,#eed4c6 14.9%,#dddee1 28.8%,#d1dfeb 33.2%,#67a1c7 40.8%,#448ab8 43.4%,#246190 49.1%,#174573 54.7%,#123a68 61.7%,#15406e 69.3%,#205786 75.0%,#3578a6 80.1%,#4b8fbc 83.2%,#b0cde0 91.5%,#d2e0eb 94.6%,#dfdedf 100.0%)"></i><i style="background:linear-gradient(90deg,#f1c8b5 0.0%,#f1d2c1 11.1%,#e7dad4 23.7%,#d2e0eb 33.9%,#69a2c7 41.5%,#458bb9 44.0%,#225d8c 50.3%,#164371 56.0%,#123a68 63.6%,#15416f 70.6%,#235e8d 76.9%,#488dbb 83.9%,#adcbdf 92.1%,#d3e0ea 95.9%,#dddee1 100.0%)"></i><i style="background:linear-gradient(90deg,#f0c6b3 0.0%,#f1d2c0 11.7%,#e8dad3 24.4%,#d2e0eb 34.5%,#85b5d2 40.2%,#468cba 44.6%,#235e8d 50.9%,#164372 56.6%,#123a68 64.2%,#15416f 71.2%,#225d8b 77.5%,#468cba 84.5%,#b0cde0 93.4%,#d2e0eb 96.5%,#dadfe4 100.0%)"></i><i style="background:linear-gradient(90deg,#efc4b2 0.0%,#f1d1c0 13.0%,#e8dad4 25.6%,#d3e0ea 35.1%,#9ac1d9 39.6%,#478dbb 45.3%,#235f8e 51.6%,#174472 57.3%,#123a68 64.2%,#15406e 71.8%,#215b8a 78.2%,#4085b3 84.5%,#5294bf 86.4%,#b3cfe1 94.6%,#d3e0ea 97.8%,#d8dfe6 100.0%)"></i><i style="background:linear-gradient(90deg,#efc2b0 0.0%,#f1d1c0 14.2%,#e8d9d3 26.3%,#d3e0ea 35.8%,#b6d1e2 38.3%,#4389b7 46.5%,#24608f 52.2%,#174472 57.9%,#123a68 64.9%,#15406e 72.5%,#215a89 78.8%,#3b7fad 84.5%,#478cba 86.4%,#afcde0 95.3%,#d0dfea 98.4%,#d5e0e8 100.0%)"></i><i style="background:linear-gradient(90deg,#eec0ae 0.0%,#f1d1c0 15.5%,#e8dad3 27.5%,#d1dfeb 37.0%,#67a1c7 44.6%,#448ab8 47.2%,#246190 52.8%,#174573 58.5%,#123a68 65.5%,#143f6d 73.1%,#205987 79.4%,#3679a7 84.5%,#4b8fbc 87.7%,#abcade 95.9%,#d2e0eb 100.0%)"></i><i style="background:linear-gradient(90deg,#edbeac 0.0%,#f2d1c0 16.8%,#e7dad4 28.8%,#d2e0eb 37.7%,#69a3c7 45.3%,#458bb9 47.8%,#235e8d 54.1%,#164372 59.8%,#123a68 67.4%,#164270 75.0%,#235f8e 81.3%,#478dba 88.3%,#adcbdf 97.2%,#c7dae8 100.0%)"></i><i style="background:linear-gradient(90deg,#edbdaa 0.0%,#f1d1c0 18.7%,#e7dad5 30.1%,#d3e0ea 38.3%,#9ac1d9 42.7%,#478dbb 48.4%,#235f8e 54.7%,#174472 60.4%,#123a68 68.0%,#15416f 75.6%,#225d8c 82.0%,#448ab8 88.9%,#afcce0 98.4%,#bcd4e4 100.0%)"></i><i style="background:linear-gradient(90deg,#ecbba8 0.0%,#f1d1c0 19.9%,#e8dad3 30.7%,#d3e0ea 38.9%,#bfd6e5 40.8%,#4489b7 49.7%,#24608f 55.4%,#174573 61.1%,#123a68 68.0%,#15416f 76.3%,#215b8a 82.6%,#4288b6 89.6%,#5c9ac3 92.1%,#b0cde0 100.0%)"></i><i style="background:linear-gradient(90deg,#ecb9a7 0.0%,#f1d2c1 21.8%,#e6dbd6 32.6%,#d2e0eb 40.2%,#68a2c7 47.8%,#458bb9 50.3%,#235e8c 56.6%,#164372 62.3%,#123a68 69.9%,#154170 77.5%,#225d8c 83.9%,#4489b7 90.8%,#a4c6dc 100.0%)"></i><i style="background:linear-gradient(90deg,#ebb7a5 0.0%,#f1d2c1 23.1%,#e7dad5 33.2%,#d3e0ea 40.8%,#b4d0e2 43.4%,#478dbb 50.9%,#235f8e 57.3%,#174472 63.0%,#123a68 70.6%,#15416f 78.2%,#215b8a 84.5%,#4186b5 91.5%,#619dc4 94.6%,#97bfd8 100.0%)"></i><i style="background:linear-gradient(90deg,#ebb5a3 0.0%,#f1d2c1 25.0%,#e6dbd7 35.1%,#d2e0eb 42.1%,#5d9bc3 50.3%,#448ab8 52.2%,#246190 57.9%,#174573 63.6%,#123a68 70.6%,#15406e 78.8%,#205988 85.1%,#3c7fae 91.5%,#4d90bd 94.0%,#8ab8d4 100.0%)"></i><i style="background:linear-gradient(90deg,#eab4a2 0.0%,#f1d2c1 26.3%,#e7dbd6 35.8%,#d0dfea 43.4%,#468cba 52.8%,#235e8d 59.2%,#174472 64.9%,#123a68 72.5%,#15416f 80.1%,#215a89 86.4%,#3d80af 92.7%,#4e91bd 95.3%,#7eb0cf 100.0%)"></i><i style="background:linear-gradient(90deg,#eab2a0 0.0%,#f1d2c1 27.5%,#e6dbd6 37.0%,#d3e0ea 44.0%,#5394bf 52.8%,#3f84b2 54.7%,#225c8b 60.4%,#15416f 66.8%,#123a68 75.0%,#164371 82.0%,#256392 88.9%,#488dbb 95.9%,#71a8ca 100.0%)"></i><i style="background:linear-gradient(90deg,#e9b09e 0.0%,#f3cebc 25.0%,#e9d8d0 36.4%,#d2e0eb 45.3%,#4e91bd 54.1%,#3d81b0 56.0%,#235e8d 61.1%,#164270 67.4%,#123a68 75.6%,#164270 82.6%,#24608f 89.6%,#498ebb 97.2%,#649fc5 100.0%)"></i><i style="background:linear-gradient(90deg,#e9af9d 0.0%,#f2ccba 25.6%,#e9d9d1 37.7%,#d4e0ea 45.9%,#c6d9e7 47.2%,#498ebb 55.4%,#266493 61.1%,#174573 67.4%,#123a68 74.4%,#153f6e 82.6%,#215a89 89.6%,#3e82b0 96.5%,#5092be 99.1%,#5697c0 100.0%)"></i><i style="background:linear-gradient(90deg,#e8ad9b 0.0%,#f1cab8 26.3%,#edd5ca 36.4%,#d9dfe4 45.3%,#d3e0ea 47.2%,#91bcd6 51.6%,#468cba 56.6%,#235f8d 63.0%,#164270 69.3%,#123a68 77.5%,#164371 85.1%,#246190 92.1%,#498ebb 100.0%)"></i><i style="background:linear-gradient(90deg,#e8ab9a 0.0%,#f1c8b6 26.9%,#efd4c5 35.8%,#dbdee3 45.9%,#d2e0eb 48.4%,#4b8fbc 57.3%,#266594 63.0%,#174573 69.3%,#123a68 76.3%,#15406e 85.1%,#215b8a 92.1%,#4186b4 100.0%)"></i><i style="background:linear-gradient(90deg,#e7aa98 0.0%,#f0c8b5 28.2%,#f0d2c3 35.8%,#dfdee0 45.9%,#d1e0eb 49.7%,#478dba 58.5%,#235f8e 64.9%,#164371 71.2%,#123a68 78.8%,#164270 87.0%,#256291 94.6%,#3a7eac 100.0%)"></i><i style="background:linear-gradient(90deg,#e7a897 0.0%,#f0c5b3 28.8%,#f0d2c2 37.0%,#dedee0 47.2%,#cfdfea 50.9%,#458bb9 59.8%,#235e8d 66.1%,#164270 72.5%,#123a68 80.7%,#164270 88.3%,#246291 95.9%,#3476a5 100.0%)"></i><i style="background:linear-gradient(90deg,#e6a795 0.0%,#efc3b1 29.4%,#f1d2c1 37.7%,#dedee0 48.4%,#cedeea 52.2%,#448ab8 61.1%,#246190 66.8%,#164372 73.1%,#123a68 80.7%,#15416f 88.9%,#235e8d 96.5%,#2e6e9d 100.0%)"></i><i style="background:linear-gradient(90deg,#e6a594 0.0%,#efc2b0 30.7%,#f1d2c2 39.6%,#dedee0 49.7%,#d3e0ea 52.8%,#afcce0 55.4%,#4a8fbb 61.7%,#266493 67.4%,#174573 73.7%,#123a68 81.3%,#15416f 90.2%,#225d8c 97.8%,#286796 100.0%)"></i><i style="background:linear-gradient(90deg,#e5a492 0.0%,#eec0ae 31.3%,#f1d2c1 40.8%,#dedee0 50.9%,#d3e0ea 54.1%,#8ebad5 58.5%,#498ebb 63.0%,#256392 68.7%,#174573 75.0%,#123a68 82.6%,#15416f 91.5%,#225d8b 99.1%,#24608f 100.0%)"></i><i style="background:linear-gradient(90deg,#e5a291 0.0%,#eebfac 32.6%,#f1d2c1 42.1%,#dedee0 52.2%,#d3e0ea 55.4%,#65a0c6 62.3%,#488dbb 64.2%,#256392 69.9%,#174473 76.3%,#123a68 83.9%,#15406f 92.7%,#205987 100.0%)"></i><i style="background:linear-gradient(90deg,#e4a18f 0.0%,#edbdaa 33.2%,#f1d1c0 43.4%,#dedee0 53.5%,#d3e0ea 56.6%,#98c0d9 60.4%,#488dbb 65.5%,#256291 71.2%,#174473 77.5%,#123a68 85.1%,#15406e 94.0%,#1d5281 100.0%)"></i><i style="background:linear-gradient(90deg,#e4a08e 0.0%,#edbca9 34.5%,#f1d2c1 45.3%,#dcdee2 55.4%,#d3e0ea 57.9%,#aecce0 60.4%,#488dbb 66.8%,#256291 72.5%,#174473 78.8%,#123a68 86.4%,#15406e 95.3%,#1a4c7b 100.0%)"></i><i style="background:linear-gradient(90deg,#e39e8d 0.0%,#ecb9a7 35.1%,#f1d1c0 46.5%,#dddee1 56.6%,#cedeea 59.8%,#498ebb 68.0%,#256392 73.7%,#184675 79.4%,#123a68 87.0%,#143f6d 96.5%,#184775 100.0%)"></i><i style="background:linear-gradient(90deg,#e39d8c 0.0%,#ebb8a6 36.4%,#f2cdba 45.9%,#e6dbd6 54.7%,#d0dfea 61.1%,#4a8fbc 69.3%,#256392 75.0%,#184775 80.7%,#123a68 88.3%,#15406e 98.4%,#164371 100.0%)"></i><i style="background:linear-gradient(90deg,#e39c8a 0.0%,#ebb6a4 37.7%,#f2ccb9 47.2%,#e7dbd5 56.0%,#d2e0eb 62.3%,#458ab8 71.2%,#24608f 76.9%,#174573 82.6%,#123a68 90.2%,#143f6d 100.0%)"></i><i style="background:linear-gradient(90deg,#e29b89 0.0%,#ebb5a3 38.9%,#f1cab7 48.4%,#eed5c8 54.1%,#d8dfe6 62.3%,#d3e0ea 63.6%,#5998c1 71.2%,#468cba 72.5%,#246190 78.2%,#174674 83.9%,#123a68 91.5%,#133d6b 100.0%)"></i><i style="background:linear-gradient(90deg,#e29988 0.0%,#eab3a1 39.6%,#f0c5b3 49.1%,#f1d2c1 53.5%,#dbdfe3 63.0%,#cfdeea 65.5%,#498ebb 73.7%,#256392 79.4%,#184775 85.1%,#123a68 92.7%,#133b69 100.0%)"></i><i style="background:linear-gradient(90deg,#e19887 0.0%,#e9b19f 40.8%,#f0c5b3 50.9%,#f2d1c0 54.7%,#dcdee2 64.2%,#d2e0eb 66.8%,#458ab8 75.6%,#24608f 81.3%,#174574 87.0%,#123a68 94.6%,#123a68 100.0%)"></i><i style="background:linear-gradient(90deg,#e19786 0.0%,#e9b09e 42.1%,#efc3b0 52.2%,#f1d1c0 56.6%,#dbdee3 66.1%,#cfdeea 68.7%,#488dbb 76.9%,#256392 82.6%,#184775 88.3%,#123a68 95.9%,#123a68 100.0%)"></i><i style="background:linear-gradient(90deg,#e19685 0.0%,#e8ae9c 43.4%,#eec0ae 53.5%,#f1d1c0 58.5%,#dadfe4 68.0%,#d3e0ea 69.9%,#458bb9 78.8%,#246190 84.5%,#174472 90.8%,#123a68 99.1%,#123a68 100.0%)"></i><i style="background:linear-gradient(90deg,#e09583 0.0%,#e8ad9b 45.3%,#eec0ad 55.4%,#f1d2c1 60.4%,#dcdee2 69.3%,#d2e0eb 71.8%,#4b8fbc 80.1%,#296897 85.1%,#184876 91.5%,#123b69 99.1%,#123a68 100.0%)"></i><i style="background:linear-gradient(90deg,#e09482 0.0%,#e7ab99 46.5%,#edbdaa 56.6%,#f2d1bf 61.7%,#dbdee3 71.2%,#d0dfea 73.7%,#498ebb 82.0%,#256392 87.7%,#174674 94.0%,#133b6a 100.0%)"></i><i style="background:linear-gradient(90deg,#e09381 0.0%,#e7a997 47.8%,#ecbaa7 57.9%,#f1d1c0 64.2%,#dbdee3 73.1%,#cfdeea 75.6%,#488dbb 83.9%,#256392 89.6%,#174674 95.9%,#143e6c 100.0%)"></i><i style="background:linear-gradient(90deg,#df9280 0.0%,#e6a896 49.7%,#ecb8a6 59.8%,#f2d1c0 66.1%,#dbdee3 75.0%,#cfdeea 77.5%,#488dbb 85.8%,#256493 91.5%,#184674 97.8%,#15416f 100.0%)"></i><i style="background:linear-gradient(90deg,#df9180 0.0%,#e6a694 50.9%,#ebb7a5 61.7%,#f2d1bf 68.0%,#dcdee2 76.9%,#d0dfea 79.4%,#498ebb 87.7%,#266493 93.4%,#184775 100.0%)"></i><i style="background:linear-gradient(90deg,#df907f 0.0%,#e5a593 52.8%,#ebb5a3 63.6%,#f1d1c0 70.6%,#dadfe4 79.4%,#d2e0eb 81.3%,#4c90bc 89.6%,#3477a5 92.7%,#215b89 97.2%,#1c4f7d 100.0%)"></i><i style="background:linear-gradient(90deg,#df8f7e 0.0%,#e5a392 54.7%,#eab3a1 65.5%,#f2ccb9 71.2%,#e4dddb 78.8%,#d3e0ea 83.2%,#b7d1e3 85.1%,#478dba 92.1%,#24608f 98.4%,#215988 100.0%)"></i><i style="background:linear-gradient(90deg,#de8e7d 0.0%,#e4a290 56.6%,#e9b19f 67.4%,#f2cdba 73.7%,#e1dede 82.0%,#d2e0eb 85.8%,#4d91bd 94.0%,#397caa 96.5%,#286796 100.0%)"></i><i style="background:linear-gradient(90deg,#de8d7c 0.0%,#e4a08f 59.2%,#e9b09e 69.9%,#f1c9b6 75.6%,#f1d2c2 78.2%,#d7dfe7 87.0%,#d0dfea 88.3%,#5595c0 95.9%,#4085b3 97.8%,#3577a6 100.0%)"></i><i style="background:linear-gradient(90deg,#de8c7b 0.0%,#e49f8d 61.1%,#e8ad9b 71.8%,#f0c8b5 78.2%,#f2d1bf 80.1%,#d9dfe5 88.9%,#d0dfea 90.8%,#5596c0 98.4%,#458ab8 100.0%)"></i><i style="background:linear-gradient(90deg,#dd8c7b 0.0%,#e39d8b 63.0%,#e7ab99 74.4%,#f0c7b4 80.7%,#f2d1bf 82.6%,#d9dfe4 91.5%,#d1e0eb 93.4%,#6aa3c8 100.0%)"></i></div><div class="hm" style="left:258px;top:201px"><i style="background:linear-gradient(90deg,#397dab 0.0%,#225c8b 6.0%,#15416f 13.6%,#123a68 23.1%,#174472 30.1%,#246190 35.8%,#448ab8 41.5%,#bdd4e4 50.3%,#d3e0eb 52.2%,#e8d9d2 60.4%,#f2ccb9 66.1%,#dc8877 75.6%,#c2554a 85.8%,#922732 97.8%,#8a222f 100.0%)"></i><i style="background:linear-gradient(90deg,#3b7fad 0.0%,#215b89 6.6%,#15406e 14.2%,#123a68 24.4%,#174574 30.7%,#286796 37.0%,#478dba 42.1%,#b9d2e3 50.3%,#d0dfeb 52.2%,#e8dad4 60.4%,#f3cfbc 66.1%,#dc8979 75.6%,#c15449 86.4%,#932732 97.8%,#8c2230 100.0%)"></i><i style="background:linear-gradient(90deg,#3c80af 0.0%,#225c8b 6.6%,#15416f 14.2%,#123a68 24.4%,#174473 30.7%,#246190 36.4%,#458ab8 42.1%,#b5d0e2 50.3%,#d3e0ea 52.8%,#e8d9d2 61.1%,#f2ccb9 66.8%,#dc8877 76.3%,#c2554a 86.4%,#922732 98.4%,#8d2330 100.0%)"></i><i style="background:linear-gradient(90deg,#3e82b0 0.0%,#235e8d 6.6%,#154170 14.2%,#123a68 23.7%,#164372 30.7%,#235f8e 36.4%,#488dbb 42.7%,#b9d2e3 50.9%,#d1dfeb 52.8%,#e8dad4 61.1%,#f3cfbc 66.8%,#dc8a79 76.3%,#c15449 87.0%,#932732 98.4%,#8e2431 100.0%)"></i><i style="background:linear-gradient(90deg,#4084b2 0.0%,#225c8b 7.3%,#15416f 14.9%,#123a68 25.0%,#174573 31.3%,#276695 37.7%,#458ab9 42.7%,#b5d0e2 50.9%,#d3e0ea 53.5%,#e8d9d2 61.7%,#f2ccb9 67.4%,#dc8877 76.9%,#c3554a 87.0%,#922732 99.1%,#902531 100.0%)"></i><i style="background:linear-gradient(90deg,#4186b4 0.0%,#225d8c 7.3%,#154170 14.9%,#123a68 24.4%,#164472 31.3%,#235f8e 37.0%,#488dbb 43.4%,#b9d2e3 51.6%,#d1dfeb 53.5%,#e8dad4 61.7%,#f3cfbc 67.4%,#dc8a79 76.9%,#c15449 87.7%,#942732 99.1%,#912631 100.0%)"></i><i style="background:linear-gradient(90deg,#4388b6 0.0%,#235f8e 7.3%,#164270 14.9%,#123a68 24.4%,#164371 31.3%,#225d8c 37.0%,#458bb9 43.4%,#b5d0e2 51.6%,#d3e0ea 54.1%,#e8d9d2 62.3%,#f2ccb9 68.0%,#dc8877 77.5%,#c3554a 87.7%,#922732 100.0%)"></i><i style="background:linear-gradient(90deg,#448ab8 0.0%,#225d8c 7.9%,#15416f 15.5%,#123a68 25.0%,#174472 32.0%,#23608e 37.7%,#488dbb 44.0%,#bad2e3 52.2%,#d1dfeb 54.1%,#e8dad4 62.3%,#f3cfbc 68.0%,#dd8a79 77.5%,#c15449 88.3%,#942832 100.0%)"></i><i style="background:linear-gradient(90deg,#468cba 0.0%,#235f8e 7.9%,#164270 15.5%,#123a68 25.0%,#164371 32.0%,#235e8c 37.7%,#458bb9 44.0%,#b5d0e2 52.2%,#d3e0ea 54.7%,#e8d9d2 63.0%,#f2cdba 68.7%,#dc8878 78.2%,#c05349 88.9%,#952833 100.0%)"></i><i style="background:linear-gradient(90deg,#498ebb 0.0%,#24608f 7.9%,#164371 15.5%,#123a68 24.4%,#164270 32.0%,#225c8a 37.7%,#3f83b2 43.4%,#5193be 45.3%,#b9d2e3 52.8%,#d1dfeb 54.7%,#e8dad4 63.0%,#f3cfbc 68.7%,#dd8a79 78.2%,#c2544a 88.9%,#962933 100.0%)"></i><i style="background:linear-gradient(90deg,#4d90bd 0.0%,#387baa 3.5%,#225b8a 9.2%,#15416f 16.8%,#123a68 26.9%,#174573 33.2%,#276695 39.6%,#458bb9 44.6%,#b5d0e2 52.8%,#d3e0ea 55.4%,#e8d9d2 63.6%,#f2cdba 69.3%,#dc8878 78.8%,#c05349 89.6%,#982a34 100.0%)"></i><i style="background:linear-gradient(90deg,#5093be 0.0%,#3d81b0 2.8%,#225d8c 9.2%,#15416f 16.8%,#123a68 26.3%,#174472 33.2%,#24608f 38.9%,#488ebb 45.3%,#b9d2e3 53.5%,#d1dfeb 55.4%,#e8dad4 63.6%,#f3d0bd 69.3%,#db8776 79.4%,#c2544a 89.6%,#992b34 100.0%)"></i><i style="background:linear-gradient(90deg,#5495bf 0.0%,#4287b6 2.2%,#235f8d 9.2%,#164270 16.8%,#123a68 26.3%,#164371 33.2%,#235e8d 38.9%,#458bb9 45.3%,#b5d0e2 53.5%,#d3e0ea 56.0%,#e8d9d3 64.2%,#f2cdba 69.9%,#dc8978 79.4%,#c15349 90.2%,#9b2c35 100.0%)"></i><i style="background:linear-gradient(90deg,#5897c1 0.0%,#448ab8 2.2%,#225d8c 9.8%,#15416f 17.4%,#123a68 26.9%,#174472 33.9%,#24608f 39.6%,#488ebb 45.9%,#b9d2e3 54.1%,#d0dfea 56.0%,#e7dad4 64.2%,#f3d0bd 69.9%,#db8777 80.1%,#c2554a 90.2%,#9c2d35 100.0%)"></i><i style="background:linear-gradient(90deg,#5b9ac2 0.0%,#4287b6 2.8%,#235f8d 9.8%,#164270 17.4%,#123a68 26.9%,#164371 33.9%,#235e8d 39.6%,#458bb9 45.9%,#b5d0e2 54.1%,#d2e0eb 56.6%,#e8d9d3 64.9%,#f2cebb 70.6%,#dc8978 80.1%,#c15449 90.8%,#9d2e36 100.0%)"></i><i style="background:linear-gradient(90deg,#5f9cc4 0.0%,#4489b8 2.8%,#225d8c 10.4%,#15416f 18.0%,#123a68 27.5%,#174472 34.5%,#24608f 40.2%,#488dbb 46.5%,#b9d2e3 54.7%,#d0dfea 56.6%,#e7dad4 64.9%,#f3d0bd 70.6%,#db8877 80.7%,#c2554a 90.8%,#9f3036 100.0%)"></i><i style="background:linear-gradient(90deg,#639fc5 0.0%,#468cba 2.8%,#235f8d 10.4%,#164270 18.0%,#123a68 27.5%,#164371 34.5%,#235e8c 40.2%,#458bb9 46.5%,#b4d0e2 54.7%,#d2e0eb 57.3%,#e8dad3 65.5%,#f3cebb 71.2%,#dc8979 80.7%,#c15449 91.5%,#a03137 100.0%)"></i><i style="background:linear-gradient(90deg,#67a1c6 0.0%,#448ab8 3.5%,#225d8c 11.1%,#15416f 18.7%,#123a68 28.2%,#174472 35.1%,#23608e 40.8%,#488dbb 47.2%,#b8d2e3 55.4%,#d3e0ea 57.9%,#e8d9d2 66.1%,#f2ccb9 71.8%,#dc8877 81.3%,#c2554a 91.5%,#a23338 100.0%)"></i><i style="background:linear-gradient(90deg,#6aa4c8 0.0%,#468cba 3.5%,#235f8e 11.1%,#164270 18.7%,#123a68 28.2%,#164371 35.1%,#225d8c 40.8%,#458ab8 47.2%,#b4cfe1 55.4%,#d2e0eb 57.9%,#e8dad4 66.1%,#f3cfbc 71.8%,#dd8a79 81.3%,#c15449 92.1%,#a33439 100.0%)"></i><i style="background:linear-gradient(90deg,#6ea6c9 0.0%,#448ab8 4.1%,#225d8c 11.7%,#15416f 19.3%,#123a68 28.8%,#174472 35.8%,#235f8e 41.5%,#478dbb 47.8%,#b8d1e3 56.0%,#d3e0ea 58.5%,#e8d9d2 66.8%,#f2cdba 72.5%,#dc8878 82.0%,#c05349 92.7%,#a4363a 100.0%)"></i><i style="background:linear-gradient(90deg,#72a9cb 0.0%,#468cba 4.1%,#235f8e 11.7%,#164270 19.3%,#123a68 28.8%,#164371 35.8%,#225d8c 41.5%,#448ab8 47.8%,#bbd3e4 56.6%,#d2e0eb 58.5%,#e8dad4 66.8%,#f3d0bd 72.5%,#db8776 82.6%,#c2554a 92.7%,#a6373a 100.0%)"></i><i style="background:linear-gradient(90deg,#76abcc 0.0%,#448ab8 4.7%,#225d8c 12.3%,#15416f 19.9%,#123a68 29.4%,#164472 36.4%,#235f8e 42.1%,#478cba 48.4%,#b7d1e2 56.6%,#d3e0ea 59.2%,#e8d9d3 67.4%,#f2cebb 73.1%,#dc8978 82.6%,#c15349 93.4%,#a7393b 100.0%)"></i><i style="background:linear-gradient(90deg,#7aaece 0.0%,#468cba 4.7%,#235f8e 12.3%,#164270 19.9%,#123a68 29.4%,#164371 36.4%,#225d8c 42.1%,#448ab8 48.4%,#bad3e3 57.3%,#d1e0eb 59.2%,#e7dad4 67.4%,#f3d0bd 73.1%,#db8877 83.2%,#c2554a 93.4%,#a93a3c 100.0%)"></i><i style="background:linear-gradient(90deg,#7eb0cf 0.0%,#448ab8 5.4%,#225d8c 13.0%,#154170 20.6%,#123a68 30.1%,#164372 37.0%,#235f8e 42.7%,#468cba 49.1%,#b6d0e2 57.3%,#d3e0ea 59.8%,#e8dad3 68.0%,#f3cfbc 73.7%,#dc8a79 83.2%,#c15449 94.0%,#aa3c3d 100.0%)"></i><i style="background:linear-gradient(90deg,#82b3d1 0.0%,#468cba 5.4%,#235f8e 13.0%,#164270 20.6%,#123a68 30.1%,#164271 37.0%,#225d8b 42.7%,#4489b7 49.1%,#b9d2e3 57.9%,#d0dfea 59.8%,#e7dad5 68.0%,#f2cdba 74.4%,#dc8878 83.9%,#c3554a 94.0%,#ac3d3e 100.0%)"></i><i style="background:linear-gradient(90deg,#86b5d2 0.0%,#458ab8 6.0%,#235e8c 13.6%,#154170 21.2%,#123a68 30.7%,#164371 37.7%,#235e8d 43.4%,#468bb9 49.7%,#b5d0e2 57.9%,#d2e0eb 60.4%,#e8dad4 68.7%,#f3d0bd 74.4%,#db8776 84.5%,#c2544a 94.6%,#ad3f3e 100.0%)"></i><i style="background:linear-gradient(90deg,#8ab8d4 0.0%,#478dba 6.0%,#235f8e 13.6%,#164270 21.2%,#123a68 30.7%,#164270 37.7%,#225c8b 43.4%,#4389b7 49.7%,#b8d2e3 58.5%,#d3e0ea 61.1%,#e8d9d3 69.3%,#f2cebb 75.0%,#dc8978 84.5%,#c15349 95.3%,#af413f 100.0%)"></i><i style="background:linear-gradient(90deg,#8ebad5 0.0%,#458bb9 6.6%,#235e8d 14.2%,#164270 21.8%,#123a68 31.3%,#164371 38.3%,#235e8d 44.0%,#458bb9 50.3%,#b3cfe1 58.5%,#d2e0eb 61.1%,#e9d9d2 69.9%,#f2ccb9 75.6%,#dc8877 85.1%,#c2554a 95.3%,#b04240 100.0%)"></i><i style="background:linear-gradient(90deg,#92bcd7 0.0%,#4389b7 7.3%,#225c8b 14.9%,#15416f 22.5%,#123a68 32.0%,#174472 38.9%,#266493 45.3%,#488dbb 50.9%,#b7d1e2 59.2%,#d3e0ea 61.7%,#e8dad3 69.9%,#f3cfbc 75.6%,#db8676 85.8%,#c15449 95.9%,#b24441 100.0%)"></i><i style="background:linear-gradient(90deg,#96bfd8 0.0%,#458bb9 7.3%,#235e8d 14.9%,#164270 22.5%,#123a68 32.0%,#164371 38.9%,#225d8c 44.6%,#448ab8 50.9%,#bad3e3 59.8%,#d1dfeb 61.7%,#e8d9d2 70.6%,#f2cdba 76.3%,#dc8878 85.8%,#c3554a 95.9%,#b34542 100.0%)"></i><i style="background:linear-gradient(90deg,#9ac1d9 0.0%,#4489b7 7.9%,#225d8c 15.5%,#15416f 23.1%,#123a68 32.6%,#164472 39.6%,#256392 45.9%,#468cba 51.6%,#b5d0e2 59.8%,#d2e0eb 62.3%,#e8dad4 70.6%,#f3d0bd 76.3%,#db8777 86.4%,#c2544a 96.5%,#b54743 100.0%)"></i><i style="background:linear-gradient(90deg,#9fc3db 0.0%,#468cba 7.9%,#235f8e 15.5%,#164270 23.1%,#123a68 32.6%,#164371 39.6%,#225d8c 45.3%,#4489b7 51.6%,#b8d2e3 60.4%,#d3e0ea 63.0%,#e8dad3 71.2%,#f2cebb 76.9%,#dc8979 86.4%,#c15349 97.2%,#b74944 100.0%)"></i><i style="background:linear-gradient(90deg,#a3c6dc 0.0%,#448ab8 8.5%,#225d8c 16.1%,#154170 23.7%,#123a68 33.2%,#164372 40.2%,#256392 46.5%,#458bb9 52.2%,#b4cfe1 60.4%,#d2e0eb 63.0%,#e9d9d2 71.8%,#f2cdba 77.5%,#dc8877 87.0%,#c2554a 97.2%,#b84a44 100.0%)"></i><i style="background:linear-gradient(90deg,#a7c8dd 0.0%,#478cba 8.5%,#235f8e 16.1%,#164270 23.7%,#123a68 33.2%,#164270 40.2%,#225c8b 45.9%,#4388b6 52.2%,#73a9cb 56.0%,#cdddea 63.0%,#dbdee3 66.8%,#ead8ce 73.1%,#f3d0bd 77.5%,#db8776 87.7%,#c15449 97.8%,#ba4c45 100.0%)"></i><i style="background:linear-gradient(90deg,#abcadf 0.0%,#458bb9 9.2%,#235e8d 16.8%,#164270 24.4%,#123a68 33.9%,#164371 40.8%,#256291 47.2%,#458ab8 52.8%,#bad2e3 61.7%,#d0dfea 63.6%,#e7dbd5 71.8%,#f2cebb 78.2%,#dc8978 87.7%,#c15349 98.4%,#bb4e46 100.0%)"></i><i style="background:linear-gradient(90deg,#afcde0 0.0%,#4389b7 9.8%,#225c8b 17.4%,#15416f 25.0%,#123a68 34.5%,#174472 41.5%,#256493 47.8%,#468cba 53.5%,#b5d0e2 61.7%,#d2e0eb 64.2%,#e9d9d2 73.1%,#f2ccb9 78.8%,#dc8877 88.3%,#c2554a 98.4%,#bd5047 100.0%)"></i><i style="background:linear-gradient(90deg,#b3cfe1 0.0%,#458bb9 9.8%,#235e8d 17.4%,#164270 25.0%,#123a68 34.5%,#164371 41.5%,#246190 47.8%,#4a8ebb 54.1%,#b8d1e3 62.3%,#d3e0ea 64.9%,#e8dad4 73.1%,#f3d0bd 78.8%,#db8776 88.9%,#c15449 99.1%,#bf5148 100.0%)"></i><i style="background:linear-gradient(90deg,#b8d1e3 0.0%,#448ab8 10.4%,#225d8c 18.0%,#15416f 25.6%,#123a68 35.1%,#164372 42.1%,#256392 48.4%,#458bb9 54.1%,#b2cee1 62.3%,#d1dfeb 64.9%,#e8d9d3 73.7%,#f2cebb 79.4%,#dc8978 88.9%,#c05349 100.0%)"></i><i style="background:linear-gradient(90deg,#bcd4e4 0.0%,#468cba 10.4%,#235f8e 18.0%,#164270 25.6%,#123a68 35.1%,#164270 42.1%,#24608f 48.4%,#478dbb 54.7%,#b5d0e2 63.0%,#d2e0eb 65.5%,#e9d9d2 74.4%,#f2ccba 80.1%,#dc8877 89.6%,#c2554a 100.0%)"></i><i style="background:linear-gradient(90deg,#c0d6e5 0.0%,#4b8fbc 10.4%,#266594 17.4%,#174573 25.0%,#123a68 33.2%,#15406e 41.5%,#1f5685 47.2%,#3172a1 51.6%,#4b8fbc 55.4%,#b8d2e3 63.6%,#d3e0ea 66.1%,#e8dad4 74.4%,#f3d0bd 80.1%,#db8776 90.2%,#c4574b 100.0%)"></i><i style="background:linear-gradient(90deg,#c4d8e6 0.0%,#5697c0 9.8%,#4389b7 11.7%,#225c8b 19.3%,#15416f 26.9%,#123a68 36.4%,#174472 43.4%,#256392 49.7%,#468cba 55.4%,#b3cfe1 63.6%,#d1dfeb 66.1%,#e8d9d3 75.0%,#f3cebc 80.7%,#dc8978 90.2%,#c6594c 100.0%)"></i><i style="background:linear-gradient(90deg,#c8dae8 0.0%,#5b9ac2 9.8%,#4287b5 12.3%,#235e8d 19.3%,#164270 26.9%,#123a68 36.4%,#164371 43.4%,#24618f 49.7%,#488dbb 56.0%,#b5d0e2 64.2%,#d2e0eb 66.8%,#e8d9d2 75.6%,#f2cdba 81.3%,#dc8878 90.8%,#c75b4e 100.0%)"></i><i style="background:linear-gradient(90deg,#ccdce9 0.0%,#67a1c7 9.2%,#448ab8 12.3%,#225d8c 19.9%,#154170 27.5%,#123a68 37.0%,#164371 44.0%,#256291 50.3%,#448ab8 56.0%,#b8d2e3 64.9%,#d3e0ea 67.4%,#e8dad4 75.6%,#f3d0bd 81.3%,#db8777 91.5%,#c85d50 100.0%)"></i><i style="background:linear-gradient(90deg,#d0dfea 0.0%,#64a0c6 9.8%,#4388b6 13.0%,#235f8e 19.9%,#164270 27.5%,#123a68 37.0%,#164270 44.0%,#235f8e 50.3%,#468cba 56.6%,#b3cfe1 64.9%,#d0dfeb 67.4%,#e8dad3 76.3%,#f3cfbc 82.0%,#db8676 92.1%,#c95f52 100.0%)"></i><i style="background:linear-gradient(90deg,#d2e0eb 0.0%,#87b6d3 7.3%,#458bb9 13.0%,#235e8d 20.6%,#164270 28.2%,#123a68 37.7%,#164371 44.6%,#246190 50.9%,#488ebb 57.3%,#b5d0e2 65.5%,#d2e0eb 68.0%,#e8d9d2 76.9%,#f2cebb 82.6%,#dc8978 92.1%,#ca6154 100.0%)"></i><i style="background:linear-gradient(90deg,#d3e0ea 0.0%,#c5d9e7 2.2%,#5797c1 11.7%,#4489b7 13.6%,#225d8c 21.2%,#15416f 28.8%,#123a68 38.3%,#164372 45.3%,#256291 51.6%,#448ab8 57.3%,#b8d1e3 66.1%,#d3e0ea 68.7%,#e9d9d2 77.5%,#f2ccb9 83.2%,#dc8877 92.7%,#cb6456 100.0%)"></i><i style="background:linear-gradient(90deg,#d4e0e9 0.0%,#c9dbe8 2.2%,#5c9ac2 11.7%,#4388b6 14.2%,#235f8e 21.2%,#164270 28.8%,#123a68 38.3%,#164270 45.3%,#235f8e 51.6%,#468cba 57.9%,#b2cee1 66.1%,#d0dfea 68.7%,#e8dad4 77.5%,#f3d0bd 83.2%,#db8776 93.4%,#cc6658 100.0%)"></i><i style="background:linear-gradient(90deg,#d5dfe8 0.0%,#cddde9 2.2%,#619ec4 11.7%,#458bb9 14.2%,#235e8d 21.8%,#164270 29.4%,#123a68 38.9%,#164371 45.9%,#246190 52.2%,#488dbb 58.5%,#b4d0e2 66.8%,#d2e0eb 69.3%,#e8dad3 78.2%,#f3cfbc 83.9%,#dc8979 93.4%,#cd685a 100.0%)"></i><i style="background:linear-gradient(90deg,#d6dfe7 0.0%,#d1dfeb 2.2%,#66a1c6 11.7%,#4489b7 14.9%,#225d8c 22.5%,#15416f 30.1%,#123a68 39.6%,#164372 46.5%,#256291 52.8%,#4b8fbc 59.2%,#b6d1e2 67.4%,#d2e0eb 69.9%,#e8d9d2 78.8%,#f2cebb 84.5%,#dc8878 94.0%,#ce6b5c 100.0%)"></i><i style="background:linear-gradient(90deg,#d7dfe7 0.0%,#cfdeea 2.8%,#639fc5 12.3%,#468cba 14.9%,#235f8e 22.5%,#164270 30.1%,#123a68 39.6%,#164270 46.5%,#235f8e 52.8%,#458bb9 59.2%,#b1cee0 67.4%,#d3e0ea 70.6%,#e7dad4 78.8%,#f2ccb9 85.1%,#db8877 94.6%,#cf6d5f 100.0%)"></i><i style="background:linear-gradient(90deg,#d8dfe6 0.0%,#d2e0eb 2.8%,#77accd 11.1%,#458bb9 15.5%,#235e8d 23.1%,#164270 30.7%,#123a68 40.2%,#164371 47.2%,#24618f 53.5%,#478dbb 59.8%,#b3cfe1 68.0%,#d0dfea 70.6%,#e8dad4 79.4%,#f3d0bd 85.1%,#db8776 95.3%,#d07061 100.0%)"></i><i style="background:linear-gradient(90deg,#d9dfe5 0.0%,#d1dfeb 3.5%,#66a1c6 13.0%,#4489b7 16.1%,#225d8c 23.7%,#15416f 31.3%,#123a68 40.8%,#164371 47.8%,#246291 54.1%,#4a8ebb 60.4%,#b5d0e2 68.7%,#d2e0eb 71.2%,#e8dad3 80.1%,#f3cfbc 85.8%,#db8676 95.9%,#d27263 100.0%)"></i><i style="background:linear-gradient(90deg,#dadfe4 0.0%,#cfdeea 4.1%,#649fc5 13.6%,#468cba 16.1%,#235f8e 23.7%,#164270 31.3%,#123a68 40.8%,#164270 47.8%,#235f8e 54.1%,#458bb9 60.4%,#b7d1e2 69.3%,#d2e0eb 71.8%,#e8d9d3 80.7%,#f2cebb 86.4%,#dc8978 95.9%,#d37566 100.0%)"></i><i style="background:linear-gradient(90deg,#dadfe4 0.0%,#d2e0eb 4.1%,#7fb1d0 11.7%,#458bb9 16.8%,#235e8d 24.4%,#164270 32.0%,#123a68 41.5%,#164271 48.4%,#24608f 54.7%,#468cba 61.1%,#b1cee0 69.3%,#d3e0ea 72.5%,#e8d9d2 81.3%,#f2cdba 87.0%,#dc8877 96.5%,#d47768 100.0%)"></i><i style="background:linear-gradient(90deg,#dbdee3 0.0%,#d1e0eb 4.7%,#67a1c6 14.2%,#448ab8 17.4%,#225d8c 25.0%,#15416f 32.6%,#123a68 42.1%,#164371 49.1%,#246190 55.4%,#488dbb 61.7%,#b3cfe1 69.9%,#d0dfea 72.5%,#e7dad4 81.3%,#f2ccb9 87.7%,#db8777 97.2%,#d57a6a 100.0%)"></i><i style="background:linear-gradient(90deg,#dcdee2 0.0%,#d0dfea 5.4%,#64a0c6 14.9%,#4388b6 18.0%,#235f8e 25.0%,#164271 32.6%,#123a68 42.1%,#164270 49.1%,#235e8d 55.4%,#448ab8 61.7%,#b4d0e2 70.6%,#d1e0eb 73.1%,#e8dad4 82.0%,#f3d0bd 87.7%,#db8776 97.8%,#d67d6d 100.0%)"></i><i style="background:linear-gradient(90deg,#dddee1 0.0%,#d2e0eb 5.4%,#8fbbd5 11.7%,#458bb9 18.0%,#235e8d 25.6%,#164270 33.2%,#123a68 42.7%,#164270 49.7%,#235f8e 56.0%,#458bb9 62.3%,#b6d0e2 71.2%,#d2e0eb 73.7%,#e8dad3 82.6%,#f3d0bd 88.3%,#db8676 98.4%,#d87f6f 100.0%)"></i><i style="background:linear-gradient(90deg,#dedee1 0.0%,#d2e0eb 6.0%,#6fa7ca 14.9%,#448ab8 18.7%,#235e8c 26.3%,#154270 33.9%,#123a68 43.4%,#164371 50.3%,#24608f 56.6%,#468cba 63.0%,#b0cde0 71.2%,#d2e0eb 74.4%,#e8d9d3 83.2%,#f3cfbc 88.9%,#dc8978 98.4%,#d98272 100.0%)"></i><i style="background:linear-gradient(90deg,#dedee0 0.0%,#d1dfeb 6.6%,#65a0c6 16.1%,#4389b7 19.3%,#225d8b 26.9%,#15416f 34.5%,#123a68 44.0%,#164371 50.9%,#246190 57.3%,#488dbb 63.6%,#b1cee1 71.8%,#d3e0ea 75.0%,#e8d9d2 83.9%,#f2cebb 89.6%,#dc8878 99.1%,#da8574 100.0%)"></i><i style="background:linear-gradient(90deg,#dfdedf 0.0%,#cfdeea 7.3%,#649fc5 16.8%,#468cba 19.3%,#235f8e 26.9%,#164270 34.5%,#123a68 44.0%,#164270 50.9%,#235e8d 57.3%,#4489b7 63.6%,#b3cfe1 72.5%,#d3e0ea 75.6%,#e8d9d2 84.5%,#f2cdba 90.2%,#dc8877 100.0%)"></i><i style="background:linear-gradient(90deg,#e0dedf 0.0%,#d2e0eb 7.3%,#87b6d3 14.2%,#458bb9 19.9%,#235e8d 27.5%,#164270 35.1%,#123a68 44.6%,#164270 51.6%,#235f8e 57.9%,#458ab8 64.2%,#b4cfe1 73.1%,#d0dfea 75.6%,#e7dad4 84.5%,#f2cdba 90.8%,#dd8b7a 100.0%)"></i><i style="background:linear-gradient(90deg,#e0dede 0.0%,#d2e0eb 7.9%,#67a1c7 17.4%,#448ab8 20.6%,#225d8c 28.2%,#154170 35.8%,#123a68 45.3%,#164371 52.2%,#24608f 58.5%,#458bb9 64.9%,#b5d0e2 73.7%,#d1e0eb 76.3%,#e7dad4 85.1%,#f2ccb9 91.5%,#de8e7d 100.0%)"></i><i style="background:linear-gradient(90deg,#e1dede 0.0%,#d0dfea 8.5%,#65a0c6 18.0%,#4389b7 21.2%,#225d8b 28.8%,#15416f 36.4%,#123a68 46.5%,#174573 53.5%,#266594 59.8%,#468cba 65.5%,#afcce0 73.7%,#d2e0eb 76.9%,#e8dad4 85.8%,#f3d0bd 91.5%,#e09281 100.0%)"></i><i style="background:linear-gradient(90deg,#e2dddd 0.0%,#cfdeea 9.2%,#649fc5 18.7%,#468cba 21.2%,#235f8e 28.8%,#164270 36.4%,#123a68 45.9%,#164270 52.8%,#235e8c 59.2%,#488dbb 66.1%,#b0cde0 74.4%,#d2e0eb 77.5%,#e8dad4 86.4%,#f3d0bd 92.1%,#e19685 100.0%)"></i><i style="background:linear-gradient(90deg,#e2dddd 0.0%,#d2e0eb 9.2%,#8ebad5 15.5%,#458bb9 21.8%,#235e8d 29.4%,#164270 37.0%,#123a68 46.5%,#164270 53.5%,#235e8d 59.8%,#4489b7 66.1%,#b1cee0 75.0%,#d2e0eb 78.2%,#e8dad3 87.0%,#f3d0bd 92.7%,#e29a89 100.0%)"></i><i style="background:linear-gradient(90deg,#e3dddc 0.0%,#d2e0eb 9.8%,#6fa7ca 18.7%,#458ab8 22.5%,#235e8d 30.1%,#164270 37.7%,#123a68 47.2%,#164270 54.1%,#235f8e 60.4%,#448ab8 66.8%,#b2cee1 75.6%,#d3e0eb 78.8%,#e8dad3 87.7%,#f3cfbd 93.4%,#e39e8d 100.0%)"></i><i style="background:linear-gradient(90deg,#e3dddc 0.0%,#d1e0eb 10.4%,#66a1c6 19.9%,#4489b7 23.1%,#225d8c 30.7%,#154170 38.3%,#123a68 47.8%,#164371 54.7%,#24608f 61.1%,#458ab8 67.4%,#b2cee1 76.3%,#d3e0ea 79.4%,#e8dad3 88.3%,#f3cfbc 94.0%,#e5a391 100.0%)"></i><i style="background:linear-gradient(90deg,#e4dddb 0.0%,#d0dfea 11.1%,#65a0c6 20.6%,#4389b7 23.7%,#24608f 30.7%,#164271 38.3%,#123a68 47.8%,#164371 55.4%,#24608f 61.7%,#458bb9 68.0%,#b3cfe1 76.9%,#d3e0ea 80.1%,#e8dad3 88.9%,#f3cfbc 94.6%,#e6a796 100.0%)"></i><i style="background:linear-gradient(90deg,#e4ddda 0.0%,#d3e0ea 11.1%,#9fc4db 16.1%,#468cba 23.7%,#235f8e 31.3%,#164270 38.9%,#123a68 48.4%,#164371 56.0%,#246190 62.3%,#468cba 68.7%,#b3cfe1 77.5%,#d3e0ea 80.7%,#e8d9d3 89.6%,#f3cfbc 95.3%,#e8ac9a 100.0%)"></i><i style="background:linear-gradient(90deg,#e5dcda 0.0%,#d2e0eb 11.7%,#8fbbd5 18.0%,#458bb9 24.4%,#235e8d 32.0%,#164270 39.6%,#123a68 49.1%,#164270 56.0%,#235d8c 62.3%,#468cba 69.3%,#b4cfe1 78.2%,#d3e0ea 81.3%,#e8d9d3 90.2%,#f3cfbc 95.9%,#e9b19f 100.0%)"></i><i style="background:linear-gradient(90deg,#e5dcd9 0.0%,#d2e0eb 12.3%,#70a7ca 21.2%,#458ab9 25.0%,#235e8d 32.6%,#164270 40.2%,#123a68 49.7%,#164270 56.6%,#235e8d 63.0%,#478dba 69.9%,#adcbdf 78.2%,#d3e0ea 82.0%,#e8dad3 90.8%,#f3cfbc 96.5%,#ebb6a4 100.0%)"></i><i style="background:linear-gradient(90deg,#e5dcd8 0.0%,#d2e0eb 13.0%,#67a1c7 22.5%,#448ab8 25.6%,#225d8c 33.2%,#164270 40.8%,#123a68 50.3%,#164270 57.3%,#235e8d 63.6%,#488dbb 70.6%,#adcbdf 78.8%,#d3e0ea 82.6%,#e8dad3 91.5%,#f3cfbc 97.2%,#ecbba8 100.0%)"></i><i style="background:linear-gradient(90deg,#e6dbd6 0.0%,#d3e0ea 13.0%,#c4d8e7 14.9%,#5797c1 24.4%,#4489b7 26.3%,#225d8c 33.9%,#154170 41.5%,#123a68 50.9%,#164271 57.9%,#235f8e 64.2%,#488dbb 71.2%,#adcbdf 79.4%,#d3e0ea 83.2%,#e8dad3 92.1%,#f3cfbc 97.8%,#eec0ae 100.0%)"></i><i style="background:linear-gradient(90deg,#e7dad5 0.0%,#d3e0ea 13.6%,#b6d0e2 16.8%,#478dbb 26.3%,#24608f 33.9%,#164371 41.5%,#123a68 50.9%,#164371 58.5%,#235f8e 64.9%,#498ebb 71.8%,#adcbdf 80.1%,#d3e0ea 83.9%,#e8dad3 92.7%,#f3d0bd 98.4%,#f0c5b3 100.0%)"></i><i style="background:linear-gradient(90deg,#e8dad3 0.0%,#d3e0ea 14.2%,#9fc4db 19.3%,#468cba 26.9%,#235f8e 34.5%,#164271 42.1%,#123a68 51.6%,#164371 59.2%,#235f8e 65.5%,#498ebb 72.5%,#adcbdf 80.7%,#d3e0ea 84.5%,#e8dad3 93.4%,#f3d0bd 99.1%,#f1cbb8 100.0%)"></i><i style="background:linear-gradient(90deg,#e9d9d1 0.0%,#d3e0ea 14.9%,#97bfd8 20.6%,#468cba 27.5%,#235f8e 35.1%,#164270 42.7%,#123a68 52.2%,#164371 59.8%,#23608e 66.1%,#498ebb 73.1%,#adcbdf 81.3%,#d3e0ea 85.1%,#e8dad4 94.0%,#f3d0bd 100.0%)"></i><i style="background:linear-gradient(90deg,#ead8d0 0.0%,#d3e0eb 15.5%,#8fbbd6 21.8%,#458bb9 28.2%,#235f8e 35.8%,#164270 43.4%,#123a68 52.8%,#164371 60.4%,#24608f 66.8%,#498ebb 73.7%,#accbdf 82.0%,#d2e0eb 85.8%,#e7dad4 94.6%,#f1d1c0 100.0%)"></i><i style="background:linear-gradient(90deg,#ead7ce 0.0%,#d2e0eb 16.1%,#87b6d3 23.1%,#458bb9 28.8%,#235e8d 36.4%,#164270 44.0%,#123a68 53.5%,#164371 61.1%,#24608f 67.4%,#498ebb 74.4%,#b3cfe1 83.2%,#d2e0eb 86.4%,#e7dad4 95.3%,#f0d3c3 100.0%)"></i><i style="background:linear-gradient(90deg,#ebd7cd 0.0%,#d2e0eb 16.8%,#77accd 25.0%,#458bb9 29.4%,#235e8d 37.0%,#164270 44.6%,#123a68 54.1%,#164371 61.7%,#24608f 68.0%,#498ebb 75.0%,#b2cee1 83.9%,#d2e0eb 87.0%,#e7dad5 95.9%,#efd4c6 100.0%)"></i><i style="background:linear-gradient(90deg,#ecd6cb 0.0%,#d4e0ea 16.8%,#ccdde9 18.0%,#619dc4 27.5%,#458ab8 30.1%,#235e8d 37.7%,#164270 45.3%,#123a68 54.7%,#164371 62.3%,#24608f 68.7%,#498ebb 75.6%,#b1cee0 84.5%,#d1e0eb 87.7%,#e7dbd5 96.5%,#edd5c9 100.0%)"></i><i style="background:linear-gradient(90deg,#edd6ca 0.0%,#d6dfe7 16.1%,#d2e0eb 18.0%,#6fa7ca 26.9%,#458ab8 30.7%,#235e8d 38.3%,#164270 45.9%,#123a68 55.4%,#164371 63.0%,#24608f 69.3%,#488dbb 76.3%,#b0cde0 85.1%,#d3e0ea 88.9%,#e8dad3 97.8%,#ecd6cc 100.0%)"></i><i style="background:linear-gradient(90deg,#edd5c8 0.0%,#d8dfe6 16.1%,#d2e0eb 18.7%,#67a2c7 28.2%,#448ab8 31.3%,#235e8c 38.9%,#164270 46.5%,#123a68 56.0%,#164371 63.6%,#24608f 69.9%,#488dbb 76.9%,#afcce0 85.8%,#d3e0ea 89.6%,#e8dad4 98.4%,#ead8cf 100.0%)"></i><i style="background:linear-gradient(90deg,#eed4c7 0.0%,#dadfe4 15.5%,#d2e0eb 19.3%,#67a1c7 28.8%,#448ab8 32.0%,#235e8c 39.6%,#164270 47.2%,#123a68 56.6%,#164371 64.2%,#23608e 70.6%,#478dba 77.5%,#aeccdf 86.4%,#d2e0eb 90.2%,#e7dad5 99.1%,#e9d9d2 100.0%)"></i><i style="background:linear-gradient(90deg,#efd4c6 0.0%,#dcdee2 14.9%,#d2e0eb 19.9%,#67a1c7 29.4%,#448ab8 32.6%,#235e8c 40.2%,#164270 47.8%,#123a68 57.3%,#164371 64.9%,#235f8e 71.2%,#468cba 78.2%,#accbdf 87.0%,#d2e0eb 90.8%,#e7dbd5 100.0%)"></i><i style="background:linear-gradient(90deg,#efd3c4 0.0%,#dedee0 14.9%,#d2e0eb 20.6%,#67a1c7 30.1%,#448ab8 33.2%,#235e8c 40.8%,#164270 48.4%,#123a68 57.9%,#164371 65.5%,#256392 72.5%,#468bb9 78.8%,#abcade 87.7%,#d3e0ea 92.1%,#e5dcd9 100.0%)"></i><i style="background:linear-gradient(90deg,#f0d3c3 0.0%,#dedee0 15.5%,#d2e0eb 21.2%,#67a1c7 30.7%,#448ab8 33.9%,#235e8c 41.5%,#164270 49.1%,#123a68 58.5%,#164371 66.1%,#256291 73.1%,#4b8fbc 80.1%,#afcde0 88.9%,#d3e0ea 92.7%,#e3dddc 100.0%)"></i><i style="background:linear-gradient(90deg,#f1d2c2 0.0%,#e5dcda 13.0%,#d2e0eb 21.8%,#67a2c7 31.3%,#448ab8 34.5%,#235e8d 42.1%,#164270 49.7%,#123a68 59.2%,#164371 66.8%,#256291 73.7%,#4a8fbc 80.7%,#adccdf 89.6%,#d2e0eb 93.4%,#e1dddd 100.0%)"></i><i style="background:linear-gradient(90deg,#f1d2c1 0.0%,#e6dbd7 13.0%,#d2e0eb 22.5%,#6fa7ca 31.3%,#458ab8 35.1%,#235e8d 42.7%,#164270 50.3%,#123a68 59.8%,#164371 67.4%,#246190 74.4%,#488ebb 81.3%,#abcadf 90.2%,#d3e0ea 94.6%,#dfdedf 100.0%)"></i><i style="background:linear-gradient(90deg,#f2d1bf 0.0%,#e7dad5 13.0%,#d2e0eb 23.1%,#70a7ca 32.0%,#458ab9 35.8%,#235e8d 43.4%,#164270 50.9%,#123a68 60.4%,#164271 68.0%,#246190 75.0%,#478cba 82.0%,#a9c9de 90.8%,#d2e0eb 95.3%,#dddee1 100.0%)"></i><i style="background:linear-gradient(90deg,#f2d1be 0.0%,#e7dad4 13.6%,#d2e0eb 23.7%,#78accd 32.0%,#458bb9 36.4%,#235e8d 44.0%,#164270 51.6%,#123a68 61.1%,#164270 68.7%,#24608f 75.6%,#458bb9 82.6%,#adcbdf 92.1%,#d1dfeb 95.9%,#dbdfe3 100.0%)"></i><i style="background:linear-gradient(90deg,#f3d0bd 0.0%,#e9d9d2 13.6%,#d2e0eb 24.4%,#87b6d3 31.3%,#458bb9 37.0%,#235f8e 44.6%,#164270 52.2%,#123a68 61.7%,#164270 69.3%,#235f8e 76.3%,#4a8fbc 83.9%,#aacade 92.7%,#d2e0eb 97.2%,#d8dfe5 100.0%)"></i><i style="background:linear-gradient(90deg,#f2cebb 0.0%,#e8d9d3 14.9%,#d3e0ea 25.0%,#97bfd8 30.7%,#468cba 37.7%,#235f8e 45.3%,#164271 52.8%,#123a68 62.3%,#154270 69.9%,#235f8d 76.9%,#488dbb 84.5%,#a7c8dd 93.4%,#d1dfeb 97.8%,#d6dfe7 100.0%)"></i><i style="background:linear-gradient(90deg,#f2ccb9 0.0%,#e9d9d2 15.5%,#d3e0ea 25.6%,#98c0d8 31.3%,#468cba 38.3%,#23608e 45.9%,#164371 53.5%,#123a68 63.0%,#15416f 70.6%,#235e8c 77.5%,#468cba 85.1%,#aacade 94.6%,#d2e0eb 99.1%,#d4e0e9 100.0%)"></i><i style="background:linear-gradient(90deg,#f1cab7 0.0%,#eed5c7 11.7%,#dbdfe3 23.7%,#d2e0eb 26.9%,#5e9bc3 37.0%,#4389b7 39.6%,#225d8c 47.2%,#154270 54.7%,#123a68 64.9%,#174472 72.5%,#286796 80.1%,#4a8fbc 86.4%,#a7c8dd 95.3%,#d0dfea 100.0%)"></i><i style="background:linear-gradient(90deg,#f0c7b5 0.0%,#f0d2c3 9.8%,#dedee0 23.1%,#d3e0ea 27.5%,#66a1c6 37.0%,#4489b8 40.2%,#225d8c 47.8%,#164270 55.4%,#123a68 64.9%,#164270 72.5%,#235f8e 79.4%,#478dba 87.0%,#aacade 96.5%,#c6dae7 100.0%)"></i><i style="background:linear-gradient(90deg,#f0c5b3 0.0%,#f1d2c1 9.8%,#dfdedf 23.7%,#d0dfea 28.8%,#458ab8 40.8%,#235e8d 48.4%,#164270 56.0%,#123a68 65.5%,#164270 73.1%,#235e8d 80.1%,#458bb9 87.7%,#a6c7dd 97.2%,#bdd4e4 100.0%)"></i><i style="background:linear-gradient(90deg,#efc3b0 0.0%,#f1d2c1 11.1%,#dedee0 25.0%,#d2e0eb 29.4%,#458bb9 41.5%,#235f8e 49.1%,#164271 56.6%,#123a68 66.1%,#15416f 73.7%,#225d8b 80.7%,#488dbb 88.9%,#a8c8dd 98.4%,#b3cfe1 100.0%)"></i><i style="background:linear-gradient(90deg,#eec1ae 0.0%,#f1d2c1 12.3%,#dfdee0 25.6%,#cedeea 30.7%,#468cba 42.1%,#23608e 49.7%,#164371 57.3%,#123a68 66.8%,#164270 75.0%,#235f8e 82.0%,#458bb9 89.6%,#a9c9de 100.0%)"></i><i style="background:linear-gradient(90deg,#eebfad 0.0%,#f1d2c2 13.6%,#dedee0 26.9%,#d2e0eb 31.3%,#488dbb 42.7%,#24608f 50.3%,#164371 57.9%,#123a68 67.4%,#164270 75.6%,#225d8c 82.6%,#478dbb 90.8%,#9fc4db 100.0%)"></i><i style="background:linear-gradient(90deg,#edbdab 0.0%,#f1d2c1 14.2%,#dfdee0 27.5%,#d3e0ea 32.0%,#4a8fbc 43.4%,#246190 50.9%,#164472 58.5%,#123a68 67.4%,#15416f 76.3%,#225c8b 83.2%,#458bb9 91.5%,#94bed7 100.0%)"></i><i style="background:linear-gradient(90deg,#ecbba9 0.0%,#f1d2c1 15.5%,#dedee0 28.8%,#d1e0eb 33.2%,#629ec5 42.1%,#468bb9 44.6%,#235f8e 52.2%,#164371 59.8%,#123a68 69.3%,#164270 77.5%,#246190 85.1%,#468cba 92.7%,#89b8d4 100.0%)"></i><i style="background:linear-gradient(90deg,#ecb9a7 0.0%,#f1d2c1 16.8%,#dddee1 30.1%,#d3e0ea 33.9%,#478dbb 45.3%,#24608f 52.8%,#164371 60.4%,#123a68 69.9%,#15416f 78.2%,#235f8e 85.8%,#488dbb 94.0%,#7fb1d0 100.0%)"></i><i style="background:linear-gradient(90deg,#ebb7a5 0.0%,#f1d2c1 18.0%,#dedee0 30.7%,#d1e0eb 35.1%,#5193be 45.3%,#4186b4 47.2%,#235e8d 54.1%,#164270 61.7%,#123a68 71.2%,#164270 79.4%,#24608f 87.0%,#498ebb 95.3%,#74aacc 100.0%)"></i><i style="background:linear-gradient(90deg,#ebb6a3 0.0%,#f2cdbb 15.5%,#e7dad5 27.5%,#d3e0ea 35.8%,#83b3d1 42.1%,#468cba 47.2%,#235f8e 54.7%,#164371 62.3%,#123a68 71.8%,#15416f 80.1%,#235e8d 87.7%,#4b8fbc 96.5%,#69a2c7 100.0%)"></i><i style="background:linear-gradient(90deg,#eab4a2 0.0%,#f2ccb9 16.1%,#e8dad3 28.2%,#d2e0eb 37.0%,#488ebb 47.8%,#246190 55.4%,#164372 63.0%,#123a68 72.5%,#15406f 80.7%,#225c8b 88.3%,#468cba 97.2%,#5d9bc3 100.0%)"></i><i style="background:linear-gradient(90deg,#eab2a0 0.0%,#f1cab7 16.8%,#eed4c6 24.4%,#d9dfe5 35.8%,#cfdfea 38.3%,#458bb9 49.1%,#235f8e 56.6%,#164371 64.2%,#123a68 73.7%,#15416f 82.0%,#225d8c 89.6%,#468cba 98.4%,#5294be 100.0%)"></i><i style="background:linear-gradient(90deg,#e9b09e 0.0%,#f0c8b5 17.4%,#f0d2c2 23.7%,#dcdee2 35.8%,#d3e0ea 38.9%,#5897c1 48.4%,#4389b7 50.3%,#225d8c 57.9%,#164270 65.5%,#123a68 75.6%,#164371 83.9%,#266493 92.1%,#468cba 100.0%)"></i><i style="background:linear-gradient(90deg,#e9af9d 0.0%,#f0c6b3 18.0%,#f1d2c1 24.4%,#dddee1 36.4%,#d2e0eb 40.2%,#458bb9 50.9%,#235f8e 58.5%,#164371 66.1%,#123a68 75.6%,#164270 84.5%,#246291 92.7%,#4085b3 100.0%)"></i><i style="background:linear-gradient(90deg,#e8ad9b 0.0%,#efc4b1 18.7%,#f1d1c0 25.0%,#dddee2 37.7%,#cfdfea 41.5%,#4a8ebb 51.6%,#266493 58.5%,#174573 66.1%,#123a68 75.0%,#15406e 84.5%,#205988 92.1%,#3b7ead 100.0%)"></i><i style="background:linear-gradient(90deg,#e8ab9a 0.0%,#efc2b0 19.3%,#f1d1c0 26.3%,#dedee0 38.3%,#d3e0ea 42.1%,#5f9cc4 50.9%,#4388b6 53.5%,#235f8e 60.4%,#164371 68.0%,#123a68 77.5%,#15416f 86.4%,#235f8e 94.6%,#3578a6 100.0%)"></i><i style="background:linear-gradient(90deg,#e7aa98 0.0%,#eec0ae 19.9%,#f1d2c1 28.2%,#dcdee2 40.2%,#d2e0eb 43.4%,#468bb9 54.1%,#246190 61.1%,#174472 68.7%,#123a68 78.2%,#15406e 87.0%,#225c8b 95.3%,#3071a0 100.0%)"></i><i style="background:linear-gradient(90deg,#e7a897 0.0%,#edbeac 20.6%,#f1d2c1 29.4%,#dcdee2 41.5%,#d2e0eb 44.6%,#458ab8 55.4%,#24608f 62.3%,#164472 69.9%,#123a68 79.4%,#15406e 88.3%,#225c8b 96.5%,#2b6b99 100.0%)"></i><i style="background:linear-gradient(90deg,#e6a795 0.0%,#edbeab 21.8%,#f1d2c1 30.7%,#dbdee3 42.7%,#d1dfeb 45.9%,#498ebb 56.0%,#256392 63.0%,#174573 70.6%,#123a68 80.1%,#15406e 89.6%,#235e8d 98.4%,#266493 100.0%)"></i><i style="background:linear-gradient(90deg,#e6a594 0.0%,#edbba9 22.5%,#f1d2c1 32.0%,#dbdee3 44.0%,#d0dfea 47.2%,#488dbb 57.3%,#256291 64.2%,#174473 71.8%,#123a68 81.3%,#15406e 90.8%,#235e8d 100.0%)"></i><i style="background:linear-gradient(90deg,#e5a492 0.0%,#ecb9a7 23.1%,#f1d1c0 33.2%,#dbdee3 45.3%,#cfdeea 48.4%,#478dba 58.5%,#246190 65.5%,#174472 73.1%,#123a68 82.6%,#15406e 92.1%,#205886 100.0%)"></i><i style="background:linear-gradient(90deg,#e5a291 0.0%,#ecb9a6 24.4%,#f1d2c1 35.1%,#dbdee3 46.5%,#cfdeea 49.7%,#478cba 59.8%,#246190 66.8%,#174574 73.7%,#123a68 82.6%,#15406e 93.4%,#1d5280 100.0%)"></i><i style="background:linear-gradient(90deg,#e4a18f 0.0%,#ebb6a4 25.0%,#f1d2c1 36.4%,#dbdee3 47.8%,#cfdeea 50.9%,#468cba 61.1%,#246190 68.0%,#174574 75.0%,#123a68 84.5%,#15406e 94.6%,#1b4d7b 100.0%)"></i><i style="background:linear-gradient(90deg,#e4a08e 0.0%,#ebb5a3 26.3%,#f2ccb9 35.1%,#e4dddb 45.9%,#d0dfea 52.2%,#478cba 62.3%,#246190 69.3%,#174574 76.3%,#123a68 85.8%,#15416f 96.5%,#194876 100.0%)"></i><i style="background:linear-gradient(90deg,#e39e8d 0.0%,#eab4a2 27.5%,#f1cbb8 36.4%,#e7dad5 45.9%,#d1dfeb 53.5%,#478dba 63.6%,#246190 70.6%,#174574 77.5%,#123a68 87.0%,#15406e 97.8%,#174472 100.0%)"></i><i style="background:linear-gradient(90deg,#e39d8c 0.0%,#eab2a0 28.2%,#f1cab7 37.7%,#efd4c5 42.7%,#d6dfe7 53.5%,#d2e0eb 54.7%,#488dbb 64.9%,#246291 71.8%,#174674 78.8%,#123a68 88.3%,#15406e 99.1%,#15416f 100.0%)"></i><i style="background:linear-gradient(90deg,#e39c8a 0.0%,#e9b19f 29.4%,#f1c8b5 38.9%,#f2d1c0 42.1%,#dbdfe3 53.5%,#d3e0ea 56.0%,#4a8ebb 66.1%,#256291 73.1%,#184674 80.1%,#123a68 89.6%,#143e6c 100.0%)"></i><i style="background:linear-gradient(90deg,#e29b89 0.0%,#e9b09e 30.7%,#f0c6b4 40.2%,#f1d2c1 44.0%,#dbdee3 54.7%,#cedeea 57.9%,#458bb9 68.0%,#24608f 75.0%,#174573 82.0%,#123a68 91.5%,#133c6a 100.0%)"></i><i style="background:linear-gradient(90deg,#e29988 0.0%,#e8ae9c 32.0%,#efc5b2 41.5%,#f2d1c0 45.3%,#dadfe4 56.6%,#d2e0eb 59.2%,#478cba 69.3%,#246190 76.3%,#174574 83.2%,#123a68 92.7%,#123b69 100.0%)"></i><i style="background:linear-gradient(90deg,#e19887 0.0%,#e8ad9b 33.2%,#efc3b0 42.7%,#f1d1c0 47.2%,#dbdee3 57.9%,#d3e0ea 60.4%,#4a8fbb 70.6%,#276695 76.9%,#184876 83.9%,#123b69 92.7%,#123a68 100.0%)"></i><i style="background:linear-gradient(90deg,#e19786 0.0%,#e8ab99 34.5%,#eec0ae 44.0%,#f1d2c0 49.1%,#dadfe4 59.8%,#d1e0eb 62.3%,#468cba 72.5%,#246190 79.4%,#174574 86.4%,#123a68 95.9%,#123a68 100.0%)"></i><i style="background:linear-gradient(90deg,#e19685 0.0%,#e7aa98 35.8%,#edbeac 45.3%,#f1d2c1 50.9%,#d9dfe4 61.7%,#cedeea 64.2%,#4a8fbc 73.7%,#276695 80.1%,#184775 87.7%,#123a68 97.2%,#123a68 100.0%)"></i><i style="background:linear-gradient(90deg,#e09583 0.0%,#e7a896 37.0%,#edbeab 47.2%,#f2d1bf 52.2%,#dbdfe3 63.0%,#d2e0eb 65.5%,#488dbb 75.6%,#256291 82.6%,#184674 89.6%,#123a68 99.1%,#123a68 100.0%)"></i><i style="background:linear-gradient(90deg,#e09482 0.0%,#e6a795 38.3%,#ecbba9 48.4%,#f2d1bf 54.1%,#dadfe3 64.9%,#d2e0eb 67.4%,#468cba 77.5%,#246190 84.5%,#174473 92.1%,#123b69 100.0%)"></i><i style="background:linear-gradient(90deg,#e09381 0.0%,#e6a694 40.2%,#ecbaa8 50.3%,#f2d1bf 56.0%,#dadfe4 66.8%,#d1dfeb 69.3%,#4d90bd 78.8%,#3b7ead 81.3%,#235e8c 87.0%,#164371 94.6%,#133c6a 100.0%)"></i><i style="background:linear-gradient(90deg,#df9280 0.0%,#e5a593 42.1%,#ecb9a7 52.2%,#f2d1bf 57.9%,#dadfe4 68.7%,#d1dfeb 71.2%,#4d90bd 80.7%,#377aa9 83.9%,#215b89 89.6%,#164270 97.2%,#143e6c 100.0%)"></i><i style="background:linear-gradient(90deg,#df9180 0.0%,#e5a391 43.4%,#ebb6a3 53.5%,#f2d1c0 60.4%,#d8dfe5 71.2%,#d2e0eb 73.1%,#4d91bd 82.6%,#3f83b1 84.5%,#235e8d 90.8%,#174472 98.4%,#15416f 100.0%)"></i><i style="background:linear-gradient(90deg,#df907f 0.0%,#e4a290 45.3%,#eab4a2 55.4%,#f2d1bf 62.3%,#d9dfe5 73.1%,#d2e0eb 75.0%,#478dbb 85.1%,#256392 92.1%,#184674 100.0%)"></i><i style="background:linear-gradient(90deg,#df8f7e 0.0%,#e4a08f 47.2%,#eab2a0 57.3%,#f2d1c0 64.9%,#d8dfe6 75.6%,#cedeea 77.5%,#5294bf 86.4%,#4186b4 88.3%,#235e8d 95.3%,#1a4c7b 100.0%)"></i><i style="background:linear-gradient(90deg,#de8e7d 0.0%,#e49f8d 49.1%,#e9b09e 59.2%,#f1d1c0 67.4%,#d9dfe5 77.5%,#d2e0eb 79.4%,#4f92bd 88.9%,#3f84b2 90.8%,#24608f 97.2%,#1e5583 100.0%)"></i><i style="background:linear-gradient(90deg,#de8d7c 0.0%,#e39e8c 51.6%,#e9b09e 61.7%,#f2d1bf 69.3%,#d8dfe5 80.1%,#d0dfea 82.0%,#5596c0 90.8%,#4287b5 92.7%,#24608f 100.0%)"></i><i style="background:linear-gradient(90deg,#de8c7b 0.0%,#e39c8b 53.5%,#e8ad9b 63.6%,#f2cbb8 70.6%,#e2dddd 79.4%,#cfdeea 84.5%,#5495bf 93.4%,#4287b5 95.3%,#2c6d9b 100.0%)"></i><i style="background:linear-gradient(90deg,#dd8c7b 0.0%,#e29b8a 56.0%,#e8ab99 66.1%,#f1cab7 73.1%,#eed4c7 76.9%,#d8dfe6 85.1%,#d0dfea 87.0%,#5696c0 95.9%,#4388b6 97.8%,#397caa 100.0%)"></i></div><div class="cb" style="left:196px;top:17px;width:9px;height:137px;background:linear-gradient(180deg,#711127 0.0%,#9c2d35 10.0%,#c6594c 20.0%,#de8d7c 30.0%,#f3d0bd 40.0%,#e4dddb 50.0%,#d2e0eb 60.0%,#8ab8d4 70.0%,#468cba 80.0%,#266594 90.0%,#123a68 100.0%)"></div><div class="cb" style="left:425px;top:17px;width:9px;height:137px;background:linear-gradient(180deg,#711127 0.0%,#9c2d35 10.0%,#c6594c 20.0%,#de8d7c 30.0%,#f3d0bd 40.0%,#e4dddb 50.0%,#d2e0eb 60.0%,#8ab8d4 70.0%,#468cba 80.0%,#266594 90.0%,#123a68 100.0%)"></div><div class="cb" style="left:196px;top:201px;width:9px;height:137px;background:linear-gradient(180deg,#711127 0.0%,#9c2d35 10.0%,#c6594c 20.0%,#de8d7c 30.0%,#f3d0bd 40.0%,#e4dddb 50.0%,#d2e0eb 60.0%,#8ab8d4 70.0%,#468cba 80.0%,#266594 90.0%,#123a68 100.0%)"></div><div class="cb" style="left:425px;top:201px;width:9px;height:137px;background:linear-gradient(180deg,#711127 0.0%,#9c2d35 10.0%,#c6594c 20.0%,#de8d7c 30.0%,#f3d0bd 40.0%,#e4dddb 50.0%,#d2e0eb 60.0%,#8ab8d4 70.0%,#468cba 80.0%,#266594 90.0%,#123a68 100.0%)"></div><svg width="685" height="365" viewBox="0 0 685 365"><path d="M64.7,17.9 L65.5,19.6 L66.3,21.4 L67.1,23.1 L67.9,24.7 L68.7,26.4 L69.5,28.0 L70.3,29.7 L71.1,31.3 L71.9,32.9 L72.7,34.4 L73.5,36.0 L74.3,37.5 L75.1,39.0 L75.8,40.5 L76.6,42.0 L77.4,43.5 L78.2,44.9 L79.0,46.3 L79.8,47.8 L80.6,49.2 L81.4,50.5 L82.2,51.9 L83.0,53.3 L83.8,54.6 L84.6,55.9 L85.4,57.2 L86.2,58.5 L87.0,59.8 L87.8,61.0 L88.5,62.3 L89.3,63.5 L90.1,64.7 L90.9,65.9 L91.7,67.1 L92.5,68.3 L93.3,69.4 L94.1,70.6 L94.9,71.7 L95.7,72.9 L96.5,74.0 L97.3,75.1 L98.1,76.1 L98.9,77.2 L99.7,78.3 L100.5,79.3 L101.3,80.3 L102.0,81.4 L102.8,82.4 L103.6,83.4 L104.4,84.4 L105.2,85.3 L106.0,86.3 L106.8,87.3 L107.6,88.2 L108.4,89.1 L109.2,90.1 L110.0,91.0 L110.8,91.9 L111.6,92.8 L112.4,93.6 L113.2,94.5 L114.0,95.4 L114.7,96.2 L115.5,97.1 L116.3,97.9 L117.1,98.7 L117.9,99.5 L118.7,100.3 L119.5,101.1 L120.3,101.9 L121.1,102.7 L121.9,103.4 L122.7,104.2 L123.5,104.9 L124.3,105.7 L125.1,106.4 L125.9,107.1 L126.7,107.9 L127.5,108.6 L128.2,109.3 L129.0,109.9 L129.8,110.6 L130.6,111.3 L131.4,112.0 L132.2,112.6 L133.0,113.3 L133.8,113.9 L134.6,114.6 L135.4,115.2 L136.2,115.8 L137.0,116.4 L137.8,117.0 L138.6,117.6 L139.4,118.2 L140.2,118.8 L140.9,119.4 L141.7,120.0 L142.5,120.5 L143.3,121.1 L144.1,121.6 L144.9,122.2 L145.7,122.7 L146.5,123.3 L147.3,123.8 L148.1,124.3 L148.9,124.8 L149.7,125.3 L150.5,125.8 L151.3,126.3 L152.1,126.8 L152.9,127.3 L153.7,127.8 L154.4,128.3 L155.2,128.8 L156.0,129.2 L156.8,129.7 L157.6,130.1 L158.4,130.6 L159.2,131.0 L160.0,131.5 L160.8,131.9 L161.6,132.3 L162.4,132.8 L163.2,133.2 L164.0,133.6 L164.8,134.0 L165.6,134.4 L166.4,134.8 L167.2,135.2 L167.9,135.6 L168.7,136.0 L169.5,136.4 L170.3,136.7 L171.1,137.1 L171.9,137.5 L172.7,137.9 L173.5,138.2 L174.3,138.6 L175.1,138.9 L175.9,139.3 L176.7,139.6 L177.5,140.0 L178.3,140.3 L179.1,140.6 L179.9,141.0 L180.6,141.3 L181.4,141.6 L182.2,141.9 L183.0,142.2 L183.8,142.5 L184.6,142.9 L185.4,143.2 L186.2,143.5 L187.0,143.8" fill="none" stroke="#ebe8ee" stroke-opacity="0.88" stroke-width="0.95" stroke-dasharray="5.8,6.5" stroke-dashoffset="10.3"/><path d="M293.7,17.9 L294.5,19.6 L295.3,21.4 L296.1,23.1 L296.9,24.7 L297.7,26.4 L298.5,28.0 L299.3,29.7 L300.1,31.3 L300.9,32.9 L301.7,34.4 L302.5,36.0 L303.3,37.5 L304.1,39.0 L304.8,40.5 L305.6,42.0 L306.4,43.5 L307.2,44.9 L308.0,46.3 L308.8,47.8 L309.6,49.2 L310.4,50.5 L311.2,51.9 L312.0,53.3 L312.8,54.6 L313.6,55.9 L314.4,57.2 L315.2,58.5 L316.0,59.8 L316.8,61.0 L317.5,62.3 L318.3,63.5 L319.1,64.7 L319.9,65.9 L320.7,67.1 L321.5,68.3 L322.3,69.4 L323.1,70.6 L323.9,71.7 L324.7,72.9 L325.5,74.0 L326.3,75.1 L327.1,76.1 L327.9,77.2 L328.7,78.3 L329.5,79.3 L330.3,80.3 L331.0,81.4 L331.8,82.4 L332.6,83.4 L333.4,84.4 L334.2,85.3 L335.0,86.3 L335.8,87.3 L336.6,88.2 L337.4,89.1 L338.2,90.1 L339.0,91.0 L339.8,91.9 L340.6,92.8 L341.4,93.6 L342.2,94.5 L343.0,95.4 L343.7,96.2 L344.5,97.1 L345.3,97.9 L346.1,98.7 L346.9,99.5 L347.7,100.3 L348.5,101.1 L349.3,101.9 L350.1,102.7 L350.9,103.4 L351.7,104.2 L352.5,104.9 L353.3,105.7 L354.1,106.4 L354.9,107.1 L355.7,107.9 L356.5,108.6 L357.2,109.3 L358.0,109.9 L358.8,110.6 L359.6,111.3 L360.4,112.0 L361.2,112.6 L362.0,113.3 L362.8,113.9 L363.6,114.6 L364.4,115.2 L365.2,115.8 L366.0,116.4 L366.8,117.0 L367.6,117.6 L368.4,118.2 L369.2,118.8 L369.9,119.4 L370.7,120.0 L371.5,120.5 L372.3,121.1 L373.1,121.6 L373.9,122.2 L374.7,122.7 L375.5,123.3 L376.3,123.8 L377.1,124.3 L377.9,124.8 L378.7,125.3 L379.5,125.8 L380.3,126.3 L381.1,126.8 L381.9,127.3 L382.7,127.8 L383.4,128.3 L384.2,128.8 L385.0,129.2 L385.8,129.7 L386.6,130.1 L387.4,130.6 L388.2,131.0 L389.0,131.5 L389.8,131.9 L390.6,132.3 L391.4,132.8 L392.2,133.2 L393.0,133.6 L393.8,134.0 L394.6,134.4 L395.4,134.8 L396.2,135.2 L396.9,135.6 L397.7,136.0 L398.5,136.4 L399.3,136.7 L400.1,137.1 L400.9,137.5 L401.7,137.9 L402.5,138.2 L403.3,138.6 L404.1,138.9 L404.9,139.3 L405.7,139.6 L406.5,140.0 L407.3,140.3 L408.1,140.6 L408.9,141.0 L409.6,141.3 L410.4,141.6 L411.2,141.9 L412.0,142.2 L412.8,142.5 L413.6,142.9 L414.4,143.2 L415.2,143.5 L416.0,143.8" fill="none" stroke="#ebe8ee" stroke-opacity="0.88" stroke-width="0.95" stroke-dasharray="5.8,6.5" stroke-dashoffset="10.3"/><path d="M64.7,201.9 L65.5,203.6 L66.3,205.4 L67.1,207.1 L67.9,208.7 L68.7,210.4 L69.5,212.0 L70.3,213.7 L71.1,215.3 L71.9,216.9 L72.7,218.4 L73.5,220.0 L74.3,221.5 L75.1,223.0 L75.8,224.5 L76.6,226.0 L77.4,227.5 L78.2,228.9 L79.0,230.3 L79.8,231.8 L80.6,233.2 L81.4,234.5 L82.2,235.9 L83.0,237.3 L83.8,238.6 L84.6,239.9 L85.4,241.2 L86.2,242.5 L87.0,243.8 L87.8,245.0 L88.5,246.3 L89.3,247.5 L90.1,248.7 L90.9,249.9 L91.7,251.1 L92.5,252.3 L93.3,253.4 L94.1,254.6 L94.9,255.7 L95.7,256.9 L96.5,258.0 L97.3,259.1 L98.1,260.1 L98.9,261.2 L99.7,262.3 L100.5,263.3 L101.3,264.3 L102.0,265.4 L102.8,266.4 L103.6,267.4 L104.4,268.4 L105.2,269.3 L106.0,270.3 L106.8,271.3 L107.6,272.2 L108.4,273.1 L109.2,274.1 L110.0,275.0 L110.8,275.9 L111.6,276.8 L112.4,277.6 L113.2,278.5 L114.0,279.4 L114.7,280.2 L115.5,281.1 L116.3,281.9 L117.1,282.7 L117.9,283.5 L118.7,284.3 L119.5,285.1 L120.3,285.9 L121.1,286.7 L121.9,287.4 L122.7,288.2 L123.5,288.9 L124.3,289.7 L125.1,290.4 L125.9,291.1 L126.7,291.9 L127.5,292.6 L128.2,293.3 L129.0,293.9 L129.8,294.6 L130.6,295.3 L131.4,296.0 L132.2,296.6 L133.0,297.3 L133.8,297.9 L134.6,298.6 L135.4,299.2 L136.2,299.8 L137.0,300.4 L137.8,301.0 L138.6,301.6 L139.4,302.2 L140.2,302.8 L140.9,303.4 L141.7,304.0 L142.5,304.5 L143.3,305.1 L144.1,305.6 L144.9,306.2 L145.7,306.7 L146.5,307.3 L147.3,307.8 L148.1,308.3 L148.9,308.8 L149.7,309.3 L150.5,309.8 L151.3,310.3 L152.1,310.8 L152.9,311.3 L153.7,311.8 L154.4,312.3 L155.2,312.8 L156.0,313.2 L156.8,313.7 L157.6,314.1 L158.4,314.6 L159.2,315.0 L160.0,315.5 L160.8,315.9 L161.6,316.3 L162.4,316.8 L163.2,317.2 L164.0,317.6 L164.8,318.0 L165.6,318.4 L166.4,318.8 L167.2,319.2 L167.9,319.6 L168.7,320.0 L169.5,320.4 L170.3,320.7 L171.1,321.1 L171.9,321.5 L172.7,321.9 L173.5,322.2 L174.3,322.6 L175.1,322.9 L175.9,323.3 L176.7,323.6 L177.5,324.0 L178.3,324.3 L179.1,324.6 L179.9,325.0 L180.6,325.3 L181.4,325.6 L182.2,325.9 L183.0,326.2 L183.8,326.5 L184.6,326.9 L185.4,327.2 L186.2,327.5 L187.0,327.8" fill="none" stroke="#ebe8ee" stroke-opacity="0.88" stroke-width="0.95" stroke-dasharray="5.8,6.5" stroke-dashoffset="10.3"/><path d="M293.7,201.9 L294.5,203.6 L295.3,205.4 L296.1,207.1 L296.9,208.7 L297.7,210.4 L298.5,212.0 L299.3,213.7 L300.1,215.3 L300.9,216.9 L301.7,218.4 L302.5,220.0 L303.3,221.5 L304.1,223.0 L304.8,224.5 L305.6,226.0 L306.4,227.5 L307.2,228.9 L308.0,230.3 L308.8,231.8 L309.6,233.2 L310.4,234.5 L311.2,235.9 L312.0,237.3 L312.8,238.6 L313.6,239.9 L314.4,241.2 L315.2,242.5 L316.0,243.8 L316.8,245.0 L317.5,246.3 L318.3,247.5 L319.1,248.7 L319.9,249.9 L320.7,251.1 L321.5,252.3 L322.3,253.4 L323.1,254.6 L323.9,255.7 L324.7,256.9 L325.5,258.0 L326.3,259.1 L327.1,260.1 L327.9,261.2 L328.7,262.3 L329.5,263.3 L330.3,264.3 L331.0,265.4 L331.8,266.4 L332.6,267.4 L333.4,268.4 L334.2,269.3 L335.0,270.3 L335.8,271.3 L336.6,272.2 L337.4,273.1 L338.2,274.1 L339.0,275.0 L339.8,275.9 L340.6,276.8 L341.4,277.6 L342.2,278.5 L343.0,279.4 L343.7,280.2 L344.5,281.1 L345.3,281.9 L346.1,282.7 L346.9,283.5 L347.7,284.3 L348.5,285.1 L349.3,285.9 L350.1,286.7 L350.9,287.4 L351.7,288.2 L352.5,288.9 L353.3,289.7 L354.1,290.4 L354.9,291.1 L355.7,291.9 L356.5,292.6 L357.2,293.3 L358.0,293.9 L358.8,294.6 L359.6,295.3 L360.4,296.0 L361.2,296.6 L362.0,297.3 L362.8,297.9 L363.6,298.6 L364.4,299.2 L365.2,299.8 L366.0,300.4 L366.8,301.0 L367.6,301.6 L368.4,302.2 L369.2,302.8 L369.9,303.4 L370.7,304.0 L371.5,304.5 L372.3,305.1 L373.1,305.6 L373.9,306.2 L374.7,306.7 L375.5,307.3 L376.3,307.8 L377.1,308.3 L377.9,308.8 L378.7,309.3 L379.5,309.8 L380.3,310.3 L381.1,310.8 L381.9,311.3 L382.7,311.8 L383.4,312.3 L384.2,312.8 L385.0,313.2 L385.8,313.7 L386.6,314.1 L387.4,314.6 L388.2,315.0 L389.0,315.5 L389.8,315.9 L390.6,316.3 L391.4,316.8 L392.2,317.2 L393.0,317.6 L393.8,318.0 L394.6,318.4 L395.4,318.8 L396.2,319.2 L396.9,319.6 L397.7,320.0 L398.5,320.4 L399.3,320.7 L400.1,321.1 L400.9,321.5 L401.7,321.9 L402.5,322.2 L403.3,322.6 L404.1,322.9 L404.9,323.3 L405.7,323.6 L406.5,324.0 L407.3,324.3 L408.1,324.6 L408.9,325.0 L409.6,325.3 L410.4,325.6 L411.2,325.9 L412.0,326.2 L412.8,326.5 L413.6,326.9 L414.4,327.2 L415.2,327.5 L416.0,327.8" fill="none" stroke="#ebe8ee" stroke-opacity="0.88" stroke-width="0.95" stroke-dasharray="5.8,6.5" stroke-dashoffset="10.3"/><rect x="28.65" y="16.65" width="158.70" height="137.70" fill="none" stroke="#bdbdbd" stroke-width="0.75"/><line x1="29.00" y1="154.00" x2="29.00" y2="151.80" stroke="#3a3a3a" stroke-width="0.70" stroke-opacity="0.55"/><line x1="29.00" y1="17.00" x2="29.00" y2="19.20" stroke="#3a3a3a" stroke-width="0.70" stroke-opacity="0.55"/><line x1="52.78" y1="154.00" x2="52.78" y2="152.60" stroke="#3a3a3a" stroke-width="0.70" stroke-opacity="0.55"/><line x1="52.78" y1="17.00" x2="52.78" y2="18.40" stroke="#3a3a3a" stroke-width="0.70" stroke-opacity="0.55"/><line x1="66.69" y1="154.00" x2="66.69" y2="152.60" stroke="#3a3a3a" stroke-width="0.70" stroke-opacity="0.55"/><line x1="66.69" y1="17.00" x2="66.69" y2="18.40" stroke="#3a3a3a" stroke-width="0.70" stroke-opacity="0.55"/><line x1="76.56" y1="154.00" x2="76.56" y2="152.60" stroke="#3a3a3a" stroke-width="0.70" stroke-opacity="0.55"/><line x1="76.56" y1="17.00" x2="76.56" y2="18.40" stroke="#3a3a3a" stroke-width="0.70" stroke-opacity="0.55"/><line x1="84.22" y1="154.00" x2="84.22" y2="152.60" stroke="#3a3a3a" stroke-width="0.70" stroke-opacity="0.55"/><line x1="84.22" y1="17.00" x2="84.22" y2="18.40" stroke="#3a3a3a" stroke-width="0.70" stroke-opacity="0.55"/><line x1="90.47" y1="154.00" x2="90.47" y2="152.60" stroke="#3a3a3a" stroke-width="0.70" stroke-opacity="0.55"/><line x1="90.47" y1="17.00" x2="90.47" y2="18.40" stroke="#3a3a3a" stroke-width="0.70" stroke-opacity="0.55"/><line x1="95.76" y1="154.00" x2="95.76" y2="152.60" stroke="#3a3a3a" stroke-width="0.70" stroke-opacity="0.55"/><line x1="95.76" y1="17.00" x2="95.76" y2="18.40" stroke="#3a3a3a" stroke-width="0.70" stroke-opacity="0.55"/><line x1="100.34" y1="154.00" x2="100.34" y2="152.60" stroke="#3a3a3a" stroke-width="0.70" stroke-opacity="0.55"/><line x1="100.34" y1="17.00" x2="100.34" y2="18.40" stroke="#3a3a3a" stroke-width="0.70" stroke-opacity="0.55"/><line x1="104.39" y1="154.00" x2="104.39" y2="152.60" stroke="#3a3a3a" stroke-width="0.70" stroke-opacity="0.55"/><line x1="104.39" y1="17.00" x2="104.39" y2="18.40" stroke="#3a3a3a" stroke-width="0.70" stroke-opacity="0.55"/><line x1="108.00" y1="154.00" x2="108.00" y2="151.80" stroke="#3a3a3a" stroke-width="0.70" stroke-opacity="0.55"/><line x1="108.00" y1="17.00" x2="108.00" y2="19.20" stroke="#3a3a3a" stroke-width="0.70" stroke-opacity="0.55"/><line x1="131.78" y1="154.00" x2="131.78" y2="152.60" stroke="#3a3a3a" stroke-width="0.70" stroke-opacity="0.55"/><line x1="131.78" y1="17.00" x2="131.78" y2="18.40" stroke="#3a3a3a" stroke-width="0.70" stroke-opacity="0.55"/><line x1="145.69" y1="154.00" x2="145.69" y2="152.60" stroke="#3a3a3a" stroke-width="0.70" stroke-opacity="0.55"/><line x1="145.69" y1="17.00" x2="145.69" y2="18.40" stroke="#3a3a3a" stroke-width="0.70" stroke-opacity="0.55"/><line x1="155.56" y1="154.00" x2="155.56" y2="152.60" stroke="#3a3a3a" stroke-width="0.70" stroke-opacity="0.55"/><line x1="155.56" y1="17.00" x2="155.56" y2="18.40" stroke="#3a3a3a" stroke-width="0.70" stroke-opacity="0.55"/><line x1="163.22" y1="154.00" x2="163.22" y2="152.60" stroke="#3a3a3a" stroke-width="0.70" stroke-opacity="0.55"/><line x1="163.22" y1="17.00" x2="163.22" y2="18.40" stroke="#3a3a3a" stroke-width="0.70" stroke-opacity="0.55"/><line x1="169.47" y1="154.00" x2="169.47" y2="152.60" stroke="#3a3a3a" stroke-width="0.70" stroke-opacity="0.55"/><line x1="169.47" y1="17.00" x2="169.47" y2="18.40" stroke="#3a3a3a" stroke-width="0.70" stroke-opacity="0.55"/><line x1="174.76" y1="154.00" x2="174.76" y2="152.60" stroke="#3a3a3a" stroke-width="0.70" stroke-opacity="0.55"/><line x1="174.76" y1="17.00" x2="174.76" y2="18.40" stroke="#3a3a3a" stroke-width="0.70" stroke-opacity="0.55"/><line x1="179.34" y1="154.00" x2="179.34" y2="152.60" stroke="#3a3a3a" stroke-width="0.70" stroke-opacity="0.55"/><line x1="179.34" y1="17.00" x2="179.34" y2="18.40" stroke="#3a3a3a" stroke-width="0.70" stroke-opacity="0.55"/><line x1="183.39" y1="154.00" x2="183.39" y2="152.60" stroke="#3a3a3a" stroke-width="0.70" stroke-opacity="0.55"/><line x1="183.39" y1="17.00" x2="183.39" y2="18.40" stroke="#3a3a3a" stroke-width="0.70" stroke-opacity="0.55"/><line x1="187.00" y1="154.00" x2="187.00" y2="151.80" stroke="#3a3a3a" stroke-width="0.70" stroke-opacity="0.55"/><line x1="187.00" y1="17.00" x2="187.00" y2="19.20" stroke="#3a3a3a" stroke-width="0.70" stroke-opacity="0.55"/><line x1="29.00" y1="138.78" x2="31.20" y2="138.78" stroke="#3a3a3a" stroke-width="0.70" stroke-opacity="0.55"/><line x1="187.00" y1="138.78" x2="184.80" y2="138.78" stroke="#3a3a3a" stroke-width="0.70" stroke-opacity="0.55"/><text x="26.20" y="142.18" font-size="9.50" text-anchor="end" fill="#262626">10</text><line x1="29.00" y1="108.33" x2="31.20" y2="108.33" stroke="#3a3a3a" stroke-width="0.70" stroke-opacity="0.55"/><line x1="187.00" y1="108.33" x2="184.80" y2="108.33" stroke="#3a3a3a" stroke-width="0.70" stroke-opacity="0.55"/><text x="26.20" y="111.73" font-size="9.50" text-anchor="end" fill="#262626">20</text><line x1="29.00" y1="77.89" x2="31.20" y2="77.89" stroke="#3a3a3a" stroke-width="0.70" stroke-opacity="0.55"/><line x1="187.00" y1="77.89" x2="184.80" y2="77.89" stroke="#3a3a3a" stroke-width="0.70" stroke-opacity="0.55"/><text x="26.20" y="81.29" font-size="9.50" text-anchor="end" fill="#262626">30</text><line x1="29.00" y1="47.44" x2="31.20" y2="47.44" stroke="#3a3a3a" stroke-width="0.70" stroke-opacity="0.55"/><line x1="187.00" y1="47.44" x2="184.80" y2="47.44" stroke="#3a3a3a" stroke-width="0.70" stroke-opacity="0.55"/><text x="26.20" y="50.84" font-size="9.50" text-anchor="end" fill="#262626">40</text><line x1="29.00" y1="17.00" x2="31.20" y2="17.00" stroke="#3a3a3a" stroke-width="0.70" stroke-opacity="0.55"/><line x1="187.00" y1="17.00" x2="184.80" y2="17.00" stroke="#3a3a3a" stroke-width="0.70" stroke-opacity="0.55"/><text x="26.20" y="20.40" font-size="9.50" text-anchor="end" fill="#262626">50</text><text x="29.90" y="166.20" font-size="9.50" text-anchor="middle" fill="#262626">10<tspan dy="-4.4" font-size="6.65">2</tspan></text><text x="108.90" y="166.20" font-size="9.50" text-anchor="middle" fill="#262626">10<tspan dy="-4.4" font-size="6.65">3</tspan></text><text x="187.90" y="166.20" font-size="9.50" text-anchor="middle" fill="#262626">10<tspan dy="-4.4" font-size="6.65">4</tspan></text><text x="101.80" y="177.60" font-size="10" fill="#262626">Q<tspan dy="2.6" font-size="7.2">c</tspan></text><text transform="translate(7.40,92.50) rotate(-90)" font-size="10.3" fill="#262626" text-anchor="middle">- g<tspan dy="2.7" font-size="7.2">1</tspan><tspan dy="-2.7" dx="1.5"> (meV)</tspan></text><rect x="195.80" y="17.00" width="9.20" height="137.00" fill="none" stroke="#a8a8a8" stroke-width="0.80"/><line x1="205.00" y1="154.00" x2="203.20" y2="154.00" stroke="#a8a8a8" stroke-width="0.80"/><text x="208.60" y="157.00" font-size="8.20" text-anchor="start" fill="#262626">1</text><line x1="205.00" y1="134.43" x2="203.20" y2="134.43" stroke="#a8a8a8" stroke-width="0.80"/><text x="208.60" y="137.43" font-size="8.20" text-anchor="start" fill="#262626">2</text><line x1="205.00" y1="114.86" x2="203.20" y2="114.86" stroke="#a8a8a8" stroke-width="0.80"/><text x="208.60" y="117.86" font-size="8.20" text-anchor="start" fill="#262626">3</text><line x1="205.00" y1="95.29" x2="203.20" y2="95.29" stroke="#a8a8a8" stroke-width="0.80"/><text x="208.60" y="98.29" font-size="8.20" text-anchor="start" fill="#262626">4</text><line x1="205.00" y1="75.71" x2="203.20" y2="75.71" stroke="#a8a8a8" stroke-width="0.80"/><text x="208.60" y="78.71" font-size="8.20" text-anchor="start" fill="#262626">5</text><line x1="205.00" y1="56.14" x2="203.20" y2="56.14" stroke="#a8a8a8" stroke-width="0.80"/><text x="208.60" y="59.14" font-size="8.20" text-anchor="start" fill="#262626">6</text><line x1="205.00" y1="36.57" x2="203.20" y2="36.57" stroke="#a8a8a8" stroke-width="0.80"/><text x="208.60" y="39.57" font-size="8.20" text-anchor="start" fill="#262626">7</text><line x1="205.00" y1="17.00" x2="203.20" y2="17.00" stroke="#a8a8a8" stroke-width="0.80"/><text x="208.60" y="20.00" font-size="8.20" text-anchor="start" fill="#262626">8</text><rect x="257.65" y="16.65" width="158.70" height="137.70" fill="none" stroke="#bdbdbd" stroke-width="0.75"/><line x1="258.00" y1="154.00" x2="258.00" y2="151.80" stroke="#3a3a3a" stroke-width="0.70" stroke-opacity="0.55"/><line x1="258.00" y1="17.00" x2="258.00" y2="19.20" stroke="#3a3a3a" stroke-width="0.70" stroke-opacity="0.55"/><line x1="281.78" y1="154.00" x2="281.78" y2="152.60" stroke="#3a3a3a" stroke-width="0.70" stroke-opacity="0.55"/><line x1="281.78" y1="17.00" x2="281.78" y2="18.40" stroke="#3a3a3a" stroke-width="0.70" stroke-opacity="0.55"/><line x1="295.69" y1="154.00" x2="295.69" y2="152.60" stroke="#3a3a3a" stroke-width="0.70" stroke-opacity="0.55"/><line x1="295.69" y1="17.00" x2="295.69" y2="18.40" stroke="#3a3a3a" stroke-width="0.70" stroke-opacity="0.55"/><line x1="305.56" y1="154.00" x2="305.56" y2="152.60" stroke="#3a3a3a" stroke-width="0.70" stroke-opacity="0.55"/><line x1="305.56" y1="17.00" x2="305.56" y2="18.40" stroke="#3a3a3a" stroke-width="0.70" stroke-opacity="0.55"/><line x1="313.22" y1="154.00" x2="313.22" y2="152.60" stroke="#3a3a3a" stroke-width="0.70" stroke-opacity="0.55"/><line x1="313.22" y1="17.00" x2="313.22" y2="18.40" stroke="#3a3a3a" stroke-width="0.70" stroke-opacity="0.55"/><line x1="319.47" y1="154.00" x2="319.47" y2="152.60" stroke="#3a3a3a" stroke-width="0.70" stroke-opacity="0.55"/><line x1="319.47" y1="17.00" x2="319.47" y2="18.40" stroke="#3a3a3a" stroke-width="0.70" stroke-opacity="0.55"/><line x1="324.76" y1="154.00" x2="324.76" y2="152.60" stroke="#3a3a3a" stroke-width="0.70" stroke-opacity="0.55"/><line x1="324.76" y1="17.00" x2="324.76" y2="18.40" stroke="#3a3a3a" stroke-width="0.70" stroke-opacity="0.55"/><line x1="329.34" y1="154.00" x2="329.34" y2="152.60" stroke="#3a3a3a" stroke-width="0.70" stroke-opacity="0.55"/><line x1="329.34" y1="17.00" x2="329.34" y2="18.40" stroke="#3a3a3a" stroke-width="0.70" stroke-opacity="0.55"/><line x1="333.39" y1="154.00" x2="333.39" y2="152.60" stroke="#3a3a3a" stroke-width="0.70" stroke-opacity="0.55"/><line x1="333.39" y1="17.00" x2="333.39" y2="18.40" stroke="#3a3a3a" stroke-width="0.70" stroke-opacity="0.55"/><line x1="337.00" y1="154.00" x2="337.00" y2="151.80" stroke="#3a3a3a" stroke-width="0.70" stroke-opacity="0.55"/><line x1="337.00" y1="17.00" x2="337.00" y2="19.20" stroke="#3a3a3a" stroke-width="0.70" stroke-opacity="0.55"/><line x1="360.78" y1="154.00" x2="360.78" y2="152.60" stroke="#3a3a3a" stroke-width="0.70" stroke-opacity="0.55"/><line x1="360.78" y1="17.00" x2="360.78" y2="18.40" stroke="#3a3a3a" stroke-width="0.70" stroke-opacity="0.55"/><line x1="374.69" y1="154.00" x2="374.69" y2="152.60" stroke="#3a3a3a" stroke-width="0.70" stroke-opacity="0.55"/><line x1="374.69" y1="17.00" x2="374.69" y2="18.40" stroke="#3a3a3a" stroke-width="0.70" stroke-opacity="0.55"/><line x1="384.56" y1="154.00" x2="384.56" y2="152.60" stroke="#3a3a3a" stroke-width="0.70" stroke-opacity="0.55"/><line x1="384.56" y1="17.00" x2="384.56" y2="18.40" stroke="#3a3a3a" stroke-width="0.70" stroke-opacity="0.55"/><line x1="392.22" y1="154.00" x2="392.22" y2="152.60" stroke="#3a3a3a" stroke-width="0.70" stroke-opacity="0.55"/><line x1="392.22" y1="17.00" x2="392.22" y2="18.40" stroke="#3a3a3a" stroke-width="0.70" stroke-opacity="0.55"/><line x1="398.47" y1="154.00" x2="398.47" y2="152.60" stroke="#3a3a3a" stroke-width="0.70" stroke-opacity="0.55"/><line x1="398.47" y1="17.00" x2="398.47" y2="18.40" stroke="#3a3a3a" stroke-width="0.70" stroke-opacity="0.55"/><line x1="403.76" y1="154.00" x2="403.76" y2="152.60" stroke="#3a3a3a" stroke-width="0.70" stroke-opacity="0.55"/><line x1="403.76" y1="17.00" x2="403.76" y2="18.40" stroke="#3a3a3a" stroke-width="0.70" stroke-opacity="0.55"/><line x1="408.34" y1="154.00" x2="408.34" y2="152.60" stroke="#3a3a3a" stroke-width="0.70" stroke-opacity="0.55"/><line x1="408.34" y1="17.00" x2="408.34" y2="18.40" stroke="#3a3a3a" stroke-width="0.70" stroke-opacity="0.55"/><line x1="412.39" y1="154.00" x2="412.39" y2="152.60" stroke="#3a3a3a" stroke-width="0.70" stroke-opacity="0.55"/><line x1="412.39" y1="17.00" x2="412.39" y2="18.40" stroke="#3a3a3a" stroke-width="0.70" stroke-opacity="0.55"/><line x1="416.00" y1="154.00" x2="416.00" y2="151.80" stroke="#3a3a3a" stroke-width="0.70" stroke-opacity="0.55"/><line x1="416.00" y1="17.00" x2="416.00" y2="19.20" stroke="#3a3a3a" stroke-width="0.70" stroke-opacity="0.55"/><line x1="258.00" y1="138.78" x2="260.20" y2="138.78" stroke="#3a3a3a" stroke-width="0.70" stroke-opacity="0.55"/><line x1="416.00" y1="138.78" x2="413.80" y2="138.78" stroke="#3a3a3a" stroke-width="0.70" stroke-opacity="0.55"/><text x="255.20" y="142.18" font-size="9.50" text-anchor="end" fill="#262626">10</text><line x1="258.00" y1="108.33" x2="260.20" y2="108.33" stroke="#3a3a3a" stroke-width="0.70" stroke-opacity="0.55"/><line x1="416.00" y1="108.33" x2="413.80" y2="108.33" stroke="#3a3a3a" stroke-width="0.70" stroke-opacity="0.55"/><text x="255.20" y="111.73" font-size="9.50" text-anchor="end" fill="#262626">20</text><line x1="258.00" y1="77.89" x2="260.20" y2="77.89" stroke="#3a3a3a" stroke-width="0.70" stroke-opacity="0.55"/><line x1="416.00" y1="77.89" x2="413.80" y2="77.89" stroke="#3a3a3a" stroke-width="0.70" stroke-opacity="0.55"/><text x="255.20" y="81.29" font-size="9.50" text-anchor="end" fill="#262626">30</text><line x1="258.00" y1="47.44" x2="260.20" y2="47.44" stroke="#3a3a3a" stroke-width="0.70" stroke-opacity="0.55"/><line x1="416.00" y1="47.44" x2="413.80" y2="47.44" stroke="#3a3a3a" stroke-width="0.70" stroke-opacity="0.55"/><text x="255.20" y="50.84" font-size="9.50" text-anchor="end" fill="#262626">40</text><line x1="258.00" y1="17.00" x2="260.20" y2="17.00" stroke="#3a3a3a" stroke-width="0.70" stroke-opacity="0.55"/><line x1="416.00" y1="17.00" x2="413.80" y2="17.00" stroke="#3a3a3a" stroke-width="0.70" stroke-opacity="0.55"/><text x="255.20" y="20.40" font-size="9.50" text-anchor="end" fill="#262626">50</text><text x="258.90" y="166.20" font-size="9.50" text-anchor="middle" fill="#262626">10<tspan dy="-4.4" font-size="6.65">2</tspan></text><text x="337.90" y="166.20" font-size="9.50" text-anchor="middle" fill="#262626">10<tspan dy="-4.4" font-size="6.65">3</tspan></text><text x="416.90" y="166.20" font-size="9.50" text-anchor="middle" fill="#262626">10<tspan dy="-4.4" font-size="6.65">4</tspan></text><text x="330.80" y="177.60" font-size="10" fill="#262626">Q<tspan dy="2.6" font-size="7.2">c</tspan></text><text transform="translate(236.40,92.50) rotate(-90)" font-size="10.3" fill="#262626" text-anchor="middle">- g<tspan dy="2.7" font-size="7.2">1</tspan><tspan dy="-2.7" dx="1.5"> (meV)</tspan></text><rect x="424.80" y="17.00" width="9.20" height="137.00" fill="none" stroke="#a8a8a8" stroke-width="0.80"/><line x1="434.00" y1="138.78" x2="432.20" y2="138.78" stroke="#a8a8a8" stroke-width="0.80"/><text x="437.60" y="141.78" font-size="8.20" text-anchor="start" fill="#262626">2</text><line x1="434.00" y1="108.33" x2="432.20" y2="108.33" stroke="#a8a8a8" stroke-width="0.80"/><text x="437.60" y="111.33" font-size="8.20" text-anchor="start" fill="#262626">4</text><line x1="434.00" y1="77.89" x2="432.20" y2="77.89" stroke="#a8a8a8" stroke-width="0.80"/><text x="437.60" y="80.89" font-size="8.20" text-anchor="start" fill="#262626">6</text><line x1="434.00" y1="47.44" x2="432.20" y2="47.44" stroke="#a8a8a8" stroke-width="0.80"/><text x="437.60" y="50.44" font-size="8.20" text-anchor="start" fill="#262626">8</text><line x1="434.00" y1="17.00" x2="432.20" y2="17.00" stroke="#a8a8a8" stroke-width="0.80"/><text x="437.60" y="20.00" font-size="8.20" text-anchor="start" fill="#262626">10</text><rect x="28.65" y="200.65" width="158.70" height="137.70" fill="none" stroke="#bdbdbd" stroke-width="0.75"/><line x1="29.00" y1="338.00" x2="29.00" y2="335.80" stroke="#3a3a3a" stroke-width="0.70" stroke-opacity="0.55"/><line x1="29.00" y1="201.00" x2="29.00" y2="203.20" stroke="#3a3a3a" stroke-width="0.70" stroke-opacity="0.55"/><line x1="52.78" y1="338.00" x2="52.78" y2="336.60" stroke="#3a3a3a" stroke-width="0.70" stroke-opacity="0.55"/><line x1="52.78" y1="201.00" x2="52.78" y2="202.40" stroke="#3a3a3a" stroke-width="0.70" stroke-opacity="0.55"/><line x1="66.69" y1="338.00" x2="66.69" y2="336.60" stroke="#3a3a3a" stroke-width="0.70" stroke-opacity="0.55"/><line x1="66.69" y1="201.00" x2="66.69" y2="202.40" stroke="#3a3a3a" stroke-width="0.70" stroke-opacity="0.55"/><line x1="76.56" y1="338.00" x2="76.56" y2="336.60" stroke="#3a3a3a" stroke-width="0.70" stroke-opacity="0.55"/><line x1="76.56" y1="201.00" x2="76.56" y2="202.40" stroke="#3a3a3a" stroke-width="0.70" stroke-opacity="0.55"/><line x1="84.22" y1="338.00" x2="84.22" y2="336.60" stroke="#3a3a3a" stroke-width="0.70" stroke-opacity="0.55"/><line x1="84.22" y1="201.00" x2="84.22" y2="202.40" stroke="#3a3a3a" stroke-width="0.70" stroke-opacity="0.55"/><line x1="90.47" y1="338.00" x2="90.47" y2="336.60" stroke="#3a3a3a" stroke-width="0.70" stroke-opacity="0.55"/><line x1="90.47" y1="201.00" x2="90.47" y2="202.40" stroke="#3a3a3a" stroke-width="0.70" stroke-opacity="0.55"/><line x1="95.76" y1="338.00" x2="95.76" y2="336.60" stroke="#3a3a3a" stroke-width="0.70" stroke-opacity="0.55"/><line x1="95.76" y1="201.00" x2="95.76" y2="202.40" stroke="#3a3a3a" stroke-width="0.70" stroke-opacity="0.55"/><line x1="100.34" y1="338.00" x2="100.34" y2="336.60" stroke="#3a3a3a" stroke-width="0.70" stroke-opacity="0.55"/><line x1="100.34" y1="201.00" x2="100.34" y2="202.40" stroke="#3a3a3a" stroke-width="0.70" stroke-opacity="0.55"/><line x1="104.39" y1="338.00" x2="104.39" y2="336.60" stroke="#3a3a3a" stroke-width="0.70" stroke-opacity="0.55"/><line x1="104.39" y1="201.00" x2="104.39" y2="202.40" stroke="#3a3a3a" stroke-width="0.70" stroke-opacity="0.55"/><line x1="108.00" y1="338.00" x2="108.00" y2="335.80" stroke="#3a3a3a" stroke-width="0.70" stroke-opacity="0.55"/><line x1="108.00" y1="201.00" x2="108.00" y2="203.20" stroke="#3a3a3a" stroke-width="0.70" stroke-opacity="0.55"/><line x1="131.78" y1="338.00" x2="131.78" y2="336.60" stroke="#3a3a3a" stroke-width="0.70" stroke-opacity="0.55"/><line x1="131.78" y1="201.00" x2="131.78" y2="202.40" stroke="#3a3a3a" stroke-width="0.70" stroke-opacity="0.55"/><line x1="145.69" y1="338.00" x2="145.69" y2="336.60" stroke="#3a3a3a" stroke-width="0.70" stroke-opacity="0.55"/><line x1="145.69" y1="201.00" x2="145.69" y2="202.40" stroke="#3a3a3a" stroke-width="0.70" stroke-opacity="0.55"/><line x1="155.56" y1="338.00" x2="155.56" y2="336.60" stroke="#3a3a3a" stroke-width="0.70" stroke-opacity="0.55"/><line x1="155.56" y1="201.00" x2="155.56" y2="202.40" stroke="#3a3a3a" stroke-width="0.70" stroke-opacity="0.55"/><line x1="163.22" y1="338.00" x2="163.22" y2="336.60" stroke="#3a3a3a" stroke-width="0.70" stroke-opacity="0.55"/><line x1="163.22" y1="201.00" x2="163.22" y2="202.40" stroke="#3a3a3a" stroke-width="0.70" stroke-opacity="0.55"/><line x1="169.47" y1="338.00" x2="169.47" y2="336.60" stroke="#3a3a3a" stroke-width="0.70" stroke-opacity="0.55"/><line x1="169.47" y1="201.00" x2="169.47" y2="202.40" stroke="#3a3a3a" stroke-width="0.70" stroke-opacity="0.55"/><line x1="174.76" y1="338.00" x2="174.76" y2="336.60" stroke="#3a3a3a" stroke-width="0.70" stroke-opacity="0.55"/><line x1="174.76" y1="201.00" x2="174.76" y2="202.40" stroke="#3a3a3a" stroke-width="0.70" stroke-opacity="0.55"/><line x1="179.34" y1="338.00" x2="179.34" y2="336.60" stroke="#3a3a3a" stroke-width="0.70" stroke-opacity="0.55"/><line x1="179.34" y1="201.00" x2="179.34" y2="202.40" stroke="#3a3a3a" stroke-width="0.70" stroke-opacity="0.55"/><line x1="183.39" y1="338.00" x2="183.39" y2="336.60" stroke="#3a3a3a" stroke-width="0.70" stroke-opacity="0.55"/><line x1="183.39" y1="201.00" x2="183.39" y2="202.40" stroke="#3a3a3a" stroke-width="0.70" stroke-opacity="0.55"/><line x1="187.00" y1="338.00" x2="187.00" y2="335.80" stroke="#3a3a3a" stroke-width="0.70" stroke-opacity="0.55"/><line x1="187.00" y1="201.00" x2="187.00" y2="203.20" stroke="#3a3a3a" stroke-width="0.70" stroke-opacity="0.55"/><line x1="29.00" y1="322.78" x2="31.20" y2="322.78" stroke="#3a3a3a" stroke-width="0.70" stroke-opacity="0.55"/><line x1="187.00" y1="322.78" x2="184.80" y2="322.78" stroke="#3a3a3a" stroke-width="0.70" stroke-opacity="0.55"/><text x="26.20" y="326.18" font-size="9.50" text-anchor="end" fill="#262626">10</text><line x1="29.00" y1="292.33" x2="31.20" y2="292.33" stroke="#3a3a3a" stroke-width="0.70" stroke-opacity="0.55"/><line x1="187.00" y1="292.33" x2="184.80" y2="292.33" stroke="#3a3a3a" stroke-width="0.70" stroke-opacity="0.55"/><text x="26.20" y="295.73" font-size="9.50" text-anchor="end" fill="#262626">20</text><line x1="29.00" y1="261.89" x2="31.20" y2="261.89" stroke="#3a3a3a" stroke-width="0.70" stroke-opacity="0.55"/><line x1="187.00" y1="261.89" x2="184.80" y2="261.89" stroke="#3a3a3a" stroke-width="0.70" stroke-opacity="0.55"/><text x="26.20" y="265.29" font-size="9.50" text-anchor="end" fill="#262626">30</text><line x1="29.00" y1="231.44" x2="31.20" y2="231.44" stroke="#3a3a3a" stroke-width="0.70" stroke-opacity="0.55"/><line x1="187.00" y1="231.44" x2="184.80" y2="231.44" stroke="#3a3a3a" stroke-width="0.70" stroke-opacity="0.55"/><text x="26.20" y="234.84" font-size="9.50" text-anchor="end" fill="#262626">40</text><line x1="29.00" y1="201.00" x2="31.20" y2="201.00" stroke="#3a3a3a" stroke-width="0.70" stroke-opacity="0.55"/><line x1="187.00" y1="201.00" x2="184.80" y2="201.00" stroke="#3a3a3a" stroke-width="0.70" stroke-opacity="0.55"/><text x="26.20" y="204.40" font-size="9.50" text-anchor="end" fill="#262626">50</text><text x="29.90" y="350.20" font-size="9.50" text-anchor="middle" fill="#262626">10<tspan dy="-4.4" font-size="6.65">2</tspan></text><text x="108.90" y="350.20" font-size="9.50" text-anchor="middle" fill="#262626">10<tspan dy="-4.4" font-size="6.65">3</tspan></text><text x="187.90" y="350.20" font-size="9.50" text-anchor="middle" fill="#262626">10<tspan dy="-4.4" font-size="6.65">4</tspan></text><text x="101.80" y="361.60" font-size="10" fill="#262626">Q<tspan dy="2.6" font-size="7.2">c</tspan></text><text transform="translate(7.40,276.50) rotate(-90)" font-size="10.3" fill="#262626" text-anchor="middle">- g<tspan dy="2.7" font-size="7.2">1</tspan><tspan dy="-2.7" dx="1.5"> (meV)</tspan></text><rect x="195.60" y="201.00" width="9.20" height="137.00" fill="none" stroke="#a8a8a8" stroke-width="0.80"/><line x1="204.80" y1="338.00" x2="203.00" y2="338.00" stroke="#a8a8a8" stroke-width="0.80"/><text x="208.40" y="341.00" font-size="8.20" text-anchor="start" fill="#262626">0.1</text><line x1="204.80" y1="303.75" x2="203.00" y2="303.75" stroke="#a8a8a8" stroke-width="0.80"/><text x="208.40" y="306.75" font-size="8.20" text-anchor="start" fill="#262626">0.3</text><line x1="204.80" y1="269.50" x2="203.00" y2="269.50" stroke="#a8a8a8" stroke-width="0.80"/><text x="208.40" y="272.50" font-size="8.20" text-anchor="start" fill="#262626">0.5</text><line x1="204.80" y1="235.25" x2="203.00" y2="235.25" stroke="#a8a8a8" stroke-width="0.80"/><text x="208.40" y="238.25" font-size="8.20" text-anchor="start" fill="#262626">0.7</text><line x1="204.80" y1="201.00" x2="203.00" y2="201.00" stroke="#a8a8a8" stroke-width="0.80"/><text x="208.40" y="204.00" font-size="8.20" text-anchor="start" fill="#262626">0.9</text><rect x="257.65" y="200.65" width="158.70" height="137.70" fill="none" stroke="#bdbdbd" stroke-width="0.75"/><line x1="258.00" y1="338.00" x2="258.00" y2="335.80" stroke="#3a3a3a" stroke-width="0.70" stroke-opacity="0.55"/><line x1="258.00" y1="201.00" x2="258.00" y2="203.20" stroke="#3a3a3a" stroke-width="0.70" stroke-opacity="0.55"/><line x1="281.78" y1="338.00" x2="281.78" y2="336.60" stroke="#3a3a3a" stroke-width="0.70" stroke-opacity="0.55"/><line x1="281.78" y1="201.00" x2="281.78" y2="202.40" stroke="#3a3a3a" stroke-width="0.70" stroke-opacity="0.55"/><line x1="295.69" y1="338.00" x2="295.69" y2="336.60" stroke="#3a3a3a" stroke-width="0.70" stroke-opacity="0.55"/><line x1="295.69" y1="201.00" x2="295.69" y2="202.40" stroke="#3a3a3a" stroke-width="0.70" stroke-opacity="0.55"/><line x1="305.56" y1="338.00" x2="305.56" y2="336.60" stroke="#3a3a3a" stroke-width="0.70" stroke-opacity="0.55"/><line x1="305.56" y1="201.00" x2="305.56" y2="202.40" stroke="#3a3a3a" stroke-width="0.70" stroke-opacity="0.55"/><line x1="313.22" y1="338.00" x2="313.22" y2="336.60" stroke="#3a3a3a" stroke-width="0.70" stroke-opacity="0.55"/><line x1="313.22" y1="201.00" x2="313.22" y2="202.40" stroke="#3a3a3a" stroke-width="0.70" stroke-opacity="0.55"/><line x1="319.47" y1="338.00" x2="319.47" y2="336.60" stroke="#3a3a3a" stroke-width="0.70" stroke-opacity="0.55"/><line x1="319.47" y1="201.00" x2="319.47" y2="202.40" stroke="#3a3a3a" stroke-width="0.70" stroke-opacity="0.55"/><line x1="324.76" y1="338.00" x2="324.76" y2="336.60" stroke="#3a3a3a" stroke-width="0.70" stroke-opacity="0.55"/><line x1="324.76" y1="201.00" x2="324.76" y2="202.40" stroke="#3a3a3a" stroke-width="0.70" stroke-opacity="0.55"/><line x1="329.34" y1="338.00" x2="329.34" y2="336.60" stroke="#3a3a3a" stroke-width="0.70" stroke-opacity="0.55"/><line x1="329.34" y1="201.00" x2="329.34" y2="202.40" stroke="#3a3a3a" stroke-width="0.70" stroke-opacity="0.55"/><line x1="333.39" y1="338.00" x2="333.39" y2="336.60" stroke="#3a3a3a" stroke-width="0.70" stroke-opacity="0.55"/><line x1="333.39" y1="201.00" x2="333.39" y2="202.40" stroke="#3a3a3a" stroke-width="0.70" stroke-opacity="0.55"/><line x1="337.00" y1="338.00" x2="337.00" y2="335.80" stroke="#3a3a3a" stroke-width="0.70" stroke-opacity="0.55"/><line x1="337.00" y1="201.00" x2="337.00" y2="203.20" stroke="#3a3a3a" stroke-width="0.70" stroke-opacity="0.55"/><line x1="360.78" y1="338.00" x2="360.78" y2="336.60" stroke="#3a3a3a" stroke-width="0.70" stroke-opacity="0.55"/><line x1="360.78" y1="201.00" x2="360.78" y2="202.40" stroke="#3a3a3a" stroke-width="0.70" stroke-opacity="0.55"/><line x1="374.69" y1="338.00" x2="374.69" y2="336.60" stroke="#3a3a3a" stroke-width="0.70" stroke-opacity="0.55"/><line x1="374.69" y1="201.00" x2="374.69" y2="202.40" stroke="#3a3a3a" stroke-width="0.70" stroke-opacity="0.55"/><line x1="384.56" y1="338.00" x2="384.56" y2="336.60" stroke="#3a3a3a" stroke-width="0.70" stroke-opacity="0.55"/><line x1="384.56" y1="201.00" x2="384.56" y2="202.40" stroke="#3a3a3a" stroke-width="0.70" stroke-opacity="0.55"/><line x1="392.22" y1="338.00" x2="392.22" y2="336.60" stroke="#3a3a3a" stroke-width="0.70" stroke-opacity="0.55"/><line x1="392.22" y1="201.00" x2="392.22" y2="202.40" stroke="#3a3a3a" stroke-width="0.70" stroke-opacity="0.55"/><line x1="398.47" y1="338.00" x2="398.47" y2="336.60" stroke="#3a3a3a" stroke-width="0.70" stroke-opacity="0.55"/><line x1="398.47" y1="201.00" x2="398.47" y2="202.40" stroke="#3a3a3a" stroke-width="0.70" stroke-opacity="0.55"/><line x1="403.76" y1="338.00" x2="403.76" y2="336.60" stroke="#3a3a3a" stroke-width="0.70" stroke-opacity="0.55"/><line x1="403.76" y1="201.00" x2="403.76" y2="202.40" stroke="#3a3a3a" stroke-width="0.70" stroke-opacity="0.55"/><line x1="408.34" y1="338.00" x2="408.34" y2="336.60" stroke="#3a3a3a" stroke-width="0.70" stroke-opacity="0.55"/><line x1="408.34" y1="201.00" x2="408.34" y2="202.40" stroke="#3a3a3a" stroke-width="0.70" stroke-opacity="0.55"/><line x1="412.39" y1="338.00" x2="412.39" y2="336.60" stroke="#3a3a3a" stroke-width="0.70" stroke-opacity="0.55"/><line x1="412.39" y1="201.00" x2="412.39" y2="202.40" stroke="#3a3a3a" stroke-width="0.70" stroke-opacity="0.55"/><line x1="416.00" y1="338.00" x2="416.00" y2="335.80" stroke="#3a3a3a" stroke-width="0.70" stroke-opacity="0.55"/><line x1="416.00" y1="201.00" x2="416.00" y2="203.20" stroke="#3a3a3a" stroke-width="0.70" stroke-opacity="0.55"/><line x1="258.00" y1="322.78" x2="260.20" y2="322.78" stroke="#3a3a3a" stroke-width="0.70" stroke-opacity="0.55"/><line x1="416.00" y1="322.78" x2="413.80" y2="322.78" stroke="#3a3a3a" stroke-width="0.70" stroke-opacity="0.55"/><text x="255.20" y="326.18" font-size="9.50" text-anchor="end" fill="#262626">10</text><line x1="258.00" y1="292.33" x2="260.20" y2="292.33" stroke="#3a3a3a" stroke-width="0.70" stroke-opacity="0.55"/><line x1="416.00" y1="292.33" x2="413.80" y2="292.33" stroke="#3a3a3a" stroke-width="0.70" stroke-opacity="0.55"/><text x="255.20" y="295.73" font-size="9.50" text-anchor="end" fill="#262626">20</text><line x1="258.00" y1="261.89" x2="260.20" y2="261.89" stroke="#3a3a3a" stroke-width="0.70" stroke-opacity="0.55"/><line x1="416.00" y1="261.89" x2="413.80" y2="261.89" stroke="#3a3a3a" stroke-width="0.70" stroke-opacity="0.55"/><text x="255.20" y="265.29" font-size="9.50" text-anchor="end" fill="#262626">30</text><line x1="258.00" y1="231.44" x2="260.20" y2="231.44" stroke="#3a3a3a" stroke-width="0.70" stroke-opacity="0.55"/><line x1="416.00" y1="231.44" x2="413.80" y2="231.44" stroke="#3a3a3a" stroke-width="0.70" stroke-opacity="0.55"/><text x="255.20" y="234.84" font-size="9.50" text-anchor="end" fill="#262626">40</text><line x1="258.00" y1="201.00" x2="260.20" y2="201.00" stroke="#3a3a3a" stroke-width="0.70" stroke-opacity="0.55"/><line x1="416.00" y1="201.00" x2="413.80" y2="201.00" stroke="#3a3a3a" stroke-width="0.70" stroke-opacity="0.55"/><text x="255.20" y="204.40" font-size="9.50" text-anchor="end" fill="#262626">50</text><text x="258.90" y="350.20" font-size="9.50" text-anchor="middle" fill="#262626">10<tspan dy="-4.4" font-size="6.65">2</tspan></text><text x="337.90" y="350.20" font-size="9.50" text-anchor="middle" fill="#262626">10<tspan dy="-4.4" font-size="6.65">3</tspan></text><text x="416.90" y="350.20" font-size="9.50" text-anchor="middle" fill="#262626">10<tspan dy="-4.4" font-size="6.65">4</tspan></text><text x="330.80" y="361.60" font-size="10" fill="#262626">Q<tspan dy="2.6" font-size="7.2">c</tspan></text><text transform="translate(236.40,276.50) rotate(-90)" font-size="10.3" fill="#262626" text-anchor="middle">- g<tspan dy="2.7" font-size="7.2">1</tspan><tspan dy="-2.7" dx="1.5"> (meV)</tspan></text><rect x="424.90" y="201.00" width="9.20" height="137.00" fill="none" stroke="#a8a8a8" stroke-width="0.80"/><line x1="434.10" y1="338.00" x2="432.30" y2="338.00" stroke="#a8a8a8" stroke-width="0.80"/><text x="437.70" y="341.00" font-size="8.20" text-anchor="start" fill="#262626">0.1</text><line x1="434.10" y1="303.75" x2="432.30" y2="303.75" stroke="#a8a8a8" stroke-width="0.80"/><text x="437.70" y="306.75" font-size="8.20" text-anchor="start" fill="#262626">0.3</text><line x1="434.10" y1="269.50" x2="432.30" y2="269.50" stroke="#a8a8a8" stroke-width="0.80"/><text x="437.70" y="272.50" font-size="8.20" text-anchor="start" fill="#262626">0.5</text><line x1="434.10" y1="235.25" x2="432.30" y2="235.25" stroke="#a8a8a8" stroke-width="0.80"/><text x="437.70" y="238.25" font-size="8.20" text-anchor="start" fill="#262626">0.7</text><line x1="434.10" y1="201.00" x2="432.30" y2="201.00" stroke="#a8a8a8" stroke-width="0.80"/><text x="437.70" y="204.00" font-size="8.20" text-anchor="start" fill="#262626">0.9</text><text x="43.30" y="11.80" font-size="10.30" text-anchor="start" fill="#262626">LDOS enhancement</text><text x="146.60" y="10.90" font-size="10.30" text-anchor="start" fill="#262626" font-style="italic">F</text><text x="153.60" y="13.60" font-size="6.90" text-anchor="start" fill="#262626">L</text><text x="158.60" y="10.90" font-size="10.30" text-anchor="start" fill="#262626" font-style="italic">/</text><text x="163.40" y="10.90" font-size="10.30" text-anchor="start" fill="#262626" font-style="italic">F</text><text x="170.60" y="13.60" font-size="6.90" text-anchor="start" fill="#262626">L</text><text x="171.00" y="7.00" font-size="6.30" text-anchor="start" fill="#262626">0</text><text x="272.30" y="11.80" font-size="10.30" text-anchor="start" fill="#262626">LDOS enhancement</text><text x="375.60" y="10.90" font-size="10.30" text-anchor="start" fill="#262626" font-style="italic">F</text><text x="382.60" y="13.60" font-size="6.90" text-anchor="start" fill="#262626">L</text><text x="387.60" y="10.90" font-size="10.30" text-anchor="start" fill="#262626" font-style="italic">/</text><text x="392.40" y="10.90" font-size="10.30" text-anchor="start" fill="#262626" font-style="italic">F</text><text x="399.60" y="13.60" font-size="6.90" text-anchor="start" fill="#262626">L</text><text x="400.00" y="7.00" font-size="6.30" text-anchor="start" fill="#262626">0</text><text x="41.60" y="195.20" font-size="10.25" text-anchor="start" fill="#262626">Linewidth narrowing</text><text x="141.00" y="195.00" font-size="9.80" text-anchor="start" fill="#262626" font-style="italic">&#915;</text><text x="148.60" y="197.20" font-size="5.90" text-anchor="start" fill="#262626">EP</text><text x="156.00" y="194.60" font-size="9.80" text-anchor="start" fill="#262626" font-style="italic">/</text><text x="161.20" y="195.00" font-size="9.80" text-anchor="start" fill="#262626" font-style="italic">&#915;</text><text x="168.90" y="197.20" font-size="5.90" text-anchor="start" fill="#262626">EP</text><text x="169.30" y="189.80" font-size="6.30" text-anchor="start" fill="#262626">0</text><text x="270.60" y="195.20" font-size="10.25" text-anchor="start" fill="#262626">Linewidth narrowing</text><text x="370.00" y="195.00" font-size="9.80" text-anchor="start" fill="#262626" font-style="italic">&#915;</text><text x="377.60" y="197.20" font-size="5.90" text-anchor="start" fill="#262626">EP</text><text x="385.00" y="194.60" font-size="9.80" text-anchor="start" fill="#262626" font-style="italic">/</text><text x="390.20" y="195.00" font-size="9.80" text-anchor="start" fill="#262626" font-style="italic">&#915;</text><text x="397.90" y="197.20" font-size="5.90" text-anchor="start" fill="#262626">EP</text><text x="398.30" y="189.80" font-size="6.30" text-anchor="start" fill="#262626">0</text><text x="200.20" y="9.30" font-size="11.80" text-anchor="start" fill="#262626">(a)</text><text x="429.30" y="9.30" font-size="11.80" text-anchor="start" fill="#262626">(c)</text><text x="200.60" y="192.90" font-size="11.80" text-anchor="start" fill="#262626">(b)</text><text x="429.70" y="192.90" font-size="11.80" text-anchor="start" fill="#262626">(d)</text><text x="669.30" y="9.30" font-size="11.80" text-anchor="start" fill="#262626">(e)</text><text x="668.40" y="192.90" font-size="11.80" text-anchor="start" fill="#262626">(f)</text><text x="123.60" y="35.70" font-size="10.37" fill="#f2f2f6">&#916;</text><text x="131.86" y="38.00" font-size="7.68" fill="#f2f2f6">ac</text><text x="142.33" y="35.70" font-size="9.60" fill="#f2f2f6">= 1.0eV</text><text x="352.40" y="35.80" font-size="10.37" fill="#f2f2f6">&#916;</text><text x="360.66" y="38.10" font-size="7.68" fill="#f2f2f6">ac</text><text x="371.13" y="35.80" font-size="9.60" fill="#f2f2f6">= 1.4eV</text><path d="M490.40,17.30 H678.10 V154.20 H490.40 Z" fill="none" stroke="#a8a8a8" stroke-width="0.9"/><line x1="518.65" y1="154.20" x2="518.65" y2="152.80" stroke="#a8a8a8" stroke-width="0.80"/><line x1="518.65" y1="17.30" x2="518.65" y2="18.70" stroke="#a8a8a8" stroke-width="0.80"/><line x1="535.18" y1="154.20" x2="535.18" y2="152.80" stroke="#a8a8a8" stroke-width="0.80"/><line x1="535.18" y1="17.30" x2="535.18" y2="18.70" stroke="#a8a8a8" stroke-width="0.80"/><line x1="546.90" y1="154.20" x2="546.90" y2="152.80" stroke="#a8a8a8" stroke-width="0.80"/><line x1="546.90" y1="17.30" x2="546.90" y2="18.70" stroke="#a8a8a8" stroke-width="0.80"/><line x1="556.00" y1="154.20" x2="556.00" y2="152.80" stroke="#a8a8a8" stroke-width="0.80"/><line x1="556.00" y1="17.30" x2="556.00" y2="18.70" stroke="#a8a8a8" stroke-width="0.80"/><line x1="563.43" y1="154.20" x2="563.43" y2="152.80" stroke="#a8a8a8" stroke-width="0.80"/><line x1="563.43" y1="17.30" x2="563.43" y2="18.70" stroke="#a8a8a8" stroke-width="0.80"/><line x1="569.71" y1="154.20" x2="569.71" y2="152.80" stroke="#a8a8a8" stroke-width="0.80"/><line x1="569.71" y1="17.30" x2="569.71" y2="18.70" stroke="#a8a8a8" stroke-width="0.80"/><line x1="575.15" y1="154.20" x2="575.15" y2="152.80" stroke="#a8a8a8" stroke-width="0.80"/><line x1="575.15" y1="17.30" x2="575.15" y2="18.70" stroke="#a8a8a8" stroke-width="0.80"/><line x1="579.96" y1="154.20" x2="579.96" y2="152.80" stroke="#a8a8a8" stroke-width="0.80"/><line x1="579.96" y1="17.30" x2="579.96" y2="18.70" stroke="#a8a8a8" stroke-width="0.80"/><line x1="612.50" y1="154.20" x2="612.50" y2="152.80" stroke="#a8a8a8" stroke-width="0.80"/><line x1="612.50" y1="17.30" x2="612.50" y2="18.70" stroke="#a8a8a8" stroke-width="0.80"/><line x1="629.03" y1="154.20" x2="629.03" y2="152.80" stroke="#a8a8a8" stroke-width="0.80"/><line x1="629.03" y1="17.30" x2="629.03" y2="18.70" stroke="#a8a8a8" stroke-width="0.80"/><line x1="640.75" y1="154.20" x2="640.75" y2="152.80" stroke="#a8a8a8" stroke-width="0.80"/><line x1="640.75" y1="17.30" x2="640.75" y2="18.70" stroke="#a8a8a8" stroke-width="0.80"/><line x1="649.85" y1="154.20" x2="649.85" y2="152.80" stroke="#a8a8a8" stroke-width="0.80"/><line x1="649.85" y1="17.30" x2="649.85" y2="18.70" stroke="#a8a8a8" stroke-width="0.80"/><line x1="657.28" y1="154.20" x2="657.28" y2="152.80" stroke="#a8a8a8" stroke-width="0.80"/><line x1="657.28" y1="17.30" x2="657.28" y2="18.70" stroke="#a8a8a8" stroke-width="0.80"/><line x1="663.56" y1="154.20" x2="663.56" y2="152.80" stroke="#a8a8a8" stroke-width="0.80"/><line x1="663.56" y1="17.30" x2="663.56" y2="18.70" stroke="#a8a8a8" stroke-width="0.80"/><line x1="669.00" y1="154.20" x2="669.00" y2="152.80" stroke="#a8a8a8" stroke-width="0.80"/><line x1="669.00" y1="17.30" x2="669.00" y2="18.70" stroke="#a8a8a8" stroke-width="0.80"/><line x1="673.81" y1="154.20" x2="673.81" y2="152.80" stroke="#a8a8a8" stroke-width="0.80"/><line x1="673.81" y1="17.30" x2="673.81" y2="18.70" stroke="#a8a8a8" stroke-width="0.80"/><line x1="584.25" y1="154.20" x2="584.25" y2="152.00" stroke="#a8a8a8" stroke-width="0.80"/><line x1="584.25" y1="17.30" x2="584.25" y2="19.50" stroke="#a8a8a8" stroke-width="0.80"/><line x1="490.40" y1="154.20" x2="492.60" y2="154.20" stroke="#a8a8a8" stroke-width="0.80"/><line x1="678.10" y1="154.20" x2="675.90" y2="154.20" stroke="#a8a8a8" stroke-width="0.80"/><text x="487.20" y="157.70" font-size="9.80" text-anchor="end" fill="#262626">0</text><line x1="490.40" y1="119.97" x2="492.60" y2="119.97" stroke="#a8a8a8" stroke-width="0.80"/><line x1="678.10" y1="119.97" x2="675.90" y2="119.97" stroke="#a8a8a8" stroke-width="0.80"/><text x="487.20" y="123.47" font-size="9.80" text-anchor="end" fill="#262626">20</text><line x1="490.40" y1="85.75" x2="492.60" y2="85.75" stroke="#a8a8a8" stroke-width="0.80"/><line x1="678.10" y1="85.75" x2="675.90" y2="85.75" stroke="#a8a8a8" stroke-width="0.80"/><text x="487.20" y="89.25" font-size="9.80" text-anchor="end" fill="#262626">40</text><line x1="490.40" y1="51.53" x2="492.60" y2="51.53" stroke="#a8a8a8" stroke-width="0.80"/><line x1="678.10" y1="51.53" x2="675.90" y2="51.53" stroke="#a8a8a8" stroke-width="0.80"/><text x="487.20" y="55.03" font-size="9.80" text-anchor="end" fill="#262626">60</text><line x1="490.40" y1="17.30" x2="492.60" y2="17.30" stroke="#a8a8a8" stroke-width="0.80"/><line x1="678.10" y1="17.30" x2="675.90" y2="17.30" stroke="#a8a8a8" stroke-width="0.80"/><text x="487.20" y="20.80" font-size="9.80" text-anchor="end" fill="#262626">80</text><text x="491.20" y="166.70" font-size="9.50" text-anchor="middle" fill="#262626">10<tspan dy="-4.4" font-size="6.65">2</tspan></text><text x="585.05" y="166.70" font-size="9.50" text-anchor="middle" fill="#262626">10<tspan dy="-4.4" font-size="6.65">3</tspan></text><text x="684.60" y="166.70" font-size="9.50" text-anchor="end" fill="#262626">10<tspan dy="-4.4" font-size="6.65">4</tspan></text><text x="577.95" y="177.80" font-size="10" fill="#262626">Q<tspan dy="2.6" font-size="7.2">c</tspan></text><text transform="translate(469.90,112.00) rotate(-90)" font-size="9.80" fill="#262626">-</text><text transform="translate(469.90,107.40) rotate(-90)" font-size="9.80" fill="#262626">g</text><text transform="translate(474.30,101.60) rotate(-90)" font-size="7.00" fill="#262626">1</text><text transform="translate(465.90,100.10) rotate(-90)" font-size="6.30" fill="#262626">opt</text><text transform="translate(469.90,87.80) rotate(-90)" font-size="9.80" fill="#262626">(meV)</text><path d="M503.61,17.30 L504.48,18.75 L506.04,21.32 L507.61,23.85 L509.17,26.33 L510.73,28.76 L512.30,31.14 L513.86,33.48 L515.43,35.77 L516.99,38.02 L518.55,40.23 L520.12,42.40 L521.68,44.52 L523.25,46.61 L524.81,48.65 L526.38,50.66 L527.94,52.63 L529.50,54.56 L531.07,56.45 L532.63,58.31 L534.20,60.13 L535.76,61.92 L537.33,63.67 L538.89,65.39 L540.45,67.08 L542.02,68.74 L543.58,70.36 L545.15,71.95 L546.71,73.52 L548.27,75.05 L549.84,76.55 L551.40,78.03 L552.97,79.48 L554.53,80.90 L556.10,82.29 L557.66,83.66 L559.22,85.00 L560.79,86.31 L562.35,87.60 L563.92,88.87 L565.48,90.11 L567.04,91.33 L568.61,92.52 L570.17,93.70 L571.74,94.85 L573.30,95.97 L574.87,97.08 L576.43,98.17 L577.99,99.23 L579.56,100.28 L581.12,101.30 L582.69,102.31 L584.25,103.29 L585.81,104.26 L587.38,105.21 L588.94,106.14 L590.51,107.05 L592.07,107.95 L593.63,108.83 L595.20,109.69 L596.76,110.54 L598.33,111.37 L599.89,112.18 L601.46,112.98 L603.02,113.76 L604.58,114.53 L606.15,115.28 L607.71,116.02 L609.28,116.75 L610.84,117.46 L612.40,118.16 L613.97,118.84 L615.53,119.52 L617.10,120.18 L618.66,120.82 L620.23,121.46 L621.79,122.08 L623.35,122.69 L624.92,123.29 L626.48,123.88 L628.05,124.45 L629.61,125.02 L631.17,125.57 L632.74,126.12 L634.30,126.65 L635.87,127.17 L637.43,127.69 L639.00,128.19 L640.56,128.69 L642.12,129.17 L643.69,129.65 L645.25,130.11 L646.82,130.57 L648.38,131.02 L649.95,131.46 L651.51,131.89 L653.07,132.32 L654.64,132.73 L656.20,133.14 L657.77,133.54 L659.33,133.93 L660.89,134.32 L662.46,134.70 L664.02,135.07 L665.59,135.43 L667.15,135.79 L668.72,136.14 L670.28,136.48 L671.84,136.82 L673.41,137.15 L674.97,137.47 L676.54,137.79 L678.10,138.10" fill="none" stroke="#df4c76" stroke-width="1.30"/><path d="M490.40,30.21 L491.96,32.56 L493.53,34.88 L495.09,37.14 L496.66,39.37 L498.22,41.55 L499.78,43.69 L501.35,45.79 L502.91,47.85 L504.48,49.87 L506.04,51.86 L507.61,53.80 L509.17,55.71 L510.73,57.58 L512.30,59.42 L513.86,61.22 L515.43,62.99 L516.99,64.72 L518.55,66.42 L520.12,68.09 L521.68,69.73 L523.25,71.33 L524.81,72.91 L526.38,74.45 L527.94,75.97 L529.50,77.45 L531.07,78.91 L532.63,80.34 L534.20,81.75 L535.76,83.12 L537.33,84.47 L538.89,85.80 L540.45,87.10 L542.02,88.37 L543.58,89.63 L545.15,90.85 L546.71,92.06 L548.27,93.24 L549.84,94.40 L551.40,95.53 L552.97,96.65 L554.53,97.74 L556.10,98.81 L557.66,99.87 L559.22,100.90 L560.79,101.91 L562.35,102.91 L563.92,103.88 L565.48,104.84 L567.04,105.78 L568.61,106.70 L570.17,107.60 L571.74,108.48 L573.30,109.35 L574.87,110.21 L576.43,111.04 L577.99,111.86 L579.56,112.67 L581.12,113.46 L582.69,114.23 L584.25,114.99 L585.81,115.74 L587.38,116.47 L588.94,117.18 L590.51,117.89 L592.07,118.58 L593.63,119.25 L595.20,119.92 L596.76,120.57 L598.33,121.21 L599.89,121.84 L601.46,122.45 L603.02,123.05 L604.58,123.65 L606.15,124.23 L607.71,124.80 L609.28,125.36 L610.84,125.90 L612.40,126.44 L613.97,126.97 L615.53,127.49 L617.10,127.99 L618.66,128.49 L620.23,128.98 L621.79,129.46 L623.35,129.93 L624.92,130.39 L626.48,130.84 L628.05,131.29 L629.61,131.72 L631.17,132.15 L632.74,132.57 L634.30,132.98 L635.87,133.38 L637.43,133.78 L639.00,134.17 L640.56,134.55 L642.12,134.92 L643.69,135.29 L645.25,135.65 L646.82,136.00 L648.38,136.35 L649.95,136.69 L651.51,137.02 L653.07,137.35 L654.64,137.67 L656.20,137.98 L657.77,138.29 L659.33,138.59 L660.89,138.89 L662.46,139.18 L664.02,139.46 L665.59,139.74 L667.15,140.02 L668.72,140.29 L670.28,140.55 L671.84,140.81 L673.41,141.07 L674.97,141.32 L676.54,141.56 L678.10,141.80" fill="none" stroke="#24538a" stroke-width="1.30"/><circle cx="493.88" cy="17.30" r="2.35" fill="none" stroke="#df4c76" stroke-width="1.15"/><circle cx="498.06" cy="24.15" r="2.35" fill="none" stroke="#df4c76" stroke-width="1.15"/><circle cx="502.47" cy="30.99" r="2.35" fill="none" stroke="#df4c76" stroke-width="1.15"/><circle cx="507.13" cy="37.84" r="2.35" fill="none" stroke="#df4c76" stroke-width="1.15"/><circle cx="512.07" cy="44.68" r="2.35" fill="none" stroke="#df4c76" stroke-width="1.15"/><circle cx="517.33" cy="51.53" r="2.35" fill="none" stroke="#df4c76" stroke-width="1.15"/><circle cx="522.95" cy="58.37" r="2.35" fill="none" stroke="#df4c76" stroke-width="1.15"/><circle cx="528.99" cy="65.22" r="2.35" fill="none" stroke="#df4c76" stroke-width="1.15"/><circle cx="535.52" cy="72.06" r="2.35" fill="none" stroke="#df4c76" stroke-width="1.15"/><circle cx="542.61" cy="78.91" r="2.35" fill="none" stroke="#df4c76" stroke-width="1.15"/><circle cx="550.38" cy="85.75" r="2.35" fill="none" stroke="#df4c76" stroke-width="1.15"/><circle cx="558.97" cy="92.59" r="2.35" fill="none" stroke="#df4c76" stroke-width="1.15"/><circle cx="568.57" cy="99.44" r="2.35" fill="none" stroke="#df4c76" stroke-width="1.15"/><circle cx="579.46" cy="106.28" r="2.35" fill="none" stroke="#df4c76" stroke-width="1.15"/><circle cx="592.02" cy="113.13" r="2.35" fill="none" stroke="#df4c76" stroke-width="1.15"/><circle cx="606.88" cy="119.97" r="2.35" fill="none" stroke="#df4c76" stroke-width="1.15"/><circle cx="625.07" cy="126.82" r="2.35" fill="none" stroke="#df4c76" stroke-width="1.15"/><circle cx="648.53" cy="133.66" r="2.35" fill="none" stroke="#df4c76" stroke-width="1.15"/><circle cx="677.80" cy="140.51" r="2.35" fill="none" stroke="#df4c76" stroke-width="1.15"/><circle cx="493.83" cy="37.84" r="2.35" fill="none" stroke="#24538a" stroke-width="1.15"/><circle cx="498.77" cy="44.68" r="2.35" fill="none" stroke="#24538a" stroke-width="1.15"/><circle cx="504.03" cy="51.53" r="2.35" fill="none" stroke="#24538a" stroke-width="1.15"/><circle cx="509.66" cy="58.37" r="2.35" fill="none" stroke="#24538a" stroke-width="1.15"/><circle cx="515.70" cy="65.22" r="2.35" fill="none" stroke="#24538a" stroke-width="1.15"/><circle cx="522.22" cy="72.06" r="2.35" fill="none" stroke="#24538a" stroke-width="1.15"/><circle cx="529.32" cy="78.91" r="2.35" fill="none" stroke="#24538a" stroke-width="1.15"/><circle cx="537.09" cy="85.75" r="2.35" fill="none" stroke="#24538a" stroke-width="1.15"/><circle cx="545.67" cy="92.59" r="2.35" fill="none" stroke="#24538a" stroke-width="1.15"/><circle cx="555.28" cy="99.44" r="2.35" fill="none" stroke="#24538a" stroke-width="1.15"/><circle cx="566.16" cy="106.28" r="2.35" fill="none" stroke="#24538a" stroke-width="1.15"/><circle cx="578.73" cy="113.13" r="2.35" fill="none" stroke="#24538a" stroke-width="1.15"/><circle cx="593.59" cy="119.97" r="2.35" fill="none" stroke="#24538a" stroke-width="1.15"/><circle cx="611.78" cy="126.82" r="2.35" fill="none" stroke="#24538a" stroke-width="1.15"/><circle cx="635.23" cy="133.66" r="2.35" fill="none" stroke="#24538a" stroke-width="1.15"/><circle cx="668.28" cy="140.51" r="2.35" fill="none" stroke="#24538a" stroke-width="1.15"/><circle cx="607.9" cy="34.4" r="2.3" fill="none" stroke="#222" stroke-width="1.1"/><line x1="601.30" y1="46.00" x2="614.00" y2="46.00" stroke="#222" stroke-width="1.20"/><text x="620.60" y="37.10" font-size="8.40" text-anchor="start" fill="#262626">Numerical</text><text x="620.60" y="49.20" font-size="8.40" text-anchor="start" fill="#262626">Analytical</text><text x="565.60" y="77.90" font-size="9.07" fill="#df4c76">&#916;</text><text x="572.86" y="79.92" font-size="6.72" fill="#df4c76">ac</text><text x="582.01" y="77.90" font-size="8.40" fill="#df4c76">= 1.0eV</text><text x="515.90" y="119.30" font-size="9.07" fill="#24538a">&#916;</text><text x="523.16" y="121.32" font-size="6.72" fill="#24538a">ac</text><text x="532.31" y="119.30" font-size="8.40" fill="#24538a">= 0.6eV</text><path d="M490.50,201.30 H677.50 V338.00 H490.50 Z" fill="none" stroke="#a8a8a8" stroke-width="0.9"/><line x1="527.90" y1="338.00" x2="527.90" y2="335.80" stroke="#a8a8a8" stroke-width="0.80"/><line x1="527.90" y1="201.30" x2="527.90" y2="203.50" stroke="#a8a8a8" stroke-width="0.80"/><line x1="565.30" y1="338.00" x2="565.30" y2="335.80" stroke="#a8a8a8" stroke-width="0.80"/><line x1="565.30" y1="201.30" x2="565.30" y2="203.50" stroke="#a8a8a8" stroke-width="0.80"/><line x1="602.70" y1="338.00" x2="602.70" y2="335.80" stroke="#a8a8a8" stroke-width="0.80"/><line x1="602.70" y1="201.30" x2="602.70" y2="203.50" stroke="#a8a8a8" stroke-width="0.80"/><line x1="640.10" y1="338.00" x2="640.10" y2="335.80" stroke="#a8a8a8" stroke-width="0.80"/><line x1="640.10" y1="201.30" x2="640.10" y2="203.50" stroke="#a8a8a8" stroke-width="0.80"/><line x1="490.50" y1="338.00" x2="492.70" y2="338.00" stroke="#a8a8a8" stroke-width="0.80"/><line x1="677.50" y1="338.00" x2="675.30" y2="338.00" stroke="#a8a8a8" stroke-width="0.80"/><text x="487.30" y="342.70" font-size="9.50" text-anchor="end" fill="#262626">0</text><line x1="490.50" y1="315.22" x2="492.70" y2="315.22" stroke="#a8a8a8" stroke-width="0.80"/><line x1="677.50" y1="315.22" x2="675.30" y2="315.22" stroke="#a8a8a8" stroke-width="0.80"/><text x="487.30" y="318.52" font-size="9.50" text-anchor="end" fill="#262626">2</text><line x1="490.50" y1="292.43" x2="492.70" y2="292.43" stroke="#a8a8a8" stroke-width="0.80"/><line x1="677.50" y1="292.43" x2="675.30" y2="292.43" stroke="#a8a8a8" stroke-width="0.80"/><text x="487.30" y="295.73" font-size="9.50" text-anchor="end" fill="#262626">4</text><line x1="490.50" y1="269.65" x2="492.70" y2="269.65" stroke="#a8a8a8" stroke-width="0.80"/><line x1="677.50" y1="269.65" x2="675.30" y2="269.65" stroke="#a8a8a8" stroke-width="0.80"/><text x="487.30" y="272.95" font-size="9.50" text-anchor="end" fill="#262626">6</text><line x1="490.50" y1="246.87" x2="492.70" y2="246.87" stroke="#a8a8a8" stroke-width="0.80"/><line x1="677.50" y1="246.87" x2="675.30" y2="246.87" stroke="#a8a8a8" stroke-width="0.80"/><text x="487.30" y="250.17" font-size="9.50" text-anchor="end" fill="#262626">8</text><line x1="490.50" y1="224.08" x2="492.70" y2="224.08" stroke="#a8a8a8" stroke-width="0.80"/><line x1="677.50" y1="224.08" x2="675.30" y2="224.08" stroke="#a8a8a8" stroke-width="0.80"/><text x="487.30" y="227.38" font-size="9.50" text-anchor="end" fill="#262626">10</text><line x1="490.50" y1="201.30" x2="492.70" y2="201.30" stroke="#a8a8a8" stroke-width="0.80"/><line x1="677.50" y1="201.30" x2="675.30" y2="201.30" stroke="#a8a8a8" stroke-width="0.80"/><text x="487.30" y="203.00" font-size="9.50" text-anchor="end" fill="#262626">12</text><text x="490.50" y="350.20" font-size="9.50" text-anchor="middle" fill="#262626">-2.0</text><text x="527.90" y="350.20" font-size="9.50" text-anchor="middle" fill="#262626">-1.5</text><text x="565.30" y="350.20" font-size="9.50" text-anchor="middle" fill="#262626">-1.0</text><text x="602.70" y="350.20" font-size="9.50" text-anchor="middle" fill="#262626">-0.5</text><text x="640.10" y="350.20" font-size="9.50" text-anchor="middle" fill="#262626">0</text><text x="677.50" y="350.20" font-size="9.50" text-anchor="middle" fill="#262626">0.5</text><text x="490.20" y="198.30" font-size="9.4" fill="#262626">&#215;10<tspan dy="-3.6" font-size="6.6">2</tspan></text><text transform="translate(472.30,270.00) rotate(-90)" font-size="10.2" fill="#262626" text-anchor="middle">Normalized&#160; LDOS</text><text x="556.00" y="361.50" font-size="10.6" fill="#262626">( <tspan font-style="italic">&#969;</tspan> - <tspan font-style="italic">&#969;</tspan><tspan dy="2.6" font-size="7.2">c</tspan><tspan dy="-2.6"> ) / </tspan><tspan font-style="italic">&#954;</tspan><tspan dy="2.6" font-size="7.2">c</tspan></text><path d="M490.50,329.65 L490.71,329.61 L490.92,329.58 L491.12,329.55 L491.33,329.52 L491.54,329.48 L491.75,329.45 L491.95,329.42 L492.16,329.39 L492.37,329.35 L492.58,329.32 L492.79,329.29 L492.99,329.25 L493.20,329.22 L493.41,329.18 L493.62,329.15 L493.82,329.12 L494.03,329.08 L494.24,329.05 L494.45,329.01 L494.66,328.98 L494.86,328.94 L495.07,328.91 L495.28,328.87 L495.49,328.84 L495.69,328.80 L495.90,328.76 L496.11,328.73 L496.32,328.69 L496.53,328.66 L496.73,328.62 L496.94,328.58 L497.15,328.55 L497.36,328.51 L497.56,328.47 L497.77,328.43 L497.98,328.40 L498.19,328.36 L498.40,328.32 L498.60,328.28 L498.81,328.24 L499.02,328.21 L499.23,328.17 L499.43,328.13 L499.64,328.09 L499.85,328.05 L500.06,328.01 L500.27,327.97 L500.47,327.93 L500.68,327.89 L500.89,327.85 L501.10,327.81 L501.30,327.77 L501.51,327.73 L501.72,327.69 L501.93,327.65 L502.14,327.61 L502.34,327.57 L502.55,327.53 L502.76,327.48 L502.97,327.44 L503.17,327.40 L503.38,327.36 L503.59,327.32 L503.80,327.27 L504.01,327.23 L504.21,327.19 L504.42,327.15 L504.63,327.10 L504.84,327.06 L505.04,327.02 L505.25,326.97 L505.46,326.93 L505.67,326.89 L505.88,326.84 L506.08,326.80 L506.29,326.75 L506.50,326.71 L506.71,326.66 L506.91,326.62 L507.12,326.57 L507.33,326.53 L507.54,326.48 L507.75,326.44 L507.95,326.39 L508.16,326.34 L508.37,326.30 L508.58,326.25 L508.78,326.20 L508.99,326.16 L509.20,326.11 L509.41,326.06 L509.62,326.02 L509.82,325.97 L510.03,325.92 L510.24,325.87 L510.45,325.82 L510.65,325.78 L510.86,325.73 L511.07,325.68 L511.28,325.63 L511.49,325.58 L511.69,325.53 L511.90,325.48 L512.11,325.43 L512.32,325.38 L512.52,325.33 L512.73,325.28 L512.94,325.23 L513.15,325.18 L513.36,325.13 L513.56,325.08 L513.77,325.03 L513.98,324.98 L514.19,324.93 L514.39,324.88 L514.60,324.82 L514.81,324.77 L515.02,324.72 L515.23,324.67 L515.43,324.62 L515.64,324.56 L515.85,324.51 L516.06,324.46 L516.26,324.41 L516.47,324.35 L516.68,324.30 L516.89,324.25 L517.10,324.19 L517.30,324.14 L517.51,324.09 L517.72,324.03 L517.93,323.98 L518.13,323.92 L518.34,323.87 L518.55,323.82 L518.76,323.76 L518.97,323.71 L519.17,323.65 L519.38,323.60 L519.59,323.54 L519.80,323.49 L520.00,323.43 L520.21,323.37 L520.42,323.32 L520.63,323.26 L520.84,323.21 L521.04,323.15 L521.25,323.09 L521.46,323.04 L521.67,322.98 L521.87,322.93 L522.08,322.87 L522.29,322.81 L522.50,322.75 L522.71,322.70 L522.91,322.64 L523.12,322.58 L523.33,322.53 L523.54,322.47 L523.74,322.41 L523.95,322.35 L524.16,322.30 L524.37,322.24 L524.58,322.18 L524.78,322.12 L524.99,322.06 L525.20,322.01 L525.41,321.95 L525.61,321.89 L525.82,321.83 L526.03,321.77 L526.24,321.72 L526.45,321.66 L526.65,321.60 L526.86,321.54 L527.07,321.48 L527.28,321.42 L527.48,321.36 L527.69,321.31 L527.90,321.25 L528.11,321.19 L528.32,321.13 L528.52,321.07 L528.73,321.01 L528.94,320.95 L529.15,320.90 L529.35,320.84 L529.56,320.78 L529.77,320.72 L529.98,320.66 L530.19,320.60 L530.39,320.54 L530.60,320.48 L530.81,320.43 L531.02,320.37 L531.22,320.31 L531.43,320.25 L531.64,320.19 L531.85,320.13 L532.06,320.08 L532.26,320.02 L532.47,319.96 L532.68,319.90 L532.89,319.84 L533.09,319.78 L533.30,319.73 L533.51,319.67 L533.72,319.61 L533.93,319.55 L534.13,319.50 L534.34,319.44 L534.55,319.38 L534.76,319.33 L534.96,319.27 L535.17,319.21 L535.38,319.15 L535.59,319.10 L535.80,319.04 L536.00,318.99 L536.21,318.93 L536.42,318.87 L536.63,318.82 L536.83,318.76 L537.04,318.71 L537.25,318.65 L537.46,318.60 L537.67,318.54 L537.87,318.49 L538.08,318.43 L538.29,318.38 L538.50,318.33 L538.70,318.27 L538.91,318.22 L539.12,318.17 L539.33,318.11 L539.54,318.06 L539.74,318.01 L539.95,317.96 L540.16,317.91 L540.37,317.86 L540.57,317.80 L540.78,317.75 L540.99,317.70 L541.20,317.65 L541.41,317.60 L541.61,317.55 L541.82,317.50 L542.03,317.46 L542.24,317.41 L542.44,317.36 L542.65,317.31 L542.86,317.26 L543.07,317.22 L543.28,317.17 L543.48,317.13 L543.69,317.08 L543.90,317.03 L544.11,316.99 L544.31,316.95 L544.52,316.90 L544.73,316.86 L544.94,316.81 L545.15,316.77 L545.35,316.73 L545.56,316.69 L545.77,316.65 L545.98,316.61 L546.18,316.56 L546.39,316.52 L546.60,316.49 L546.81,316.45 L547.02,316.41 L547.22,316.37 L547.43,316.33 L547.64,316.30 L547.85,316.26 L548.05,316.22 L548.26,316.19 L548.47,316.15 L548.68,316.12 L548.89,316.09 L549.09,316.05 L549.30,316.02 L549.51,315.99 L549.72,315.96 L549.92,315.93 L550.13,315.90 L550.34,315.87 L550.55,315.84 L550.76,315.81 L550.96,315.78 L551.17,315.75 L551.38,315.73 L551.59,315.70 L551.79,315.68 L552.00,315.65 L552.21,315.63 L552.42,315.61 L552.63,315.58 L552.83,315.56 L553.04,315.54 L553.25,315.52 L553.46,315.50 L553.66,315.48 L553.87,315.46 L554.08,315.44 L554.29,315.42 L554.50,315.41 L554.70,315.39 L554.91,315.38 L555.12,315.36 L555.33,315.35 L555.53,315.33 L555.74,315.32 L555.95,315.31 L556.16,315.30 L556.37,315.29 L556.57,315.28 L556.78,315.27 L556.99,315.26 L557.20,315.25 L557.40,315.25 L557.61,315.24 L557.82,315.24 L558.03,315.23 L558.24,315.23 L558.44,315.22 L558.65,315.22 L558.86,315.22 L559.07,315.22 L559.27,315.22 L559.48,315.22 L559.69,315.22 L559.90,315.22 L560.11,315.23 L560.31,315.23 L560.52,315.24 L560.73,315.24 L560.94,315.25 L561.14,315.26 L561.35,315.27 L561.56,315.29 L561.77,315.30 L561.98,315.32 L562.18,315.33 L562.39,315.35 L562.60,315.37 L562.81,315.39 L563.01,315.41 L563.22,315.43 L563.43,315.45 L563.64,315.47 L563.85,315.50 L564.05,315.53 L564.26,315.55 L564.47,315.58 L564.68,315.61 L564.88,315.64 L565.09,315.67 L565.30,315.71 L565.51,315.74 L565.72,315.77 L565.92,315.81 L566.13,315.85 L566.34,315.89 L566.55,315.92 L566.75,315.96 L566.96,316.00 L567.17,316.05 L567.38,316.09 L567.59,316.13 L567.79,316.18 L568.00,316.22 L568.21,316.27 L568.42,316.32 L568.62,316.37 L568.83,316.41 L569.04,316.46 L569.25,316.52 L569.46,316.57 L569.66,316.62 L569.87,316.67 L570.08,316.73 L570.29,316.78 L570.49,316.84 L570.70,316.89 L570.91,316.95 L571.12,317.01 L571.33,317.07 L571.53,317.13 L571.74,317.19 L571.95,317.25 L572.16,317.31 L572.36,317.37 L572.57,317.43 L572.78,317.50 L572.99,317.56 L573.20,317.62 L573.40,317.69 L573.61,317.75 L573.82,317.82 L574.03,317.88 L574.23,317.95 L574.44,318.02 L574.65,318.09 L574.86,318.15 L575.07,318.22 L575.27,318.29 L575.48,318.36 L575.69,318.43 L575.90,318.50 L576.10,318.57 L576.31,318.64 L576.52,318.72 L576.73,318.79 L576.94,318.86 L577.14,318.93 L577.35,319.00 L577.56,319.08 L577.77,319.15 L577.97,319.22 L578.18,319.30 L578.39,319.37 L578.60,319.44 L578.81,319.52 L579.01,319.59 L579.22,319.67 L579.43,319.74 L579.64,319.82 L579.84,319.89 L580.05,319.97 L580.26,320.04 L580.47,320.12 L580.68,320.20 L580.88,320.27 L581.09,320.35 L581.30,320.42 L581.51,320.50 L581.71,320.57 L581.92,320.65 L582.13,320.73 L582.34,320.80 L582.55,320.88 L582.75,320.96 L582.96,321.03 L583.17,321.11 L583.38,321.18 L583.58,321.26 L583.79,321.34 L584.00,321.41 L584.21,321.49 L584.42,321.56 L584.62,321.64 L584.83,321.71 L585.04,321.79 L585.25,321.87 L585.45,321.94 L585.66,322.02 L585.87,322.09 L586.08,322.17 L586.29,322.24 L586.49,322.32 L586.70,322.39 L586.91,322.47 L587.12,322.54 L587.32,322.61 L587.53,322.69 L587.74,322.76 L587.95,322.84 L588.16,322.91 L588.36,322.98 L588.57,323.06 L588.78,323.13 L588.99,323.20 L589.19,323.27 L589.40,323.35 L589.61,323.42 L589.82,323.49 L590.03,323.56 L590.23,323.63 L590.44,323.70 L590.65,323.78 L590.86,323.85 L591.06,323.92 L591.27,323.99 L591.48,324.06 L591.69,324.13 L591.90,324.20 L592.10,324.27 L592.31,324.34 L592.52,324.40 L592.73,324.47 L592.93,324.54 L593.14,324.61 L593.35,324.68 L593.56,324.74 L593.77,324.81 L593.97,324.88 L594.18,324.94 L594.39,325.01 L594.60,325.08 L594.80,325.14 L595.01,325.21 L595.22,325.27 L595.43,325.34 L595.64,325.40 L595.84,325.47 L596.05,325.53 L596.26,325.59 L596.47,325.66 L596.67,325.72 L596.88,325.78 L597.09,325.85 L597.30,325.91 L597.51,325.97 L597.71,326.03 L597.92,326.09 L598.13,326.15 L598.34,326.22 L598.54,326.28 L598.75,326.34 L598.96,326.40 L599.17,326.45 L599.38,326.51 L599.58,326.57 L599.79,326.63 L600.00,326.69 L600.21,326.75 L600.41,326.81 L600.62,326.86 L600.83,326.92 L601.04,326.98 L601.25,327.03 L601.45,327.09 L601.66,327.15 L601.87,327.20 L602.08,327.26 L602.28,327.31 L602.49,327.37 L602.70,327.42 L602.91,327.48 L603.12,327.53 L603.32,327.58 L603.53,327.64 L603.74,327.69 L603.95,327.74 L604.15,327.79 L604.36,327.85 L604.57,327.90 L604.78,327.95 L604.99,328.00 L605.19,328.05 L605.40,328.10 L605.61,328.15 L605.82,328.20 L606.02,328.25 L606.23,328.30 L606.44,328.35 L606.65,328.40 L606.86,328.45 L607.06,328.50 L607.27,328.54 L607.48,328.59 L607.69,328.64 L607.89,328.69 L608.10,328.73 L608.31,328.78 L608.52,328.83 L608.73,328.87 L608.93,328.92 L609.14,328.96 L609.35,329.01 L609.56,329.06 L609.76,329.10 L609.97,329.14 L610.18,329.19 L610.39,329.23 L610.60,329.28 L610.80,329.32 L611.01,329.36 L611.22,329.41 L611.43,329.45 L611.63,329.49 L611.84,329.53 L612.05,329.58 L612.26,329.62 L612.47,329.66 L612.67,329.70 L612.88,329.74 L613.09,329.78 L613.30,329.82 L613.50,329.86 L613.71,329.90 L613.92,329.94 L614.13,329.98 L614.34,330.02 L614.54,330.06 L614.75,330.10 L614.96,330.14 L615.17,330.18 L615.37,330.21 L615.58,330.25 L615.79,330.29 L616.00,330.33 L616.21,330.36 L616.41,330.40 L616.62,330.44 L616.83,330.47 L617.04,330.51 L617.24,330.55 L617.45,330.58 L617.66,330.62 L617.87,330.65 L618.08,330.69 L618.28,330.72 L618.49,330.76 L618.70,330.79 L618.91,330.83 L619.11,330.86 L619.32,330.90 L619.53,330.93 L619.74,330.96 L619.95,331.00 L620.15,331.03 L620.36,331.06 L620.57,331.10 L620.78,331.13 L620.98,331.16 L621.19,331.19 L621.40,331.22 L621.61,331.26 L621.82,331.29 L622.02,331.32 L622.23,331.35 L622.44,331.38 L622.65,331.41 L622.85,331.44 L623.06,331.47 L623.27,331.50 L623.48,331.53 L623.69,331.56 L623.89,331.59 L624.10,331.62 L624.31,331.65 L624.52,331.68 L624.72,331.71 L624.93,331.74 L625.14,331.77 L625.35,331.80 L625.56,331.82 L625.76,331.85 L625.97,331.88 L626.18,331.91 L626.39,331.94 L626.59,331.96 L626.80,331.99 L627.01,332.02 L627.22,332.05 L627.43,332.07 L627.63,332.10 L627.84,332.13 L628.05,332.15 L628.26,332.18 L628.46,332.20 L628.67,332.23 L628.88,332.26 L629.09,332.28 L629.30,332.31 L629.50,332.33 L629.71,332.36 L629.92,332.38 L630.13,332.41 L630.33,332.43 L630.54,332.46 L630.75,332.48 L630.96,332.50 L631.17,332.53 L631.37,332.55 L631.58,332.58 L631.79,332.60 L632.00,332.62 L632.20,332.65 L632.41,332.67 L632.62,332.69 L632.83,332.72 L633.04,332.74 L633.24,332.76 L633.45,332.78 L633.66,332.81 L633.87,332.83 L634.07,332.85 L634.28,332.87 L634.49,332.90 L634.70,332.92 L634.91,332.94 L635.11,332.96 L635.32,332.98 L635.53,333.00 L635.74,333.03 L635.94,333.05 L636.15,333.07 L636.36,333.09 L636.57,333.11 L636.78,333.13 L636.98,333.15 L637.19,333.17 L637.40,333.19 L637.61,333.21 L637.81,333.23 L638.02,333.25 L638.23,333.27 L638.44,333.29 L638.65,333.31 L638.85,333.33 L639.06,333.35 L639.27,333.37 L639.48,333.39 L639.68,333.41 L639.89,333.42 L640.10,333.44 L640.31,333.46 L640.52,333.48 L640.72,333.50 L640.93,333.52 L641.14,333.54 L641.35,333.55 L641.55,333.57 L641.76,333.59 L641.97,333.61 L642.18,333.63 L642.39,333.64 L642.59,333.66 L642.80,333.68 L643.01,333.70 L643.22,333.71 L643.42,333.73 L643.63,333.75 L643.84,333.76 L644.05,333.78 L644.26,333.80 L644.46,333.81 L644.67,333.83 L644.88,333.85 L645.09,333.86 L645.29,333.88 L645.50,333.90 L645.71,333.91 L645.92,333.93 L646.13,333.95 L646.33,333.96 L646.54,333.98 L646.75,333.99 L646.96,334.01 L647.16,334.02 L647.37,334.04 L647.58,334.05 L647.79,334.07 L648.00,334.09 L648.20,334.10 L648.41,334.12 L648.62,334.13 L648.83,334.15 L649.03,334.16 L649.24,334.18 L649.45,334.19 L649.66,334.20 L649.87,334.22 L650.07,334.23 L650.28,334.25 L650.49,334.26 L650.70,334.28 L650.90,334.29 L651.11,334.30 L651.32,334.32 L651.53,334.33 L651.74,334.35 L651.94,334.36 L652.15,334.37 L652.36,334.39 L652.57,334.40 L652.77,334.41 L652.98,334.43 L653.19,334.44 L653.40,334.45 L653.61,334.47 L653.81,334.48 L654.02,334.49 L654.23,334.51 L654.44,334.52 L654.64,334.53 L654.85,334.54 L655.06,334.56 L655.27,334.57 L655.48,334.58 L655.68,334.60 L655.89,334.61 L656.10,334.62 L656.31,334.63 L656.51,334.64 L656.72,334.66 L656.93,334.67 L657.14,334.68 L657.35,334.69 L657.55,334.71 L657.76,334.72 L657.97,334.73 L658.18,334.74 L658.38,334.75 L658.59,334.76 L658.80,334.78 L659.01,334.79 L659.22,334.80 L659.42,334.81 L659.63,334.82 L659.84,334.83 L660.05,334.84 L660.25,334.86 L660.46,334.87 L660.67,334.88 L660.88,334.89 L661.09,334.90 L661.29,334.91 L661.50,334.92 L661.71,334.93 L661.92,334.94 L662.12,334.95 L662.33,334.96 L662.54,334.97 L662.75,334.99 L662.96,335.00 L663.16,335.01 L663.37,335.02 L663.58,335.03 L663.79,335.04 L663.99,335.05 L664.20,335.06 L664.41,335.07 L664.62,335.08 L664.83,335.09 L665.03,335.10 L665.24,335.11 L665.45,335.12 L665.66,335.13 L665.86,335.14 L666.07,335.15 L666.28,335.16 L666.49,335.17 L666.70,335.18 L666.90,335.19 L667.11,335.19 L667.32,335.20 L667.53,335.21 L667.73,335.22 L667.94,335.23 L668.15,335.24 L668.36,335.25 L668.57,335.26 L668.77,335.27 L668.98,335.28 L669.19,335.29 L669.40,335.30 L669.60,335.31 L669.81,335.31 L670.02,335.32 L670.23,335.33 L670.44,335.34 L670.64,335.35 L670.85,335.36 L671.06,335.37 L671.27,335.38 L671.47,335.38 L671.68,335.39 L671.89,335.40 L672.10,335.41 L672.31,335.42 L672.51,335.43 L672.72,335.44 L672.93,335.44 L673.14,335.45 L673.34,335.46 L673.55,335.47 L673.76,335.48 L673.97,335.48 L674.18,335.49 L674.38,335.50 L674.59,335.51 L674.80,335.52 L675.01,335.52 L675.21,335.53 L675.42,335.54 L675.63,335.55 L675.84,335.56 L676.05,335.56 L676.25,335.57 L676.46,335.58 L676.67,335.59 L676.88,335.59 L677.08,335.60 L677.29,335.61 L677.50,335.62" fill="none" stroke="#24538a" stroke-width="1.40" stroke-dasharray="4.2,3.2"/><path d="M490.50,333.41 L490.71,333.39 L490.92,333.37 L491.12,333.35 L491.33,333.32 L491.54,333.30 L491.75,333.28 L491.95,333.26 L492.16,333.24 L492.37,333.21 L492.58,333.19 L492.79,333.17 L492.99,333.14 L493.20,333.12 L493.41,333.10 L493.62,333.07 L493.82,333.05 L494.03,333.03 L494.24,333.00 L494.45,332.98 L494.66,332.96 L494.86,332.93 L495.07,332.91 L495.28,332.88 L495.49,332.86 L495.69,332.83 L495.90,332.81 L496.11,332.78 L496.32,332.76 L496.53,332.73 L496.73,332.71 L496.94,332.68 L497.15,332.66 L497.36,332.63 L497.56,332.61 L497.77,332.58 L497.98,332.55 L498.19,332.53 L498.40,332.50 L498.60,332.47 L498.81,332.45 L499.02,332.42 L499.23,332.39 L499.43,332.37 L499.64,332.34 L499.85,332.31 L500.06,332.28 L500.27,332.25 L500.47,332.23 L500.68,332.20 L500.89,332.17 L501.10,332.14 L501.30,332.11 L501.51,332.08 L501.72,332.06 L501.93,332.03 L502.14,332.00 L502.34,331.97 L502.55,331.94 L502.76,331.91 L502.97,331.88 L503.17,331.85 L503.38,331.82 L503.59,331.79 L503.80,331.76 L504.01,331.73 L504.21,331.70 L504.42,331.67 L504.63,331.64 L504.84,331.61 L505.04,331.57 L505.25,331.54 L505.46,331.51 L505.67,331.48 L505.88,331.45 L506.08,331.42 L506.29,331.38 L506.50,331.35 L506.71,331.32 L506.91,331.29 L507.12,331.25 L507.33,331.22 L507.54,331.19 L507.75,331.15 L507.95,331.12 L508.16,331.09 L508.37,331.05 L508.58,331.02 L508.78,330.99 L508.99,330.95 L509.20,330.92 L509.41,330.88 L509.62,330.85 L509.82,330.82 L510.03,330.78 L510.24,330.75 L510.45,330.71 L510.65,330.68 L510.86,330.64 L511.07,330.60 L511.28,330.57 L511.49,330.53 L511.69,330.50 L511.90,330.46 L512.11,330.43 L512.32,330.39 L512.52,330.35 L512.73,330.32 L512.94,330.28 L513.15,330.24 L513.36,330.21 L513.56,330.17 L513.77,330.13 L513.98,330.10 L514.19,330.06 L514.39,330.02 L514.60,329.98 L514.81,329.95 L515.02,329.91 L515.23,329.87 L515.43,329.83 L515.64,329.80 L515.85,329.76 L516.06,329.72 L516.26,329.68 L516.47,329.64 L516.68,329.60 L516.89,329.57 L517.10,329.53 L517.30,329.49 L517.51,329.45 L517.72,329.41 L517.93,329.37 L518.13,329.33 L518.34,329.29 L518.55,329.25 L518.76,329.22 L518.97,329.18 L519.17,329.14 L519.38,329.10 L519.59,329.06 L519.80,329.02 L520.00,328.98 L520.21,328.94 L520.42,328.90 L520.63,328.86 L520.84,328.82 L521.04,328.78 L521.25,328.74 L521.46,328.70 L521.67,328.66 L521.87,328.62 L522.08,328.58 L522.29,328.54 L522.50,328.50 L522.71,328.46 L522.91,328.42 L523.12,328.38 L523.33,328.35 L523.54,328.31 L523.74,328.27 L523.95,328.23 L524.16,328.19 L524.37,328.15 L524.58,328.11 L524.78,328.07 L524.99,328.03 L525.20,327.99 L525.41,327.95 L525.61,327.91 L525.82,327.87 L526.03,327.84 L526.24,327.80 L526.45,327.76 L526.65,327.72 L526.86,327.68 L527.07,327.64 L527.28,327.60 L527.48,327.57 L527.69,327.53 L527.90,327.49 L528.11,327.45 L528.32,327.42 L528.52,327.38 L528.73,327.34 L528.94,327.30 L529.15,327.27 L529.35,327.23 L529.56,327.19 L529.77,327.16 L529.98,327.12 L530.19,327.09 L530.39,327.05 L530.60,327.02 L530.81,326.98 L531.02,326.95 L531.22,326.91 L531.43,326.88 L531.64,326.84 L531.85,326.81 L532.06,326.78 L532.26,326.74 L532.47,326.71 L532.68,326.68 L532.89,326.64 L533.09,326.61 L533.30,326.58 L533.51,326.55 L533.72,326.52 L533.93,326.49 L534.13,326.46 L534.34,326.43 L534.55,326.40 L534.76,326.37 L534.96,326.34 L535.17,326.31 L535.38,326.28 L535.59,326.25 L535.80,326.23 L536.00,326.20 L536.21,326.17 L536.42,326.15 L536.63,326.12 L536.83,326.09 L537.04,326.07 L537.25,326.04 L537.46,326.02 L537.67,326.00 L537.87,325.97 L538.08,325.95 L538.29,325.93 L538.50,325.91 L538.70,325.88 L538.91,325.86 L539.12,325.84 L539.33,325.82 L539.54,325.80 L539.74,325.79 L539.95,325.77 L540.16,325.75 L540.37,325.73 L540.57,325.71 L540.78,325.70 L540.99,325.68 L541.20,325.67 L541.41,325.65 L541.61,325.64 L541.82,325.62 L542.03,325.61 L542.24,325.60 L542.44,325.59 L542.65,325.58 L542.86,325.56 L543.07,325.55 L543.28,325.54 L543.48,325.54 L543.69,325.53 L543.90,325.52 L544.11,325.51 L544.31,325.51 L544.52,325.50 L544.73,325.49 L544.94,325.49 L545.15,325.48 L545.35,325.48 L545.56,325.48 L545.77,325.47 L545.98,325.47 L546.18,325.47 L546.39,325.47 L546.60,325.47 L546.81,325.47 L547.02,325.47 L547.22,325.47 L547.43,325.48 L547.64,325.48 L547.85,325.48 L548.05,325.49 L548.26,325.49 L548.47,325.50 L548.68,325.51 L548.89,325.52 L549.09,325.52 L549.30,325.53 L549.51,325.54 L549.72,325.56 L549.92,325.57 L550.13,325.58 L550.34,325.59 L550.55,325.61 L550.76,325.62 L550.96,325.64 L551.17,325.65 L551.38,325.67 L551.59,325.69 L551.79,325.71 L552.00,325.73 L552.21,325.74 L552.42,325.77 L552.63,325.79 L552.83,325.81 L553.04,325.83 L553.25,325.85 L553.46,325.88 L553.66,325.90 L553.87,325.93 L554.08,325.95 L554.29,325.98 L554.50,326.00 L554.70,326.03 L554.91,326.06 L555.12,326.09 L555.33,326.12 L555.53,326.15 L555.74,326.18 L555.95,326.21 L556.16,326.24 L556.37,326.27 L556.57,326.30 L556.78,326.33 L556.99,326.37 L557.20,326.40 L557.40,326.43 L557.61,326.47 L557.82,326.50 L558.03,326.54 L558.24,326.57 L558.44,326.61 L558.65,326.65 L558.86,326.68 L559.07,326.72 L559.27,326.76 L559.48,326.80 L559.69,326.84 L559.90,326.88 L560.11,326.91 L560.31,326.95 L560.52,326.99 L560.73,327.03 L560.94,327.07 L561.14,327.12 L561.35,327.16 L561.56,327.20 L561.77,327.24 L561.98,327.28 L562.18,327.32 L562.39,327.37 L562.60,327.41 L562.81,327.45 L563.01,327.49 L563.22,327.54 L563.43,327.58 L563.64,327.62 L563.85,327.67 L564.05,327.71 L564.26,327.75 L564.47,327.80 L564.68,327.84 L564.88,327.89 L565.09,327.93 L565.30,327.98 L565.51,328.02 L565.72,328.06 L565.92,328.11 L566.13,328.15 L566.34,328.20 L566.55,328.24 L566.75,328.29 L566.96,328.33 L567.17,328.38 L567.38,328.42 L567.59,328.47 L567.79,328.51 L568.00,328.56 L568.21,328.61 L568.42,328.65 L568.62,328.70 L568.83,328.74 L569.04,328.79 L569.25,328.83 L569.46,328.88 L569.66,328.92 L569.87,328.97 L570.08,329.01 L570.29,329.06 L570.49,329.10 L570.70,329.15 L570.91,329.19 L571.12,329.24 L571.33,329.28 L571.53,329.32 L571.74,329.37 L571.95,329.41 L572.16,329.46 L572.36,329.50 L572.57,329.55 L572.78,329.59 L572.99,329.63 L573.20,329.68 L573.40,329.72 L573.61,329.76 L573.82,329.81 L574.03,329.85 L574.23,329.89 L574.44,329.94 L574.65,329.98 L574.86,330.02 L575.07,330.07 L575.27,330.11 L575.48,330.15 L575.69,330.19 L575.90,330.23 L576.10,330.28 L576.31,330.32 L576.52,330.36 L576.73,330.40 L576.94,330.44 L577.14,330.48 L577.35,330.52 L577.56,330.56 L577.77,330.60 L577.97,330.65 L578.18,330.69 L578.39,330.73 L578.60,330.77 L578.81,330.80 L579.01,330.84 L579.22,330.88 L579.43,330.92 L579.64,330.96 L579.84,331.00 L580.05,331.04 L580.26,331.08 L580.47,331.12 L580.68,331.15 L580.88,331.19 L581.09,331.23 L581.30,331.27 L581.51,331.30 L581.71,331.34 L581.92,331.38 L582.13,331.41 L582.34,331.45 L582.55,331.49 L582.75,331.52 L582.96,331.56 L583.17,331.59 L583.38,331.63 L583.58,331.66 L583.79,331.70 L584.00,331.73 L584.21,331.77 L584.42,331.80 L584.62,331.84 L584.83,331.87 L585.04,331.91 L585.25,331.94 L585.45,331.97 L585.66,332.01 L585.87,332.04 L586.08,332.07 L586.29,332.11 L586.49,332.14 L586.70,332.17 L586.91,332.20 L587.12,332.24 L587.32,332.27 L587.53,332.30 L587.74,332.33 L587.95,332.36 L588.16,332.39 L588.36,332.42 L588.57,332.45 L588.78,332.48 L588.99,332.51 L589.19,332.54 L589.40,332.57 L589.61,332.60 L589.82,332.63 L590.03,332.66 L590.23,332.69 L590.44,332.72 L590.65,332.75 L590.86,332.78 L591.06,332.81 L591.27,332.84 L591.48,332.86 L591.69,332.89 L591.90,332.92 L592.10,332.95 L592.31,332.98 L592.52,333.00 L592.73,333.03 L592.93,333.06 L593.14,333.08 L593.35,333.11 L593.56,333.14 L593.77,333.16 L593.97,333.19 L594.18,333.21 L594.39,333.24 L594.60,333.27 L594.80,333.29 L595.01,333.32 L595.22,333.34 L595.43,333.37 L595.64,333.39 L595.84,333.42 L596.05,333.44 L596.26,333.46 L596.47,333.49 L596.67,333.51 L596.88,333.54 L597.09,333.56 L597.30,333.58 L597.51,333.61 L597.71,333.63 L597.92,333.65 L598.13,333.68 L598.34,333.70 L598.54,333.72 L598.75,333.74 L598.96,333.77 L599.17,333.79 L599.38,333.81 L599.58,333.83 L599.79,333.85 L600.00,333.88 L600.21,333.90 L600.41,333.92 L600.62,333.94 L600.83,333.96 L601.04,333.98 L601.25,334.00 L601.45,334.02 L601.66,334.04 L601.87,334.06 L602.08,334.08 L602.28,334.10 L602.49,334.12 L602.70,334.14 L602.91,334.16 L603.12,334.18 L603.32,334.20 L603.53,334.22 L603.74,334.24 L603.95,334.26 L604.15,334.28 L604.36,334.30 L604.57,334.32 L604.78,334.34 L604.99,334.35 L605.19,334.37 L605.40,334.39 L605.61,334.41 L605.82,334.43 L606.02,334.44 L606.23,334.46 L606.44,334.48 L606.65,334.50 L606.86,334.52 L607.06,334.53 L607.27,334.55 L607.48,334.57 L607.69,334.58 L607.89,334.60 L608.10,334.62 L608.31,334.63 L608.52,334.65 L608.73,334.67 L608.93,334.68 L609.14,334.70 L609.35,334.72 L609.56,334.73 L609.76,334.75 L609.97,334.76 L610.18,334.78 L610.39,334.79 L610.60,334.81 L610.80,334.83 L611.01,334.84 L611.22,334.86 L611.43,334.87 L611.63,334.89 L611.84,334.90 L612.05,334.92 L612.26,334.93 L612.47,334.94 L612.67,334.96 L612.88,334.97 L613.09,334.99 L613.30,335.00 L613.50,335.02 L613.71,335.03 L613.92,335.04 L614.13,335.06 L614.34,335.07 L614.54,335.09 L614.75,335.10 L614.96,335.11 L615.17,335.13 L615.37,335.14 L615.58,335.15 L615.79,335.17 L616.00,335.18 L616.21,335.19 L616.41,335.21 L616.62,335.22 L616.83,335.23 L617.04,335.24 L617.24,335.26 L617.45,335.27 L617.66,335.28 L617.87,335.29 L618.08,335.31 L618.28,335.32 L618.49,335.33 L618.70,335.34 L618.91,335.36 L619.11,335.37 L619.32,335.38 L619.53,335.39 L619.74,335.40 L619.95,335.41 L620.15,335.43 L620.36,335.44 L620.57,335.45 L620.78,335.46 L620.98,335.47 L621.19,335.48 L621.40,335.49 L621.61,335.50 L621.82,335.52 L622.02,335.53 L622.23,335.54 L622.44,335.55 L622.65,335.56 L622.85,335.57 L623.06,335.58 L623.27,335.59 L623.48,335.60 L623.69,335.61 L623.89,335.62 L624.10,335.63 L624.31,335.64 L624.52,335.65 L624.72,335.66 L624.93,335.67 L625.14,335.68 L625.35,335.69 L625.56,335.70 L625.76,335.71 L625.97,335.72 L626.18,335.73 L626.39,335.74 L626.59,335.75 L626.80,335.76 L627.01,335.77 L627.22,335.78 L627.43,335.79 L627.63,335.80 L627.84,335.81 L628.05,335.82 L628.26,335.83 L628.46,335.84 L628.67,335.85 L628.88,335.85 L629.09,335.86 L629.30,335.87 L629.50,335.88 L629.71,335.89 L629.92,335.90 L630.13,335.91 L630.33,335.92 L630.54,335.92 L630.75,335.93 L630.96,335.94 L631.17,335.95 L631.37,335.96 L631.58,335.97 L631.79,335.98 L632.00,335.98 L632.20,335.99 L632.41,336.00 L632.62,336.01 L632.83,336.02 L633.04,336.02 L633.24,336.03 L633.45,336.04 L633.66,336.05 L633.87,336.06 L634.07,336.06 L634.28,336.07 L634.49,336.08 L634.70,336.09 L634.91,336.09 L635.11,336.10 L635.32,336.11 L635.53,336.12 L635.74,336.12 L635.94,336.13 L636.15,336.14 L636.36,336.15 L636.57,336.15 L636.78,336.16 L636.98,336.17 L637.19,336.18 L637.40,336.18 L637.61,336.19 L637.81,336.20 L638.02,336.20 L638.23,336.21 L638.44,336.22 L638.65,336.22 L638.85,336.23 L639.06,336.24 L639.27,336.24 L639.48,336.25 L639.68,336.26 L639.89,336.26 L640.10,336.27 L640.31,336.28 L640.52,336.28 L640.72,336.29 L640.93,336.30 L641.14,336.30 L641.35,336.31 L641.55,336.32 L641.76,336.32 L641.97,336.33 L642.18,336.34 L642.39,336.34 L642.59,336.35 L642.80,336.35 L643.01,336.36 L643.22,336.37 L643.42,336.37 L643.63,336.38 L643.84,336.39 L644.05,336.39 L644.26,336.40 L644.46,336.40 L644.67,336.41 L644.88,336.41 L645.09,336.42 L645.29,336.43 L645.50,336.43 L645.71,336.44 L645.92,336.44 L646.13,336.45 L646.33,336.46 L646.54,336.46 L646.75,336.47 L646.96,336.47 L647.16,336.48 L647.37,336.48 L647.58,336.49 L647.79,336.49 L648.00,336.50 L648.20,336.50 L648.41,336.51 L648.62,336.52 L648.83,336.52 L649.03,336.53 L649.24,336.53 L649.45,336.54 L649.66,336.54 L649.87,336.55 L650.07,336.55 L650.28,336.56 L650.49,336.56 L650.70,336.57 L650.90,336.57 L651.11,336.58 L651.32,336.58 L651.53,336.59 L651.74,336.59 L651.94,336.60 L652.15,336.60 L652.36,336.61 L652.57,336.61 L652.77,336.62 L652.98,336.62 L653.19,336.63 L653.40,336.63 L653.61,336.64 L653.81,336.64 L654.02,336.65 L654.23,336.65 L654.44,336.65 L654.64,336.66 L654.85,336.66 L655.06,336.67 L655.27,336.67 L655.48,336.68 L655.68,336.68 L655.89,336.69 L656.10,336.69 L656.31,336.70 L656.51,336.70 L656.72,336.70 L656.93,336.71 L657.14,336.71 L657.35,336.72 L657.55,336.72 L657.76,336.73 L657.97,336.73 L658.18,336.73 L658.38,336.74 L658.59,336.74 L658.80,336.75 L659.01,336.75 L659.22,336.76 L659.42,336.76 L659.63,336.76 L659.84,336.77 L660.05,336.77 L660.25,336.78 L660.46,336.78 L660.67,336.78 L660.88,336.79 L661.09,336.79 L661.29,336.80 L661.50,336.80 L661.71,336.80 L661.92,336.81 L662.12,336.81 L662.33,336.82 L662.54,336.82 L662.75,336.82 L662.96,336.83 L663.16,336.83 L663.37,336.83 L663.58,336.84 L663.79,336.84 L663.99,336.85 L664.20,336.85 L664.41,336.85 L664.62,336.86 L664.83,336.86 L665.03,336.86 L665.24,336.87 L665.45,336.87 L665.66,336.87 L665.86,336.88 L666.07,336.88 L666.28,336.89 L666.49,336.89 L666.70,336.89 L666.90,336.90 L667.11,336.90 L667.32,336.90 L667.53,336.91 L667.73,336.91 L667.94,336.91 L668.15,336.92 L668.36,336.92 L668.57,336.92 L668.77,336.93 L668.98,336.93 L669.19,336.93 L669.40,336.94 L669.60,336.94 L669.81,336.94 L670.02,336.95 L670.23,336.95 L670.44,336.95 L670.64,336.96 L670.85,336.96 L671.06,336.96 L671.27,336.97 L671.47,336.97 L671.68,336.97 L671.89,336.97 L672.10,336.98 L672.31,336.98 L672.51,336.98 L672.72,336.99 L672.93,336.99 L673.14,336.99 L673.34,337.00 L673.55,337.00 L673.76,337.00 L673.97,337.01 L674.18,337.01 L674.38,337.01 L674.59,337.01 L674.80,337.02 L675.01,337.02 L675.21,337.02 L675.42,337.03 L675.63,337.03 L675.84,337.03 L676.05,337.03 L676.25,337.04 L676.46,337.04 L676.67,337.04 L676.88,337.05 L677.08,337.05 L677.29,337.05 L677.50,337.05" fill="none" stroke="#df4c76" stroke-width="1.40" stroke-dasharray="4.2,3.2"/><path d="M490.50,333.44 L490.71,333.43 L490.92,333.41 L491.12,333.40 L491.33,333.39 L491.54,333.38 L491.75,333.37 L491.95,333.35 L492.16,333.34 L492.37,333.33 L492.58,333.32 L492.79,333.31 L492.99,333.29 L493.20,333.28 L493.41,333.27 L493.62,333.26 L493.82,333.25 L494.03,333.23 L494.24,333.22 L494.45,333.21 L494.66,333.20 L494.86,333.19 L495.07,333.17 L495.28,333.16 L495.49,333.15 L495.69,333.14 L495.90,333.13 L496.11,333.11 L496.32,333.10 L496.53,333.09 L496.73,333.08 L496.94,333.07 L497.15,333.05 L497.36,333.04 L497.56,333.03 L497.77,333.02 L497.98,333.01 L498.19,332.99 L498.40,332.98 L498.60,332.97 L498.81,332.96 L499.02,332.95 L499.23,332.93 L499.43,332.92 L499.64,332.91 L499.85,332.90 L500.06,332.88 L500.27,332.87 L500.47,332.86 L500.68,332.85 L500.89,332.84 L501.10,332.82 L501.30,332.81 L501.51,332.80 L501.72,332.79 L501.93,332.78 L502.14,332.76 L502.34,332.75 L502.55,332.74 L502.76,332.73 L502.97,332.72 L503.17,332.70 L503.38,332.69 L503.59,332.68 L503.80,332.67 L504.01,332.65 L504.21,332.64 L504.42,332.63 L504.63,332.62 L504.84,332.61 L505.04,332.59 L505.25,332.58 L505.46,332.57 L505.67,332.56 L505.88,332.54 L506.08,332.53 L506.29,332.52 L506.50,332.51 L506.71,332.50 L506.91,332.48 L507.12,332.47 L507.33,332.46 L507.54,332.45 L507.75,332.43 L507.95,332.42 L508.16,332.41 L508.37,332.40 L508.58,332.39 L508.78,332.37 L508.99,332.36 L509.20,332.35 L509.41,332.34 L509.62,332.32 L509.82,332.31 L510.03,332.30 L510.24,332.29 L510.45,332.27 L510.65,332.26 L510.86,332.25 L511.07,332.24 L511.28,332.23 L511.49,332.21 L511.69,332.20 L511.90,332.19 L512.11,332.18 L512.32,332.16 L512.52,332.15 L512.73,332.14 L512.94,332.13 L513.15,332.11 L513.36,332.10 L513.56,332.09 L513.77,332.08 L513.98,332.06 L514.19,332.05 L514.39,332.04 L514.60,332.03 L514.81,332.01 L515.02,332.00 L515.23,331.99 L515.43,331.98 L515.64,331.97 L515.85,331.95 L516.06,331.94 L516.26,331.93 L516.47,331.92 L516.68,331.90 L516.89,331.89 L517.10,331.88 L517.30,331.87 L517.51,331.85 L517.72,331.84 L517.93,331.83 L518.13,331.81 L518.34,331.80 L518.55,331.79 L518.76,331.78 L518.97,331.76 L519.17,331.75 L519.38,331.74 L519.59,331.73 L519.80,331.71 L520.00,331.70 L520.21,331.69 L520.42,331.68 L520.63,331.66 L520.84,331.65 L521.04,331.64 L521.25,331.63 L521.46,331.61 L521.67,331.60 L521.87,331.59 L522.08,331.57 L522.29,331.56 L522.50,331.55 L522.71,331.54 L522.91,331.52 L523.12,331.51 L523.33,331.50 L523.54,331.49 L523.74,331.47 L523.95,331.46 L524.16,331.45 L524.37,331.43 L524.58,331.42 L524.78,331.41 L524.99,331.40 L525.20,331.38 L525.41,331.37 L525.61,331.36 L525.82,331.34 L526.03,331.33 L526.24,331.32 L526.45,331.30 L526.65,331.29 L526.86,331.28 L527.07,331.27 L527.28,331.25 L527.48,331.24 L527.69,331.23 L527.90,331.21 L528.11,331.20 L528.32,331.19 L528.52,331.17 L528.73,331.16 L528.94,331.15 L529.15,331.14 L529.35,331.12 L529.56,331.11 L529.77,331.10 L529.98,331.08 L530.19,331.07 L530.39,331.06 L530.60,331.04 L530.81,331.03 L531.02,331.02 L531.22,331.00 L531.43,330.99 L531.64,330.98 L531.85,330.95 L532.06,330.93 L532.26,330.90 L532.47,330.88 L532.68,330.86 L532.89,330.83 L533.09,330.81 L533.30,330.78 L533.51,330.76 L533.72,330.73 L533.93,330.71 L534.13,330.68 L534.34,330.66 L534.55,330.63 L534.76,330.61 L534.96,330.59 L535.17,330.56 L535.38,330.54 L535.59,330.51 L535.80,330.49 L536.00,330.46 L536.21,330.44 L536.42,330.41 L536.63,330.39 L536.83,330.36 L537.04,330.34 L537.25,330.31 L537.46,330.29 L537.67,330.26 L537.87,330.24 L538.08,330.21 L538.29,330.19 L538.50,330.16 L538.70,330.14 L538.91,330.11 L539.12,330.09 L539.33,330.06 L539.54,330.04 L539.74,330.01 L539.95,329.99 L540.16,329.96 L540.37,329.94 L540.57,329.91 L540.78,329.89 L540.99,329.86 L541.20,329.84 L541.41,329.81 L541.61,329.79 L541.82,329.76 L542.03,329.74 L542.24,329.71 L542.44,329.68 L542.65,329.66 L542.86,329.63 L543.07,329.61 L543.28,329.58 L543.48,329.56 L543.69,329.53 L543.90,329.51 L544.11,329.48 L544.31,329.45 L544.52,329.43 L544.73,329.40 L544.94,329.38 L545.15,329.35 L545.35,329.32 L545.56,329.30 L545.77,329.27 L545.98,329.25 L546.18,329.22 L546.39,329.19 L546.60,329.17 L546.81,329.14 L547.02,329.12 L547.22,329.09 L547.43,329.06 L547.64,329.04 L547.85,329.01 L548.05,328.98 L548.26,328.96 L548.47,328.93 L548.68,328.90 L548.89,328.88 L549.09,328.85 L549.30,328.82 L549.51,328.80 L549.72,328.77 L549.92,328.74 L550.13,328.72 L550.34,328.69 L550.55,328.66 L550.76,328.63 L550.96,328.61 L551.17,328.58 L551.38,328.55 L551.59,328.52 L551.79,328.50 L552.00,328.47 L552.21,328.44 L552.42,328.41 L552.63,328.39 L552.83,328.36 L553.04,328.33 L553.25,328.30 L553.46,328.27 L553.66,328.25 L553.87,328.22 L554.08,328.19 L554.29,328.16 L554.50,328.13 L554.70,328.11 L554.91,328.08 L555.12,328.05 L555.33,328.02 L555.53,327.99 L555.74,327.96 L555.95,327.93 L556.16,327.90 L556.37,327.88 L556.57,327.85 L556.78,327.82 L556.99,327.79 L557.20,327.76 L557.40,327.73 L557.61,327.70 L557.82,327.67 L558.03,327.64 L558.24,327.61 L558.44,327.58 L558.65,327.55 L558.86,327.52 L559.07,327.49 L559.27,327.46 L559.48,327.43 L559.69,327.40 L559.90,327.37 L560.11,327.33 L560.31,327.30 L560.52,327.27 L560.73,327.24 L560.94,327.21 L561.14,327.18 L561.35,327.15 L561.56,327.11 L561.77,327.08 L561.98,327.05 L562.18,327.02 L562.39,326.98 L562.60,326.95 L562.81,326.92 L563.01,326.89 L563.22,326.85 L563.43,326.82 L563.64,326.79 L563.85,326.75 L564.05,326.72 L564.26,326.68 L564.47,326.65 L564.68,326.61 L564.88,326.58 L565.09,326.54 L565.30,326.51 L565.51,326.47 L565.72,326.44 L565.92,326.40 L566.13,326.37 L566.34,326.33 L566.55,326.29 L566.75,326.26 L566.96,326.22 L567.17,326.18 L567.38,326.14 L567.59,326.11 L567.79,326.07 L568.00,326.03 L568.21,325.99 L568.42,325.95 L568.62,325.91 L568.83,325.87 L569.04,325.83 L569.25,325.79 L569.46,325.75 L569.66,325.71 L569.87,325.67 L570.08,325.63 L570.29,325.58 L570.49,325.54 L570.70,325.50 L570.91,325.45 L571.12,325.41 L571.33,325.37 L571.53,325.32 L571.74,325.28 L571.95,325.23 L572.16,325.18 L572.36,325.14 L572.57,325.09 L572.78,325.03 L572.99,324.96 L573.20,324.89 L573.40,324.82 L573.61,324.75 L573.82,324.68 L574.03,324.61 L574.23,324.53 L574.44,324.46 L574.65,324.39 L574.86,324.31 L575.07,324.23 L575.27,324.16 L575.48,324.08 L575.69,324.00 L575.90,323.92 L576.10,323.84 L576.31,323.76 L576.52,323.68 L576.73,323.60 L576.94,323.51 L577.14,323.43 L577.35,323.34 L577.56,323.25 L577.77,323.17 L577.97,323.08 L578.18,322.99 L578.39,322.89 L578.60,322.80 L578.81,322.71 L579.01,322.61 L579.22,322.51 L579.43,322.41 L579.64,322.31 L579.84,322.21 L580.05,322.11 L580.26,322.00 L580.47,321.89 L580.68,321.79 L580.88,321.67 L581.09,321.56 L581.30,321.45 L581.51,321.29 L581.71,321.10 L581.92,320.90 L582.13,320.71 L582.34,320.51 L582.55,320.31 L582.75,320.10 L582.96,319.90 L583.17,319.69 L583.38,319.47 L583.58,319.26 L583.79,319.04 L584.00,318.82 L584.21,318.59 L584.42,318.36 L584.62,318.12 L584.83,317.88 L585.04,317.64 L585.25,317.39 L585.45,317.14 L585.66,316.88 L585.87,316.61 L586.08,316.34 L586.29,316.07 L586.49,315.78 L586.70,315.50 L586.91,315.20 L587.12,314.90 L587.32,314.58 L587.53,314.26 L587.74,313.94 L587.95,313.60 L588.16,313.25 L588.36,312.89 L588.57,312.52 L588.78,312.14 L588.99,311.82 L589.19,311.49 L589.40,311.15 L589.61,310.79 L589.82,310.41 L590.03,310.02 L590.23,309.61 L590.44,309.18 L590.65,308.73 L590.86,308.27 L591.06,307.77 L591.27,307.26 L591.48,306.71 L591.69,306.14 L591.90,305.54 L592.10,304.91 L592.31,304.25 L592.52,303.54 L592.73,302.80 L592.93,302.01 L593.14,301.18 L593.35,300.30 L593.56,299.37 L593.77,298.38 L593.97,297.32 L594.18,296.20 L594.39,295.01 L594.60,293.74 L594.80,292.61 L595.01,291.43 L595.22,290.15 L595.43,288.76 L595.64,287.25 L595.84,285.63 L596.05,283.87 L596.26,281.97 L596.47,279.92 L596.67,277.71 L596.88,275.33 L597.09,272.77 L597.30,270.03 L597.51,267.09 L597.71,263.95 L597.92,260.62 L598.13,257.09 L598.34,253.38 L598.54,249.50 L598.75,245.48 L598.96,241.35 L599.17,237.37 L599.38,233.40 L599.58,229.51 L599.79,225.79 L600.00,222.34 L600.21,219.26 L600.41,216.66 L600.62,214.66 L600.83,213.32 L601.04,212.72 L601.25,212.93 L601.45,214.01 L601.66,215.86 L601.87,218.42 L602.08,221.62 L602.28,225.37 L602.49,229.56 L602.70,234.08 L602.91,238.83 L603.12,243.72 L603.32,248.65 L603.53,253.43 L603.74,257.95 L603.95,262.34 L604.15,266.58 L604.36,270.65 L604.57,274.53 L604.78,278.21 L604.99,281.69 L605.19,284.97 L605.40,288.07 L605.61,290.85 L605.82,293.31 L606.02,295.61 L606.23,297.75 L606.44,299.74 L606.65,301.60 L606.86,303.33 L607.06,304.94 L607.27,306.44 L607.48,307.84 L607.69,309.14 L607.89,310.40 L608.10,311.57 L608.31,312.68 L608.52,313.71 L608.73,314.68 L608.93,315.58 L609.14,316.44 L609.35,317.24 L609.56,317.99 L609.76,318.70 L609.97,319.36 L610.18,319.99 L610.39,320.58 L610.60,321.14 L610.80,321.67 L611.01,322.17 L611.22,322.64 L611.43,323.09 L611.63,323.51 L611.84,323.91 L612.05,324.29 L612.26,324.65 L612.47,324.99 L612.67,325.32 L612.88,325.63 L613.09,325.92 L613.30,326.20 L613.50,326.46 L613.71,326.72 L613.92,326.96 L614.13,327.19 L614.34,327.41 L614.54,327.62 L614.75,327.81 L614.96,328.00 L615.17,328.19 L615.37,328.36 L615.58,328.53 L615.79,328.69 L616.00,328.84 L616.21,328.98 L616.41,329.13 L616.62,329.26 L616.83,329.39 L617.04,329.52 L617.24,329.64 L617.45,329.76 L617.66,329.87 L617.87,329.97 L618.08,330.08 L618.28,330.18 L618.49,330.27 L618.70,330.36 L618.91,330.45 L619.11,330.53 L619.32,330.61 L619.53,330.69 L619.74,330.77 L619.95,330.84 L620.15,330.91 L620.36,330.97 L620.57,331.04 L620.78,331.10 L620.98,331.16 L621.19,331.21 L621.40,331.27 L621.61,331.32 L621.82,331.37 L622.02,331.42 L622.23,331.47 L622.44,331.51 L622.65,331.56 L622.85,331.60 L623.06,331.64 L623.27,331.68 L623.48,331.71 L623.69,331.75 L623.89,331.80 L624.10,331.85 L624.31,331.90 L624.52,331.95 L624.72,331.99 L624.93,332.04 L625.14,332.08 L625.35,332.12 L625.56,332.16 L625.76,332.20 L625.97,332.24 L626.18,332.28 L626.39,332.32 L626.59,332.35 L626.80,332.39 L627.01,332.42 L627.22,332.46 L627.43,332.49 L627.63,332.52 L627.84,332.55 L628.05,332.58 L628.26,332.61 L628.46,332.64 L628.67,332.67 L628.88,332.70 L629.09,332.73 L629.30,332.75 L629.50,332.78 L629.71,332.81 L629.92,332.83 L630.13,332.86 L630.33,332.88 L630.54,332.90 L630.75,332.93 L630.96,332.95 L631.17,332.97 L631.37,332.99 L631.58,333.02 L631.79,333.04 L632.00,333.06 L632.20,333.08 L632.41,333.10 L632.62,333.12 L632.83,333.14 L633.04,333.15 L633.24,333.17 L633.45,333.19 L633.66,333.21 L633.87,333.22 L634.07,333.24 L634.28,333.26 L634.49,333.27 L634.70,333.29 L634.91,333.31 L635.11,333.32 L635.32,333.34 L635.53,333.35 L635.74,333.37 L635.94,333.38 L636.15,333.39 L636.36,333.41 L636.57,333.42 L636.78,333.44 L636.98,333.45 L637.19,333.46 L637.40,333.47 L637.61,333.49 L637.81,333.50 L638.02,333.51 L638.23,333.52 L638.44,333.54 L638.65,333.55 L638.85,333.57 L639.06,333.59 L639.27,333.61 L639.48,333.62 L639.68,333.64 L639.89,333.66 L640.10,333.68 L640.31,333.70 L640.52,333.71 L640.72,333.73 L640.93,333.75 L641.14,333.77 L641.35,333.78 L641.55,333.80 L641.76,333.82 L641.97,333.84 L642.18,333.85 L642.39,333.87 L642.59,333.89 L642.80,333.90 L643.01,333.92 L643.22,333.93 L643.42,333.95 L643.63,333.97 L643.84,333.98 L644.05,334.00 L644.26,334.01 L644.46,334.03 L644.67,334.04 L644.88,334.06 L645.09,334.07 L645.29,334.09 L645.50,334.10 L645.71,334.12 L645.92,334.13 L646.13,334.15 L646.33,334.16 L646.54,334.18 L646.75,334.19 L646.96,334.20 L647.16,334.22 L647.37,334.23 L647.58,334.25 L647.79,334.26 L648.00,334.27 L648.20,334.29 L648.41,334.30 L648.62,334.32 L648.83,334.33 L649.03,334.34 L649.24,334.36 L649.45,334.37 L649.66,334.38 L649.87,334.40 L650.07,334.41 L650.28,334.42 L650.49,334.43 L650.70,334.45 L650.90,334.46 L651.11,334.47 L651.32,334.49 L651.53,334.50 L651.74,334.51 L651.94,334.52 L652.15,334.54 L652.36,334.55 L652.57,334.56 L652.77,334.57 L652.98,334.59 L653.19,334.60 L653.40,334.61 L653.61,334.62 L653.81,334.63 L654.02,334.64 L654.23,334.64 L654.44,334.65 L654.64,334.66 L654.85,334.66 L655.06,334.67 L655.27,334.68 L655.48,334.69 L655.68,334.69 L655.89,334.70 L656.10,334.71 L656.31,334.71 L656.51,334.72 L656.72,334.73 L656.93,334.73 L657.14,334.74 L657.35,334.75 L657.55,334.75 L657.76,334.76 L657.97,334.77 L658.18,334.77 L658.38,334.78 L658.59,334.79 L658.80,334.79 L659.01,334.80 L659.22,334.80 L659.42,334.81 L659.63,334.82 L659.84,334.82 L660.05,334.83 L660.25,334.84 L660.46,334.84 L660.67,334.85 L660.88,334.85 L661.09,334.86 L661.29,334.87 L661.50,334.87 L661.71,334.88 L661.92,334.88 L662.12,334.89 L662.33,334.89 L662.54,334.90 L662.75,334.91 L662.96,334.91 L663.16,334.92 L663.37,334.92 L663.58,334.93 L663.79,334.93 L663.99,334.94 L664.20,334.95 L664.41,334.95 L664.62,334.96 L664.83,334.96 L665.03,334.97 L665.24,334.97 L665.45,334.98 L665.66,334.98 L665.86,334.99 L666.07,335.00 L666.28,335.00 L666.49,335.01 L666.70,335.01 L666.90,335.02 L667.11,335.02 L667.32,335.03 L667.53,335.03 L667.73,335.04 L667.94,335.04 L668.15,335.05 L668.36,335.05 L668.57,335.06 L668.77,335.06 L668.98,335.07 L669.19,335.07 L669.40,335.08 L669.60,335.08 L669.81,335.09 L670.02,335.09 L670.23,335.10 L670.44,335.10 L670.64,335.11 L670.85,335.11 L671.06,335.12 L671.27,335.12 L671.47,335.13 L671.68,335.13 L671.89,335.14 L672.10,335.14 L672.31,335.15 L672.51,335.15 L672.72,335.16 L672.93,335.16 L673.14,335.17 L673.34,335.17 L673.55,335.18 L673.76,335.18 L673.97,335.19 L674.18,335.19 L674.38,335.20 L674.59,335.20 L674.80,335.21 L675.01,335.21 L675.21,335.21 L675.42,335.22 L675.63,335.22 L675.84,335.23 L676.05,335.23 L676.25,335.24 L676.46,335.24 L676.67,335.24 L676.88,335.25 L677.08,335.25 L677.29,335.25 L677.50,335.25" fill="none" stroke="#24538a" stroke-width="1.30"/><path d="M490.50,336.62 L490.71,336.62 L490.92,336.62 L491.12,336.61 L491.33,336.61 L491.54,336.61 L491.75,336.61 L491.95,336.60 L492.16,336.60 L492.37,336.60 L492.58,336.59 L492.79,336.59 L492.99,336.59 L493.20,336.59 L493.41,336.58 L493.62,336.58 L493.82,336.58 L494.03,336.57 L494.24,336.57 L494.45,336.57 L494.66,336.56 L494.86,336.56 L495.07,336.56 L495.28,336.56 L495.49,336.55 L495.69,336.55 L495.90,336.55 L496.11,336.54 L496.32,336.54 L496.53,336.54 L496.73,336.53 L496.94,336.53 L497.15,336.53 L497.36,336.52 L497.56,336.52 L497.77,336.52 L497.98,336.51 L498.19,336.51 L498.40,336.51 L498.60,336.50 L498.81,336.50 L499.02,336.49 L499.23,336.49 L499.43,336.49 L499.64,336.48 L499.85,336.48 L500.06,336.48 L500.27,336.47 L500.47,336.47 L500.68,336.46 L500.89,336.46 L501.10,336.46 L501.30,336.45 L501.51,336.45 L501.72,336.44 L501.93,336.44 L502.14,336.43 L502.34,336.43 L502.55,336.43 L502.76,336.42 L502.97,336.42 L503.17,336.41 L503.38,336.41 L503.59,336.40 L503.80,336.40 L504.01,336.40 L504.21,336.39 L504.42,336.39 L504.63,336.38 L504.84,336.38 L505.04,336.37 L505.25,336.37 L505.46,336.36 L505.67,336.36 L505.88,336.35 L506.08,336.35 L506.29,336.34 L506.50,336.34 L506.71,336.33 L506.91,336.33 L507.12,336.32 L507.33,336.31 L507.54,336.31 L507.75,336.30 L507.95,336.30 L508.16,336.29 L508.37,336.29 L508.58,336.28 L508.78,336.27 L508.99,336.27 L509.20,336.26 L509.41,336.26 L509.62,336.25 L509.82,336.24 L510.03,336.24 L510.24,336.23 L510.45,336.23 L510.65,336.22 L510.86,336.21 L511.07,336.21 L511.28,336.20 L511.49,336.19 L511.69,336.19 L511.90,336.18 L512.11,336.17 L512.32,336.16 L512.52,336.16 L512.73,336.15 L512.94,336.14 L513.15,336.14 L513.36,336.13 L513.56,336.12 L513.77,336.11 L513.98,336.10 L514.19,336.10 L514.39,336.09 L514.60,336.08 L514.81,336.07 L515.02,336.06 L515.23,336.06 L515.43,336.05 L515.64,336.04 L515.85,336.03 L516.06,336.02 L516.26,336.01 L516.47,336.00 L516.68,335.99 L516.89,335.99 L517.10,335.98 L517.30,335.97 L517.51,335.96 L517.72,335.95 L517.93,335.94 L518.13,335.93 L518.34,335.92 L518.55,335.91 L518.76,335.90 L518.97,335.89 L519.17,335.88 L519.38,335.87 L519.59,335.85 L519.80,335.84 L520.00,335.83 L520.21,335.82 L520.42,335.81 L520.63,335.80 L520.84,335.79 L521.04,335.77 L521.25,335.76 L521.46,335.75 L521.67,335.74 L521.87,335.72 L522.08,335.71 L522.29,335.70 L522.50,335.68 L522.71,335.67 L522.91,335.66 L523.12,335.64 L523.33,335.63 L523.54,335.62 L523.74,335.60 L523.95,335.59 L524.16,335.57 L524.37,335.56 L524.58,335.54 L524.78,335.52 L524.99,335.51 L525.20,335.49 L525.41,335.48 L525.61,335.46 L525.82,335.44 L526.03,335.43 L526.24,335.41 L526.45,335.39 L526.65,335.37 L526.86,335.35 L527.07,335.34 L527.28,335.32 L527.48,335.30 L527.69,335.28 L527.90,335.26 L528.11,335.24 L528.32,335.22 L528.52,335.20 L528.73,335.18 L528.94,335.15 L529.15,335.13 L529.35,335.11 L529.56,335.09 L529.77,335.06 L529.98,335.04 L530.19,335.02 L530.39,334.99 L530.60,334.97 L530.81,334.94 L531.02,334.92 L531.22,334.89 L531.43,334.86 L531.64,334.84 L531.85,334.81 L532.06,334.78 L532.26,334.75 L532.47,334.72 L532.68,334.69 L532.89,334.66 L533.09,334.63 L533.30,334.60 L533.51,334.56 L533.72,334.53 L533.93,334.50 L534.13,334.46 L534.34,334.43 L534.55,334.39 L534.76,334.36 L534.96,334.32 L535.17,334.28 L535.38,334.24 L535.59,334.20 L535.80,334.16 L536.00,334.12 L536.21,334.07 L536.42,334.03 L536.63,333.99 L536.83,333.94 L537.04,333.89 L537.25,333.85 L537.46,333.80 L537.67,333.75 L537.87,333.70 L538.08,333.64 L538.29,333.59 L538.50,333.53 L538.70,333.48 L538.91,333.42 L539.12,333.36 L539.33,333.30 L539.54,333.24 L539.74,333.17 L539.95,333.11 L540.16,333.04 L540.37,332.97 L540.57,332.90 L540.78,332.82 L540.99,332.75 L541.20,332.67 L541.41,332.59 L541.61,332.51 L541.82,332.43 L542.03,332.34 L542.24,332.25 L542.44,332.16 L542.65,332.07 L542.86,331.97 L543.07,331.87 L543.28,331.77 L543.48,331.66 L543.69,331.55 L543.90,331.44 L544.11,331.32 L544.31,331.20 L544.52,331.08 L544.73,330.95 L544.94,330.82 L545.15,330.68 L545.35,330.54 L545.56,330.39 L545.77,330.24 L545.98,330.08 L546.18,329.92 L546.39,329.75 L546.60,329.58 L546.81,329.40 L547.02,329.21 L547.22,329.01 L547.43,328.81 L547.64,328.60 L547.85,328.38 L548.05,328.16 L548.26,327.92 L548.47,327.67 L548.68,327.42 L548.89,327.15 L549.09,326.87 L549.30,326.59 L549.51,326.28 L549.72,325.97 L549.92,325.64 L550.13,325.30 L550.34,324.94 L550.55,324.56 L550.76,324.17 L550.96,323.75 L551.17,323.32 L551.38,322.87 L551.59,322.40 L551.79,321.90 L552.00,321.37 L552.21,320.82 L552.42,320.24 L552.63,319.63 L552.83,318.99 L553.04,318.31 L553.25,317.60 L553.46,316.84 L553.66,316.05 L553.87,315.21 L554.08,314.32 L554.29,313.37 L554.50,312.38 L554.70,311.32 L554.91,310.20 L555.12,309.01 L555.33,307.75 L555.53,306.41 L555.74,304.98 L555.95,303.47 L556.16,301.86 L556.37,300.15 L556.57,298.32 L556.78,296.39 L556.99,294.32 L557.20,292.13 L557.40,289.80 L557.61,287.33 L557.82,284.71 L558.03,281.93 L558.24,278.99 L558.44,275.89 L558.65,272.62 L558.86,269.20 L559.07,265.63 L559.27,261.91 L559.48,258.07 L559.69,254.14 L559.90,250.13 L560.11,246.10 L560.31,242.09 L560.52,238.17 L560.73,234.39 L560.94,230.82 L561.14,227.56 L561.35,224.67 L561.56,222.24 L561.77,220.32 L561.98,218.99 L562.18,218.28 L562.39,219.25 L562.60,220.02 L562.81,221.61 L563.01,223.97 L563.22,226.98 L563.43,230.55 L563.64,234.56 L563.85,238.88 L564.05,243.40 L564.26,248.03 L564.47,252.66 L564.68,257.24 L564.88,261.71 L565.09,266.02 L565.30,270.15 L565.51,274.08 L565.72,277.79 L565.92,281.30 L566.13,284.58 L566.34,287.66 L566.55,290.53 L566.75,293.22 L566.96,295.72 L567.17,298.05 L567.38,300.22 L567.59,302.24 L567.79,304.12 L568.00,305.87 L568.21,307.51 L568.42,309.03 L568.62,310.45 L568.83,311.78 L569.04,313.02 L569.25,314.18 L569.46,315.26 L569.66,316.28 L569.87,317.23 L570.08,318.12 L570.29,318.96 L570.49,319.75 L570.70,320.49 L570.91,321.19 L571.12,321.84 L571.33,322.46 L571.53,323.05 L571.74,323.60 L571.95,324.13 L572.16,324.62 L572.36,325.09 L572.57,325.53 L572.78,325.95 L572.99,326.35 L573.20,326.73 L573.40,327.10 L573.61,327.44 L573.82,327.77 L574.03,328.08 L574.23,328.37 L574.44,328.66 L574.65,328.93 L574.86,329.18 L575.07,329.43 L575.27,329.67 L575.48,329.89 L575.69,330.11 L575.90,330.31 L576.10,330.51 L576.31,330.70 L576.52,330.88 L576.73,331.06 L576.94,331.22 L577.14,331.38 L577.35,331.54 L577.56,331.69 L577.77,331.83 L577.97,331.97 L578.18,332.10 L578.39,332.23 L578.60,332.35 L578.81,332.47 L579.01,332.58 L579.22,332.69 L579.43,332.80 L579.64,332.90 L579.84,333.00 L580.05,333.09 L580.26,333.19 L580.47,333.28 L580.68,333.36 L580.88,333.45 L581.09,333.53 L581.30,333.60 L581.51,333.68 L581.71,333.75 L581.92,333.82 L582.13,333.89 L582.34,333.96 L582.55,334.02 L582.75,334.08 L582.96,334.14 L583.17,334.20 L583.38,334.26 L583.58,334.31 L583.79,334.37 L584.00,334.42 L584.21,334.47 L584.42,334.52 L584.62,334.57 L584.83,334.61 L585.04,334.66 L585.25,334.70 L585.45,334.74 L585.66,334.79 L585.87,334.83 L586.08,334.86 L586.29,334.90 L586.49,334.94 L586.70,334.98 L586.91,335.01 L587.12,335.04 L587.32,335.08 L587.53,335.11 L587.74,335.14 L587.95,335.17 L588.16,335.20 L588.36,335.23 L588.57,335.26 L588.78,335.29 L588.99,335.31 L589.19,335.34 L589.40,335.37 L589.61,335.39 L589.82,335.41 L590.03,335.44 L590.23,335.46 L590.44,335.48 L590.65,335.51 L590.86,335.53 L591.06,335.55 L591.27,335.57 L591.48,335.59 L591.69,335.61 L591.90,335.63 L592.10,335.65 L592.31,335.66 L592.52,335.68 L592.73,335.70 L592.93,335.72 L593.14,335.73 L593.35,335.75 L593.56,335.76 L593.77,335.78 L593.97,335.79 L594.18,335.81 L594.39,335.82 L594.60,335.84 L594.80,335.85 L595.01,335.86 L595.22,335.88 L595.43,335.89 L595.64,335.90 L595.84,335.91 L596.05,335.93 L596.26,335.94 L596.47,335.95 L596.67,335.96 L596.88,335.97 L597.09,335.98 L597.30,335.99 L597.51,336.00 L597.71,336.01 L597.92,336.02 L598.13,336.03 L598.34,336.04 L598.54,336.05 L598.75,336.06 L598.96,336.07 L599.17,336.07 L599.38,336.08 L599.58,336.09 L599.79,336.10 L600.00,336.11 L600.21,336.11 L600.41,336.12 L600.62,336.13 L600.83,336.13 L601.04,336.14 L601.25,336.15 L601.45,336.15 L601.66,336.16 L601.87,336.17 L602.08,336.17 L602.28,336.18 L602.49,336.18 L602.70,336.19 L602.91,336.20 L603.12,336.20 L603.32,336.21 L603.53,336.21 L603.74,336.22 L603.95,336.22 L604.15,336.23 L604.36,336.23 L604.57,336.23 L604.78,336.24 L604.99,336.24 L605.19,336.25 L605.40,336.25 L605.61,336.26 L605.82,336.26 L606.02,336.26 L606.23,336.27 L606.44,336.27 L606.65,336.27 L606.86,336.28 L607.06,336.28 L607.27,336.29 L607.48,336.29 L607.69,336.30 L607.89,336.30 L608.10,336.31 L608.31,336.32 L608.52,336.32 L608.73,336.33 L608.93,336.33 L609.14,336.34 L609.35,336.34 L609.56,336.35 L609.76,336.36 L609.97,336.36 L610.18,336.37 L610.39,336.37 L610.60,336.38 L610.80,336.38 L611.01,336.39 L611.22,336.39 L611.43,336.40 L611.63,336.40 L611.84,336.41 L612.05,336.41 L612.26,336.42 L612.47,336.42 L612.67,336.42 L612.88,336.43 L613.09,336.43 L613.30,336.44 L613.50,336.44 L613.71,336.45 L613.92,336.45 L614.13,336.45 L614.34,336.46 L614.54,336.46 L614.75,336.47 L614.96,336.47 L615.17,336.47 L615.37,336.48 L615.58,336.48 L615.79,336.49 L616.00,336.49 L616.21,336.49 L616.41,336.50 L616.62,336.50 L616.83,336.50 L617.04,336.51 L617.24,336.51 L617.45,336.52 L617.66,336.52 L617.87,336.52 L618.08,336.53 L618.28,336.53 L618.49,336.53 L618.70,336.54 L618.91,336.54 L619.11,336.54 L619.32,336.54 L619.53,336.55 L619.74,336.55 L619.95,336.55 L620.15,336.56 L620.36,336.56 L620.57,336.56 L620.78,336.57 L620.98,336.57 L621.19,336.57 L621.40,336.57 L621.61,336.58 L621.82,336.58 L622.02,336.58 L622.23,336.59 L622.44,336.59 L622.65,336.59 L622.85,336.59 L623.06,336.60 L623.27,336.60 L623.48,336.60 L623.69,336.60 L623.89,336.61 L624.10,336.61 L624.31,336.61 L624.52,336.61 L624.72,336.62 L624.93,336.62 L625.14,336.62 L625.35,336.62 L625.56,336.63 L625.76,336.63 L625.97,336.63 L626.18,336.63 L626.39,336.63 L626.59,336.64 L626.80,336.64 L627.01,336.64 L627.22,336.64 L627.43,336.64 L627.63,336.65 L627.84,336.65 L628.05,336.65 L628.26,336.65 L628.46,336.66 L628.67,336.66 L628.88,336.66 L629.09,336.66 L629.30,336.66 L629.50,336.66 L629.71,336.67 L629.92,336.67 L630.13,336.67 L630.33,336.67 L630.54,336.67 L630.75,336.68 L630.96,336.68 L631.17,336.68 L631.37,336.68 L631.58,336.68 L631.79,336.68 L632.00,336.69 L632.20,336.69 L632.41,336.69 L632.62,336.69 L632.83,336.69 L633.04,336.70 L633.24,336.70 L633.45,336.70 L633.66,336.70 L633.87,336.70 L634.07,336.70 L634.28,336.70 L634.49,336.71 L634.70,336.71 L634.91,336.71 L635.11,336.71 L635.32,336.71 L635.53,336.71 L635.74,336.72 L635.94,336.72 L636.15,336.72 L636.36,336.72 L636.57,336.72 L636.78,336.72 L636.98,336.72 L637.19,336.73 L637.40,336.73 L637.61,336.73 L637.81,336.73 L638.02,336.73 L638.23,336.73 L638.44,336.73 L638.65,336.73 L638.85,336.74 L639.06,336.74 L639.27,336.74 L639.48,336.74 L639.68,336.74 L639.89,336.74 L640.10,336.74 L640.31,336.74 L640.52,336.75 L640.72,336.75 L640.93,336.75 L641.14,336.75 L641.35,336.75 L641.55,336.75 L641.76,336.75 L641.97,336.75 L642.18,336.76 L642.39,336.76 L642.59,336.76 L642.80,336.76 L643.01,336.76 L643.22,336.76 L643.42,336.76 L643.63,336.76 L643.84,336.76 L644.05,336.77 L644.26,336.77 L644.46,336.77 L644.67,336.77 L644.88,336.77 L645.09,336.77 L645.29,336.77 L645.50,336.77 L645.71,336.77 L645.92,336.77 L646.13,336.78 L646.33,336.78 L646.54,336.78 L646.75,336.78 L646.96,336.78 L647.16,336.78 L647.37,336.78 L647.58,336.78 L647.79,336.78 L648.00,336.78 L648.20,336.78 L648.41,336.79 L648.62,336.79 L648.83,336.79 L649.03,336.79 L649.24,336.79 L649.45,336.79 L649.66,336.79 L649.87,336.79 L650.07,336.79 L650.28,336.79 L650.49,336.79 L650.70,336.80 L650.90,336.80 L651.11,336.80 L651.32,336.80 L651.53,336.80 L651.74,336.80 L651.94,336.80 L652.15,336.80 L652.36,336.80 L652.57,336.80 L652.77,336.80 L652.98,336.80 L653.19,336.81 L653.40,336.81 L653.61,336.81 L653.81,336.81 L654.02,336.81 L654.23,336.81 L654.44,336.81 L654.64,336.81 L654.85,336.81 L655.06,336.81 L655.27,336.81 L655.48,336.81 L655.68,336.81 L655.89,336.81 L656.10,336.82 L656.31,336.82 L656.51,336.82 L656.72,336.82 L656.93,336.82 L657.14,336.82 L657.35,336.82 L657.55,336.82 L657.76,336.82 L657.97,336.82 L658.18,336.82 L658.38,336.82 L658.59,336.82 L658.80,336.82 L659.01,336.82 L659.22,336.83 L659.42,336.83 L659.63,336.83 L659.84,336.83 L660.05,336.83 L660.25,336.83 L660.46,336.83 L660.67,336.83 L660.88,336.83 L661.09,336.83 L661.29,336.83 L661.50,336.83 L661.71,336.83 L661.92,336.83 L662.12,336.83 L662.33,336.83 L662.54,336.84 L662.75,336.84 L662.96,336.84 L663.16,336.84 L663.37,336.84 L663.58,336.84 L663.79,336.84 L663.99,336.84 L664.20,336.84 L664.41,336.84 L664.62,336.84 L664.83,336.84 L665.03,336.84 L665.24,336.84 L665.45,336.84 L665.66,336.84 L665.86,336.84 L666.07,336.84 L666.28,336.85 L666.49,336.85 L666.70,336.85 L666.90,336.85 L667.11,336.85 L667.32,336.85 L667.53,336.85 L667.73,336.85 L667.94,336.85 L668.15,336.85 L668.36,336.85 L668.57,336.85 L668.77,336.85 L668.98,336.85 L669.19,336.85 L669.40,336.85 L669.60,336.85 L669.81,336.85 L670.02,336.85 L670.23,336.85 L670.44,336.85 L670.64,336.86 L670.85,336.86 L671.06,336.86 L671.27,336.86 L671.47,336.86 L671.68,336.86 L671.89,336.86 L672.10,336.86 L672.31,336.86 L672.51,336.86 L672.72,336.86 L672.93,336.86 L673.14,336.86 L673.34,336.86 L673.55,336.86 L673.76,336.86 L673.97,336.86 L674.18,336.86 L674.38,336.86 L674.59,336.86 L674.80,336.86 L675.01,336.86 L675.21,336.86 L675.42,336.87 L675.63,336.87 L675.84,336.87 L676.05,336.87 L676.25,336.87 L676.46,336.87 L676.67,336.87 L676.88,336.87 L677.08,336.87 L677.29,336.87 L677.50,336.87" fill="none" stroke="#df4c76" stroke-width="1.30"/><line x1="532.10" y1="218.60" x2="563.60" y2="218.60" stroke="#a0a0a0" stroke-width="0.90"/><line x1="538.30" y1="219.50" x2="538.30" y2="324.50" stroke="#8c8c8c" stroke-width="0.80"/><path d="M538.3,219.3 l-1.6,3.2 h3.2 Z" fill="#8c8c8c"/><path d="M538.3,324.8 l-1.6,-3.2 h3.2 Z" fill="#8c8c8c"/><line x1="532.50" y1="325.30" x2="552.50" y2="325.30" stroke="#a8a8a8" stroke-width="0.90"/><line x1="595.10" y1="212.30" x2="626.90" y2="212.30" stroke="#a0a0a0" stroke-width="0.90"/><line x1="621.00" y1="213.50" x2="621.00" y2="313.80" stroke="#d0d0d0" stroke-width="1.30"/><path d="M621,214.3 l-1.4,2.8 h2.8 Z" fill="#909090"/><path d="M621,313.8 l-1.4,-2.8 h2.8 Z" fill="#909090"/><line x1="558.00" y1="314.80" x2="626.70" y2="314.80" stroke="#c8c8c8" stroke-width="1.30"/><text x="514.30" y="276.60" font-size="8.30" text-anchor="start" fill="#df4c76">~ 9.8</text><text x="626.80" y="266.60" font-size="8.30" text-anchor="start" fill="#24538a">~ 5.5</text><text x="504.60" y="213.10" font-size="9.07" fill="#df4c76">&#916;</text><text x="511.86" y="215.12" font-size="6.72" fill="#df4c76">ac</text><text x="521.01" y="213.10" font-size="8.40" fill="#df4c76">= 1.4eV</text><text x="626.70" y="224.50" font-size="9.07" fill="#24538a">&#916;</text><text x="633.96" y="226.52" font-size="6.72" fill="#24538a">ac</text><text x="643.11" y="224.50" font-size="8.40" fill="#24538a">= 0.6eV</text></svg></body></html>
